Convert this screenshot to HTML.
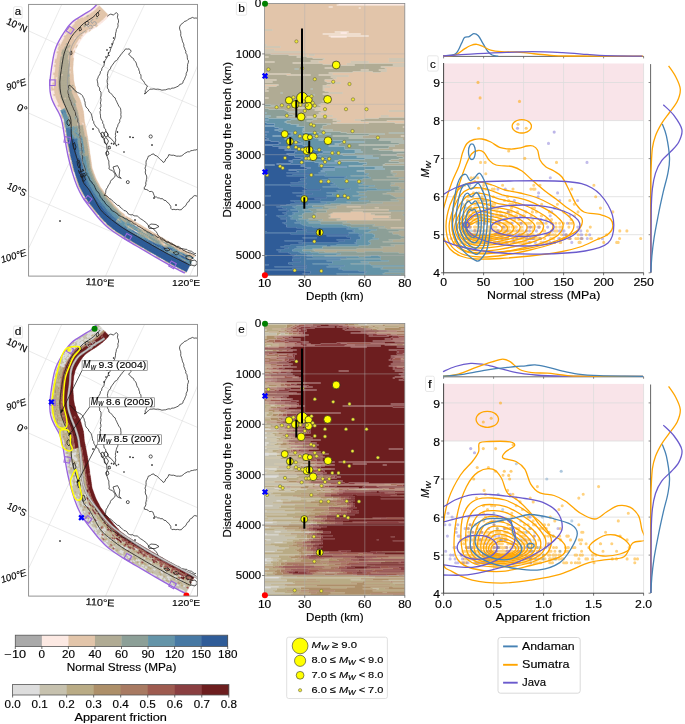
<!DOCTYPE html><html><head><meta charset="utf-8"><style>html,body{margin:0;padding:0;background:#fff;overflow:hidden;width:685px;height:724px;}svg{display:block;will-change:transform;}text{font-family:"Liberation Sans", sans-serif;stroke:#000;stroke-width:0.15px;paint-order:stroke;}</style></head><body>
<svg width="685" height="724" viewBox="0 0 685 724">
<rect width="685" height="724" fill="#fff"/>
<g transform="translate(264.6,3.5) scale(2.00286,0.99926)">
<path fill="#fce9e3" d="M37 0h33v1.1h-33zM36 1h34v1.1h-34zM32 3h2v1.1h-2zM47 4h1v1.1h-1zM35 28h7v1.1h-7zM38 29h3v1.1h-3zM29 30h19v1.1h-19zM32 32h20v1.1h-20zM33 33h8v1.1h-8z"/>
<path fill="#e2c5aa" d="M0 0h37v1.1h-37zM0 1h36v1.1h-36zM0 2h70v1.1h-70zM0 3h32v1.1h-32zM34 3h36v1.1h-36zM0 4h47v1.1h-47zM48 4h22v1.1h-22zM0 5h70v1.1h-70zM0 6h70v1.1h-70zM0 7h70v1.1h-70zM0 8h70v1.1h-70zM0 9h70v1.1h-70zM0 10h70v1.1h-70zM0 11h70v1.1h-70zM0 12h70v1.1h-70zM0 13h70v1.1h-70zM0 14h70v1.1h-70zM0 15h70v1.1h-70zM0 16h70v1.1h-70zM0 17h70v1.1h-70zM0 18h70v1.1h-70zM0 19h70v1.1h-70zM0 20h70v1.1h-70zM0 21h70v1.1h-70zM0 22h70v1.1h-70zM0 23h70v1.1h-70zM0 24h70v1.1h-70zM0 25h70v1.1h-70zM4 26h66v1.1h-66zM0 27h70v1.1h-70zM0 28h35v1.1h-35zM42 28h28v1.1h-28zM0 29h38v1.1h-38zM41 29h29v1.1h-29zM0 30h29v1.1h-29zM48 30h22v1.1h-22zM0 31h70v1.1h-70zM0 32h32v1.1h-32zM52 32h18v1.1h-18zM0 33h33v1.1h-33zM41 33h29v1.1h-29zM0 34h70v1.1h-70zM0 35h70v1.1h-70zM0 36h70v1.1h-70zM0 37h70v1.1h-70zM0 38h70v1.1h-70zM0 39h70v1.1h-70zM0 40h70v1.1h-70zM1 41h69v1.1h-69zM0 42h70v1.1h-70zM8 43h62v1.1h-62zM0 44h70v1.1h-70zM0 45h70v1.1h-70zM5 46h65v1.1h-65zM0 47h70v1.1h-70zM20 48h50v1.1h-50zM0 49h70v1.1h-70zM3 50h67v1.1h-67zM12 51h8v1.1h-8zM21 51h1v1.1h-1zM25 51h45v1.1h-45zM19 52h51v1.1h-51zM0 53h2v1.1h-2zM16 53h2v1.1h-2zM21 53h49v1.1h-49zM24 54h46v1.1h-46zM30 55h32v1.1h-32zM29 56h41v1.1h-41zM23 57h39v1.1h-39zM0 58h5v1.1h-5zM27 58h16v1.1h-16zM52 58h18v1.1h-18zM14 59h56v1.1h-56zM29 60h12v1.1h-12zM36 61h9v1.1h-9zM64 61h6v1.1h-6zM58 63h12v1.1h-12zM30 64h5v1.1h-5zM60 64h10v1.1h-10zM61 65h9v1.1h-9zM48 66h4v1.1h-4zM57 66h13v1.1h-13zM61 67h9v1.1h-9zM44 68h10v1.1h-10zM58 68h12v1.1h-12zM0 69h2v1.1h-2zM32 69h38v1.1h-38zM0 70h13v1.1h-13zM34 70h36v1.1h-36zM11 71h12v1.1h-12zM27 71h43v1.1h-43zM42 72h28v1.1h-28zM33 73h37v1.1h-37zM36 74h34v1.1h-34zM34 75h36v1.1h-36zM0 76h6v1.1h-6zM30 76h40v1.1h-40zM30 77h40v1.1h-40zM0 78h4v1.1h-4zM31 78h39v1.1h-39zM38 79h32v1.1h-32zM33 80h37v1.1h-37zM0 81h7v1.1h-7zM31 81h39v1.1h-39zM0 82h6v1.1h-6zM29 82h41v1.1h-41zM33 83h37v1.1h-37zM0 84h2v1.1h-2zM29 84h41v1.1h-41zM0 85h1v1.1h-1zM30 85h40v1.1h-40zM29 86h41v1.1h-41zM0 87h2v1.1h-2zM30 87h40v1.1h-40zM32 88h38v1.1h-38zM39 89h31v1.1h-31zM29 90h41v1.1h-41zM32 91h38v1.1h-38zM32 92h38v1.1h-38zM31 93h39v1.1h-39zM0 94h2v1.1h-2zM31 94h39v1.1h-39zM32 95h38v1.1h-38zM30 96h40v1.1h-40zM29 97h41v1.1h-41zM31 98h39v1.1h-39zM32 99h38v1.1h-38zM28 100h42v1.1h-42zM27 101h43v1.1h-43zM28 102h42v1.1h-42zM28 103h42v1.1h-42zM14 104h56v1.1h-56zM27 105h43v1.1h-43zM25 106h45v1.1h-45zM28 107h34v1.1h-34zM31 108h39v1.1h-39zM27 109h43v1.1h-43zM28 110h42v1.1h-42zM25 111h45v1.1h-45zM34 112h24v1.1h-24zM62 112h8v1.1h-8zM21 113h49v1.1h-49zM31 114h26v1.1h-26zM36 115h14v1.1h-14zM34 116h11v1.1h-11zM38 117h10v1.1h-10zM61 117h9v1.1h-9zM36 118h34v1.1h-34zM34 119h18v1.1h-18zM65 119h5v1.1h-5zM69 123h1v1.1h-1zM68 132h2v1.1h-2zM64 146h6v1.1h-6zM41 203h7v1.1h-7zM55 204h2v1.1h-2zM44 206h18v1.1h-18zM43 208h6v1.1h-6zM34 209h29v1.1h-29zM33 210h20v1.1h-20zM32 211h23v1.1h-23zM33 212h30v1.1h-30zM33 213h29v1.1h-29zM32 214h31v1.1h-31zM38 215h16v1.1h-16zM36 216h32v1.1h-32zM63 224h7v1.1h-7z"/>
<path fill="#b0ab94" d="M0 26h4v1.1h-4zM0 41h1v1.1h-1zM0 43h8v1.1h-8zM0 46h5v1.1h-5zM0 48h20v1.1h-20zM0 50h3v1.1h-3zM0 51h12v1.1h-12zM20 51h1v1.1h-1zM22 51h3v1.1h-3zM0 52h19v1.1h-19zM2 53h14v1.1h-14zM18 53h3v1.1h-3zM0 54h24v1.1h-24zM0 55h30v1.1h-30zM62 55h8v1.1h-8zM0 56h29v1.1h-29zM0 57h23v1.1h-23zM62 57h8v1.1h-8zM5 58h22v1.1h-22zM43 58h9v1.1h-9zM0 59h14v1.1h-14zM0 60h29v1.1h-29zM41 60h29v1.1h-29zM0 61h36v1.1h-36zM45 61h19v1.1h-19zM0 62h70v1.1h-70zM0 63h58v1.1h-58zM0 64h30v1.1h-30zM35 64h25v1.1h-25zM0 65h15v1.1h-15zM17 65h44v1.1h-44zM0 66h48v1.1h-48zM52 66h5v1.1h-5zM0 67h61v1.1h-61zM0 68h44v1.1h-44zM54 68h4v1.1h-4zM2 69h30v1.1h-30zM13 70h21v1.1h-21zM0 71h11v1.1h-11zM23 71h4v1.1h-4zM0 72h42v1.1h-42zM0 73h33v1.1h-33zM0 74h36v1.1h-36zM0 75h34v1.1h-34zM6 76h24v1.1h-24zM0 77h30v1.1h-30zM4 78h27v1.1h-27zM0 79h38v1.1h-38zM0 80h33v1.1h-33zM7 81h24v1.1h-24zM6 82h23v1.1h-23zM0 83h33v1.1h-33zM2 84h27v1.1h-27zM1 85h22v1.1h-22zM24 85h6v1.1h-6zM0 86h29v1.1h-29zM2 87h28v1.1h-28zM0 88h32v1.1h-32zM0 89h8v1.1h-8zM9 89h30v1.1h-30zM0 90h29v1.1h-29zM0 91h19v1.1h-19zM25 91h7v1.1h-7zM0 92h32v1.1h-32zM0 93h31v1.1h-31zM2 94h29v1.1h-29zM0 95h32v1.1h-32zM0 96h30v1.1h-30zM0 97h29v1.1h-29zM0 98h31v1.1h-31zM0 99h32v1.1h-32zM0 100h28v1.1h-28zM3 101h24v1.1h-24zM7 102h21v1.1h-21zM0 103h28v1.1h-28zM0 104h14v1.1h-14zM2 105h25v1.1h-25zM10 106h15v1.1h-15zM11 107h17v1.1h-17zM62 107h8v1.1h-8zM17 108h14v1.1h-14zM12 109h15v1.1h-15zM12 110h16v1.1h-16zM14 111h11v1.1h-11zM19 112h15v1.1h-15zM58 112h4v1.1h-4zM6 113h15v1.1h-15zM11 114h20v1.1h-20zM57 114h13v1.1h-13zM26 115h10v1.1h-10zM50 115h20v1.1h-20zM24 116h10v1.1h-10zM45 116h25v1.1h-25zM21 117h17v1.1h-17zM48 117h13v1.1h-13zM23 118h13v1.1h-13zM23 119h11v1.1h-11zM52 119h13v1.1h-13zM33 120h37v1.1h-37zM31 121h39v1.1h-39zM29 122h41v1.1h-41zM29 123h40v1.1h-40zM29 124h41v1.1h-41zM28 125h42v1.1h-42zM34 126h36v1.1h-36zM30 127h40v1.1h-40zM38 128h32v1.1h-32zM41 129h21v1.1h-21zM60 130h10v1.1h-10zM52 131h18v1.1h-18zM34 132h34v1.1h-34zM49 133h21v1.1h-21zM42 134h28v1.1h-28zM69 135h1v1.1h-1zM57 136h13v1.1h-13zM63 138h7v1.1h-7zM67 140h3v1.1h-3zM47 141h23v1.1h-23zM65 142h5v1.1h-5zM62 143h8v1.1h-8zM62 144h8v1.1h-8zM54 145h16v1.1h-16zM57 146h7v1.1h-7zM64 147h6v1.1h-6zM66 150h4v1.1h-4zM58 151h12v1.1h-12zM66 152h4v1.1h-4zM69 153h1v1.1h-1zM67 155h3v1.1h-3zM63 156h7v1.1h-7zM62 157h8v1.1h-8zM67 158h3v1.1h-3zM60 160h10v1.1h-10zM59 161h11v1.1h-11zM63 167h7v1.1h-7zM64 168h6v1.1h-6zM63 169h7v1.1h-7zM66 170h4v1.1h-4zM64 171h6v1.1h-6zM65 172h5v1.1h-5zM61 173h9v1.1h-9zM67 175h3v1.1h-3zM54 176h16v1.1h-16zM63 179h7v1.1h-7zM65 180h5v1.1h-5zM63 181h7v1.1h-7zM63 182h7v1.1h-7zM67 183h3v1.1h-3zM68 184h2v1.1h-2zM67 185h3v1.1h-3zM65 187h5v1.1h-5zM69 188h1v1.1h-1zM61 189h9v1.1h-9zM59 190h11v1.1h-11zM63 191h7v1.1h-7zM64 192h6v1.1h-6zM65 193h5v1.1h-5zM66 195h4v1.1h-4zM63 196h7v1.1h-7zM67 197h3v1.1h-3zM53 198h17v1.1h-17zM59 199h11v1.1h-11zM51 200h19v1.1h-19zM38 201h32v1.1h-32zM36 202h34v1.1h-34zM30 203h11v1.1h-11zM48 203h22v1.1h-22zM36 204h19v1.1h-19zM57 204h13v1.1h-13zM32 205h38v1.1h-38zM26 206h18v1.1h-18zM62 206h8v1.1h-8zM31 207h31v1.1h-31zM31 208h12v1.1h-12zM49 208h21v1.1h-21zM26 209h8v1.1h-8zM63 209h7v1.1h-7zM25 210h8v1.1h-8zM53 210h17v1.1h-17zM26 211h6v1.1h-6zM55 211h14v1.1h-14zM24 212h9v1.1h-9zM63 212h7v1.1h-7zM26 213h7v1.1h-7zM62 213h8v1.1h-8zM24 214h8v1.1h-8zM63 214h7v1.1h-7zM22 215h16v1.1h-16zM54 215h16v1.1h-16zM29 216h7v1.1h-7zM68 216h2v1.1h-2zM27 217h43v1.1h-43zM41 218h29v1.1h-29zM39 219h31v1.1h-31zM43 220h27v1.1h-27zM55 221h15v1.1h-15zM54 222h16v1.1h-16zM60 223h10v1.1h-10zM57 224h6v1.1h-6zM61 225h9v1.1h-9zM67 227h3v1.1h-3zM62 228h8v1.1h-8zM64 229h6v1.1h-6zM64 230h6v1.1h-6zM67 231h3v1.1h-3zM68 232h2v1.1h-2zM68 235h2v1.1h-2zM62 236h8v1.1h-8zM64 237h6v1.1h-6zM59 238h11v1.1h-11zM63 241h7v1.1h-7zM65 242h5v1.1h-5zM58 243h12v1.1h-12zM59 244h11v1.1h-11zM46 245h24v1.1h-24zM24 246h46v1.1h-46zM25 247h45v1.1h-45zM30 248h6v1.1h-6zM46 248h4v1.1h-4zM59 248h11v1.1h-11zM67 249h3v1.1h-3z"/>
<path fill="#8c9f97" d="M15 65h2v1.1h-2zM23 85h1v1.1h-1zM8 89h1v1.1h-1zM19 91h6v1.1h-6zM0 101h3v1.1h-3zM0 102h7v1.1h-7zM0 105h2v1.1h-2zM0 106h10v1.1h-10zM0 107h11v1.1h-11zM0 108h17v1.1h-17zM1 109h11v1.1h-11zM0 110h12v1.1h-12zM0 111h14v1.1h-14zM3 112h16v1.1h-16zM0 113h6v1.1h-6zM2 114h9v1.1h-9zM17 115h9v1.1h-9zM13 116h11v1.1h-11zM11 117h10v1.1h-10zM10 118h13v1.1h-13zM11 119h12v1.1h-12zM13 120h20v1.1h-20zM17 121h14v1.1h-14zM16 122h13v1.1h-13zM20 123h9v1.1h-9zM20 124h9v1.1h-9zM19 125h9v1.1h-9zM20 126h14v1.1h-14zM19 127h11v1.1h-11zM19 128h19v1.1h-19zM27 129h14v1.1h-14zM62 129h8v1.1h-8zM33 130h27v1.1h-27zM27 131h25v1.1h-25zM18 132h16v1.1h-16zM24 133h25v1.1h-25zM25 134h17v1.1h-17zM32 135h37v1.1h-37zM27 136h30v1.1h-30zM40 137h30v1.1h-30zM50 138h13v1.1h-13zM38 139h32v1.1h-32zM35 140h32v1.1h-32zM37 141h10v1.1h-10zM32 142h33v1.1h-33zM40 143h22v1.1h-22zM40 144h22v1.1h-22zM40 145h14v1.1h-14zM48 146h9v1.1h-9zM45 147h19v1.1h-19zM49 148h21v1.1h-21zM45 149h25v1.1h-25zM37 150h29v1.1h-29zM39 151h19v1.1h-19zM54 152h12v1.1h-12zM46 153h23v1.1h-23zM57 154h13v1.1h-13zM50 155h17v1.1h-17zM37 156h26v1.1h-26zM35 157h27v1.1h-27zM47 158h20v1.1h-20zM51 159h19v1.1h-19zM51 160h9v1.1h-9zM49 161h10v1.1h-10zM42 162h28v1.1h-28zM59 163h11v1.1h-11zM55 164h15v1.1h-15zM60 165h10v1.1h-10zM50 166h20v1.1h-20zM46 167h17v1.1h-17zM50 168h14v1.1h-14zM50 169h13v1.1h-13zM52 170h14v1.1h-14zM51 171h13v1.1h-13zM43 172h22v1.1h-22zM52 173h9v1.1h-9zM53 174h17v1.1h-17zM49 175h18v1.1h-18zM40 176h14v1.1h-14zM47 177h23v1.1h-23zM46 178h24v1.1h-24zM50 179h13v1.1h-13zM49 180h16v1.1h-16zM47 181h16v1.1h-16zM55 182h8v1.1h-8zM52 183h15v1.1h-15zM47 184h21v1.1h-21zM56 185h11v1.1h-11zM63 186h7v1.1h-7zM51 187h14v1.1h-14zM46 188h23v1.1h-23zM47 189h14v1.1h-14zM50 190h9v1.1h-9zM47 191h16v1.1h-16zM44 192h20v1.1h-20zM51 193h14v1.1h-14zM48 194h22v1.1h-22zM47 195h19v1.1h-19zM47 196h16v1.1h-16zM52 197h15v1.1h-15zM41 198h12v1.1h-12zM43 199h16v1.1h-16zM33 200h18v1.1h-18zM30 201h8v1.1h-8zM24 202h12v1.1h-12zM24 203h6v1.1h-6zM29 204h7v1.1h-7zM22 205h10v1.1h-10zM19 206h7v1.1h-7zM23 207h8v1.1h-8zM62 207h8v1.1h-8zM24 208h7v1.1h-7zM20 209h6v1.1h-6zM19 210h6v1.1h-6zM19 211h7v1.1h-7zM69 211h1v1.1h-1zM17 212h7v1.1h-7zM19 213h7v1.1h-7zM19 214h5v1.1h-5zM17 215h5v1.1h-5zM22 216h7v1.1h-7zM21 217h6v1.1h-6zM28 218h13v1.1h-13zM22 219h17v1.1h-17zM28 220h15v1.1h-15zM39 221h16v1.1h-16zM41 222h13v1.1h-13zM43 223h17v1.1h-17zM52 224h5v1.1h-5zM47 225h14v1.1h-14zM56 226h14v1.1h-14zM53 227h14v1.1h-14zM52 228h10v1.1h-10zM50 229h14v1.1h-14zM54 230h10v1.1h-10zM55 231h12v1.1h-12zM55 232h13v1.1h-13zM55 233h15v1.1h-15zM54 234h16v1.1h-16zM57 235h11v1.1h-11zM53 236h9v1.1h-9zM52 237h12v1.1h-12zM52 238h7v1.1h-7zM53 239h17v1.1h-17zM53 240h17v1.1h-17zM52 241h11v1.1h-11zM47 242h18v1.1h-18zM29 243h29v1.1h-29zM29 244h30v1.1h-30zM24 245h22v1.1h-22zM19 246h5v1.1h-5zM19 247h6v1.1h-6zM23 248h7v1.1h-7zM36 248h10v1.1h-10zM50 248h9v1.1h-9zM27 249h40v1.1h-40zM38 250h32v1.1h-32zM36 251h34v1.1h-34zM30 252h23v1.1h-23zM57 252h13v1.1h-13zM47 253h3v1.1h-3zM58 253h12v1.1h-12zM58 254h12v1.1h-12zM38 255h32v1.1h-32zM58 256h12v1.1h-12zM62 257h8v1.1h-8zM48 258h22v1.1h-22zM52 259h18v1.1h-18zM43 260h27v1.1h-27zM53 261h17v1.1h-17zM54 263h16v1.1h-16zM59 264h11v1.1h-11zM58 265h12v1.1h-12zM62 267h8v1.1h-8zM60 269h10v1.1h-10zM59 270h11v1.1h-11zM68 271h2v1.1h-2z"/>
<path fill="#6494a8" d="M0 109h1v1.1h-1zM0 112h3v1.1h-3zM0 114h2v1.1h-2zM0 115h17v1.1h-17zM2 116h11v1.1h-11zM0 117h11v1.1h-11zM0 118h10v1.1h-10zM1 119h10v1.1h-10zM5 120h8v1.1h-8zM5 121h12v1.1h-12zM0 122h16v1.1h-16zM5 123h15v1.1h-15zM7 124h13v1.1h-13zM9 125h10v1.1h-10zM5 126h15v1.1h-15zM7 127h12v1.1h-12zM9 128h10v1.1h-10zM14 129h13v1.1h-13zM13 130h20v1.1h-20zM14 131h13v1.1h-13zM4 132h14v1.1h-14zM10 133h14v1.1h-14zM12 134h13v1.1h-13zM10 135h22v1.1h-22zM13 136h14v1.1h-14zM17 137h23v1.1h-23zM18 138h32v1.1h-32zM19 139h19v1.1h-19zM15 140h20v1.1h-20zM19 141h18v1.1h-18zM21 142h11v1.1h-11zM21 143h19v1.1h-19zM21 144h19v1.1h-19zM22 145h18v1.1h-18zM25 146h23v1.1h-23zM29 147h16v1.1h-16zM35 148h14v1.1h-14zM29 149h16v1.1h-16zM27 150h10v1.1h-10zM25 151h14v1.1h-14zM25 152h29v1.1h-29zM28 153h18v1.1h-18zM31 154h26v1.1h-26zM31 155h19v1.1h-19zM22 156h15v1.1h-15zM20 157h15v1.1h-15zM25 158h22v1.1h-22zM37 159h14v1.1h-14zM27 160h24v1.1h-24zM28 161h21v1.1h-21zM27 162h15v1.1h-15zM41 163h18v1.1h-18zM35 164h20v1.1h-20zM29 165h31v1.1h-31zM35 166h15v1.1h-15zM28 167h18v1.1h-18zM30 168h20v1.1h-20zM27 169h23v1.1h-23zM31 170h21v1.1h-21zM25 171h26v1.1h-26zM30 172h13v1.1h-13zM41 173h11v1.1h-11zM40 174h13v1.1h-13zM32 175h17v1.1h-17zM28 176h12v1.1h-12zM33 177h14v1.1h-14zM28 178h18v1.1h-18zM34 179h16v1.1h-16zM35 180h14v1.1h-14zM33 181h14v1.1h-14zM36 182h19v1.1h-19zM29 183h23v1.1h-23zM37 184h10v1.1h-10zM43 185h13v1.1h-13zM40 186h23v1.1h-23zM36 187h15v1.1h-15zM37 188h9v1.1h-9zM31 189h16v1.1h-16zM34 190h16v1.1h-16zM34 191h13v1.1h-13zM31 192h13v1.1h-13zM41 193h10v1.1h-10zM41 194h7v1.1h-7zM36 195h11v1.1h-11zM36 196h11v1.1h-11zM35 197h17v1.1h-17zM28 198h13v1.1h-13zM31 199h12v1.1h-12zM22 200h11v1.1h-11zM22 201h8v1.1h-8zM16 202h8v1.1h-8zM14 203h10v1.1h-10zM15 204h14v1.1h-14zM16 205h6v1.1h-6zM13 206h6v1.1h-6zM17 207h6v1.1h-6zM17 208h7v1.1h-7zM14 209h6v1.1h-6zM15 210h4v1.1h-4zM14 211h5v1.1h-5zM12 212h5v1.1h-5zM13 213h6v1.1h-6zM14 214h5v1.1h-5zM13 215h4v1.1h-4zM16 216h6v1.1h-6zM16 217h5v1.1h-5zM18 218h10v1.1h-10zM15 219h7v1.1h-7zM18 220h10v1.1h-10zM19 221h20v1.1h-20zM21 222h20v1.1h-20zM24 223h19v1.1h-19zM42 224h10v1.1h-10zM41 225h6v1.1h-6zM45 226h11v1.1h-11zM44 227h9v1.1h-9zM45 228h7v1.1h-7zM42 229h8v1.1h-8zM47 230h7v1.1h-7zM49 231h6v1.1h-6zM47 232h8v1.1h-8zM48 233h7v1.1h-7zM48 234h6v1.1h-6zM48 235h9v1.1h-9zM46 236h7v1.1h-7zM46 237h6v1.1h-6zM46 238h6v1.1h-6zM45 239h8v1.1h-8zM46 240h7v1.1h-7zM36 241h16v1.1h-16zM21 242h10v1.1h-10zM33 242h14v1.1h-14zM16 243h13v1.1h-13zM19 244h10v1.1h-10zM15 245h9v1.1h-9zM14 246h5v1.1h-5zM14 247h5v1.1h-5zM17 248h6v1.1h-6zM18 249h9v1.1h-9zM21 250h17v1.1h-17zM24 251h12v1.1h-12zM21 252h9v1.1h-9zM53 252h4v1.1h-4zM24 253h23v1.1h-23zM50 253h8v1.1h-8zM41 254h17v1.1h-17zM21 255h17v1.1h-17zM38 256h20v1.1h-20zM31 257h31v1.1h-31zM34 258h14v1.1h-14zM34 259h18v1.1h-18zM24 260h19v1.1h-19zM32 261h21v1.1h-21zM40 262h30v1.1h-30zM31 263h23v1.1h-23zM38 264h21v1.1h-21zM37 265h21v1.1h-21zM39 266h31v1.1h-31zM47 267h15v1.1h-15zM51 268h19v1.1h-19zM50 269h10v1.1h-10zM36 270h23v1.1h-23zM42 271h26v1.1h-26z"/>
<path fill="#4779a4" d="M0 116h2v1.1h-2zM0 119h1v1.1h-1zM0 120h5v1.1h-5zM0 121h5v1.1h-5zM0 123h5v1.1h-5zM0 124h7v1.1h-7zM0 125h9v1.1h-9zM0 126h5v1.1h-5zM0 127h7v1.1h-7zM2 128h7v1.1h-7zM0 129h14v1.1h-14zM0 130h13v1.1h-13zM1 131h13v1.1h-13zM0 132h4v1.1h-4zM0 133h10v1.1h-10zM1 134h11v1.1h-11zM2 135h8v1.1h-8zM0 136h13v1.1h-13zM3 137h14v1.1h-14zM7 138h11v1.1h-11zM8 139h11v1.1h-11zM7 140h8v1.1h-8zM0 141h19v1.1h-19zM4 142h17v1.1h-17zM12 143h9v1.1h-9zM7 144h14v1.1h-14zM13 145h9v1.1h-9zM10 146h15v1.1h-15zM16 147h13v1.1h-13zM15 148h20v1.1h-20zM15 149h14v1.1h-14zM11 150h16v1.1h-16zM12 151h13v1.1h-13zM15 152h10v1.1h-10zM15 153h13v1.1h-13zM19 154h12v1.1h-12zM18 155h13v1.1h-13zM14 156h8v1.1h-8zM12 157h8v1.1h-8zM14 158h11v1.1h-11zM13 159h24v1.1h-24zM6 160h21v1.1h-21zM0 161h5v1.1h-5zM20 161h8v1.1h-8zM18 162h9v1.1h-9zM20 163h21v1.1h-21zM23 164h12v1.1h-12zM21 165h8v1.1h-8zM12 166h23v1.1h-23zM16 167h12v1.1h-12zM17 168h13v1.1h-13zM11 169h16v1.1h-16zM24 170h7v1.1h-7zM14 171h11v1.1h-11zM11 172h19v1.1h-19zM20 173h21v1.1h-21zM21 174h19v1.1h-19zM18 175h14v1.1h-14zM18 176h10v1.1h-10zM20 177h13v1.1h-13zM17 178h11v1.1h-11zM13 179h21v1.1h-21zM21 180h14v1.1h-14zM0 181h33v1.1h-33zM13 182h23v1.1h-23zM19 183h10v1.1h-10zM20 184h17v1.1h-17zM21 185h22v1.1h-22zM28 186h12v1.1h-12zM19 187h17v1.1h-17zM20 188h17v1.1h-17zM14 189h17v1.1h-17zM24 190h10v1.1h-10zM19 191h15v1.1h-15zM0 192h3v1.1h-3zM16 192h15v1.1h-15zM18 193h23v1.1h-23zM31 194h10v1.1h-10zM25 195h11v1.1h-11zM28 196h8v1.1h-8zM13 197h22v1.1h-22zM15 198h13v1.1h-13zM18 199h13v1.1h-13zM13 200h9v1.1h-9zM11 201h11v1.1h-11zM8 202h8v1.1h-8zM6 203h8v1.1h-8zM9 204h6v1.1h-6zM11 205h5v1.1h-5zM7 206h6v1.1h-6zM12 207h5v1.1h-5zM11 208h6v1.1h-6zM9 209h5v1.1h-5zM11 210h4v1.1h-4zM0 211h1v1.1h-1zM10 211h4v1.1h-4zM6 212h6v1.1h-6zM7 213h6v1.1h-6zM11 214h3v1.1h-3zM8 215h5v1.1h-5zM11 216h5v1.1h-5zM11 217h5v1.1h-5zM11 218h7v1.1h-7zM9 219h6v1.1h-6zM10 220h8v1.1h-8zM11 221h8v1.1h-8zM11 222h10v1.1h-10zM11 223h13v1.1h-13zM16 224h26v1.1h-26zM19 225h22v1.1h-22zM21 226h24v1.1h-24zM16 227h28v1.1h-28zM0 228h1v1.1h-1zM16 228h5v1.1h-5zM28 228h17v1.1h-17zM0 229h42v1.1h-42zM13 230h34v1.1h-34zM42 231h7v1.1h-7zM31 232h16v1.1h-16zM41 233h7v1.1h-7zM19 234h7v1.1h-7zM43 234h5v1.1h-5zM43 235h5v1.1h-5zM36 236h10v1.1h-10zM10 237h9v1.1h-9zM40 237h6v1.1h-6zM37 238h9v1.1h-9zM17 239h28v1.1h-28zM19 240h27v1.1h-27zM13 241h23v1.1h-23zM10 242h11v1.1h-11zM31 242h2v1.1h-2zM8 243h8v1.1h-8zM12 244h7v1.1h-7zM10 245h5v1.1h-5zM6 246h8v1.1h-8zM8 247h6v1.1h-6zM7 248h10v1.1h-10zM12 249h6v1.1h-6zM13 250h8v1.1h-8zM16 251h8v1.1h-8zM0 252h1v1.1h-1zM15 252h6v1.1h-6zM14 253h10v1.1h-10zM18 254h23v1.1h-23zM14 255h7v1.1h-7zM14 256h24v1.1h-24zM14 257h17v1.1h-17zM18 258h16v1.1h-16zM12 259h22v1.1h-22zM12 260h12v1.1h-12zM0 261h2v1.1h-2zM14 261h18v1.1h-18zM21 262h19v1.1h-19zM5 263h26v1.1h-26zM21 264h17v1.1h-17zM14 265h23v1.1h-23zM0 266h39v1.1h-39zM20 267h27v1.1h-27zM23 268h28v1.1h-28zM23 269h27v1.1h-27zM19 270h17v1.1h-17zM22 271h20v1.1h-20z"/>
<path fill="#2f5c98" d="M0 128h2v1.1h-2zM0 131h1v1.1h-1zM0 134h1v1.1h-1zM0 135h2v1.1h-2zM0 137h3v1.1h-3zM0 138h7v1.1h-7zM0 139h8v1.1h-8zM0 140h7v1.1h-7zM0 142h4v1.1h-4zM0 143h12v1.1h-12zM0 144h7v1.1h-7zM0 145h13v1.1h-13zM0 146h10v1.1h-10zM0 147h16v1.1h-16zM0 148h15v1.1h-15zM0 149h15v1.1h-15zM0 150h11v1.1h-11zM0 151h12v1.1h-12zM0 152h15v1.1h-15zM0 153h15v1.1h-15zM0 154h19v1.1h-19zM0 155h18v1.1h-18zM0 156h14v1.1h-14zM0 157h12v1.1h-12zM0 158h14v1.1h-14zM0 159h13v1.1h-13zM0 160h6v1.1h-6zM5 161h15v1.1h-15zM0 162h18v1.1h-18zM0 163h20v1.1h-20zM0 164h23v1.1h-23zM0 165h21v1.1h-21zM0 166h12v1.1h-12zM0 167h16v1.1h-16zM0 168h17v1.1h-17zM0 169h11v1.1h-11zM0 170h24v1.1h-24zM0 171h14v1.1h-14zM0 172h11v1.1h-11zM0 173h20v1.1h-20zM0 174h21v1.1h-21zM0 175h18v1.1h-18zM0 176h18v1.1h-18zM0 177h20v1.1h-20zM0 178h17v1.1h-17zM0 179h13v1.1h-13zM0 180h21v1.1h-21zM0 182h13v1.1h-13zM0 183h19v1.1h-19zM0 184h20v1.1h-20zM0 185h21v1.1h-21zM0 186h28v1.1h-28zM0 187h19v1.1h-19zM0 188h20v1.1h-20zM0 189h14v1.1h-14zM0 190h24v1.1h-24zM0 191h19v1.1h-19zM3 192h13v1.1h-13zM0 193h18v1.1h-18zM0 194h31v1.1h-31zM0 195h25v1.1h-25zM0 196h28v1.1h-28zM0 197h13v1.1h-13zM0 198h15v1.1h-15zM0 199h18v1.1h-18zM0 200h13v1.1h-13zM0 201h11v1.1h-11zM0 202h8v1.1h-8zM0 203h6v1.1h-6zM0 204h9v1.1h-9zM0 205h11v1.1h-11zM0 206h7v1.1h-7zM0 207h12v1.1h-12zM0 208h11v1.1h-11zM0 209h9v1.1h-9zM0 210h11v1.1h-11zM1 211h9v1.1h-9zM0 212h6v1.1h-6zM0 213h7v1.1h-7zM0 214h11v1.1h-11zM0 215h8v1.1h-8zM0 216h11v1.1h-11zM0 217h11v1.1h-11zM0 218h11v1.1h-11zM0 219h9v1.1h-9zM0 220h10v1.1h-10zM0 221h11v1.1h-11zM0 222h11v1.1h-11zM0 223h11v1.1h-11zM0 224h16v1.1h-16zM0 225h19v1.1h-19zM0 226h21v1.1h-21zM0 227h16v1.1h-16zM1 228h15v1.1h-15zM21 228h7v1.1h-7zM0 230h13v1.1h-13zM0 231h42v1.1h-42zM0 232h31v1.1h-31zM0 233h41v1.1h-41zM0 234h19v1.1h-19zM26 234h17v1.1h-17zM0 235h43v1.1h-43zM0 236h36v1.1h-36zM0 237h10v1.1h-10zM19 237h21v1.1h-21zM0 238h37v1.1h-37zM0 239h17v1.1h-17zM0 240h19v1.1h-19zM0 241h13v1.1h-13zM0 242h10v1.1h-10zM0 243h8v1.1h-8zM0 244h12v1.1h-12zM0 245h10v1.1h-10zM0 246h6v1.1h-6zM0 247h8v1.1h-8zM0 248h7v1.1h-7zM0 249h12v1.1h-12zM0 250h13v1.1h-13zM0 251h16v1.1h-16zM1 252h14v1.1h-14zM0 253h14v1.1h-14zM0 254h18v1.1h-18zM0 255h14v1.1h-14zM0 256h14v1.1h-14zM0 257h14v1.1h-14zM0 258h18v1.1h-18zM0 259h12v1.1h-12zM0 260h12v1.1h-12zM2 261h12v1.1h-12zM0 262h21v1.1h-21zM0 263h5v1.1h-5zM0 264h21v1.1h-21zM0 265h14v1.1h-14zM0 267h20v1.1h-20zM0 268h23v1.1h-23zM0 269h23v1.1h-23zM0 270h19v1.1h-19zM0 271h22v1.1h-22z"/>
</g>
<line x1="304.7" y1="3.5" x2="304.7" y2="275.3" stroke="#b0b0b0" stroke-opacity="0.55" stroke-width="0.8"/>
<line x1="364.8" y1="3.5" x2="364.8" y2="275.3" stroke="#b0b0b0" stroke-opacity="0.55" stroke-width="0.8"/>
<line x1="264.6" y1="53.9" x2="404.8" y2="53.9" stroke="#b0b0b0" stroke-opacity="0.55" stroke-width="0.8"/>
<line x1="264.6" y1="104.3" x2="404.8" y2="104.3" stroke="#b0b0b0" stroke-opacity="0.55" stroke-width="0.8"/>
<line x1="264.6" y1="154.7" x2="404.8" y2="154.7" stroke="#b0b0b0" stroke-opacity="0.55" stroke-width="0.8"/>
<line x1="264.6" y1="205.1" x2="404.8" y2="205.1" stroke="#b0b0b0" stroke-opacity="0.55" stroke-width="0.8"/>
<line x1="264.6" y1="255.5" x2="404.8" y2="255.5" stroke="#b0b0b0" stroke-opacity="0.55" stroke-width="0.8"/>
<circle cx="302.2" cy="97.9" r="5.6" fill="#ffff00" stroke="#222" stroke-width="0.7"/>
<circle cx="336.2" cy="65.0" r="3.9" fill="#ffff00" stroke="#222" stroke-width="0.7"/>
<circle cx="327.6" cy="99.4" r="3.9" fill="#ffff00" stroke="#222" stroke-width="0.7"/>
<circle cx="301.1" cy="116.9" r="3.9" fill="#ffff00" stroke="#222" stroke-width="0.7"/>
<circle cx="328" cy="140.7" r="3.9" fill="#ffff00" stroke="#222" stroke-width="0.7"/>
<circle cx="306.9" cy="150.7" r="3.9" fill="#ffff00" stroke="#222" stroke-width="0.7"/>
<circle cx="313.1" cy="156.8" r="3.9" fill="#ffff00" stroke="#222" stroke-width="0.7"/>
<circle cx="295.2" cy="104.4" r="3.8" fill="#ffff00" stroke="#222" stroke-width="0.7"/>
<circle cx="289" cy="100.3" r="3.6" fill="#ffff00" stroke="#222" stroke-width="0.7"/>
<circle cx="308.6" cy="99.7" r="3.6" fill="#ffff00" stroke="#222" stroke-width="0.7"/>
<circle cx="308.6" cy="106.1" r="3.6" fill="#ffff00" stroke="#222" stroke-width="0.7"/>
<circle cx="284.7" cy="134.1" r="3.5" fill="#ffff00" stroke="#222" stroke-width="0.7"/>
<circle cx="306" cy="137.2" r="3.5" fill="#ffff00" stroke="#222" stroke-width="0.7"/>
<circle cx="289.9" cy="141.4" r="3.5" fill="#ffff00" stroke="#222" stroke-width="0.7"/>
<circle cx="309.5" cy="149.8" r="3.5" fill="#ffff00" stroke="#222" stroke-width="0.7"/>
<circle cx="304.3" cy="199.1" r="3.5" fill="#ffff00" stroke="#222" stroke-width="0.7"/>
<circle cx="319.7" cy="232.4" r="3.5" fill="#ffff00" stroke="#222" stroke-width="0.7"/>
<circle cx="309.9" cy="137.2" r="2.5" fill="#ffff00" stroke="#222" stroke-width="0.7"/>
<circle cx="296.4" cy="41.4" r="1.65" fill="#eee63c" stroke="#4a4a30" stroke-opacity="0.75" stroke-width="0.6"/>
<circle cx="268.4" cy="69.4" r="1.65" fill="#eee63c" stroke="#4a4a30" stroke-opacity="0.75" stroke-width="0.6"/>
<circle cx="302.2" cy="68.2" r="1.65" fill="#eee63c" stroke="#4a4a30" stroke-opacity="0.75" stroke-width="0.6"/>
<circle cx="314.8" cy="79.2" r="1.65" fill="#eee63c" stroke="#4a4a30" stroke-opacity="0.75" stroke-width="0.6"/>
<circle cx="333.2" cy="81.8" r="1.65" fill="#eee63c" stroke="#4a4a30" stroke-opacity="0.75" stroke-width="0.6"/>
<circle cx="349.5" cy="84.0" r="1.65" fill="#eee63c" stroke="#4a4a30" stroke-opacity="0.75" stroke-width="0.6"/>
<circle cx="353" cy="99.4" r="1.65" fill="#eee63c" stroke="#4a4a30" stroke-opacity="0.75" stroke-width="0.6"/>
<circle cx="276.6" cy="107.2" r="1.65" fill="#eee63c" stroke="#4a4a30" stroke-opacity="0.75" stroke-width="0.6"/>
<circle cx="281.9" cy="105.3" r="1.65" fill="#eee63c" stroke="#4a4a30" stroke-opacity="0.75" stroke-width="0.6"/>
<circle cx="288.5" cy="106.9" r="1.65" fill="#eee63c" stroke="#4a4a30" stroke-opacity="0.75" stroke-width="0.6"/>
<circle cx="314.8" cy="105.7" r="1.65" fill="#eee63c" stroke="#4a4a30" stroke-opacity="0.75" stroke-width="0.6"/>
<circle cx="325" cy="109.2" r="1.65" fill="#eee63c" stroke="#4a4a30" stroke-opacity="0.75" stroke-width="0.6"/>
<circle cx="346" cy="109.2" r="1.65" fill="#eee63c" stroke="#4a4a30" stroke-opacity="0.75" stroke-width="0.6"/>
<circle cx="366.5" cy="109.2" r="1.65" fill="#eee63c" stroke="#4a4a30" stroke-opacity="0.75" stroke-width="0.6"/>
<circle cx="304.8" cy="110.9" r="1.65" fill="#eee63c" stroke="#4a4a30" stroke-opacity="0.75" stroke-width="0.6"/>
<circle cx="286.8" cy="115.7" r="1.65" fill="#eee63c" stroke="#4a4a30" stroke-opacity="0.75" stroke-width="0.6"/>
<circle cx="314.8" cy="116.0" r="1.65" fill="#eee63c" stroke="#4a4a30" stroke-opacity="0.75" stroke-width="0.6"/>
<circle cx="325" cy="116.5" r="1.65" fill="#eee63c" stroke="#4a4a30" stroke-opacity="0.75" stroke-width="0.6"/>
<circle cx="311" cy="124.4" r="1.65" fill="#eee63c" stroke="#4a4a30" stroke-opacity="0.75" stroke-width="0.6"/>
<circle cx="313.9" cy="125.6" r="1.65" fill="#eee63c" stroke="#4a4a30" stroke-opacity="0.75" stroke-width="0.6"/>
<circle cx="352.5" cy="131.1" r="1.65" fill="#eee63c" stroke="#4a4a30" stroke-opacity="0.75" stroke-width="0.6"/>
<circle cx="295.2" cy="132.7" r="1.65" fill="#eee63c" stroke="#4a4a30" stroke-opacity="0.75" stroke-width="0.6"/>
<circle cx="299.9" cy="136.2" r="1.65" fill="#eee63c" stroke="#4a4a30" stroke-opacity="0.75" stroke-width="0.6"/>
<circle cx="314.8" cy="132.8" r="1.65" fill="#eee63c" stroke="#4a4a30" stroke-opacity="0.75" stroke-width="0.6"/>
<circle cx="323.6" cy="132.7" r="1.65" fill="#eee63c" stroke="#4a4a30" stroke-opacity="0.75" stroke-width="0.6"/>
<circle cx="316.6" cy="136.2" r="1.65" fill="#eee63c" stroke="#4a4a30" stroke-opacity="0.75" stroke-width="0.6"/>
<circle cx="377.9" cy="137.6" r="1.65" fill="#eee63c" stroke="#4a4a30" stroke-opacity="0.75" stroke-width="0.6"/>
<circle cx="344.2" cy="141.9" r="1.65" fill="#eee63c" stroke="#4a4a30" stroke-opacity="0.75" stroke-width="0.6"/>
<circle cx="349.3" cy="146.0" r="1.65" fill="#eee63c" stroke="#4a4a30" stroke-opacity="0.75" stroke-width="0.6"/>
<circle cx="295.9" cy="142.3" r="1.65" fill="#eee63c" stroke="#4a4a30" stroke-opacity="0.75" stroke-width="0.6"/>
<circle cx="288.5" cy="147.2" r="1.65" fill="#eee63c" stroke="#4a4a30" stroke-opacity="0.75" stroke-width="0.6"/>
<circle cx="295.9" cy="147.2" r="1.65" fill="#eee63c" stroke="#4a4a30" stroke-opacity="0.75" stroke-width="0.6"/>
<circle cx="299" cy="149.0" r="1.65" fill="#eee63c" stroke="#4a4a30" stroke-opacity="0.75" stroke-width="0.6"/>
<circle cx="302.5" cy="149.5" r="1.65" fill="#eee63c" stroke="#4a4a30" stroke-opacity="0.75" stroke-width="0.6"/>
<circle cx="319.2" cy="149.8" r="1.65" fill="#eee63c" stroke="#4a4a30" stroke-opacity="0.75" stroke-width="0.6"/>
<circle cx="332.3" cy="153.0" r="1.65" fill="#eee63c" stroke="#4a4a30" stroke-opacity="0.75" stroke-width="0.6"/>
<circle cx="338.5" cy="153.0" r="1.65" fill="#eee63c" stroke="#4a4a30" stroke-opacity="0.75" stroke-width="0.6"/>
<circle cx="285" cy="157.9" r="1.65" fill="#eee63c" stroke="#4a4a30" stroke-opacity="0.75" stroke-width="0.6"/>
<circle cx="301.7" cy="162.3" r="1.65" fill="#eee63c" stroke="#4a4a30" stroke-opacity="0.75" stroke-width="0.6"/>
<circle cx="306" cy="158.4" r="1.65" fill="#eee63c" stroke="#4a4a30" stroke-opacity="0.75" stroke-width="0.6"/>
<circle cx="308.7" cy="158.4" r="1.65" fill="#eee63c" stroke="#4a4a30" stroke-opacity="0.75" stroke-width="0.6"/>
<circle cx="322.7" cy="158.8" r="1.65" fill="#eee63c" stroke="#4a4a30" stroke-opacity="0.75" stroke-width="0.6"/>
<circle cx="329.2" cy="158.8" r="1.65" fill="#eee63c" stroke="#4a4a30" stroke-opacity="0.75" stroke-width="0.6"/>
<circle cx="325" cy="161.9" r="1.65" fill="#eee63c" stroke="#4a4a30" stroke-opacity="0.75" stroke-width="0.6"/>
<circle cx="339.3" cy="162.8" r="1.65" fill="#eee63c" stroke="#4a4a30" stroke-opacity="0.75" stroke-width="0.6"/>
<circle cx="321.5" cy="165.8" r="1.65" fill="#eee63c" stroke="#4a4a30" stroke-opacity="0.75" stroke-width="0.6"/>
<circle cx="280.1" cy="166.3" r="1.65" fill="#eee63c" stroke="#4a4a30" stroke-opacity="0.75" stroke-width="0.6"/>
<circle cx="282.7" cy="168.0" r="1.65" fill="#eee63c" stroke="#4a4a30" stroke-opacity="0.75" stroke-width="0.6"/>
<circle cx="267.2" cy="175.0" r="1.65" fill="#eee63c" stroke="#4a4a30" stroke-opacity="0.75" stroke-width="0.6"/>
<circle cx="311.3" cy="175.0" r="1.65" fill="#eee63c" stroke="#4a4a30" stroke-opacity="0.75" stroke-width="0.6"/>
<circle cx="321" cy="181.5" r="1.65" fill="#eee63c" stroke="#4a4a30" stroke-opacity="0.75" stroke-width="0.6"/>
<circle cx="328.5" cy="181.5" r="1.65" fill="#eee63c" stroke="#4a4a30" stroke-opacity="0.75" stroke-width="0.6"/>
<circle cx="346.7" cy="181.2" r="1.65" fill="#eee63c" stroke="#4a4a30" stroke-opacity="0.75" stroke-width="0.6"/>
<circle cx="359" cy="181.5" r="1.65" fill="#eee63c" stroke="#4a4a30" stroke-opacity="0.75" stroke-width="0.6"/>
<circle cx="337.9" cy="195.9" r="1.65" fill="#eee63c" stroke="#4a4a30" stroke-opacity="0.75" stroke-width="0.6"/>
<circle cx="344.6" cy="195.9" r="1.65" fill="#eee63c" stroke="#4a4a30" stroke-opacity="0.75" stroke-width="0.6"/>
<circle cx="348.1" cy="197.7" r="1.65" fill="#eee63c" stroke="#4a4a30" stroke-opacity="0.75" stroke-width="0.6"/>
<circle cx="313.9" cy="216.6" r="1.65" fill="#eee63c" stroke="#4a4a30" stroke-opacity="0.75" stroke-width="0.6"/>
<circle cx="314.3" cy="241.5" r="1.65" fill="#eee63c" stroke="#4a4a30" stroke-opacity="0.75" stroke-width="0.6"/>
<circle cx="294.7" cy="270.4" r="1.65" fill="#eee63c" stroke="#4a4a30" stroke-opacity="0.75" stroke-width="0.6"/>
<circle cx="321.3" cy="271.0" r="1.65" fill="#eee63c" stroke="#4a4a30" stroke-opacity="0.75" stroke-width="0.6"/>
<circle cx="293.4" cy="97.3" r="1.65" fill="#eee63c" stroke="#4a4a30" stroke-opacity="0.75" stroke-width="0.6"/>
<circle cx="311.5" cy="96.2" r="1.65" fill="#eee63c" stroke="#4a4a30" stroke-opacity="0.75" stroke-width="0.6"/>
<circle cx="312.7" cy="102.9" r="1.65" fill="#eee63c" stroke="#4a4a30" stroke-opacity="0.75" stroke-width="0.6"/>
<circle cx="306.9" cy="104.9" r="1.65" fill="#eee63c" stroke="#4a4a30" stroke-opacity="0.75" stroke-width="0.6"/>
<circle cx="300.4" cy="104.9" r="1.65" fill="#eee63c" stroke="#4a4a30" stroke-opacity="0.75" stroke-width="0.6"/>
<circle cx="303.5" cy="101.5" r="1.65" fill="#eee63c" stroke="#4a4a30" stroke-opacity="0.75" stroke-width="0.6"/>
<line x1="302" y1="28.4" x2="302" y2="103" stroke="#000" stroke-width="2"/>
<line x1="296.3" y1="100" x2="296.3" y2="117.5" stroke="#000" stroke-width="2"/>
<line x1="290.3" y1="137.2" x2="290.3" y2="145.4" stroke="#000" stroke-width="2"/>
<line x1="309.2" y1="140.7" x2="309.2" y2="153.3" stroke="#000" stroke-width="2"/>
<line x1="304.3" y1="197.3" x2="304.3" y2="208.7" stroke="#000" stroke-width="2"/>
<line x1="319.7" y1="229.5" x2="319.7" y2="235" stroke="#000" stroke-width="2"/>
<rect x="264.6" y="3.5" width="140.2" height="271.8" fill="none" stroke="#888" stroke-width="0.8"/>
<line x1="264.6" y1="275.3" x2="264.6" y2="277.8" stroke="#555" stroke-width="0.7"/>
<text transform="translate(264.60,286.80)" x="-6.68" y="0" font-size="10.5" textLength="13.36" lengthAdjust="spacingAndGlyphs" fill="#000" >10</text>
<line x1="304.7" y1="275.3" x2="304.7" y2="277.8" stroke="#555" stroke-width="0.7"/>
<text transform="translate(304.66,286.80)" x="-6.68" y="0" font-size="10.5" textLength="13.36" lengthAdjust="spacingAndGlyphs" fill="#000" >30</text>
<line x1="364.7" y1="275.3" x2="364.7" y2="277.8" stroke="#555" stroke-width="0.7"/>
<text transform="translate(364.74,286.80)" x="-6.68" y="0" font-size="10.5" textLength="13.36" lengthAdjust="spacingAndGlyphs" fill="#000" >60</text>
<line x1="404.8" y1="275.3" x2="404.8" y2="277.8" stroke="#555" stroke-width="0.7"/>
<text transform="translate(404.80,286.80)" x="-6.68" y="0" font-size="10.5" textLength="13.36" lengthAdjust="spacingAndGlyphs" fill="#000" >80</text>
<line x1="262.1" y1="3.5" x2="264.6" y2="3.5" stroke="#555" stroke-width="0.7"/>
<text transform="translate(261.20,7.30)" x="-6.50" y="0" font-size="10.5" textLength="6.50" lengthAdjust="spacingAndGlyphs" fill="#000" >0</text>
<line x1="262.1" y1="53.9" x2="264.6" y2="53.9" stroke="#555" stroke-width="0.7"/>
<text transform="translate(261.20,57.70)" x="-25.40" y="0" font-size="10.5" textLength="25.40" lengthAdjust="spacingAndGlyphs" fill="#000" >1000</text>
<line x1="262.1" y1="104.3" x2="264.6" y2="104.3" stroke="#555" stroke-width="0.7"/>
<text transform="translate(261.20,108.10)" x="-25.40" y="0" font-size="10.5" textLength="25.40" lengthAdjust="spacingAndGlyphs" fill="#000" >2000</text>
<line x1="262.1" y1="154.7" x2="264.6" y2="154.7" stroke="#555" stroke-width="0.7"/>
<text transform="translate(261.20,158.50)" x="-25.40" y="0" font-size="10.5" textLength="25.40" lengthAdjust="spacingAndGlyphs" fill="#000" >3000</text>
<line x1="262.1" y1="205.1" x2="264.6" y2="205.1" stroke="#555" stroke-width="0.7"/>
<text transform="translate(261.20,208.90)" x="-25.40" y="0" font-size="10.5" textLength="25.40" lengthAdjust="spacingAndGlyphs" fill="#000" >4000</text>
<line x1="262.1" y1="255.5" x2="264.6" y2="255.5" stroke="#555" stroke-width="0.7"/>
<text transform="translate(261.20,259.30)" x="-25.40" y="0" font-size="10.5" textLength="25.40" lengthAdjust="spacingAndGlyphs" fill="#000" >5000</text>
<text transform="translate(334.80,300.30)" x="-28.75" y="0" font-size="10.4" textLength="57.50" lengthAdjust="spacingAndGlyphs" fill="#000" >Depth (km)</text>
<text transform="translate(231.00,139.80) rotate(-90)" x="-77.80" y="0" font-size="10.5" textLength="155.60" lengthAdjust="spacingAndGlyphs" fill="#000" >Distance along the trench (km)</text>
<circle cx="265" cy="3.7" r="3" fill="#008000"/>
<circle cx="264.9" cy="275.3" r="3" fill="#ff0000"/>
<path d="M262.7 73.6l4.6 4.6M262.7 78.2l4.6 -4.6" stroke="#0000ff" stroke-width="2.3"/>
<path d="M262.7 169.7l4.6 4.6M262.7 174.3l4.6 -4.6" stroke="#0000ff" stroke-width="2.3"/>
<g transform="translate(264.6,323.5) scale(2.00286,0.99926)">
<path fill="#dddddd" d="M50 0h1v1.1h-1zM7 11h1v1.1h-1zM0 105h3v1.1h-3zM0 109h1v1.1h-1zM0 113h1v1.1h-1zM0 114h1v1.1h-1zM0 119h2v1.1h-2zM0 121h1v1.1h-1zM0 124h1v1.1h-1zM0 129h2v1.1h-2zM0 130h7v1.1h-7zM0 131h2v1.1h-2zM18 141h3v1.1h-3zM0 145h6v1.1h-6zM0 149h1v1.1h-1zM0 152h7v1.1h-7zM0 153h6v1.1h-6zM25 161h2v1.1h-2zM5 164h4v1.1h-4zM0 165h1v1.1h-1zM0 166h1v1.1h-1zM0 171h1v1.1h-1zM0 173h2v1.1h-2zM31 175h2v1.1h-2zM6 177h3v1.1h-3zM0 182h4v1.1h-4zM0 187h1v1.1h-1zM0 198h6v1.1h-6zM0 199h4v1.1h-4zM22 200h2v1.1h-2zM0 204h2v1.1h-2zM5 208h3v1.1h-3zM20 208h3v1.1h-3zM0 210h1v1.1h-1zM0 211h7v1.1h-7zM20 215h2v1.1h-2zM0 216h3v1.1h-3zM5 219h4v1.1h-4zM0 228h5v1.1h-5zM20 231h4v1.1h-4zM0 235h4v1.1h-4zM0 236h1v1.1h-1zM0 237h4v1.1h-4zM0 240h1v1.1h-1zM0 249h1v1.1h-1zM0 253h8v1.1h-8zM0 254h7v1.1h-7zM0 263h7v1.1h-7zM0 264h3v1.1h-3z"/>
<path fill="#c6c1ae" d="M0 0h12v1.1h-12zM16 0h2v1.1h-2zM47 0h3v1.1h-3zM53 0h14v1.1h-14zM47 1h6v1.1h-6zM0 6h1v1.1h-1zM0 9h6v1.1h-6zM8 9h2v1.1h-2zM0 10h6v1.1h-6zM8 10h2v1.1h-2zM0 11h6v1.1h-6zM8 11h4v1.1h-4zM1 22h2v1.1h-2zM0 27h1v1.1h-1zM0 56h4v1.1h-4zM0 63h3v1.1h-3zM6 75h3v1.1h-3zM3 81h2v1.1h-2zM0 89h2v1.1h-2zM5 89h4v1.1h-4zM0 91h1v1.1h-1zM0 93h3v1.1h-3zM0 99h1v1.1h-1zM0 102h3v1.1h-3zM3 105h4v1.1h-4zM0 106h5v1.1h-5zM0 108h7v1.1h-7zM1 109h3v1.1h-3zM0 110h3v1.1h-3zM0 111h5v1.1h-5zM1 113h7v1.1h-7zM1 114h5v1.1h-5zM0 115h1v1.1h-1zM0 116h7v1.1h-7zM0 117h3v1.1h-3zM0 118h9v1.1h-9zM2 119h4v1.1h-4zM0 120h3v1.1h-3zM1 121h4v1.1h-4zM0 122h8v1.1h-8zM13 122h4v1.1h-4zM1 124h7v1.1h-7zM0 125h11v1.1h-11zM14 125h3v1.1h-3zM0 126h2v1.1h-2zM0 127h4v1.1h-4zM2 129h4v1.1h-4zM7 130h5v1.1h-5zM2 131h4v1.1h-4zM0 132h6v1.1h-6zM0 133h9v1.1h-9zM0 135h8v1.1h-8zM0 136h13v1.1h-13zM0 137h11v1.1h-11zM0 138h12v1.1h-12zM0 139h13v1.1h-13zM0 140h5v1.1h-5zM0 141h16v1.1h-16zM21 141h4v1.1h-4zM0 142h14v1.1h-14zM0 144h12v1.1h-12zM6 145h8v1.1h-8zM2 146h4v1.1h-4zM0 147h5v1.1h-5zM0 148h1v1.1h-1zM1 149h17v1.1h-17zM0 151h7v1.1h-7zM7 152h10v1.1h-10zM6 153h10v1.1h-10zM0 154h10v1.1h-10zM0 155h10v1.1h-10zM0 156h11v1.1h-11zM0 157h5v1.1h-5zM0 159h9v1.1h-9zM0 160h19v1.1h-19zM0 161h24v1.1h-24zM27 161h4v1.1h-4zM0 164h5v1.1h-5zM9 164h4v1.1h-4zM1 165h20v1.1h-20zM27 165h1v1.1h-1zM48 165h3v1.1h-3zM1 166h6v1.1h-6zM15 166h1v1.1h-1zM10 167h3v1.1h-3zM0 168h15v1.1h-15zM29 168h4v1.1h-4zM0 169h4v1.1h-4zM0 170h3v1.1h-3zM1 171h7v1.1h-7zM0 172h5v1.1h-5zM2 173h14v1.1h-14zM0 174h18v1.1h-18zM0 175h29v1.1h-29zM33 175h3v1.1h-3zM0 176h8v1.1h-8zM12 176h6v1.1h-6zM0 177h6v1.1h-6zM9 177h4v1.1h-4zM21 177h4v1.1h-4zM0 178h9v1.1h-9zM0 179h4v1.1h-4zM0 180h20v1.1h-20zM0 181h15v1.1h-15zM4 182h4v1.1h-4zM0 183h8v1.1h-8zM32 183h1v1.1h-1zM0 184h7v1.1h-7zM0 185h15v1.1h-15zM1 187h9v1.1h-9zM0 188h21v1.1h-21zM0 189h15v1.1h-15zM0 191h11v1.1h-11zM0 193h1v1.1h-1zM0 194h14v1.1h-14zM2 195h20v1.1h-20zM25 195h1v1.1h-1zM0 196h4v1.1h-4zM6 198h15v1.1h-15zM23 198h1v1.1h-1zM4 199h9v1.1h-9zM0 200h22v1.1h-22zM24 200h2v1.1h-2zM0 201h6v1.1h-6zM0 203h3v1.1h-3zM2 204h9v1.1h-9zM5 206h10v1.1h-10zM0 207h11v1.1h-11zM0 208h5v1.1h-5zM8 208h12v1.1h-12zM23 208h2v1.1h-2zM0 209h19v1.1h-19zM20 209h3v1.1h-3zM1 210h6v1.1h-6zM7 211h9v1.1h-9zM0 212h10v1.1h-10zM0 213h16v1.1h-16zM0 214h15v1.1h-15zM0 215h20v1.1h-20zM22 215h3v1.1h-3zM3 216h8v1.1h-8zM1 217h13v1.1h-13zM19 217h1v1.1h-1zM0 218h9v1.1h-9zM0 219h5v1.1h-5zM9 219h2v1.1h-2zM0 220h3v1.1h-3zM0 222h5v1.1h-5zM0 223h7v1.1h-7zM0 224h12v1.1h-12zM0 225h10v1.1h-10zM0 226h6v1.1h-6zM0 227h6v1.1h-6zM5 228h4v1.1h-4zM0 231h18v1.1h-18zM24 231h4v1.1h-4zM0 232h7v1.1h-7zM0 233h7v1.1h-7zM0 234h3v1.1h-3zM4 235h4v1.1h-4zM14 235h2v1.1h-2zM1 236h5v1.1h-5zM4 237h3v1.1h-3zM9 237h2v1.1h-2zM0 238h3v1.1h-3zM0 239h3v1.1h-3zM1 240h3v1.1h-3zM0 242h4v1.1h-4zM0 245h2v1.1h-2zM0 246h2v1.1h-2zM1 249h3v1.1h-3zM29 249h1v1.1h-1zM31 249h4v1.1h-4zM0 251h1v1.1h-1zM8 253h8v1.1h-8zM7 254h63v1.1h-63zM0 255h8v1.1h-8zM0 256h11v1.1h-11zM43 256h7v1.1h-7zM0 257h11v1.1h-11zM59 257h11v1.1h-11zM0 259h14v1.1h-14zM64 259h6v1.1h-6zM0 260h15v1.1h-15zM0 261h3v1.1h-3zM0 262h11v1.1h-11zM7 263h13v1.1h-13zM3 264h7v1.1h-7zM0 265h6v1.1h-6zM54 265h3v1.1h-3zM0 266h6v1.1h-6zM0 267h4v1.1h-4zM0 268h5v1.1h-5zM0 269h10v1.1h-10zM0 270h14v1.1h-14z"/>
<path fill="#b9ab85" d="M12 0h4v1.1h-4zM18 0h6v1.1h-6zM45 0h2v1.1h-2zM51 0h2v1.1h-2zM67 0h3v1.1h-3zM0 1h11v1.1h-11zM45 1h2v1.1h-2zM53 1h6v1.1h-6zM0 2h11v1.1h-11zM60 2h10v1.1h-10zM0 3h11v1.1h-11zM52 3h2v1.1h-2zM55 3h12v1.1h-12zM0 4h10v1.1h-10zM52 4h5v1.1h-5zM0 5h4v1.1h-4zM56 5h4v1.1h-4zM1 6h9v1.1h-9zM0 7h7v1.1h-7zM0 8h2v1.1h-2zM6 9h2v1.1h-2zM10 9h2v1.1h-2zM6 10h2v1.1h-2zM10 10h2v1.1h-2zM6 11h1v1.1h-1zM12 11h2v1.1h-2zM0 12h1v1.1h-1zM0 14h1v1.1h-1zM0 20h7v1.1h-7zM0 21h4v1.1h-4zM0 22h1v1.1h-1zM3 22h4v1.1h-4zM0 26h2v1.1h-2zM1 27h3v1.1h-3zM0 43h3v1.1h-3zM0 47h8v1.1h-8zM0 53h3v1.1h-3zM4 56h4v1.1h-4zM0 61h2v1.1h-2zM3 63h5v1.1h-5zM0 66h1v1.1h-1zM4 75h2v1.1h-2zM9 75h1v1.1h-1zM0 78h5v1.1h-5zM0 81h3v1.1h-3zM5 81h3v1.1h-3zM0 82h8v1.1h-8zM0 83h1v1.1h-1zM0 84h3v1.1h-3zM0 86h2v1.1h-2zM0 88h4v1.1h-4zM2 89h3v1.1h-3zM9 89h5v1.1h-5zM0 90h4v1.1h-4zM1 91h3v1.1h-3zM0 92h3v1.1h-3zM3 93h6v1.1h-6zM0 95h3v1.1h-3zM0 96h3v1.1h-3zM0 97h6v1.1h-6zM1 99h2v1.1h-2zM0 100h7v1.1h-7zM9 100h2v1.1h-2zM0 101h4v1.1h-4zM3 102h6v1.1h-6zM0 103h6v1.1h-6zM0 104h2v1.1h-2zM7 105h5v1.1h-5zM5 106h4v1.1h-4zM7 108h8v1.1h-8zM4 109h3v1.1h-3zM13 109h4v1.1h-4zM3 110h3v1.1h-3zM5 111h4v1.1h-4zM0 112h6v1.1h-6zM8 113h5v1.1h-5zM6 114h4v1.1h-4zM1 115h7v1.1h-7zM7 116h9v1.1h-9zM3 117h3v1.1h-3zM9 118h4v1.1h-4zM6 119h3v1.1h-3zM3 120h4v1.1h-4zM5 121h3v1.1h-3zM8 122h5v1.1h-5zM17 122h2v1.1h-2zM0 123h7v1.1h-7zM8 124h5v1.1h-5zM14 124h1v1.1h-1zM11 125h3v1.1h-3zM17 125h3v1.1h-3zM2 126h5v1.1h-5zM4 127h5v1.1h-5zM0 128h6v1.1h-6zM6 129h4v1.1h-4zM12 130h8v1.1h-8zM6 131h6v1.1h-6zM6 132h6v1.1h-6zM9 133h10v1.1h-10zM0 134h12v1.1h-12zM8 135h8v1.1h-8zM13 136h6v1.1h-6zM11 137h5v1.1h-5zM12 138h10v1.1h-10zM13 139h6v1.1h-6zM5 140h11v1.1h-11zM16 141h2v1.1h-2zM25 141h3v1.1h-3zM14 142h4v1.1h-4zM0 143h7v1.1h-7zM12 144h6v1.1h-6zM14 145h11v1.1h-11zM0 146h2v1.1h-2zM6 146h12v1.1h-12zM5 147h10v1.1h-10zM1 148h10v1.1h-10zM18 149h4v1.1h-4zM0 150h7v1.1h-7zM7 151h9v1.1h-9zM17 152h9v1.1h-9zM16 153h8v1.1h-8zM10 154h11v1.1h-11zM22 154h1v1.1h-1zM10 155h7v1.1h-7zM11 156h9v1.1h-9zM5 157h7v1.1h-7zM0 158h5v1.1h-5zM9 159h8v1.1h-8zM19 160h8v1.1h-8zM24 161h1v1.1h-1zM31 161h3v1.1h-3zM0 162h20v1.1h-20zM0 163h5v1.1h-5zM22 163h2v1.1h-2zM13 164h5v1.1h-5zM21 165h6v1.1h-6zM28 165h5v1.1h-5zM45 165h3v1.1h-3zM51 165h6v1.1h-6zM7 166h8v1.1h-8zM16 166h9v1.1h-9zM28 166h1v1.1h-1zM0 167h10v1.1h-10zM13 167h13v1.1h-13zM15 168h14v1.1h-14zM33 168h2v1.1h-2zM4 169h23v1.1h-23zM3 170h15v1.1h-15zM8 171h18v1.1h-18zM5 172h9v1.1h-9zM16 173h11v1.1h-11zM18 174h10v1.1h-10zM29 175h2v1.1h-2zM36 175h2v1.1h-2zM8 176h4v1.1h-4zM18 176h16v1.1h-16zM13 177h8v1.1h-8zM25 177h3v1.1h-3zM9 178h14v1.1h-14zM4 179h5v1.1h-5zM20 180h7v1.1h-7zM15 181h11v1.1h-11zM8 182h19v1.1h-19zM37 182h4v1.1h-4zM8 183h24v1.1h-24zM33 183h4v1.1h-4zM7 184h8v1.1h-8zM15 185h10v1.1h-10zM0 186h24v1.1h-24zM10 187h8v1.1h-8zM21 188h14v1.1h-14zM15 189h8v1.1h-8zM0 190h25v1.1h-25zM11 191h11v1.1h-11zM0 192h19v1.1h-19zM1 193h14v1.1h-14zM14 194h9v1.1h-9zM0 195h2v1.1h-2zM22 195h3v1.1h-3zM26 195h2v1.1h-2zM4 196h16v1.1h-16zM0 197h17v1.1h-17zM21 198h2v1.1h-2zM24 198h2v1.1h-2zM13 199h13v1.1h-13zM26 200h2v1.1h-2zM6 201h6v1.1h-6zM3 203h6v1.1h-6zM11 204h6v1.1h-6zM0 205h10v1.1h-10zM0 206h5v1.1h-5zM15 206h4v1.1h-4zM11 207h7v1.1h-7zM25 208h2v1.1h-2zM19 209h1v1.1h-1zM23 209h2v1.1h-2zM7 210h6v1.1h-6zM16 211h5v1.1h-5zM10 212h8v1.1h-8zM20 212h1v1.1h-1zM16 213h5v1.1h-5zM15 214h6v1.1h-6zM25 215h2v1.1h-2zM11 216h6v1.1h-6zM0 217h1v1.1h-1zM14 217h5v1.1h-5zM20 217h3v1.1h-3zM9 218h6v1.1h-6zM11 219h3v1.1h-3zM3 220h13v1.1h-13zM0 221h14v1.1h-14zM5 222h7v1.1h-7zM7 223h9v1.1h-9zM12 224h6v1.1h-6zM10 225h7v1.1h-7zM6 226h9v1.1h-9zM6 227h10v1.1h-10zM9 228h8v1.1h-8zM19 228h5v1.1h-5zM0 229h18v1.1h-18zM0 230h17v1.1h-17zM18 231h2v1.1h-2zM28 231h6v1.1h-6zM7 232h8v1.1h-8zM7 233h5v1.1h-5zM3 234h10v1.1h-10zM8 235h6v1.1h-6zM16 235h3v1.1h-3zM6 236h9v1.1h-9zM28 236h4v1.1h-4zM7 237h2v1.1h-2zM11 237h7v1.1h-7zM3 238h12v1.1h-12zM3 239h3v1.1h-3zM7 239h1v1.1h-1zM4 240h4v1.1h-4zM0 241h6v1.1h-6zM7 241h1v1.1h-1zM23 241h9v1.1h-9zM4 242h6v1.1h-6zM0 244h4v1.1h-4zM2 245h8v1.1h-8zM2 246h4v1.1h-4zM0 248h5v1.1h-5zM4 249h2v1.1h-2zM27 249h2v1.1h-2zM30 249h1v1.1h-1zM35 249h2v1.1h-2zM0 250h4v1.1h-4zM1 251h4v1.1h-4zM0 252h9v1.1h-9zM16 253h39v1.1h-39zM8 255h40v1.1h-40zM11 256h10v1.1h-10zM26 256h17v1.1h-17zM50 256h4v1.1h-4zM62 256h8v1.1h-8zM11 257h48v1.1h-48zM0 258h15v1.1h-15zM28 258h21v1.1h-21zM14 259h29v1.1h-29zM50 259h14v1.1h-14zM15 260h31v1.1h-31zM50 260h20v1.1h-20zM3 261h7v1.1h-7zM63 261h2v1.1h-2zM11 262h15v1.1h-15zM49 262h21v1.1h-21zM20 263h25v1.1h-25zM64 263h6v1.1h-6zM10 264h8v1.1h-8zM33 264h8v1.1h-8zM53 264h9v1.1h-9zM6 265h12v1.1h-12zM49 265h5v1.1h-5zM57 265h3v1.1h-3zM6 266h16v1.1h-16zM56 266h14v1.1h-14zM4 267h7v1.1h-7zM54 267h16v1.1h-16zM5 268h17v1.1h-17zM10 269h7v1.1h-7zM33 269h7v1.1h-7zM59 269h2v1.1h-2zM14 270h9v1.1h-9zM0 271h13v1.1h-13zM32 271h32v1.1h-32z"/>
<path fill="#ad8f69" d="M24 0h6v1.1h-6zM42 0h3v1.1h-3zM11 1h4v1.1h-4zM42 1h3v1.1h-3zM59 1h11v1.1h-11zM11 2h3v1.1h-3zM45 2h15v1.1h-15zM11 3h2v1.1h-2zM48 3h4v1.1h-4zM54 3h1v1.1h-1zM67 3h3v1.1h-3zM10 4h2v1.1h-2zM49 4h3v1.1h-3zM57 4h13v1.1h-13zM4 5h4v1.1h-4zM54 5h2v1.1h-2zM60 5h8v1.1h-8zM10 6h3v1.1h-3zM54 6h16v1.1h-16zM7 7h4v1.1h-4zM2 8h6v1.1h-6zM12 9h2v1.1h-2zM56 9h14v1.1h-14zM12 10h2v1.1h-2zM14 11h3v1.1h-3zM1 12h6v1.1h-6zM0 13h5v1.1h-5zM1 14h5v1.1h-5zM0 15h6v1.1h-6zM0 16h2v1.1h-2zM69 17h1v1.1h-1zM0 18h1v1.1h-1zM0 19h4v1.1h-4zM7 20h4v1.1h-4zM4 21h3v1.1h-3zM69 21h1v1.1h-1zM7 22h4v1.1h-4zM0 23h2v1.1h-2zM2 26h4v1.1h-4zM4 27h3v1.1h-3zM0 31h1v1.1h-1zM69 32h1v1.1h-1zM0 33h6v1.1h-6zM0 41h3v1.1h-3zM3 43h5v1.1h-5zM0 44h1v1.1h-1zM0 46h3v1.1h-3zM8 47h5v1.1h-5zM0 50h2v1.1h-2zM3 53h3v1.1h-3zM0 54h1v1.1h-1zM8 56h3v1.1h-3zM0 58h1v1.1h-1zM0 59h19v1.1h-19zM2 61h6v1.1h-6zM0 62h6v1.1h-6zM8 63h5v1.1h-5zM1 66h2v1.1h-2zM0 74h1v1.1h-1zM1 75h3v1.1h-3zM10 75h1v1.1h-1zM5 78h2v1.1h-2zM0 80h2v1.1h-2zM8 81h2v1.1h-2zM8 82h5v1.1h-5zM1 83h5v1.1h-5zM3 84h3v1.1h-3zM0 85h2v1.1h-2zM2 86h5v1.1h-5zM0 87h5v1.1h-5zM4 88h4v1.1h-4zM14 89h4v1.1h-4zM4 90h3v1.1h-3zM4 91h3v1.1h-3zM3 92h3v1.1h-3zM9 93h3v1.1h-3zM0 94h7v1.1h-7zM3 95h4v1.1h-4zM3 96h5v1.1h-5zM6 97h4v1.1h-4zM0 98h1v1.1h-1zM3 99h3v1.1h-3zM7 100h2v1.1h-2zM11 100h3v1.1h-3zM4 101h5v1.1h-5zM9 102h3v1.1h-3zM6 103h4v1.1h-4zM2 104h4v1.1h-4zM12 105h3v1.1h-3zM9 106h3v1.1h-3zM0 107h6v1.1h-6zM15 108h2v1.1h-2zM7 109h6v1.1h-6zM17 109h2v1.1h-2zM6 110h3v1.1h-3zM9 111h3v1.1h-3zM6 112h4v1.1h-4zM13 113h2v1.1h-2zM10 114h3v1.1h-3zM8 115h4v1.1h-4zM16 116h4v1.1h-4zM6 117h3v1.1h-3zM13 118h2v1.1h-2zM9 119h3v1.1h-3zM7 120h4v1.1h-4zM8 121h14v1.1h-14zM19 122h2v1.1h-2zM7 123h5v1.1h-5zM13 124h1v1.1h-1zM15 124h3v1.1h-3zM20 125h2v1.1h-2zM7 126h6v1.1h-6zM9 127h4v1.1h-4zM6 128h7v1.1h-7zM10 129h5v1.1h-5zM20 130h4v1.1h-4zM12 131h4v1.1h-4zM12 132h9v1.1h-9zM19 133h4v1.1h-4zM12 134h4v1.1h-4zM16 135h4v1.1h-4zM19 136h2v1.1h-2zM16 137h5v1.1h-5zM22 138h4v1.1h-4zM19 139h3v1.1h-3zM16 140h6v1.1h-6zM28 141h2v1.1h-2zM18 142h4v1.1h-4zM7 143h12v1.1h-12zM18 144h4v1.1h-4zM25 145h4v1.1h-4zM18 146h4v1.1h-4zM15 147h5v1.1h-5zM11 148h8v1.1h-8zM22 149h2v1.1h-2zM7 150h13v1.1h-13zM16 151h5v1.1h-5zM26 152h3v1.1h-3zM24 153h5v1.1h-5zM21 154h1v1.1h-1zM23 154h5v1.1h-5zM17 155h5v1.1h-5zM20 156h3v1.1h-3zM12 157h18v1.1h-18zM5 158h11v1.1h-11zM17 159h5v1.1h-5zM27 160h3v1.1h-3zM34 161h3v1.1h-3zM52 161h11v1.1h-11zM20 162h5v1.1h-5zM5 163h6v1.1h-6zM13 163h9v1.1h-9zM24 163h4v1.1h-4zM18 164h4v1.1h-4zM68 164h2v1.1h-2zM33 165h4v1.1h-4zM42 165h3v1.1h-3zM57 165h3v1.1h-3zM25 166h3v1.1h-3zM29 166h6v1.1h-6zM46 166h6v1.1h-6zM59 166h11v1.1h-11zM26 167h4v1.1h-4zM35 168h2v1.1h-2zM27 169h6v1.1h-6zM18 170h10v1.1h-10zM26 171h4v1.1h-4zM14 172h8v1.1h-8zM27 173h7v1.1h-7zM28 174h6v1.1h-6zM38 175h2v1.1h-2zM34 176h2v1.1h-2zM28 177h3v1.1h-3zM39 177h1v1.1h-1zM23 178h9v1.1h-9zM9 179h29v1.1h-29zM27 180h8v1.1h-8zM26 181h10v1.1h-10zM27 182h5v1.1h-5zM34 182h3v1.1h-3zM41 182h1v1.1h-1zM37 183h2v1.1h-2zM15 184h5v1.1h-5zM25 185h7v1.1h-7zM24 186h8v1.1h-8zM18 187h12v1.1h-12zM35 188h3v1.1h-3zM23 189h5v1.1h-5zM25 190h8v1.1h-8zM22 191h9v1.1h-9zM19 192h7v1.1h-7zM15 193h6v1.1h-6zM23 194h5v1.1h-5zM28 195h1v1.1h-1zM20 196h4v1.1h-4zM17 197h6v1.1h-6zM26 198h3v1.1h-3zM26 199h5v1.1h-5zM28 200h2v1.1h-2zM12 201h8v1.1h-8zM0 202h20v1.1h-20zM9 203h16v1.1h-16zM17 204h4v1.1h-4zM10 205h8v1.1h-8zM19 206h2v1.1h-2zM18 207h4v1.1h-4zM27 208h2v1.1h-2zM25 209h2v1.1h-2zM13 210h7v1.1h-7zM21 211h2v1.1h-2zM18 212h2v1.1h-2zM21 212h4v1.1h-4zM21 213h2v1.1h-2zM21 214h2v1.1h-2zM27 215h1v1.1h-1zM17 216h4v1.1h-4zM23 217h2v1.1h-2zM15 218h4v1.1h-4zM14 219h2v1.1h-2zM16 220h7v1.1h-7zM14 221h5v1.1h-5zM12 222h5v1.1h-5zM16 223h5v1.1h-5zM18 224h3v1.1h-3zM17 225h4v1.1h-4zM15 226h4v1.1h-4zM16 227h5v1.1h-5zM17 228h2v1.1h-2zM24 228h4v1.1h-4zM66 228h4v1.1h-4zM18 229h6v1.1h-6zM17 230h4v1.1h-4zM34 231h7v1.1h-7zM15 232h3v1.1h-3zM12 233h6v1.1h-6zM13 234h4v1.1h-4zM33 234h6v1.1h-6zM59 234h11v1.1h-11zM19 235h3v1.1h-3zM30 235h4v1.1h-4zM53 235h5v1.1h-5zM15 236h13v1.1h-13zM32 236h4v1.1h-4zM18 237h19v1.1h-19zM15 238h13v1.1h-13zM46 238h14v1.1h-14zM6 239h1v1.1h-1zM8 239h2v1.1h-2zM26 239h12v1.1h-12zM8 240h3v1.1h-3zM29 240h2v1.1h-2zM6 241h1v1.1h-1zM8 241h2v1.1h-2zM20 241h3v1.1h-3zM32 241h3v1.1h-3zM10 242h5v1.1h-5zM25 242h16v1.1h-16zM0 243h5v1.1h-5zM4 244h4v1.1h-4zM29 244h4v1.1h-4zM10 245h6v1.1h-6zM6 246h2v1.1h-2zM46 246h4v1.1h-4zM0 247h8v1.1h-8zM5 248h3v1.1h-3zM31 248h1v1.1h-1zM6 249h3v1.1h-3zM25 249h2v1.1h-2zM37 249h2v1.1h-2zM56 249h1v1.1h-1zM68 249h2v1.1h-2zM4 250h5v1.1h-5zM5 251h25v1.1h-25zM35 251h9v1.1h-9zM69 251h1v1.1h-1zM9 252h43v1.1h-43zM62 252h5v1.1h-5zM55 253h15v1.1h-15zM48 255h22v1.1h-22zM21 256h5v1.1h-5zM54 256h8v1.1h-8zM15 258h13v1.1h-13zM49 258h14v1.1h-14zM64 258h6v1.1h-6zM43 259h7v1.1h-7zM46 260h4v1.1h-4zM10 261h53v1.1h-53zM65 261h5v1.1h-5zM26 262h23v1.1h-23zM45 263h19v1.1h-19zM18 264h15v1.1h-15zM41 264h12v1.1h-12zM62 264h8v1.1h-8zM18 265h31v1.1h-31zM60 265h10v1.1h-10zM22 266h34v1.1h-34zM11 267h7v1.1h-7zM35 267h19v1.1h-19zM22 268h48v1.1h-48zM17 269h6v1.1h-6zM26 269h7v1.1h-7zM40 269h19v1.1h-19zM61 269h9v1.1h-9zM23 270h30v1.1h-30zM13 271h19v1.1h-19zM64 271h6v1.1h-6z"/>
<path fill="#a87a62" d="M30 0h9v1.1h-9zM40 0h2v1.1h-2zM15 1h2v1.1h-2zM39 1h3v1.1h-3zM14 2h2v1.1h-2zM22 2h2v1.1h-2zM42 2h3v1.1h-3zM13 3h2v1.1h-2zM45 3h3v1.1h-3zM12 4h2v1.1h-2zM46 4h3v1.1h-3zM8 5h3v1.1h-3zM53 5h1v1.1h-1zM68 5h2v1.1h-2zM13 6h3v1.1h-3zM47 6h7v1.1h-7zM11 7h3v1.1h-3zM66 7h4v1.1h-4zM8 8h4v1.1h-4zM55 8h15v1.1h-15zM14 9h3v1.1h-3zM51 9h5v1.1h-5zM14 10h2v1.1h-2zM63 10h7v1.1h-7zM17 11h2v1.1h-2zM66 11h4v1.1h-4zM7 12h6v1.1h-6zM5 13h1v1.1h-1zM6 14h3v1.1h-3zM6 15h4v1.1h-4zM2 16h3v1.1h-3zM0 17h5v1.1h-5zM64 17h5v1.1h-5zM1 18h4v1.1h-4zM4 19h6v1.1h-6zM11 20h4v1.1h-4zM62 20h8v1.1h-8zM7 21h3v1.1h-3zM66 21h3v1.1h-3zM11 22h4v1.1h-4zM2 23h5v1.1h-5zM6 26h5v1.1h-5zM7 27h2v1.1h-2zM0 29h2v1.1h-2zM5 30h6v1.1h-6zM1 31h6v1.1h-6zM0 32h7v1.1h-7zM66 32h3v1.1h-3zM6 33h5v1.1h-5zM0 34h3v1.1h-3zM69 34h1v1.1h-1zM0 35h6v1.1h-6zM68 35h2v1.1h-2zM2 36h8v1.1h-8zM0 37h9v1.1h-9zM0 38h3v1.1h-3zM0 40h10v1.1h-10zM68 40h2v1.1h-2zM3 41h3v1.1h-3zM0 42h3v1.1h-3zM66 42h4v1.1h-4zM8 43h4v1.1h-4zM1 44h3v1.1h-3zM0 45h2v1.1h-2zM3 46h4v1.1h-4zM13 47h1v1.1h-1zM0 48h3v1.1h-3zM0 49h4v1.1h-4zM2 50h4v1.1h-4zM0 52h3v1.1h-3zM6 53h4v1.1h-4zM69 53h1v1.1h-1zM1 54h3v1.1h-3zM14 54h3v1.1h-3zM11 56h3v1.1h-3zM1 58h4v1.1h-4zM19 59h2v1.1h-2zM0 60h10v1.1h-10zM8 61h2v1.1h-2zM6 62h5v1.1h-5zM13 63h5v1.1h-5zM0 64h2v1.1h-2zM0 65h7v1.1h-7zM3 66h2v1.1h-2zM0 70h14v1.1h-14zM0 72h9v1.1h-9zM1 74h3v1.1h-3zM0 75h1v1.1h-1zM11 75h1v1.1h-1zM0 76h3v1.1h-3zM0 77h1v1.1h-1zM7 78h3v1.1h-3zM0 79h2v1.1h-2zM2 80h4v1.1h-4zM10 81h3v1.1h-3zM13 82h4v1.1h-4zM6 83h4v1.1h-4zM6 84h2v1.1h-2zM2 85h2v1.1h-2zM7 86h4v1.1h-4zM5 87h11v1.1h-11zM8 88h2v1.1h-2zM18 89h1v1.1h-1zM7 90h2v1.1h-2zM7 91h2v1.1h-2zM6 92h2v1.1h-2zM12 93h2v1.1h-2zM7 94h6v1.1h-6zM7 95h2v1.1h-2zM8 96h4v1.1h-4zM10 97h2v1.1h-2zM1 98h7v1.1h-7zM6 99h3v1.1h-3zM14 100h3v1.1h-3zM9 101h1v1.1h-1zM12 102h2v1.1h-2zM10 103h4v1.1h-4zM6 104h4v1.1h-4zM15 105h3v1.1h-3zM12 106h2v1.1h-2zM6 107h5v1.1h-5zM17 108h3v1.1h-3zM19 109h2v1.1h-2zM9 110h2v1.1h-2zM12 111h2v1.1h-2zM10 112h1v1.1h-1zM15 113h2v1.1h-2zM13 114h3v1.1h-3zM12 115h2v1.1h-2zM20 116h4v1.1h-4zM9 117h2v1.1h-2zM15 118h2v1.1h-2zM12 119h8v1.1h-8zM11 120h2v1.1h-2zM22 121h3v1.1h-3zM21 122h1v1.1h-1zM12 123h1v1.1h-1zM18 124h3v1.1h-3zM22 125h2v1.1h-2zM13 126h1v1.1h-1zM13 127h1v1.1h-1zM13 128h8v1.1h-8zM15 129h1v1.1h-1zM24 130h4v1.1h-4zM16 131h3v1.1h-3zM21 132h4v1.1h-4zM23 133h4v1.1h-4zM16 134h2v1.1h-2zM20 135h2v1.1h-2zM21 136h2v1.1h-2zM21 137h2v1.1h-2zM26 138h4v1.1h-4zM22 139h3v1.1h-3zM22 140h4v1.1h-4zM30 141h2v1.1h-2zM22 142h3v1.1h-3zM19 143h2v1.1h-2zM22 144h2v1.1h-2zM29 145h4v1.1h-4zM22 146h2v1.1h-2zM20 147h3v1.1h-3zM19 148h2v1.1h-2zM24 149h2v1.1h-2zM20 150h2v1.1h-2zM21 151h2v1.1h-2zM29 152h3v1.1h-3zM29 153h4v1.1h-4zM28 154h3v1.1h-3zM22 155h3v1.1h-3zM23 156h3v1.1h-3zM30 157h7v1.1h-7zM16 158h6v1.1h-6zM22 159h2v1.1h-2zM30 160h3v1.1h-3zM60 160h10v1.1h-10zM37 161h15v1.1h-15zM63 161h3v1.1h-3zM25 162h3v1.1h-3zM11 163h2v1.1h-2zM28 163h2v1.1h-2zM22 164h15v1.1h-15zM65 164h3v1.1h-3zM37 165h5v1.1h-5zM60 165h2v1.1h-2zM35 166h4v1.1h-4zM41 166h5v1.1h-5zM52 166h7v1.1h-7zM30 167h4v1.1h-4zM37 168h2v1.1h-2zM46 168h4v1.1h-4zM33 169h3v1.1h-3zM62 169h4v1.1h-4zM28 170h2v1.1h-2zM30 171h3v1.1h-3zM22 172h8v1.1h-8zM68 172h2v1.1h-2zM34 173h4v1.1h-4zM34 174h3v1.1h-3zM40 175h2v1.1h-2zM36 176h2v1.1h-2zM31 177h1v1.1h-1zM33 177h6v1.1h-6zM40 177h2v1.1h-2zM32 178h4v1.1h-4zM38 179h2v1.1h-2zM35 180h6v1.1h-6zM36 181h5v1.1h-5zM32 182h2v1.1h-2zM42 182h1v1.1h-1zM39 183h3v1.1h-3zM20 184h12v1.1h-12zM32 185h3v1.1h-3zM32 186h6v1.1h-6zM30 187h8v1.1h-8zM38 188h3v1.1h-3zM28 189h4v1.1h-4zM33 190h3v1.1h-3zM31 191h7v1.1h-7zM26 192h1v1.1h-1zM21 193h4v1.1h-4zM28 194h3v1.1h-3zM29 195h2v1.1h-2zM45 195h13v1.1h-13zM24 196h6v1.1h-6zM23 197h2v1.1h-2zM29 198h3v1.1h-3zM31 199h5v1.1h-5zM30 200h3v1.1h-3zM20 201h2v1.1h-2zM20 202h1v1.1h-1zM25 203h2v1.1h-2zM21 204h1v1.1h-1zM18 205h3v1.1h-3zM21 206h2v1.1h-2zM22 207h3v1.1h-3zM27 209h2v1.1h-2zM20 210h2v1.1h-2zM23 211h2v1.1h-2zM25 212h4v1.1h-4zM23 213h2v1.1h-2zM23 214h2v1.1h-2zM21 216h1v1.1h-1zM25 217h2v1.1h-2zM19 218h1v1.1h-1zM16 219h3v1.1h-3zM23 220h2v1.1h-2zM19 221h5v1.1h-5zM17 222h2v1.1h-2zM21 223h3v1.1h-3zM21 224h2v1.1h-2zM21 225h2v1.1h-2zM19 226h2v1.1h-2zM21 227h3v1.1h-3zM28 228h4v1.1h-4zM59 228h7v1.1h-7zM24 229h6v1.1h-6zM21 230h3v1.1h-3zM47 230h2v1.1h-2zM41 231h29v1.1h-29zM18 232h3v1.1h-3zM47 232h1v1.1h-1zM18 233h4v1.1h-4zM62 233h8v1.1h-8zM17 234h2v1.1h-2zM29 234h4v1.1h-4zM39 234h4v1.1h-4zM54 234h5v1.1h-5zM22 235h8v1.1h-8zM34 235h19v1.1h-19zM58 235h12v1.1h-12zM36 236h4v1.1h-4zM37 237h7v1.1h-7zM52 237h18v1.1h-18zM28 238h4v1.1h-4zM41 238h5v1.1h-5zM60 238h4v1.1h-4zM10 239h16v1.1h-16zM38 239h4v1.1h-4zM11 240h18v1.1h-18zM31 240h10v1.1h-10zM10 241h4v1.1h-4zM17 241h3v1.1h-3zM35 241h3v1.1h-3zM15 242h10v1.1h-10zM41 242h14v1.1h-14zM5 243h2v1.1h-2zM30 243h7v1.1h-7zM8 244h2v1.1h-2zM23 244h6v1.1h-6zM33 244h4v1.1h-4zM16 245h19v1.1h-19zM53 245h11v1.1h-11zM8 246h2v1.1h-2zM27 246h19v1.1h-19zM50 246h5v1.1h-5zM8 247h6v1.1h-6zM8 248h2v1.1h-2zM26 248h5v1.1h-5zM32 248h8v1.1h-8zM9 249h3v1.1h-3zM23 249h2v1.1h-2zM39 249h2v1.1h-2zM53 249h3v1.1h-3zM57 249h11v1.1h-11zM9 250h5v1.1h-5zM24 250h12v1.1h-12zM30 251h5v1.1h-5zM44 251h2v1.1h-2zM66 251h3v1.1h-3zM52 252h10v1.1h-10zM67 252h3v1.1h-3zM63 258h1v1.1h-1zM18 267h17v1.1h-17zM23 269h3v1.1h-3zM53 270h17v1.1h-17z"/>
<path fill="#9e5b50" d="M39 0h1v1.1h-1zM17 1h3v1.1h-3zM37 1h2v1.1h-2zM16 2h6v1.1h-6zM24 2h2v1.1h-2zM39 2h3v1.1h-3zM15 3h3v1.1h-3zM41 3h4v1.1h-4zM14 4h2v1.1h-2zM44 4h2v1.1h-2zM11 5h6v1.1h-6zM51 5h2v1.1h-2zM16 6h2v1.1h-2zM43 6h4v1.1h-4zM14 7h3v1.1h-3zM61 7h5v1.1h-5zM12 8h5v1.1h-5zM52 8h3v1.1h-3zM17 9h2v1.1h-2zM48 9h3v1.1h-3zM16 10h2v1.1h-2zM56 10h7v1.1h-7zM19 11h1v1.1h-1zM61 11h5v1.1h-5zM13 12h5v1.1h-5zM67 12h3v1.1h-3zM6 13h4v1.1h-4zM67 13h3v1.1h-3zM9 14h3v1.1h-3zM10 15h4v1.1h-4zM64 15h6v1.1h-6zM5 16h3v1.1h-3zM5 17h5v1.1h-5zM59 17h5v1.1h-5zM5 18h7v1.1h-7zM68 18h2v1.1h-2zM10 19h6v1.1h-6zM38 19h15v1.1h-15zM15 20h3v1.1h-3zM41 20h21v1.1h-21zM10 21h5v1.1h-5zM21 21h4v1.1h-4zM63 21h3v1.1h-3zM15 22h4v1.1h-4zM40 22h11v1.1h-11zM7 23h4v1.1h-4zM2 24h8v1.1h-8zM11 26h3v1.1h-3zM9 27h3v1.1h-3zM2 29h2v1.1h-2zM2 30h3v1.1h-3zM11 30h3v1.1h-3zM69 30h1v1.1h-1zM7 31h5v1.1h-5zM7 32h7v1.1h-7zM64 32h2v1.1h-2zM11 33h3v1.1h-3zM3 34h4v1.1h-4zM65 34h4v1.1h-4zM6 35h6v1.1h-6zM64 35h4v1.1h-4zM0 36h2v1.1h-2zM10 36h2v1.1h-2zM64 36h6v1.1h-6zM9 37h2v1.1h-2zM3 38h4v1.1h-4zM68 38h2v1.1h-2zM0 39h2v1.1h-2zM10 40h3v1.1h-3zM64 40h4v1.1h-4zM6 41h3v1.1h-3zM3 42h6v1.1h-6zM64 42h2v1.1h-2zM12 43h2v1.1h-2zM66 43h4v1.1h-4zM4 44h3v1.1h-3zM69 44h1v1.1h-1zM2 45h4v1.1h-4zM7 46h5v1.1h-5zM68 47h2v1.1h-2zM3 48h5v1.1h-5zM4 49h3v1.1h-3zM6 50h5v1.1h-5zM3 52h8v1.1h-8zM10 53h6v1.1h-6zM68 53h1v1.1h-1zM4 54h10v1.1h-10zM14 56h4v1.1h-4zM0 57h3v1.1h-3zM5 58h3v1.1h-3zM10 60h3v1.1h-3zM10 61h3v1.1h-3zM11 62h6v1.1h-6zM18 63h3v1.1h-3zM2 64h4v1.1h-4zM7 65h3v1.1h-3zM5 66h2v1.1h-2zM13 66h6v1.1h-6zM0 67h6v1.1h-6zM0 69h6v1.1h-6zM14 70h3v1.1h-3zM9 72h1v1.1h-1zM0 73h5v1.1h-5zM4 74h4v1.1h-4zM12 75h1v1.1h-1zM3 76h5v1.1h-5zM1 77h7v1.1h-7zM10 78h3v1.1h-3zM2 79h3v1.1h-3zM6 80h6v1.1h-6zM13 81h3v1.1h-3zM10 83h3v1.1h-3zM8 84h2v1.1h-2zM4 85h3v1.1h-3zM11 86h4v1.1h-4zM16 87h2v1.1h-2zM10 88h1v1.1h-1zM9 90h2v1.1h-2zM9 91h2v1.1h-2zM8 92h3v1.1h-3zM14 93h2v1.1h-2zM13 94h3v1.1h-3zM9 95h4v1.1h-4zM12 96h3v1.1h-3zM12 97h1v1.1h-1zM17 100h2v1.1h-2zM10 101h7v1.1h-7zM14 102h8v1.1h-8zM14 103h3v1.1h-3zM18 105h2v1.1h-2zM14 106h3v1.1h-3zM20 108h2v1.1h-2zM21 109h1v1.1h-1zM14 111h3v1.1h-3zM11 112h3v1.1h-3zM17 113h3v1.1h-3zM16 114h4v1.1h-4zM14 115h3v1.1h-3zM11 117h1v1.1h-1zM17 118h3v1.1h-3zM20 119h5v1.1h-5zM13 120h2v1.1h-2zM22 122h3v1.1h-3zM13 123h3v1.1h-3zM21 124h3v1.1h-3zM24 125h2v1.1h-2zM14 126h3v1.1h-3zM14 127h2v1.1h-2zM21 128h5v1.1h-5zM16 129h5v1.1h-5zM19 131h2v1.1h-2zM25 132h3v1.1h-3zM27 133h2v1.1h-2zM18 134h2v1.1h-2zM22 135h3v1.1h-3zM23 136h3v1.1h-3zM23 137h3v1.1h-3zM25 139h4v1.1h-4zM26 140h5v1.1h-5zM25 142h3v1.1h-3zM21 143h3v1.1h-3zM24 144h2v1.1h-2zM24 146h3v1.1h-3zM23 147h4v1.1h-4zM21 148h5v1.1h-5zM26 149h3v1.1h-3zM22 150h4v1.1h-4zM23 151h3v1.1h-3zM32 152h3v1.1h-3zM33 153h2v1.1h-2zM31 154h3v1.1h-3zM25 155h2v1.1h-2zM26 156h3v1.1h-3zM37 157h1v1.1h-1zM22 158h1v1.1h-1zM24 159h14v1.1h-14zM33 160h3v1.1h-3zM45 160h15v1.1h-15zM66 161h3v1.1h-3zM28 162h4v1.1h-4zM56 162h13v1.1h-13zM30 163h2v1.1h-2zM37 164h5v1.1h-5zM59 164h6v1.1h-6zM62 165h8v1.1h-8zM39 166h2v1.1h-2zM34 167h3v1.1h-3zM39 168h7v1.1h-7zM50 168h3v1.1h-3zM36 169h3v1.1h-3zM60 169h2v1.1h-2zM66 169h4v1.1h-4zM30 170h6v1.1h-6zM33 171h4v1.1h-4zM63 172h5v1.1h-5zM38 173h4v1.1h-4zM37 174h3v1.1h-3zM42 175h1v1.1h-1zM38 176h1v1.1h-1zM32 177h1v1.1h-1zM42 177h2v1.1h-2zM36 178h5v1.1h-5zM40 179h2v1.1h-2zM41 180h3v1.1h-3zM41 181h2v1.1h-2zM43 182h1v1.1h-1zM42 183h1v1.1h-1zM38 184h3v1.1h-3zM35 185h4v1.1h-4zM38 186h4v1.1h-4zM38 187h5v1.1h-5zM41 188h2v1.1h-2zM32 189h9v1.1h-9zM36 190h3v1.1h-3zM38 191h3v1.1h-3zM27 192h4v1.1h-4zM31 194h4v1.1h-4zM61 194h8v1.1h-8zM31 195h2v1.1h-2zM42 195h3v1.1h-3zM58 195h12v1.1h-12zM30 196h5v1.1h-5zM25 197h3v1.1h-3zM32 198h3v1.1h-3zM67 198h3v1.1h-3zM36 199h15v1.1h-15zM33 200h2v1.1h-2zM22 201h1v1.1h-1zM21 202h3v1.1h-3zM27 203h2v1.1h-2zM22 204h2v1.1h-2zM21 205h1v1.1h-1zM23 206h1v1.1h-1zM25 207h2v1.1h-2zM22 210h2v1.1h-2zM25 211h1v1.1h-1zM25 213h3v1.1h-3zM25 214h3v1.1h-3zM22 216h2v1.1h-2zM27 217h1v1.1h-1zM20 218h1v1.1h-1zM19 219h4v1.1h-4zM25 220h3v1.1h-3zM24 221h1v1.1h-1zM19 222h2v1.1h-2zM24 223h2v1.1h-2zM23 224h2v1.1h-2zM23 225h3v1.1h-3zM21 226h2v1.1h-2zM24 227h2v1.1h-2zM32 228h6v1.1h-6zM56 228h3v1.1h-3zM30 229h21v1.1h-21zM24 230h4v1.1h-4zM39 230h8v1.1h-8zM49 230h5v1.1h-5zM34 232h13v1.1h-13zM48 232h22v1.1h-22zM22 233h5v1.1h-5zM56 233h6v1.1h-6zM19 234h3v1.1h-3zM26 234h3v1.1h-3zM43 234h3v1.1h-3zM50 234h4v1.1h-4zM40 236h3v1.1h-3zM44 237h8v1.1h-8zM32 238h9v1.1h-9zM64 238h4v1.1h-4zM42 239h5v1.1h-5zM41 240h29v1.1h-29zM14 241h3v1.1h-3zM38 241h5v1.1h-5zM55 242h15v1.1h-15zM7 243h2v1.1h-2zM25 243h5v1.1h-5zM37 243h3v1.1h-3zM58 243h4v1.1h-4zM10 244h13v1.1h-13zM37 244h4v1.1h-4zM58 244h9v1.1h-9zM35 245h3v1.1h-3zM50 245h3v1.1h-3zM64 245h4v1.1h-4zM10 246h3v1.1h-3zM22 246h5v1.1h-5zM55 246h4v1.1h-4zM14 247h24v1.1h-24zM54 247h16v1.1h-16zM10 248h1v1.1h-1zM22 248h4v1.1h-4zM40 248h16v1.1h-16zM21 249h2v1.1h-2zM41 249h3v1.1h-3zM51 249h2v1.1h-2zM36 250h34v1.1h-34zM46 251h6v1.1h-6zM61 251h5v1.1h-5z"/>
<path fill="#8a3f41" d="M20 1h4v1.1h-4zM32 1h5v1.1h-5zM26 2h2v1.1h-2zM37 2h2v1.1h-2zM18 3h5v1.1h-5zM25 3h10v1.1h-10zM36 3h5v1.1h-5zM16 4h9v1.1h-9zM42 4h2v1.1h-2zM17 5h2v1.1h-2zM39 5h2v1.1h-2zM50 5h1v1.1h-1zM18 6h3v1.1h-3zM40 6h3v1.1h-3zM17 7h4v1.1h-4zM57 7h4v1.1h-4zM17 8h3v1.1h-3zM48 8h4v1.1h-4zM19 9h1v1.1h-1zM43 9h5v1.1h-5zM18 10h2v1.1h-2zM51 10h5v1.1h-5zM20 11h2v1.1h-2zM54 11h7v1.1h-7zM18 12h2v1.1h-2zM52 12h10v1.1h-10zM64 12h3v1.1h-3zM10 13h3v1.1h-3zM64 13h3v1.1h-3zM12 14h2v1.1h-2zM63 14h7v1.1h-7zM14 15h4v1.1h-4zM60 15h4v1.1h-4zM8 16h3v1.1h-3zM63 16h7v1.1h-7zM10 17h8v1.1h-8zM54 17h5v1.1h-5zM12 18h10v1.1h-10zM65 18h3v1.1h-3zM16 19h3v1.1h-3zM36 19h2v1.1h-2zM53 19h7v1.1h-7zM18 20h5v1.1h-5zM28 20h13v1.1h-13zM15 21h6v1.1h-6zM25 21h20v1.1h-20zM60 21h3v1.1h-3zM19 22h21v1.1h-21zM51 22h7v1.1h-7zM11 23h3v1.1h-3zM43 23h8v1.1h-8zM66 23h4v1.1h-4zM0 24h2v1.1h-2zM10 24h3v1.1h-3zM14 26h2v1.1h-2zM62 26h8v1.1h-8zM12 27h2v1.1h-2zM66 27h4v1.1h-4zM67 28h3v1.1h-3zM4 29h2v1.1h-2zM66 29h4v1.1h-4zM0 30h2v1.1h-2zM14 30h2v1.1h-2zM66 30h3v1.1h-3zM12 31h3v1.1h-3zM14 32h1v1.1h-1zM63 32h1v1.1h-1zM14 33h1v1.1h-1zM65 33h5v1.1h-5zM7 34h3v1.1h-3zM63 34h2v1.1h-2zM12 35h3v1.1h-3zM63 35h1v1.1h-1zM12 36h3v1.1h-3zM62 36h2v1.1h-2zM11 37h2v1.1h-2zM68 37h2v1.1h-2zM7 38h5v1.1h-5zM64 38h4v1.1h-4zM2 39h4v1.1h-4zM13 40h1v1.1h-1zM63 40h1v1.1h-1zM9 41h3v1.1h-3zM9 42h4v1.1h-4zM62 42h2v1.1h-2zM14 43h2v1.1h-2zM64 43h2v1.1h-2zM7 44h3v1.1h-3zM65 44h4v1.1h-4zM6 45h3v1.1h-3zM64 45h6v1.1h-6zM12 46h2v1.1h-2zM14 47h5v1.1h-5zM37 47h5v1.1h-5zM65 47h3v1.1h-3zM8 48h5v1.1h-5zM69 48h1v1.1h-1zM7 49h4v1.1h-4zM11 50h3v1.1h-3zM67 50h3v1.1h-3zM0 51h3v1.1h-3zM11 52h4v1.1h-4zM68 52h2v1.1h-2zM16 53h1v1.1h-1zM65 53h3v1.1h-3zM17 54h2v1.1h-2zM64 54h1v1.1h-1zM0 55h6v1.1h-6zM69 55h1v1.1h-1zM18 56h1v1.1h-1zM67 56h3v1.1h-3zM3 57h3v1.1h-3zM8 58h3v1.1h-3zM21 59h7v1.1h-7zM13 60h3v1.1h-3zM13 61h2v1.1h-2zM17 62h5v1.1h-5zM21 63h3v1.1h-3zM6 64h5v1.1h-5zM10 65h3v1.1h-3zM7 66h6v1.1h-6zM19 66h7v1.1h-7zM6 67h6v1.1h-6zM6 69h10v1.1h-10zM17 70h1v1.1h-1zM10 72h2v1.1h-2zM5 73h4v1.1h-4zM8 74h3v1.1h-3zM13 75h1v1.1h-1zM8 76h5v1.1h-5zM8 77h9v1.1h-9zM13 78h3v1.1h-3zM5 79h5v1.1h-5zM12 80h5v1.1h-5zM63 80h7v1.1h-7zM16 81h1v1.1h-1zM17 82h3v1.1h-3zM39 82h31v1.1h-31zM13 83h3v1.1h-3zM64 83h6v1.1h-6zM10 84h2v1.1h-2zM7 85h4v1.1h-4zM15 86h3v1.1h-3zM18 87h1v1.1h-1zM11 88h2v1.1h-2zM19 89h19v1.1h-19zM11 90h5v1.1h-5zM11 91h5v1.1h-5zM11 92h3v1.1h-3zM16 93h3v1.1h-3zM16 94h2v1.1h-2zM13 95h5v1.1h-5zM15 96h3v1.1h-3zM13 97h2v1.1h-2zM8 98h1v1.1h-1zM9 99h7v1.1h-7zM19 100h2v1.1h-2zM17 101h5v1.1h-5zM22 102h3v1.1h-3zM17 103h2v1.1h-2zM10 104h6v1.1h-6zM20 105h3v1.1h-3zM17 106h6v1.1h-6zM11 107h3v1.1h-3zM22 108h1v1.1h-1zM22 109h1v1.1h-1zM11 110h9v1.1h-9zM17 111h2v1.1h-2zM14 112h3v1.1h-3zM20 113h3v1.1h-3zM20 114h4v1.1h-4zM17 115h2v1.1h-2zM24 116h4v1.1h-4zM20 118h3v1.1h-3zM25 119h1v1.1h-1zM15 120h4v1.1h-4zM25 121h2v1.1h-2zM25 122h1v1.1h-1zM16 123h3v1.1h-3zM24 124h2v1.1h-2zM26 125h1v1.1h-1zM62 125h7v1.1h-7zM17 126h5v1.1h-5zM16 127h2v1.1h-2zM26 128h2v1.1h-2zM21 129h4v1.1h-4zM28 130h4v1.1h-4zM21 131h2v1.1h-2zM28 132h1v1.1h-1zM29 133h1v1.1h-1zM20 134h1v1.1h-1zM25 135h4v1.1h-4zM26 136h2v1.1h-2zM26 137h3v1.1h-3zM30 138h5v1.1h-5zM37 138h33v1.1h-33zM29 139h2v1.1h-2zM31 140h1v1.1h-1zM44 140h7v1.1h-7zM32 141h3v1.1h-3zM59 141h2v1.1h-2zM28 142h2v1.1h-2zM24 143h4v1.1h-4zM26 144h2v1.1h-2zM33 145h2v1.1h-2zM27 146h2v1.1h-2zM27 147h3v1.1h-3zM26 148h4v1.1h-4zM29 149h2v1.1h-2zM26 150h2v1.1h-2zM26 151h3v1.1h-3zM35 152h1v1.1h-1zM35 153h3v1.1h-3zM34 154h2v1.1h-2zM27 155h3v1.1h-3zM29 156h3v1.1h-3zM38 157h1v1.1h-1zM38 159h2v1.1h-2zM42 159h10v1.1h-10zM36 160h9v1.1h-9zM69 161h1v1.1h-1zM32 162h4v1.1h-4zM50 162h6v1.1h-6zM69 162h1v1.1h-1zM32 163h3v1.1h-3zM49 163h8v1.1h-8zM42 164h5v1.1h-5zM49 164h10v1.1h-10zM37 167h3v1.1h-3zM65 167h5v1.1h-5zM53 168h3v1.1h-3zM57 168h13v1.1h-13zM39 169h11v1.1h-11zM58 169h2v1.1h-2zM36 170h29v1.1h-29zM37 171h7v1.1h-7zM46 171h20v1.1h-20zM30 172h3v1.1h-3zM58 172h5v1.1h-5zM42 173h3v1.1h-3zM40 174h3v1.1h-3zM43 175h2v1.1h-2zM58 175h12v1.1h-12zM39 176h2v1.1h-2zM44 177h1v1.1h-1zM41 178h2v1.1h-2zM42 179h2v1.1h-2zM44 180h1v1.1h-1zM43 181h1v1.1h-1zM44 182h1v1.1h-1zM43 183h2v1.1h-2zM32 184h6v1.1h-6zM41 184h5v1.1h-5zM39 185h3v1.1h-3zM42 186h2v1.1h-2zM43 187h4v1.1h-4zM43 188h3v1.1h-3zM41 189h6v1.1h-6zM39 190h2v1.1h-2zM41 191h4v1.1h-4zM31 192h5v1.1h-5zM25 193h6v1.1h-6zM35 194h6v1.1h-6zM54 194h7v1.1h-7zM69 194h1v1.1h-1zM33 195h2v1.1h-2zM38 195h4v1.1h-4zM35 196h7v1.1h-7zM28 197h2v1.1h-2zM35 198h4v1.1h-4zM44 198h23v1.1h-23zM51 199h19v1.1h-19zM35 200h4v1.1h-4zM23 201h3v1.1h-3zM24 202h3v1.1h-3zM29 203h2v1.1h-2zM24 204h4v1.1h-4zM22 205h2v1.1h-2zM24 206h2v1.1h-2zM27 207h2v1.1h-2zM29 208h4v1.1h-4zM29 209h4v1.1h-4zM24 210h2v1.1h-2zM26 211h2v1.1h-2zM29 212h5v1.1h-5zM28 213h1v1.1h-1zM63 213h2v1.1h-2zM28 214h1v1.1h-1zM28 215h7v1.1h-7zM24 216h4v1.1h-4zM56 216h1v1.1h-1zM28 217h1v1.1h-1zM64 217h6v1.1h-6zM21 218h2v1.1h-2zM23 219h6v1.1h-6zM28 220h1v1.1h-1zM25 221h2v1.1h-2zM21 222h3v1.1h-3zM26 223h3v1.1h-3zM25 224h3v1.1h-3zM26 225h2v1.1h-2zM23 226h3v1.1h-3zM26 227h3v1.1h-3zM37 227h6v1.1h-6zM38 228h3v1.1h-3zM53 228h3v1.1h-3zM51 229h5v1.1h-5zM28 230h11v1.1h-11zM54 230h6v1.1h-6zM21 232h2v1.1h-2zM28 232h6v1.1h-6zM27 233h18v1.1h-18zM49 233h7v1.1h-7zM22 234h4v1.1h-4zM46 234h4v1.1h-4zM43 236h4v1.1h-4zM50 236h20v1.1h-20zM68 238h2v1.1h-2zM47 239h11v1.1h-11zM67 239h3v1.1h-3zM43 241h8v1.1h-8zM9 243h16v1.1h-16zM40 243h3v1.1h-3zM53 243h5v1.1h-5zM62 243h8v1.1h-8zM41 244h4v1.1h-4zM51 244h7v1.1h-7zM67 244h3v1.1h-3zM38 245h12v1.1h-12zM68 245h2v1.1h-2zM13 246h9v1.1h-9zM59 246h11v1.1h-11zM38 247h9v1.1h-9zM48 247h6v1.1h-6zM11 248h4v1.1h-4zM17 248h5v1.1h-5zM56 248h14v1.1h-14zM12 249h2v1.1h-2zM17 249h4v1.1h-4zM44 249h2v1.1h-2zM49 249h2v1.1h-2zM14 250h10v1.1h-10zM52 251h9v1.1h-9z"/>
<path fill="#6d1e1f" d="M24 1h8v1.1h-8zM28 2h9v1.1h-9zM23 3h2v1.1h-2zM35 3h1v1.1h-1zM25 4h17v1.1h-17zM19 5h20v1.1h-20zM41 5h9v1.1h-9zM21 6h19v1.1h-19zM21 7h36v1.1h-36zM20 8h28v1.1h-28zM20 9h23v1.1h-23zM20 10h31v1.1h-31zM22 11h32v1.1h-32zM20 12h32v1.1h-32zM62 12h2v1.1h-2zM13 13h51v1.1h-51zM14 14h49v1.1h-49zM18 15h42v1.1h-42zM11 16h52v1.1h-52zM18 17h36v1.1h-36zM22 18h43v1.1h-43zM19 19h17v1.1h-17zM60 19h10v1.1h-10zM23 20h5v1.1h-5zM45 21h15v1.1h-15zM58 22h12v1.1h-12zM14 23h29v1.1h-29zM51 23h15v1.1h-15zM13 24h57v1.1h-57zM0 25h70v1.1h-70zM16 26h46v1.1h-46zM14 27h52v1.1h-52zM0 28h67v1.1h-67zM6 29h60v1.1h-60zM16 30h50v1.1h-50zM15 31h55v1.1h-55zM15 32h48v1.1h-48zM15 33h50v1.1h-50zM10 34h53v1.1h-53zM15 35h48v1.1h-48zM15 36h47v1.1h-47zM13 37h55v1.1h-55zM12 38h52v1.1h-52zM6 39h64v1.1h-64zM14 40h49v1.1h-49zM12 41h58v1.1h-58zM13 42h49v1.1h-49zM16 43h48v1.1h-48zM10 44h55v1.1h-55zM9 45h55v1.1h-55zM14 46h56v1.1h-56zM19 47h18v1.1h-18zM42 47h23v1.1h-23zM13 48h56v1.1h-56zM11 49h59v1.1h-59zM14 50h53v1.1h-53zM3 51h67v1.1h-67zM15 52h53v1.1h-53zM17 53h48v1.1h-48zM19 54h45v1.1h-45zM65 54h5v1.1h-5zM6 55h63v1.1h-63zM19 56h48v1.1h-48zM6 57h64v1.1h-64zM11 58h59v1.1h-59zM28 59h42v1.1h-42zM16 60h54v1.1h-54zM15 61h55v1.1h-55zM22 62h48v1.1h-48zM24 63h46v1.1h-46zM11 64h59v1.1h-59zM13 65h57v1.1h-57zM26 66h44v1.1h-44zM12 67h58v1.1h-58zM0 68h70v1.1h-70zM16 69h54v1.1h-54zM18 70h52v1.1h-52zM0 71h70v1.1h-70zM12 72h58v1.1h-58zM9 73h61v1.1h-61zM11 74h59v1.1h-59zM14 75h56v1.1h-56zM13 76h57v1.1h-57zM17 77h53v1.1h-53zM16 78h54v1.1h-54zM10 79h60v1.1h-60zM17 80h46v1.1h-46zM17 81h53v1.1h-53zM20 82h19v1.1h-19zM16 83h48v1.1h-48zM12 84h58v1.1h-58zM11 85h59v1.1h-59zM18 86h52v1.1h-52zM19 87h51v1.1h-51zM13 88h57v1.1h-57zM38 89h32v1.1h-32zM16 90h54v1.1h-54zM16 91h54v1.1h-54zM14 92h56v1.1h-56zM19 93h51v1.1h-51zM18 94h52v1.1h-52zM18 95h52v1.1h-52zM18 96h52v1.1h-52zM15 97h55v1.1h-55zM9 98h61v1.1h-61zM16 99h54v1.1h-54zM21 100h49v1.1h-49zM22 101h48v1.1h-48zM25 102h45v1.1h-45zM19 103h51v1.1h-51zM16 104h54v1.1h-54zM23 105h47v1.1h-47zM23 106h47v1.1h-47zM14 107h56v1.1h-56zM23 108h47v1.1h-47zM23 109h47v1.1h-47zM20 110h50v1.1h-50zM19 111h51v1.1h-51zM17 112h53v1.1h-53zM23 113h47v1.1h-47zM24 114h46v1.1h-46zM19 115h51v1.1h-51zM28 116h42v1.1h-42zM12 117h58v1.1h-58zM23 118h47v1.1h-47zM26 119h44v1.1h-44zM19 120h51v1.1h-51zM27 121h43v1.1h-43zM26 122h44v1.1h-44zM19 123h51v1.1h-51zM26 124h44v1.1h-44zM27 125h35v1.1h-35zM69 125h1v1.1h-1zM22 126h48v1.1h-48zM18 127h52v1.1h-52zM28 128h42v1.1h-42zM25 129h45v1.1h-45zM32 130h38v1.1h-38zM23 131h47v1.1h-47zM29 132h41v1.1h-41zM30 133h40v1.1h-40zM21 134h49v1.1h-49zM29 135h41v1.1h-41zM28 136h42v1.1h-42zM29 137h41v1.1h-41zM35 138h2v1.1h-2zM31 139h39v1.1h-39zM32 140h12v1.1h-12zM51 140h19v1.1h-19zM35 141h24v1.1h-24zM61 141h9v1.1h-9zM30 142h40v1.1h-40zM28 143h42v1.1h-42zM28 144h42v1.1h-42zM35 145h35v1.1h-35zM29 146h41v1.1h-41zM30 147h40v1.1h-40zM30 148h40v1.1h-40zM31 149h39v1.1h-39zM28 150h42v1.1h-42zM29 151h41v1.1h-41zM36 152h34v1.1h-34zM38 153h32v1.1h-32zM36 154h34v1.1h-34zM30 155h40v1.1h-40zM32 156h38v1.1h-38zM39 157h31v1.1h-31zM23 158h47v1.1h-47zM40 159h2v1.1h-2zM52 159h18v1.1h-18zM36 162h14v1.1h-14zM35 163h14v1.1h-14zM57 163h13v1.1h-13zM47 164h2v1.1h-2zM40 167h25v1.1h-25zM56 168h1v1.1h-1zM50 169h8v1.1h-8zM65 170h5v1.1h-5zM44 171h2v1.1h-2zM66 171h4v1.1h-4zM33 172h25v1.1h-25zM45 173h25v1.1h-25zM43 174h27v1.1h-27zM45 175h13v1.1h-13zM41 176h29v1.1h-29zM45 177h25v1.1h-25zM43 178h27v1.1h-27zM44 179h26v1.1h-26zM45 180h25v1.1h-25zM44 181h26v1.1h-26zM45 182h25v1.1h-25zM45 183h25v1.1h-25zM46 184h24v1.1h-24zM42 185h28v1.1h-28zM44 186h26v1.1h-26zM47 187h23v1.1h-23zM46 188h24v1.1h-24zM47 189h23v1.1h-23zM41 190h29v1.1h-29zM45 191h25v1.1h-25zM36 192h34v1.1h-34zM31 193h39v1.1h-39zM41 194h13v1.1h-13zM35 195h3v1.1h-3zM42 196h28v1.1h-28zM30 197h40v1.1h-40zM39 198h5v1.1h-5zM39 200h31v1.1h-31zM26 201h44v1.1h-44zM27 202h43v1.1h-43zM31 203h39v1.1h-39zM28 204h42v1.1h-42zM24 205h46v1.1h-46zM26 206h44v1.1h-44zM29 207h41v1.1h-41zM33 208h37v1.1h-37zM33 209h37v1.1h-37zM26 210h44v1.1h-44zM28 211h42v1.1h-42zM34 212h36v1.1h-36zM29 213h34v1.1h-34zM65 213h5v1.1h-5zM29 214h41v1.1h-41zM35 215h35v1.1h-35zM28 216h28v1.1h-28zM57 216h13v1.1h-13zM29 217h35v1.1h-35zM23 218h47v1.1h-47zM29 219h41v1.1h-41zM29 220h41v1.1h-41zM27 221h43v1.1h-43zM24 222h46v1.1h-46zM29 223h41v1.1h-41zM28 224h42v1.1h-42zM28 225h42v1.1h-42zM26 226h44v1.1h-44zM29 227h8v1.1h-8zM43 227h27v1.1h-27zM41 228h12v1.1h-12zM56 229h14v1.1h-14zM60 230h10v1.1h-10zM23 232h5v1.1h-5zM45 233h4v1.1h-4zM47 236h3v1.1h-3zM58 239h9v1.1h-9zM51 241h19v1.1h-19zM43 243h10v1.1h-10zM45 244h6v1.1h-6zM47 247h1v1.1h-1zM15 248h2v1.1h-2zM14 249h3v1.1h-3zM46 249h3v1.1h-3z"/>
</g>
<line x1="304.7" y1="323.5" x2="304.7" y2="595.3" stroke="#b0b0b0" stroke-opacity="0.55" stroke-width="0.8"/>
<line x1="364.8" y1="323.5" x2="364.8" y2="595.3" stroke="#b0b0b0" stroke-opacity="0.55" stroke-width="0.8"/>
<line x1="264.6" y1="373.9" x2="404.8" y2="373.9" stroke="#b0b0b0" stroke-opacity="0.55" stroke-width="0.8"/>
<line x1="264.6" y1="424.3" x2="404.8" y2="424.3" stroke="#b0b0b0" stroke-opacity="0.55" stroke-width="0.8"/>
<line x1="264.6" y1="474.7" x2="404.8" y2="474.7" stroke="#b0b0b0" stroke-opacity="0.55" stroke-width="0.8"/>
<line x1="264.6" y1="525.1" x2="404.8" y2="525.1" stroke="#b0b0b0" stroke-opacity="0.55" stroke-width="0.8"/>
<line x1="264.6" y1="575.5" x2="404.8" y2="575.5" stroke="#b0b0b0" stroke-opacity="0.55" stroke-width="0.8"/>
<circle cx="302.2" cy="417.9" r="5.6" fill="#ffff00" stroke="#222" stroke-width="0.7"/>
<circle cx="336.2" cy="385.0" r="3.9" fill="#ffff00" stroke="#222" stroke-width="0.7"/>
<circle cx="327.6" cy="419.4" r="3.9" fill="#ffff00" stroke="#222" stroke-width="0.7"/>
<circle cx="301.1" cy="436.9" r="3.9" fill="#ffff00" stroke="#222" stroke-width="0.7"/>
<circle cx="328" cy="460.7" r="3.9" fill="#ffff00" stroke="#222" stroke-width="0.7"/>
<circle cx="306.9" cy="470.7" r="3.9" fill="#ffff00" stroke="#222" stroke-width="0.7"/>
<circle cx="313.1" cy="476.8" r="3.9" fill="#ffff00" stroke="#222" stroke-width="0.7"/>
<circle cx="295.2" cy="424.4" r="3.8" fill="#ffff00" stroke="#222" stroke-width="0.7"/>
<circle cx="289" cy="420.3" r="3.6" fill="#ffff00" stroke="#222" stroke-width="0.7"/>
<circle cx="308.6" cy="419.7" r="3.6" fill="#ffff00" stroke="#222" stroke-width="0.7"/>
<circle cx="308.6" cy="426.1" r="3.6" fill="#ffff00" stroke="#222" stroke-width="0.7"/>
<circle cx="284.7" cy="454.1" r="3.5" fill="#ffff00" stroke="#222" stroke-width="0.7"/>
<circle cx="306" cy="457.2" r="3.5" fill="#ffff00" stroke="#222" stroke-width="0.7"/>
<circle cx="289.9" cy="461.4" r="3.5" fill="#ffff00" stroke="#222" stroke-width="0.7"/>
<circle cx="309.5" cy="469.8" r="3.5" fill="#ffff00" stroke="#222" stroke-width="0.7"/>
<circle cx="304.3" cy="519.1" r="3.5" fill="#ffff00" stroke="#222" stroke-width="0.7"/>
<circle cx="319.7" cy="552.4" r="3.5" fill="#ffff00" stroke="#222" stroke-width="0.7"/>
<circle cx="309.9" cy="457.2" r="2.5" fill="#ffff00" stroke="#222" stroke-width="0.7"/>
<circle cx="296.4" cy="361.4" r="1.65" fill="#eee63c" stroke="#4a4a30" stroke-opacity="0.75" stroke-width="0.6"/>
<circle cx="268.4" cy="389.4" r="1.65" fill="#eee63c" stroke="#4a4a30" stroke-opacity="0.75" stroke-width="0.6"/>
<circle cx="302.2" cy="388.2" r="1.65" fill="#eee63c" stroke="#4a4a30" stroke-opacity="0.75" stroke-width="0.6"/>
<circle cx="314.8" cy="399.2" r="1.65" fill="#eee63c" stroke="#4a4a30" stroke-opacity="0.75" stroke-width="0.6"/>
<circle cx="333.2" cy="401.8" r="1.65" fill="#eee63c" stroke="#4a4a30" stroke-opacity="0.75" stroke-width="0.6"/>
<circle cx="349.5" cy="404.0" r="1.65" fill="#eee63c" stroke="#4a4a30" stroke-opacity="0.75" stroke-width="0.6"/>
<circle cx="353" cy="419.4" r="1.65" fill="#eee63c" stroke="#4a4a30" stroke-opacity="0.75" stroke-width="0.6"/>
<circle cx="276.6" cy="427.2" r="1.65" fill="#eee63c" stroke="#4a4a30" stroke-opacity="0.75" stroke-width="0.6"/>
<circle cx="281.9" cy="425.3" r="1.65" fill="#eee63c" stroke="#4a4a30" stroke-opacity="0.75" stroke-width="0.6"/>
<circle cx="288.5" cy="426.9" r="1.65" fill="#eee63c" stroke="#4a4a30" stroke-opacity="0.75" stroke-width="0.6"/>
<circle cx="314.8" cy="425.7" r="1.65" fill="#eee63c" stroke="#4a4a30" stroke-opacity="0.75" stroke-width="0.6"/>
<circle cx="325" cy="429.2" r="1.65" fill="#eee63c" stroke="#4a4a30" stroke-opacity="0.75" stroke-width="0.6"/>
<circle cx="346" cy="429.2" r="1.65" fill="#eee63c" stroke="#4a4a30" stroke-opacity="0.75" stroke-width="0.6"/>
<circle cx="366.5" cy="429.2" r="1.65" fill="#eee63c" stroke="#4a4a30" stroke-opacity="0.75" stroke-width="0.6"/>
<circle cx="304.8" cy="430.9" r="1.65" fill="#eee63c" stroke="#4a4a30" stroke-opacity="0.75" stroke-width="0.6"/>
<circle cx="286.8" cy="435.7" r="1.65" fill="#eee63c" stroke="#4a4a30" stroke-opacity="0.75" stroke-width="0.6"/>
<circle cx="314.8" cy="436.0" r="1.65" fill="#eee63c" stroke="#4a4a30" stroke-opacity="0.75" stroke-width="0.6"/>
<circle cx="325" cy="436.5" r="1.65" fill="#eee63c" stroke="#4a4a30" stroke-opacity="0.75" stroke-width="0.6"/>
<circle cx="311" cy="444.4" r="1.65" fill="#eee63c" stroke="#4a4a30" stroke-opacity="0.75" stroke-width="0.6"/>
<circle cx="313.9" cy="445.6" r="1.65" fill="#eee63c" stroke="#4a4a30" stroke-opacity="0.75" stroke-width="0.6"/>
<circle cx="352.5" cy="451.1" r="1.65" fill="#eee63c" stroke="#4a4a30" stroke-opacity="0.75" stroke-width="0.6"/>
<circle cx="295.2" cy="452.7" r="1.65" fill="#eee63c" stroke="#4a4a30" stroke-opacity="0.75" stroke-width="0.6"/>
<circle cx="299.9" cy="456.2" r="1.65" fill="#eee63c" stroke="#4a4a30" stroke-opacity="0.75" stroke-width="0.6"/>
<circle cx="314.8" cy="452.8" r="1.65" fill="#eee63c" stroke="#4a4a30" stroke-opacity="0.75" stroke-width="0.6"/>
<circle cx="323.6" cy="452.7" r="1.65" fill="#eee63c" stroke="#4a4a30" stroke-opacity="0.75" stroke-width="0.6"/>
<circle cx="316.6" cy="456.2" r="1.65" fill="#eee63c" stroke="#4a4a30" stroke-opacity="0.75" stroke-width="0.6"/>
<circle cx="377.9" cy="457.6" r="1.65" fill="#eee63c" stroke="#4a4a30" stroke-opacity="0.75" stroke-width="0.6"/>
<circle cx="344.2" cy="461.9" r="1.65" fill="#eee63c" stroke="#4a4a30" stroke-opacity="0.75" stroke-width="0.6"/>
<circle cx="349.3" cy="466.0" r="1.65" fill="#eee63c" stroke="#4a4a30" stroke-opacity="0.75" stroke-width="0.6"/>
<circle cx="295.9" cy="462.3" r="1.65" fill="#eee63c" stroke="#4a4a30" stroke-opacity="0.75" stroke-width="0.6"/>
<circle cx="288.5" cy="467.2" r="1.65" fill="#eee63c" stroke="#4a4a30" stroke-opacity="0.75" stroke-width="0.6"/>
<circle cx="295.9" cy="467.2" r="1.65" fill="#eee63c" stroke="#4a4a30" stroke-opacity="0.75" stroke-width="0.6"/>
<circle cx="299" cy="469.0" r="1.65" fill="#eee63c" stroke="#4a4a30" stroke-opacity="0.75" stroke-width="0.6"/>
<circle cx="302.5" cy="469.5" r="1.65" fill="#eee63c" stroke="#4a4a30" stroke-opacity="0.75" stroke-width="0.6"/>
<circle cx="319.2" cy="469.8" r="1.65" fill="#eee63c" stroke="#4a4a30" stroke-opacity="0.75" stroke-width="0.6"/>
<circle cx="332.3" cy="473.0" r="1.65" fill="#eee63c" stroke="#4a4a30" stroke-opacity="0.75" stroke-width="0.6"/>
<circle cx="338.5" cy="473.0" r="1.65" fill="#eee63c" stroke="#4a4a30" stroke-opacity="0.75" stroke-width="0.6"/>
<circle cx="285" cy="477.9" r="1.65" fill="#eee63c" stroke="#4a4a30" stroke-opacity="0.75" stroke-width="0.6"/>
<circle cx="301.7" cy="482.3" r="1.65" fill="#eee63c" stroke="#4a4a30" stroke-opacity="0.75" stroke-width="0.6"/>
<circle cx="306" cy="478.4" r="1.65" fill="#eee63c" stroke="#4a4a30" stroke-opacity="0.75" stroke-width="0.6"/>
<circle cx="308.7" cy="478.4" r="1.65" fill="#eee63c" stroke="#4a4a30" stroke-opacity="0.75" stroke-width="0.6"/>
<circle cx="322.7" cy="478.8" r="1.65" fill="#eee63c" stroke="#4a4a30" stroke-opacity="0.75" stroke-width="0.6"/>
<circle cx="329.2" cy="478.8" r="1.65" fill="#eee63c" stroke="#4a4a30" stroke-opacity="0.75" stroke-width="0.6"/>
<circle cx="325" cy="481.9" r="1.65" fill="#eee63c" stroke="#4a4a30" stroke-opacity="0.75" stroke-width="0.6"/>
<circle cx="339.3" cy="482.8" r="1.65" fill="#eee63c" stroke="#4a4a30" stroke-opacity="0.75" stroke-width="0.6"/>
<circle cx="321.5" cy="485.8" r="1.65" fill="#eee63c" stroke="#4a4a30" stroke-opacity="0.75" stroke-width="0.6"/>
<circle cx="280.1" cy="486.3" r="1.65" fill="#eee63c" stroke="#4a4a30" stroke-opacity="0.75" stroke-width="0.6"/>
<circle cx="282.7" cy="488.0" r="1.65" fill="#eee63c" stroke="#4a4a30" stroke-opacity="0.75" stroke-width="0.6"/>
<circle cx="267.2" cy="495.0" r="1.65" fill="#eee63c" stroke="#4a4a30" stroke-opacity="0.75" stroke-width="0.6"/>
<circle cx="311.3" cy="495.0" r="1.65" fill="#eee63c" stroke="#4a4a30" stroke-opacity="0.75" stroke-width="0.6"/>
<circle cx="321" cy="501.5" r="1.65" fill="#eee63c" stroke="#4a4a30" stroke-opacity="0.75" stroke-width="0.6"/>
<circle cx="328.5" cy="501.5" r="1.65" fill="#eee63c" stroke="#4a4a30" stroke-opacity="0.75" stroke-width="0.6"/>
<circle cx="346.7" cy="501.2" r="1.65" fill="#eee63c" stroke="#4a4a30" stroke-opacity="0.75" stroke-width="0.6"/>
<circle cx="359" cy="501.5" r="1.65" fill="#eee63c" stroke="#4a4a30" stroke-opacity="0.75" stroke-width="0.6"/>
<circle cx="337.9" cy="515.9" r="1.65" fill="#eee63c" stroke="#4a4a30" stroke-opacity="0.75" stroke-width="0.6"/>
<circle cx="344.6" cy="515.9" r="1.65" fill="#eee63c" stroke="#4a4a30" stroke-opacity="0.75" stroke-width="0.6"/>
<circle cx="348.1" cy="517.7" r="1.65" fill="#eee63c" stroke="#4a4a30" stroke-opacity="0.75" stroke-width="0.6"/>
<circle cx="313.9" cy="536.6" r="1.65" fill="#eee63c" stroke="#4a4a30" stroke-opacity="0.75" stroke-width="0.6"/>
<circle cx="314.3" cy="561.5" r="1.65" fill="#eee63c" stroke="#4a4a30" stroke-opacity="0.75" stroke-width="0.6"/>
<circle cx="294.7" cy="590.4" r="1.65" fill="#eee63c" stroke="#4a4a30" stroke-opacity="0.75" stroke-width="0.6"/>
<circle cx="321.3" cy="591.0" r="1.65" fill="#eee63c" stroke="#4a4a30" stroke-opacity="0.75" stroke-width="0.6"/>
<circle cx="293.4" cy="417.3" r="1.65" fill="#eee63c" stroke="#4a4a30" stroke-opacity="0.75" stroke-width="0.6"/>
<circle cx="311.5" cy="416.2" r="1.65" fill="#eee63c" stroke="#4a4a30" stroke-opacity="0.75" stroke-width="0.6"/>
<circle cx="312.7" cy="422.9" r="1.65" fill="#eee63c" stroke="#4a4a30" stroke-opacity="0.75" stroke-width="0.6"/>
<circle cx="306.9" cy="424.9" r="1.65" fill="#eee63c" stroke="#4a4a30" stroke-opacity="0.75" stroke-width="0.6"/>
<circle cx="300.4" cy="424.9" r="1.65" fill="#eee63c" stroke="#4a4a30" stroke-opacity="0.75" stroke-width="0.6"/>
<circle cx="303.5" cy="421.5" r="1.65" fill="#eee63c" stroke="#4a4a30" stroke-opacity="0.75" stroke-width="0.6"/>
<line x1="302" y1="348.4" x2="302" y2="423" stroke="#000" stroke-width="2"/>
<line x1="296.3" y1="420" x2="296.3" y2="437.5" stroke="#000" stroke-width="2"/>
<line x1="290.3" y1="457.2" x2="290.3" y2="465.4" stroke="#000" stroke-width="2"/>
<line x1="309.2" y1="460.7" x2="309.2" y2="473.3" stroke="#000" stroke-width="2"/>
<line x1="304.3" y1="517.3" x2="304.3" y2="528.7" stroke="#000" stroke-width="2"/>
<line x1="319.7" y1="549.5" x2="319.7" y2="555" stroke="#000" stroke-width="2"/>
<rect x="264.6" y="323.5" width="140.2" height="271.8" fill="none" stroke="#888" stroke-width="0.8"/>
<line x1="264.6" y1="595.3" x2="264.6" y2="597.8" stroke="#555" stroke-width="0.7"/>
<text transform="translate(264.60,607.50)" x="-6.68" y="0" font-size="10.5" textLength="13.36" lengthAdjust="spacingAndGlyphs" fill="#000" >10</text>
<line x1="304.7" y1="595.3" x2="304.7" y2="597.8" stroke="#555" stroke-width="0.7"/>
<text transform="translate(304.66,607.50)" x="-6.68" y="0" font-size="10.5" textLength="13.36" lengthAdjust="spacingAndGlyphs" fill="#000" >30</text>
<line x1="364.7" y1="595.3" x2="364.7" y2="597.8" stroke="#555" stroke-width="0.7"/>
<text transform="translate(364.74,607.50)" x="-6.68" y="0" font-size="10.5" textLength="13.36" lengthAdjust="spacingAndGlyphs" fill="#000" >60</text>
<line x1="404.8" y1="595.3" x2="404.8" y2="597.8" stroke="#555" stroke-width="0.7"/>
<text transform="translate(404.80,607.50)" x="-6.68" y="0" font-size="10.5" textLength="13.36" lengthAdjust="spacingAndGlyphs" fill="#000" >80</text>
<line x1="262.1" y1="323.5" x2="264.6" y2="323.5" stroke="#555" stroke-width="0.7"/>
<text transform="translate(261.20,327.30)" x="-6.50" y="0" font-size="10.5" textLength="6.50" lengthAdjust="spacingAndGlyphs" fill="#000" >0</text>
<line x1="262.1" y1="373.9" x2="264.6" y2="373.9" stroke="#555" stroke-width="0.7"/>
<text transform="translate(261.20,377.70)" x="-25.40" y="0" font-size="10.5" textLength="25.40" lengthAdjust="spacingAndGlyphs" fill="#000" >1000</text>
<line x1="262.1" y1="424.3" x2="264.6" y2="424.3" stroke="#555" stroke-width="0.7"/>
<text transform="translate(261.20,428.10)" x="-25.40" y="0" font-size="10.5" textLength="25.40" lengthAdjust="spacingAndGlyphs" fill="#000" >2000</text>
<line x1="262.1" y1="474.7" x2="264.6" y2="474.7" stroke="#555" stroke-width="0.7"/>
<text transform="translate(261.20,478.50)" x="-25.40" y="0" font-size="10.5" textLength="25.40" lengthAdjust="spacingAndGlyphs" fill="#000" >3000</text>
<line x1="262.1" y1="525.1" x2="264.6" y2="525.1" stroke="#555" stroke-width="0.7"/>
<text transform="translate(261.20,528.90)" x="-25.40" y="0" font-size="10.5" textLength="25.40" lengthAdjust="spacingAndGlyphs" fill="#000" >4000</text>
<line x1="262.1" y1="575.5" x2="264.6" y2="575.5" stroke="#555" stroke-width="0.7"/>
<text transform="translate(261.20,579.30)" x="-25.40" y="0" font-size="10.5" textLength="25.40" lengthAdjust="spacingAndGlyphs" fill="#000" >5000</text>
<text transform="translate(334.80,620.80)" x="-28.75" y="0" font-size="10.4" textLength="57.50" lengthAdjust="spacingAndGlyphs" fill="#000" >Depth (km)</text>
<text transform="translate(231.00,459.80) rotate(-90)" x="-77.80" y="0" font-size="10.5" textLength="155.60" lengthAdjust="spacingAndGlyphs" fill="#000" >Distance along the trench (km)</text>
<circle cx="265" cy="323.7" r="3" fill="#008000"/>
<circle cx="264.9" cy="595.3" r="3" fill="#ff0000"/>
<path d="M262.7 393.6l4.6 4.6M262.7 398.2l4.6 -4.6" stroke="#0000ff" stroke-width="2.3"/>
<path d="M262.7 489.7l4.6 4.6M262.7 494.3l4.6 -4.6" stroke="#0000ff" stroke-width="2.3"/>
<clipPath id="clipA"><rect x="28.6" y="4.4" width="168.9" height="271.70000000000005"/></clipPath>
<clipPath id="clipD"><rect x="28.6" y="324.4" width="168.9" height="271.70000000000005"/></clipPath>
<g clip-path="url(#clipA)">
<g stroke="#dcdcdc" stroke-width="0.6" fill="none">
<path d="M28.6 30.8 L90.0 59.2 L110.0 69.7 L197.5 107.4"/>
<path d="M28.6 113.0 L110.0 150.0 L197.5 187.7"/>
<path d="M28.6 195.8 L105.0 229.0 L197.5 266.0"/>
<path d="M28.6 77.0 L61.8 4.4"/>
<path d="M28.6 248.4 L144.6 4.4"/>
<path d="M105.5 276.1 L139.0 200.0 L197.5 66.0"/>
<path d="M189.7 276.1 L197.5 259.0"/>
</g>
<path fill="#fce9e3" stroke="#fce9e3" stroke-width="0.35" d="M98.0 4.4 96.6 5.9 98.0 7.3 99.4 5.8zM107.7 14.3 106.2 16.0 107.6 17.5 109.1 15.7zM96.6 5.9 95.2 7.3 96.6 8.8 98.0 7.3zM106.2 16.0 104.5 17.8 105.9 19.3 107.6 17.5zM95.2 7.3 93.7 8.6 95.0 10.2 96.6 8.8zM104.5 17.8 102.8 19.4 104.1 20.9 105.9 19.3zM93.7 8.6 92.2 9.9 93.4 11.5 95.0 10.2zM102.8 19.4 100.9 21.1 102.1 22.7 104.1 20.9zM92.2 9.9 90.5 11.0 91.7 12.7 93.4 11.5zM100.9 21.1 98.8 22.7 100.0 24.3 102.1 22.7zM90.5 11.0 88.8 12.2 90.0 13.9 91.7 12.7zM98.8 22.7 96.8 24.1 98.0 25.8 100.0 24.3zM88.8 12.2 87.1 13.2 88.2 15.0 90.0 13.9zM87.1 13.2 85.4 14.3 86.5 16.0 88.2 15.0zM94.9 25.4 93.0 26.6 94.1 28.4 96.0 27.2zM85.4 14.3 83.7 15.3 84.8 17.1 86.5 16.0zM93.6 27.5 91.8 28.7 92.3 29.5 94.1 28.4zM83.7 15.3 82.0 16.3 83.1 18.1 84.8 17.1zM89.1 24.2 87.4 25.3 87.9 26.2 89.6 25.1zM91.2 27.8 89.6 28.8 90.7 30.6 92.3 29.5zM82.0 16.3 80.2 17.4 80.8 18.3 82.5 17.2zM87.4 25.3 85.9 26.2 86.4 27.1 87.9 26.2zM89.6 28.8 88.1 29.8 88.7 30.7 90.1 29.7zM80.2 17.4 78.5 18.4 79.1 19.3 80.8 18.3zM88.1 29.8 86.7 30.7 87.8 32.5 89.2 31.6zM87.3 31.6 86.1 32.4 86.7 33.3 87.8 32.5zM76.8 19.5 75.2 20.7 75.9 21.6 77.5 20.4zM86.1 32.4 85.2 33.2 85.8 34.1 86.7 33.3zM75.2 20.7 73.6 21.9 74.4 22.8 75.9 21.6zM84.5 32.4 83.5 33.2 84.9 34.8 85.8 34.1zM73.6 21.9 72.2 23.3 73.7 24.8 75.1 23.6zM83.5 33.2 82.7 34.0 84.2 35.5 84.9 34.8zM72.2 23.3 70.8 24.8 72.4 26.3 73.7 24.8zM82.7 34.0 81.9 34.9 83.5 36.4 84.2 35.5zM70.8 24.8 69.5 26.3 71.2 27.7 72.4 26.3zM82.7 35.6 81.9 36.5 82.7 37.2 83.5 36.4zM70.3 27.0 69.2 28.6 70.0 29.2 71.2 27.7zM81.1 35.8 80.3 37.0 82.1 38.3 82.7 37.2zM69.2 28.6 68.1 30.2 68.9 30.8 70.0 29.2zM81.2 37.7 80.4 38.9 81.2 39.6 82.1 38.3zM67.2 29.6 66.0 31.2 67.8 32.4 68.9 30.8zM79.5 38.3 78.6 39.6 80.4 40.8 81.2 39.6zM66.9 31.8 65.9 33.5 66.8 34.1 67.8 32.4zM75.0 37.2 74.1 38.8 75.0 39.4 75.9 37.8zM78.6 39.6 77.7 41.1 79.5 42.3 80.4 40.8zM65.0 32.9 63.9 34.6 65.7 35.8 66.8 34.1zM77.7 41.1 76.8 42.6 78.7 43.7 79.5 42.3zM63.9 34.6 62.8 36.3 63.8 36.9 64.8 35.2zM76.8 42.6 76.0 44.1 77.8 45.2 78.7 43.7zM62.8 36.3 61.8 38.1 63.7 39.2 64.7 37.4zM76.0 44.1 75.1 45.7 76.0 46.2 76.9 44.6zM61.8 38.1 60.9 39.8 62.8 40.9 63.7 39.2zM75.1 45.7 74.4 47.1 75.3 47.6 76.0 46.2zM60.9 39.8 59.9 41.6 61.9 42.6 62.8 40.9zM74.4 47.1 73.7 48.5 75.7 49.5 76.3 48.1zM59.9 41.6 59.0 43.4 61.0 44.3 61.9 42.6zM73.7 48.5 73.1 50.0 75.1 50.9 75.7 49.5zM60.0 43.9 59.2 45.7 60.3 46.1 61.0 44.3zM73.1 50.0 72.6 51.6 73.7 52.0 74.1 50.5zM58.2 45.2 57.5 47.1 58.5 47.5 59.2 45.7zM73.7 52.0 73.4 53.3 74.5 53.7 74.7 52.5zM57.5 47.1 56.7 49.0 57.8 49.4 58.5 47.5zM73.4 53.3 73.1 54.5 74.2 54.8 74.5 53.7zM56.7 49.0 56.0 50.9 58.3 51.6 58.9 49.7zM73.1 54.5 72.7 56.0 73.8 56.3 74.2 54.8zM56.0 50.9 55.6 52.8 56.7 53.1 57.2 51.2zM72.7 56.0 72.6 57.6 73.7 57.9 73.8 56.3zM55.6 52.8 55.1 54.8 57.4 55.3 57.8 53.5zM55.1 54.8 54.7 56.7 57.0 57.2 57.4 55.3zM54.7 56.7 54.2 58.7 56.6 59.2 57.0 57.2zM54.2 58.7 53.9 60.7 55.1 60.9 55.4 58.9zM53.9 60.7 53.6 62.7 54.8 62.9 55.1 60.9zM53.6 62.7 53.3 64.7 55.8 65.0 56.0 63.1zM53.3 64.7 53.0 66.6 54.2 66.8 54.5 64.8zM69.3 67.1 69.3 69.1 70.5 69.2 70.6 67.3zM53.0 66.6 52.7 68.6 55.3 69.0 55.5 67.0zM52.7 68.6 52.4 70.6 55.0 71.0 55.3 69.0zM69.3 71.0 69.3 72.9 70.6 73.1 70.6 71.2zM52.4 70.6 52.2 72.6 54.8 72.9 55.0 71.0zM52.2 72.6 51.9 74.6 53.2 74.8 53.5 72.8zM51.9 74.6 51.7 76.6 54.4 76.9 54.6 74.9zM51.7 76.6 51.5 78.6 54.3 78.9 54.4 76.9zM55.8 77.1 55.7 79.0 57.1 79.1 57.2 77.2zM51.5 78.6 51.3 80.6 54.2 80.8 54.3 78.9zM51.3 80.6 51.1 82.6 54.0 82.7 54.2 80.8zM51.1 82.6 51.1 84.6 52.5 84.6 52.6 82.7zM51.1 84.6 51.1 86.6 54.1 86.6 54.0 84.7zM52.6 86.6 52.7 88.5 54.2 88.4 54.1 86.6zM51.3 90.6 51.5 92.6 54.6 92.2 54.3 90.3zM71.0 88.4 71.2 89.7 72.7 89.5 72.5 88.2zM51.5 92.6 52.0 94.6 55.0 94.0 54.6 92.2zM52.0 94.6 52.4 96.5 53.9 96.1 53.5 94.3zM52.4 96.5 52.9 98.5 55.8 97.6 55.4 95.7zM52.9 98.5 53.6 100.4 56.5 99.3 55.8 97.6zM53.6 100.4 54.4 102.2 57.2 101.0 56.5 99.3zM54.4 102.2 55.3 104.0 58.0 102.7 57.2 101.0zM55.3 104.0 56.1 105.9 58.8 104.5 58.0 102.7zM56.1 105.9 57.1 107.6 58.4 106.9 57.5 105.2zM57.1 107.6 58.1 109.4 60.7 108.0 59.8 106.2zM58.1 109.4 59.1 111.1 61.7 109.8 60.7 108.0zM59.1 111.1 60.0 112.9 61.3 112.3 60.4 110.5zM60.0 112.9 60.7 114.8 62.1 114.2 61.3 112.3zM62.3 118.5 62.8 120.4 64.1 120.0 63.6 118.0zM62.8 120.4 63.2 122.4 64.5 122.0 64.1 120.0zM82.1 122.8 82.6 125.0 83.9 124.7 83.4 122.6zM64.5 128.3 64.8 130.3 66.1 130.0 65.8 128.0zM65.1 132.2 65.4 134.2 66.7 134.0 66.4 132.0zM68.5 152.0 68.9 154.0 70.2 153.7 69.8 151.8zM70.3 159.9 70.8 161.8 72.0 161.5 71.5 159.6zM73.2 171.6 73.9 173.5 75.0 173.1 74.4 171.2zM73.9 173.5 74.5 175.4 75.6 175.0 75.0 173.1zM74.5 175.4 75.2 177.3 76.3 176.9 75.6 175.0zM83.1 195.7 84.0 197.5 85.1 196.9 84.1 195.1zM97.4 215.1 98.7 216.6 99.6 215.8 98.3 214.3zM104.1 222.6 105.5 224.0 106.3 223.1 105.0 221.7zM113.1 230.5 114.7 231.7 115.4 230.8 113.9 229.5zM124.1 215.9 125.4 216.9 126.1 215.9 124.9 214.9zM134.8 225.8 136.5 226.8 137.1 225.8 135.5 224.8zM134.0 231.0 135.6 232.0 136.3 230.9 134.6 229.9zM136.5 226.8 138.1 227.8 138.8 226.7 137.1 225.8zM135.6 232.0 137.3 233.0 138.0 231.9 136.3 230.9zM138.1 227.8 139.8 228.8 140.5 227.7 138.8 226.7zM139.8 228.8 141.6 229.8 142.2 228.8 140.5 227.7zM142.1 248.6 143.8 249.6 144.5 248.5 142.7 247.5zM152.5 234.9 154.2 235.9 154.9 234.8 153.1 233.8zM150.8 253.7 152.5 254.7 153.1 253.6 151.4 252.6zM152.5 254.7 154.2 255.7 154.9 254.6 153.1 253.6zM154.2 255.7 156.0 256.7 156.6 255.6 154.9 254.6zM163.3 244.0 165.0 245.0 165.6 243.9 163.9 242.9zM159.5 258.7 161.2 259.7 161.8 258.6 160.1 257.6zM161.2 259.7 163.0 260.7 163.6 259.6 161.8 258.6zM163.0 260.7 164.7 261.7 165.3 260.6 163.6 259.6zM168.2 263.6 170.0 264.6 170.6 263.5 168.8 262.5zM180.5 249.4 182.2 250.4 182.8 249.3 181.0 248.4zM173.5 266.5 175.3 267.4 175.9 266.4 174.1 265.4zM175.3 267.4 177.1 268.4 177.6 267.3 175.9 266.4zM178.9 269.3 180.6 270.2 181.2 269.2 179.4 268.2zM186.8 254.2 188.5 255.1 189.1 254.0 187.3 253.1zM182.4 271.2 184.2 272.1 184.8 271.0 183.0 270.1zM190.3 260.2 192.1 261.1 193.3 258.9 191.5 258.0z"/>
<path fill="#e2c5aa" stroke="#e2c5aa" stroke-width="0.35" d="M99.4 5.8 98.0 7.3 106.2 16.0 107.7 14.3zM98.0 7.3 96.6 8.8 104.5 17.8 106.2 16.0zM96.6 8.8 95.0 10.2 102.8 19.4 104.5 17.8zM95.0 10.2 93.4 11.5 100.9 21.1 102.8 19.4zM93.4 11.5 91.7 12.7 95.8 18.5 97.8 17.1zM98.4 17.9 96.4 19.3 98.8 22.7 100.9 21.1zM91.7 12.7 90.0 13.9 96.8 24.1 98.8 22.7zM90.0 13.9 88.2 15.0 96.0 27.2 98.0 25.8zM88.8 15.9 87.1 16.9 93.0 26.6 94.9 25.4zM86.5 16.0 84.8 17.1 91.8 28.7 93.6 27.5zM84.8 17.1 83.1 18.1 87.4 25.3 89.1 24.2zM89.6 25.1 87.9 26.2 89.6 28.8 91.2 27.8zM82.5 17.2 80.8 18.3 85.9 26.2 87.4 25.3zM87.9 26.2 86.4 27.1 88.1 29.8 89.6 28.8zM90.1 29.7 88.7 30.7 89.2 31.6 90.7 30.6zM80.8 18.3 79.1 19.3 83.2 25.5 84.7 24.5zM85.9 26.2 84.3 27.2 86.7 30.7 88.1 29.8zM78.5 18.4 76.8 19.5 86.1 32.4 87.3 31.6zM77.5 20.4 75.9 21.6 85.2 33.2 86.1 32.4zM75.9 21.6 74.4 22.8 83.5 33.2 84.5 32.4zM75.1 23.6 73.7 24.8 82.7 34.0 83.5 33.2zM73.7 24.8 72.4 26.3 81.9 34.9 82.7 34.0zM72.4 26.3 71.2 27.7 81.9 36.5 82.7 35.6zM69.5 26.3 68.3 27.9 69.2 28.6 70.3 27.0zM71.2 27.7 70.0 29.2 80.3 37.0 81.1 35.8zM68.3 27.9 67.2 29.6 68.1 30.2 69.2 28.6zM70.0 29.2 68.9 30.8 80.4 38.9 81.2 37.7zM68.9 30.8 67.8 32.4 78.6 39.6 79.5 38.3zM66.0 31.2 65.0 32.9 65.9 33.5 66.9 31.8zM67.8 32.4 66.8 34.1 74.1 38.8 75.0 37.2zM75.9 37.8 75.0 39.4 77.7 41.1 78.6 39.6zM66.8 34.1 65.7 35.8 76.8 42.6 77.7 41.1zM64.8 35.2 63.8 36.9 76.0 44.1 76.8 42.6zM64.7 37.4 63.7 39.2 75.1 45.7 76.0 44.1zM76.9 44.6 76.0 46.2 77.0 46.8 77.8 45.2zM63.7 39.2 62.8 40.9 74.4 47.1 75.1 45.7zM76.0 46.2 75.3 47.6 76.3 48.1 77.0 46.8zM62.8 40.9 61.9 42.6 65.8 44.6 66.6 43.0zM67.6 43.5 66.8 45.1 68.8 46.0 69.5 44.5zM70.5 45.0 69.8 46.5 73.7 48.5 74.4 47.1zM61.9 42.6 61.0 44.3 67.0 47.2 67.8 45.5zM69.8 46.5 69.1 48.1 73.1 50.0 73.7 48.5zM59.0 43.4 58.2 45.2 59.2 45.7 60.0 43.9zM61.0 44.3 60.3 46.1 64.4 48.0 65.0 46.2zM68.1 47.6 67.5 49.3 72.6 51.6 73.1 50.0zM74.1 50.5 73.7 52.0 74.7 52.5 75.1 50.9zM59.2 45.7 58.5 47.5 63.8 49.6 64.4 48.0zM66.5 48.9 66.0 50.4 67.0 50.8 67.5 49.3zM68.5 49.8 68.1 51.2 73.4 53.3 73.7 52.0zM58.5 47.5 57.8 49.4 62.2 50.8 62.8 49.2zM69.1 51.6 68.7 53.0 73.1 54.5 73.4 53.3zM58.9 49.7 58.3 51.6 61.6 52.6 62.2 50.8zM67.6 52.7 67.2 54.3 68.3 54.6 68.7 53.0zM69.8 53.4 69.4 55.0 72.7 56.0 73.1 54.5zM57.2 51.2 56.7 53.1 61.2 54.4 61.6 52.6zM68.3 54.6 68.0 56.3 72.6 57.6 72.7 56.0zM57.8 53.5 57.4 55.3 62.0 56.5 62.4 54.7zM68.0 56.3 67.8 57.8 73.6 59.2 73.7 57.9zM57.4 55.3 57.0 57.2 60.5 58.0 60.9 56.2zM67.8 57.8 67.6 59.4 73.4 60.6 73.6 59.2zM57.0 57.2 56.6 59.2 60.2 59.9 60.5 58.0zM68.7 59.7 68.5 61.5 73.2 62.4 73.4 60.6zM55.4 58.9 55.1 60.9 59.9 61.8 60.2 59.9zM61.4 60.1 61.1 62.0 62.3 62.2 62.6 60.3zM68.5 61.5 68.4 63.3 73.2 64.2 73.2 62.4zM55.1 60.9 54.8 62.9 59.7 63.7 59.9 61.8zM69.6 63.5 69.4 65.3 73.1 65.9 73.2 64.2zM56.0 63.1 55.8 65.0 59.5 65.6 59.7 63.7zM69.4 65.3 69.3 67.1 73.0 67.7 73.1 65.9zM54.5 64.8 54.2 66.8 59.2 67.6 59.5 65.6zM70.6 67.3 70.5 69.2 73.0 69.6 73.0 67.7zM55.5 67.0 55.3 69.0 59.1 69.6 59.2 67.6zM69.3 69.1 69.3 71.0 73.1 71.6 73.0 69.6zM55.3 69.0 55.0 71.0 58.9 71.5 59.1 69.6zM60.4 69.7 60.2 71.7 61.5 71.9 61.6 69.9zM70.6 71.2 70.6 73.1 73.2 73.5 73.1 71.6zM55.0 71.0 54.8 72.9 58.8 73.4 58.9 71.5zM69.3 72.9 69.4 74.8 73.4 75.3 73.2 73.5zM53.5 72.8 53.2 74.8 58.6 75.4 58.8 73.4zM61.4 73.8 61.3 75.7 62.7 75.9 62.8 73.9zM69.4 74.8 69.4 76.6 73.5 77.1 73.4 75.3zM54.6 74.9 54.4 76.9 58.5 77.4 58.6 75.4zM69.4 76.6 69.5 78.5 73.6 79.0 73.5 77.1zM54.4 76.9 54.3 78.9 55.7 79.0 55.8 77.1zM57.2 77.2 57.1 79.1 58.5 79.2 58.5 77.4zM69.5 78.5 69.7 80.2 73.8 80.6 73.6 79.0zM54.3 78.9 54.2 80.8 58.4 81.1 58.5 79.2zM69.7 80.2 69.8 81.8 74.1 82.0 73.8 80.6zM54.2 80.8 54.0 82.7 58.4 82.9 58.4 81.1zM69.8 81.8 69.9 83.3 74.3 83.5 74.1 82.0zM52.6 82.7 52.5 84.6 58.4 84.8 58.4 82.9zM69.9 83.3 70.2 85.0 74.6 85.1 74.3 83.5zM54.0 84.7 54.1 86.6 58.6 86.5 58.4 84.8zM70.2 85.0 70.6 86.2 72.0 86.2 71.7 85.0zM73.1 85.0 73.5 86.2 75.0 86.2 74.6 85.1zM51.1 86.6 51.2 88.6 52.7 88.5 52.6 86.6zM54.1 86.6 54.2 88.4 58.8 88.1 58.6 86.5zM70.6 86.2 70.9 87.2 75.4 86.9 75.0 86.2zM51.2 88.6 51.3 90.6 58.9 89.8 58.8 88.1zM70.9 87.2 71.0 88.4 75.6 87.9 75.4 86.9zM54.3 90.3 54.6 92.2 59.1 91.5 58.9 89.8zM74.1 88.0 74.2 89.3 75.7 89.1 75.6 87.9zM54.6 92.2 55.0 94.0 59.5 93.1 59.1 91.5zM71.2 89.7 71.4 90.6 75.9 89.7 75.7 89.1zM53.5 94.3 53.9 96.1 59.8 94.5 59.5 93.1zM71.4 90.6 71.5 91.3 75.9 90.1 75.9 89.7zM55.4 95.7 55.8 97.6 61.6 95.7 61.2 94.1zM71.5 91.3 71.7 92.4 76.0 90.9 75.9 90.1zM55.8 97.6 56.5 99.3 60.7 97.8 60.1 96.1zM71.7 92.4 72.1 93.6 75.0 92.6 74.5 91.4zM56.5 99.3 57.2 101.0 61.4 99.3 60.7 97.8zM72.1 93.6 72.6 94.6 76.8 92.8 76.4 92.1zM57.2 101.0 58.0 102.7 62.1 100.8 61.4 99.3zM64.2 98.1 64.8 99.5 66.2 98.8 65.6 97.5zM72.6 94.6 73.0 95.6 77.1 93.6 76.8 92.8zM58.0 102.7 58.8 104.5 62.8 102.5 62.1 100.8zM73.0 95.6 73.6 97.0 77.6 95.0 77.1 93.6zM57.5 105.2 58.4 106.9 63.8 104.2 62.8 102.5zM73.6 97.0 74.5 98.7 78.5 96.6 77.6 95.0zM59.8 106.2 60.7 108.0 64.8 106.0 63.8 104.2zM74.5 98.7 75.5 100.5 79.5 98.5 78.5 96.6zM60.7 108.0 61.7 109.8 65.7 107.8 64.8 106.0zM75.5 100.5 76.3 102.4 80.3 100.4 79.5 98.5zM75.0 103.1 75.8 105.3 81.1 102.8 80.3 100.4zM75.8 105.3 76.6 108.0 81.9 105.7 81.1 102.8zM60.7 114.8 61.5 116.6 62.8 116.1 62.1 114.2zM76.6 108.0 77.5 110.7 82.8 108.8 81.9 105.7zM61.5 116.6 62.3 118.5 63.6 118.0 62.8 116.1zM77.5 110.7 78.2 113.4 83.5 111.6 82.8 108.8zM78.2 113.4 78.6 115.9 83.9 114.4 83.5 111.6zM78.6 115.9 78.9 118.4 84.1 117.1 83.9 114.4zM63.2 122.4 63.6 124.3 64.9 124.1 64.5 122.0zM78.9 118.4 79.2 121.1 84.3 120.0 84.1 117.1zM63.6 124.3 64.1 126.3 65.3 126.1 64.9 124.1zM79.2 121.1 79.6 123.3 84.7 122.3 84.3 120.0zM64.1 126.3 64.5 128.3 65.8 128.0 65.3 126.1zM77.0 123.8 77.4 125.9 82.6 125.0 82.1 122.8zM83.4 122.6 83.9 124.7 85.2 124.5 84.7 122.3zM82.6 125.0 83.0 127.1 85.6 126.7 85.2 124.5zM64.8 130.3 65.1 132.2 66.4 132.0 66.1 130.0zM83.0 127.1 83.4 129.3 86.0 128.8 85.6 126.7zM83.4 129.3 83.8 131.4 86.4 131.0 86.0 128.8zM65.4 134.2 65.7 136.2 67.0 136.0 66.7 134.0zM83.8 131.4 84.2 133.3 86.8 132.9 86.4 131.0zM65.7 136.2 66.0 138.2 67.3 138.0 67.0 136.0zM84.2 133.3 84.5 135.2 87.1 134.7 86.8 132.9zM66.0 138.2 66.3 140.2 67.6 140.0 67.3 138.0zM84.5 135.2 84.8 137.0 87.5 136.6 87.1 134.7zM66.3 140.2 66.7 142.2 68.0 141.9 67.6 140.0zM86.2 136.8 86.4 138.7 87.8 138.4 87.5 136.6zM66.7 142.2 67.0 144.1 68.3 143.9 68.0 141.9zM86.4 138.7 86.7 140.5 88.0 140.3 87.8 138.4zM67.0 144.1 67.4 146.1 68.7 145.9 68.3 143.9zM86.7 140.5 87.0 142.4 88.3 142.2 88.0 140.3zM67.4 146.1 67.8 148.1 69.1 147.8 68.7 145.9zM87.0 142.4 87.3 144.4 88.6 144.1 88.3 142.2zM67.8 148.1 68.2 150.1 69.5 149.8 69.1 147.8zM87.3 144.4 87.7 146.4 89.0 146.1 88.6 144.1zM68.2 150.1 68.5 152.0 69.8 151.8 69.5 149.8zM87.7 146.4 87.9 148.2 89.2 147.9 89.0 146.1zM87.9 148.2 88.2 149.9 89.5 149.7 89.2 147.9zM68.9 154.0 69.3 156.0 70.6 155.7 70.2 153.7zM88.2 149.9 88.4 151.8 89.7 151.5 89.5 149.7zM69.3 156.0 69.8 157.9 71.0 157.6 70.6 155.7zM88.4 151.8 88.7 153.5 89.9 153.3 89.7 151.5zM69.8 157.9 70.3 159.9 71.5 159.6 71.0 157.6zM88.7 153.5 89.0 155.3 90.2 155.0 89.9 153.3zM89.0 155.3 89.2 157.2 90.5 156.8 90.2 155.0zM70.8 161.8 71.3 163.8 72.5 163.5 72.0 161.5zM89.2 157.2 89.5 159.1 90.8 158.8 90.5 156.8zM71.3 163.8 71.8 165.7 73.0 165.4 72.5 163.5zM89.5 159.1 89.9 161.1 91.1 160.8 90.8 158.8zM71.8 165.7 72.2 167.7 73.4 167.4 73.0 165.4zM89.9 161.1 90.1 162.9 91.3 162.6 91.1 160.8zM72.2 167.7 72.7 169.6 73.9 169.3 73.4 167.4zM90.1 162.9 90.4 164.7 91.6 164.3 91.3 162.6zM72.7 169.6 73.2 171.6 74.4 171.2 73.9 169.3zM90.4 164.7 90.6 166.4 91.8 166.1 91.6 164.3zM90.6 166.4 91.0 168.1 92.1 167.8 91.8 166.1zM91.0 168.1 91.5 169.8 92.6 169.5 92.1 167.8zM91.5 169.8 92.1 171.5 93.2 171.1 92.6 169.5zM75.2 177.3 75.8 179.2 77.0 178.8 76.3 176.9zM92.1 171.5 92.7 173.3 93.9 172.9 93.2 171.1zM75.8 179.2 76.5 181.1 77.6 180.7 77.0 178.8zM92.7 173.3 93.4 175.1 94.5 174.7 93.9 172.9zM76.5 181.1 77.2 183.0 78.3 182.6 77.6 180.7zM93.4 175.1 94.0 176.6 95.1 176.2 94.5 174.7zM77.2 183.0 77.8 184.9 78.9 184.4 78.3 182.6zM94.0 176.6 94.5 178.1 95.6 177.7 95.1 176.2zM77.8 184.9 78.5 186.7 79.6 186.3 78.9 184.4zM94.5 178.1 95.1 179.6 96.2 179.1 95.6 177.7zM78.5 186.7 79.4 188.5 80.5 188.0 79.6 186.3zM95.1 179.6 95.9 181.0 97.0 180.5 96.2 179.1zM79.4 188.5 80.4 190.3 81.4 189.8 80.5 188.0zM95.9 181.0 96.6 182.5 97.7 181.9 97.0 180.5zM80.4 190.3 81.3 192.1 82.3 191.6 81.4 189.8zM96.6 182.5 97.4 183.9 98.5 183.3 97.7 181.9zM81.3 192.1 82.2 193.9 83.2 193.3 82.3 191.6zM97.4 183.9 98.2 185.3 99.2 184.7 98.5 183.3zM82.2 193.9 83.1 195.7 84.1 195.1 83.2 193.3zM98.2 185.3 98.9 186.7 99.9 186.1 99.2 184.7zM98.9 186.7 99.6 188.1 100.7 187.5 99.9 186.1zM84.0 197.5 85.2 199.1 86.2 198.5 85.1 196.9zM99.6 188.1 100.6 189.3 101.6 188.7 100.7 187.5zM85.2 199.1 86.3 200.8 87.3 200.1 86.2 198.5zM100.6 189.3 101.5 190.6 102.5 189.9 101.6 188.7zM86.3 200.8 87.5 202.4 88.5 201.7 87.3 200.1zM101.5 190.6 102.3 191.8 103.3 191.1 102.5 189.9zM87.5 202.4 88.6 204.1 89.6 203.4 88.5 201.7zM102.3 191.8 103.3 193.2 104.3 192.5 103.3 191.1zM88.6 204.1 89.8 205.7 90.8 205.0 89.6 203.4zM103.3 193.2 104.4 194.7 105.4 194.0 104.3 192.5zM89.8 205.7 91.0 207.3 92.0 206.5 90.8 205.0zM104.4 194.7 105.5 196.1 106.5 195.4 105.4 194.0zM91.0 207.3 92.3 208.8 93.3 208.1 92.0 206.5zM105.5 196.1 106.6 197.5 107.6 196.7 106.5 195.4zM92.3 208.8 93.6 210.4 94.5 209.6 93.3 208.1zM106.6 197.5 107.8 198.9 108.7 198.1 107.6 196.7zM93.6 210.4 94.8 212.0 95.8 211.2 94.5 209.6zM107.8 198.9 109.0 200.4 109.9 199.6 108.7 198.1zM94.8 212.0 96.1 213.5 97.0 212.8 95.8 211.2zM109.0 200.4 110.2 201.9 111.2 201.1 109.9 199.6zM96.1 213.5 97.4 215.1 98.3 214.3 97.0 212.8zM110.2 201.9 111.4 203.3 112.3 202.5 111.2 201.1zM111.4 203.3 112.5 204.7 113.4 203.9 112.3 202.5zM98.7 216.6 100.0 218.2 100.9 217.4 99.6 215.8zM112.5 204.7 113.6 206.0 114.6 205.2 113.4 203.9zM100.0 218.2 101.3 219.6 102.2 218.8 100.9 217.4zM113.6 206.0 114.9 207.4 115.8 206.6 114.6 205.2zM101.3 219.6 102.7 221.1 103.6 220.3 102.2 218.8zM114.9 207.4 116.1 208.7 117.0 207.8 115.8 206.6zM102.7 221.1 104.1 222.6 105.0 221.7 103.6 220.3zM116.1 208.7 117.1 209.7 117.9 208.8 117.0 207.8zM117.1 209.7 118.1 210.8 119.0 209.9 117.9 208.8zM105.5 224.0 106.9 225.4 107.7 224.6 106.3 223.1zM118.1 210.8 119.2 212.0 120.0 211.1 119.0 209.9zM106.9 225.4 108.4 226.7 109.2 225.8 107.7 224.6zM119.2 212.0 120.5 213.0 121.3 212.0 120.0 211.1zM108.4 226.7 110.0 228.0 110.8 227.0 109.2 225.8zM120.5 213.0 121.7 213.9 122.5 213.0 121.3 212.0zM110.0 228.0 111.6 229.2 112.3 228.3 110.8 227.0zM117.1 219.6 118.3 220.6 119.1 219.6 117.8 218.6zM119.4 216.8 120.6 217.7 121.3 216.7 120.2 215.8zM121.0 214.9 122.1 215.8 123.6 213.8 122.5 213.0zM111.6 229.2 113.1 230.5 113.9 229.5 112.3 228.3zM120.6 217.7 121.9 218.8 122.7 217.8 121.3 216.7zM122.1 215.8 123.4 216.8 124.9 214.9 123.6 213.8zM123.4 216.8 124.7 217.9 125.4 216.9 124.1 215.9zM114.7 231.7 116.4 232.9 117.1 231.9 115.4 230.8zM124.7 217.9 126.1 218.9 127.5 216.9 126.1 215.9zM116.4 232.9 118.1 233.9 118.8 232.9 117.1 231.9zM126.1 218.9 127.6 219.8 128.9 217.7 127.5 216.9zM118.1 233.9 119.8 235.0 120.4 234.0 118.8 232.9zM127.6 219.8 129.0 220.7 130.3 218.6 128.9 217.7zM119.8 235.0 121.5 236.1 122.1 235.1 120.4 234.0zM129.0 220.7 130.6 221.7 131.9 219.6 130.3 218.6zM121.5 236.1 123.2 237.2 123.8 236.2 122.1 235.1zM127.3 226.8 129.0 227.9 129.6 226.9 128.0 225.8zM130.6 221.7 132.2 222.7 133.5 220.7 131.9 219.6zM123.2 237.2 124.8 238.3 125.5 237.2 123.8 236.2zM129.0 227.9 130.6 228.9 131.3 227.9 129.6 226.9zM132.2 222.7 133.8 223.8 135.1 221.7 133.5 220.7zM124.8 238.3 126.6 239.3 127.2 238.3 125.5 237.2zM130.6 228.9 132.3 230.0 132.9 228.9 131.3 227.9zM133.2 224.8 134.8 225.8 136.7 222.7 135.1 221.7zM126.6 239.3 128.3 240.3 128.9 239.3 127.2 238.3zM132.3 230.0 134.0 231.0 134.6 229.9 132.9 228.9zM135.5 224.8 137.1 225.8 138.4 223.7 136.7 222.7zM128.3 240.3 130.0 241.4 130.6 240.3 128.9 239.3zM137.1 225.8 138.8 226.7 140.0 224.6 138.4 223.7zM130.0 241.4 131.7 242.4 132.4 241.4 130.6 240.3zM138.8 226.7 140.5 227.7 141.7 225.6 140.0 224.6zM131.7 242.4 133.5 243.4 134.1 242.4 132.4 241.4zM140.5 227.7 142.2 228.8 143.4 226.7 141.7 225.6zM133.5 243.4 135.2 244.5 135.8 243.4 134.1 242.4zM141.6 229.8 143.3 230.8 145.1 227.7 143.4 226.7zM135.2 244.5 136.9 245.5 137.5 244.4 135.8 243.4zM142.7 231.9 144.4 232.9 145.0 231.9 143.3 230.8zM143.9 229.8 145.6 230.8 146.9 228.7 145.1 227.7zM136.9 245.5 138.7 246.5 139.3 245.5 137.5 244.4zM144.4 232.9 146.1 233.9 146.7 232.9 145.0 231.9zM145.6 230.8 147.3 231.8 148.6 229.7 146.9 228.7zM138.7 246.5 140.4 247.5 141.0 246.5 139.3 245.5zM147.3 231.8 149.1 232.8 150.3 230.7 148.6 229.7zM140.4 247.5 142.1 248.6 142.7 247.5 141.0 246.5zM149.1 232.8 150.8 233.9 152.0 231.8 150.3 230.7zM147.7 239.1 149.4 240.1 150.0 239.1 148.3 238.1zM150.8 233.9 152.5 234.9 153.8 232.8 152.0 231.8zM143.8 249.6 145.6 250.6 146.2 249.5 144.5 248.5zM149.4 240.1 151.2 241.1 151.8 240.1 150.0 239.1zM153.1 233.8 154.9 234.8 155.5 233.8 153.8 232.8zM145.6 250.6 147.3 251.6 147.9 250.6 146.2 249.5zM154.2 235.9 156.0 236.9 157.2 234.8 155.5 233.8zM147.3 251.6 149.0 252.6 149.7 251.6 147.9 250.6zM156.0 236.9 157.7 237.9 158.9 235.8 157.2 234.8zM149.0 252.6 150.8 253.7 151.4 252.6 149.7 251.6zM157.1 239.0 158.8 240.0 160.6 236.8 158.9 235.8zM158.8 240.0 160.5 241.0 162.3 237.8 160.6 236.8zM159.9 242.0 161.6 243.0 162.2 242.0 160.5 241.0zM161.1 239.9 162.8 240.9 164.0 238.8 162.3 237.8zM161.0 244.1 162.7 245.1 163.9 242.9 162.2 242.0zM162.8 240.9 164.5 241.9 165.7 239.8 164.0 238.8zM156.0 256.7 157.7 257.7 158.3 256.6 156.6 255.6zM162.7 245.1 164.4 246.0 165.0 245.0 163.3 244.0zM164.5 241.9 166.2 242.9 167.4 240.7 165.7 239.8zM157.7 257.7 159.5 258.7 160.1 257.6 158.3 256.6zM165.0 245.0 166.7 246.0 167.3 244.9 165.6 243.9zM166.2 242.9 167.9 243.8 169.1 241.7 167.4 240.7zM167.9 243.8 169.7 244.8 170.9 242.7 169.1 241.7zM169.7 244.8 171.4 245.8 172.6 243.7 170.9 242.7zM171.4 245.8 173.1 246.8 174.3 244.6 172.6 243.7zM164.7 261.7 166.5 262.7 167.1 261.6 165.3 260.6zM173.1 246.8 174.8 247.7 175.9 245.6 174.3 244.6zM166.5 262.7 168.2 263.6 168.8 262.5 167.1 261.6zM174.8 247.7 176.5 248.7 177.6 246.5 175.9 245.6zM176.5 248.7 178.2 249.6 179.3 247.5 177.6 246.5zM170.0 264.6 171.8 265.5 172.3 264.5 170.6 263.5zM177.6 250.7 179.3 251.6 181.0 248.4 179.3 247.5zM171.8 265.5 173.5 266.5 174.1 265.4 172.3 264.5zM179.3 251.6 181.0 252.5 182.2 250.4 180.5 249.4zM181.6 251.4 183.3 252.4 184.5 250.2 182.8 249.3zM183.3 252.4 185.0 253.3 186.2 251.1 184.5 250.2zM177.1 268.4 178.9 269.3 179.4 268.2 177.6 267.3zM185.0 253.3 186.8 254.2 187.9 252.1 186.2 251.1zM187.3 253.1 189.1 254.0 189.6 252.9 187.9 252.1zM180.6 270.2 182.4 271.2 183.0 270.1 181.2 269.2zM186.8 258.3 188.6 259.3 189.1 258.2 187.4 257.3zM188.5 255.1 190.3 256.0 191.4 253.8 189.6 252.9zM188.6 259.3 190.3 260.2 191.5 258.0 189.7 257.1zM190.3 256.0 192.0 256.9 193.1 254.7 191.4 253.8zM184.2 272.1 186.0 273.0 186.6 271.9 184.8 271.0zM192.0 256.9 193.8 257.8 194.9 255.7 193.1 254.7z"/>
<path fill="#b0ab94" stroke="#b0ab94" stroke-width="0.35" d="M97.8 17.1 95.8 18.5 96.4 19.3 98.4 17.9zM88.2 15.0 86.5 16.0 87.1 16.9 88.8 15.9zM84.7 24.5 83.2 25.5 84.3 27.2 85.9 26.2zM66.6 43.0 65.8 44.6 66.8 45.1 67.6 43.5zM69.5 44.5 68.8 46.0 69.8 46.5 70.5 45.0zM67.8 45.5 67.0 47.2 69.1 48.1 69.8 46.5zM65.0 46.2 64.4 48.0 67.5 49.3 68.1 47.6zM64.4 48.0 63.8 49.6 66.0 50.4 66.5 48.9zM67.5 49.3 67.0 50.8 68.1 51.2 68.5 49.8zM62.8 49.2 62.2 50.8 68.7 53.0 69.1 51.6zM62.2 50.8 61.6 52.6 67.2 54.3 67.6 52.7zM68.7 53.0 68.3 54.6 69.4 55.0 69.8 53.4zM61.6 52.6 61.2 54.4 68.0 56.3 68.3 54.6zM62.4 54.7 62.0 56.5 67.8 57.8 68.0 56.3zM60.9 56.2 60.5 58.0 67.6 59.4 67.8 57.8zM60.5 58.0 60.2 59.9 68.5 61.5 68.7 59.7zM60.2 59.9 59.9 61.8 61.1 62.0 61.4 60.1zM62.6 60.3 62.3 62.2 68.4 63.3 68.5 61.5zM59.9 61.8 59.7 63.7 69.4 65.3 69.6 63.5zM59.7 63.7 59.5 65.6 69.3 67.1 69.4 65.3zM59.5 65.6 59.2 67.6 69.3 69.1 69.3 67.1zM59.2 67.6 59.1 69.6 69.3 71.0 69.3 69.1zM59.1 69.6 58.9 71.5 60.2 71.7 60.4 69.7zM61.6 69.9 61.5 71.9 69.3 72.9 69.3 71.0zM58.9 71.5 58.8 73.4 69.4 74.8 69.3 72.9zM58.8 73.4 58.6 75.4 61.3 75.7 61.4 73.8zM62.8 73.9 62.7 75.9 68.1 76.5 68.1 74.6zM58.6 75.4 58.5 77.4 69.5 78.5 69.4 76.6zM58.5 77.4 58.5 79.2 69.7 80.2 69.5 78.5zM58.5 79.2 58.4 81.1 69.8 81.8 69.7 80.2zM58.4 81.1 58.4 82.9 69.9 83.3 69.8 81.8zM58.4 82.9 58.4 84.8 70.2 85.0 69.9 83.3zM58.4 84.8 58.6 86.5 70.6 86.2 70.2 85.0zM71.7 85.0 72.0 86.2 73.5 86.2 73.1 85.0zM58.6 86.5 58.8 88.1 70.9 87.2 70.6 86.2zM58.8 88.1 58.9 89.8 71.0 88.4 70.9 87.2zM58.9 89.8 59.1 91.5 71.2 89.7 71.0 88.4zM72.5 88.2 72.7 89.5 74.2 89.3 74.1 88.0zM59.1 91.5 59.5 93.1 69.9 90.9 69.7 89.9zM59.5 93.1 59.8 94.5 71.5 91.3 71.4 90.6zM61.2 94.1 61.6 95.7 71.7 92.4 71.5 91.3zM60.1 96.1 60.7 97.8 72.1 93.6 71.7 92.4zM74.5 91.4 75.0 92.6 76.4 92.1 76.0 90.9zM60.7 97.8 61.4 99.3 72.6 94.6 72.1 93.6zM61.4 99.3 62.1 100.8 64.8 99.5 64.2 98.1zM65.6 97.5 66.2 98.8 73.0 95.6 72.6 94.6zM62.1 100.8 62.8 102.5 73.6 97.0 73.0 95.6zM62.8 102.5 63.8 104.2 74.5 98.7 73.6 97.0zM63.8 104.2 64.8 106.0 75.5 100.5 74.5 98.7zM64.8 106.0 65.7 107.8 76.3 102.4 75.5 100.5zM64.4 108.4 65.2 110.4 74.5 105.9 73.7 103.8zM65.2 110.4 66.0 112.5 76.6 108.0 75.8 105.3zM66.0 112.5 66.8 114.6 77.5 110.7 76.6 108.0zM66.8 114.6 67.6 116.8 78.2 113.4 77.5 110.7zM68.9 116.3 69.4 118.5 78.6 115.9 78.2 113.4zM68.1 118.9 68.4 121.1 75.0 119.4 74.7 117.0zM76.0 116.6 76.3 119.1 78.9 118.4 78.6 115.9zM68.4 121.1 68.8 123.3 79.2 121.1 78.9 118.4zM68.8 123.3 69.2 125.3 79.6 123.3 79.2 121.1zM69.2 125.3 69.6 127.3 77.4 125.9 77.0 123.8zM77.4 125.9 77.8 128.0 83.0 127.1 82.6 125.0zM77.8 128.0 78.2 130.1 83.4 129.3 83.0 127.1zM78.2 130.1 78.5 132.2 83.8 131.4 83.4 129.3zM78.5 132.2 78.9 134.1 84.2 133.3 83.8 131.4zM78.9 134.1 79.2 136.0 84.5 135.2 84.2 133.3zM79.2 136.0 79.5 137.9 80.9 137.7 80.5 135.8zM81.9 135.6 82.2 137.5 84.8 137.0 84.5 135.2zM82.2 137.5 82.5 139.4 86.4 138.7 86.2 136.8zM82.5 139.4 82.8 141.3 86.7 140.5 86.4 138.7zM82.8 141.3 83.1 143.2 87.0 142.4 86.7 140.5zM83.1 143.2 83.4 145.1 87.3 144.4 87.0 142.4zM83.4 145.1 83.8 147.1 87.7 146.4 87.3 144.4zM83.8 147.1 84.0 148.9 87.9 148.2 87.7 146.4zM84.0 148.9 84.3 150.8 88.2 149.9 87.9 148.2zM84.3 150.8 84.6 152.6 88.4 151.8 88.2 149.9zM84.6 152.6 84.9 154.4 88.7 153.5 88.4 151.8zM84.9 154.4 85.2 156.3 89.0 155.3 88.7 153.5zM87.7 155.6 88.0 157.5 89.2 157.2 89.0 155.3zM88.0 157.5 88.3 159.4 89.5 159.1 89.2 157.2zM88.3 159.4 88.7 161.4 89.9 161.1 89.5 159.1zM88.7 161.4 88.9 163.2 90.1 162.9 89.9 161.1zM88.9 163.2 89.2 165.0 90.4 164.7 90.1 162.9zM89.2 165.0 89.5 166.8 90.6 166.4 90.4 164.7zM89.5 166.8 89.9 168.5 91.0 168.1 90.6 166.4zM89.9 168.5 90.3 170.2 91.5 169.8 91.0 168.1zM90.3 170.2 90.9 171.9 92.1 171.5 91.5 169.8zM90.9 171.9 91.6 173.7 92.7 173.3 92.1 171.5zM91.6 173.7 92.3 175.5 93.4 175.1 92.7 173.3zM92.3 175.5 92.8 177.0 94.0 176.6 93.4 175.1zM92.8 177.0 93.4 178.6 94.5 178.1 94.0 176.6zM93.4 178.6 94.0 180.1 95.1 179.6 94.5 178.1zM94.0 180.1 94.8 181.5 95.9 181.0 95.1 179.6zM94.8 181.5 95.6 183.0 96.6 182.5 95.9 181.0zM95.6 183.0 96.3 184.4 97.4 183.9 96.6 182.5zM96.3 184.4 97.1 185.9 98.2 185.3 97.4 183.9zM97.1 185.9 97.8 187.3 98.9 186.7 98.2 185.3zM97.8 187.3 98.6 188.7 99.6 188.1 98.9 186.7zM98.6 188.7 99.6 190.0 100.6 189.3 99.6 188.1zM99.6 190.0 100.5 191.3 101.5 190.6 100.6 189.3zM100.5 191.3 101.3 192.5 102.3 191.8 101.5 190.6zM101.3 192.5 102.4 194.0 103.3 193.2 102.3 191.8zM102.4 194.0 103.4 195.4 104.4 194.7 103.3 193.2zM103.4 195.4 104.6 196.9 105.5 196.1 104.4 194.7zM104.6 196.9 105.7 198.2 106.6 197.5 105.5 196.1zM105.7 198.2 106.8 199.7 107.8 198.9 106.6 197.5zM106.8 199.7 108.0 201.2 109.0 200.4 107.8 198.9zM108.0 201.2 109.3 202.7 110.2 201.9 109.0 200.4zM109.3 202.7 110.5 204.1 111.4 203.3 110.2 201.9zM110.5 204.1 111.6 205.5 112.5 204.7 111.4 203.3zM111.6 205.5 112.7 206.9 113.6 206.0 112.5 204.7zM112.7 206.9 114.0 208.2 114.9 207.4 113.6 206.0zM114.0 208.2 115.2 209.5 116.1 208.7 114.9 207.4zM115.2 209.5 116.2 210.5 117.1 209.7 116.1 208.7zM116.2 210.5 117.3 211.7 118.1 210.8 117.1 209.7zM117.3 211.7 118.4 212.9 119.2 212.0 118.1 210.8zM118.4 212.9 119.7 213.9 120.5 213.0 119.2 212.0zM119.7 213.9 121.0 214.9 121.7 213.9 120.5 213.0zM120.2 215.8 121.3 216.7 122.1 215.8 121.0 214.9zM118.3 220.6 119.7 221.7 120.5 220.7 119.1 219.6zM121.3 216.7 122.7 217.8 123.4 216.8 122.1 215.8zM121.2 219.8 122.6 220.9 124.0 218.9 122.7 217.8zM122.6 220.9 124.0 221.9 125.4 219.9 124.0 218.9zM124.0 221.9 125.5 222.8 126.9 220.8 125.4 219.9zM125.7 225.8 127.3 226.8 128.0 225.8 126.4 224.8zM130.0 222.7 131.6 223.8 132.2 222.7 130.6 221.7zM131.6 223.8 133.2 224.8 133.8 223.8 132.2 222.7zM136.9 229.9 138.6 230.9 139.2 229.8 137.5 228.8zM137.3 233.0 139.1 234.0 139.7 233.0 138.0 231.9zM139.1 234.0 140.8 235.0 142.0 232.9 140.3 231.9zM140.9 230.9 142.7 231.9 143.3 230.8 141.6 229.8zM141.4 234.0 143.1 235.0 143.8 233.9 142.0 232.9zM143.3 230.8 145.0 231.9 145.6 230.8 143.9 229.8zM143.1 235.0 144.9 236.0 145.5 235.0 143.8 233.9zM145.0 231.9 146.7 232.9 147.3 231.8 145.6 230.8zM144.2 237.1 146.0 238.1 147.2 236.0 145.5 235.0zM146.1 233.9 147.8 234.9 148.4 233.9 146.7 232.9zM146.0 238.1 147.7 239.1 148.9 237.0 147.2 236.0zM147.8 234.9 149.6 236.0 150.2 234.9 148.4 233.9zM149.6 236.0 151.3 237.0 151.9 235.9 150.2 234.9zM151.3 237.0 153.0 238.0 153.6 236.9 151.9 235.9zM151.2 241.1 152.9 242.2 153.5 241.1 151.8 240.1zM153.0 238.0 154.7 239.0 156.0 236.9 154.2 235.9zM152.9 242.2 154.6 243.2 155.2 242.1 153.5 241.1zM154.7 239.0 156.4 240.0 157.7 237.9 156.0 236.9zM156.4 240.0 158.2 241.0 158.8 240.0 157.1 239.0zM158.2 241.0 159.9 242.0 160.5 241.0 158.8 240.0zM159.2 243.1 161.0 244.1 161.6 243.0 159.9 242.0zM160.5 241.0 162.2 242.0 162.8 240.9 161.1 239.9zM162.2 242.0 163.9 242.9 164.5 241.9 162.8 240.9zM162.1 246.1 163.8 247.1 164.4 246.0 162.7 245.1zM163.8 247.1 165.5 248.1 166.7 246.0 165.0 245.0zM165.5 248.1 167.3 249.1 167.9 248.0 166.1 247.0zM166.7 246.0 168.5 247.0 169.1 245.9 167.3 244.9zM167.3 249.1 169.0 250.1 169.6 249.0 167.9 248.0zM169.0 250.1 170.7 251.0 171.3 250.0 169.6 249.0zM174.2 248.8 175.9 249.7 176.5 248.7 174.8 247.7zM175.9 249.7 177.6 250.7 178.2 249.6 176.5 248.7zM178.1 253.7 179.9 254.7 180.5 253.6 178.7 252.7zM179.9 254.7 181.6 255.6 182.2 254.5 180.5 253.6zM181.0 252.5 182.8 253.5 183.3 252.4 181.6 251.4zM181.6 255.6 183.3 256.5 183.9 255.5 182.2 254.5zM182.8 253.5 184.5 254.4 185.0 253.3 183.3 252.4zM181.6 259.8 183.4 260.7 183.9 259.6 182.2 258.7zM183.3 256.5 185.1 257.4 185.6 256.4 183.9 255.5zM184.5 254.4 186.2 255.3 186.8 254.2 185.0 253.3zM183.4 260.7 185.1 261.6 185.7 260.5 183.9 259.6zM185.1 257.4 186.8 258.3 187.4 257.3 185.6 256.4zM187.4 257.3 189.1 258.2 189.7 257.1 188.0 256.2z"/>
<path fill="#8c9f97" stroke="#8c9f97" stroke-width="0.35" d="M68.1 74.6 68.1 76.5 69.4 76.6 69.4 74.8zM69.7 89.9 69.9 90.9 71.4 90.6 71.2 89.7zM73.7 103.8 74.5 105.9 75.8 105.3 75.0 103.1zM67.6 116.8 68.1 118.9 69.4 118.5 68.9 116.3zM74.7 117.0 75.0 119.4 76.3 119.1 76.0 116.6zM70.9 127.1 71.3 129.1 72.6 128.9 72.2 126.9zM73.5 126.6 73.9 128.7 77.8 128.0 77.4 125.9zM72.6 128.9 72.9 131.0 75.6 130.5 75.2 128.5zM76.5 128.2 76.9 130.3 78.2 130.1 77.8 128.0zM71.6 131.2 72.0 133.2 74.6 132.8 74.2 130.8zM75.6 130.5 75.9 132.6 78.5 132.2 78.2 130.1zM72.0 133.2 72.3 135.2 76.2 134.5 75.9 132.6zM77.2 132.4 77.6 134.3 78.9 134.1 78.5 132.2zM73.6 135.0 73.9 136.9 77.9 136.2 77.6 134.3zM73.9 136.9 74.2 138.8 75.6 138.6 75.2 136.7zM76.6 136.5 76.9 138.4 79.5 137.9 79.2 136.0zM80.5 135.8 80.9 137.7 82.2 137.5 81.9 135.6zM78.2 138.2 78.5 140.1 79.8 139.8 79.5 137.9zM77.2 140.3 77.5 142.2 81.5 141.5 81.2 139.6zM77.5 142.2 77.9 144.1 81.8 143.4 81.5 141.5zM77.9 144.1 78.2 146.1 82.1 145.4 81.8 143.4zM78.2 146.1 78.6 148.1 82.5 147.3 82.1 145.4zM78.6 148.1 78.9 150.0 80.2 149.7 79.9 147.8zM81.2 147.6 81.5 149.5 82.8 149.2 82.5 147.3zM79.2 151.8 79.5 153.7 83.3 152.9 83.1 151.0zM79.5 153.7 79.9 155.6 81.1 155.3 80.8 153.4zM82.0 153.2 82.4 155.0 84.9 154.4 84.6 152.6zM82.4 155.0 82.7 156.9 85.2 156.3 84.9 154.4zM85.2 156.3 85.5 158.1 88.0 157.5 87.7 155.6zM85.5 158.1 85.9 160.1 88.3 159.4 88.0 157.5zM85.9 160.1 86.2 162.1 88.7 161.4 88.3 159.4zM86.2 162.1 86.6 163.9 88.9 163.2 88.7 161.4zM86.6 163.9 86.9 165.7 89.2 165.0 88.9 163.2zM86.9 165.7 87.1 167.5 89.5 166.8 89.2 165.0zM87.1 167.5 87.6 169.2 89.9 168.5 89.5 166.8zM87.6 169.2 88.1 170.9 90.3 170.2 89.9 168.5zM88.1 170.9 88.7 172.6 90.9 171.9 90.3 170.2zM88.7 172.6 89.4 174.5 91.6 173.7 90.9 171.9zM89.4 174.5 90.0 176.3 92.3 175.5 91.6 173.7zM90.0 176.3 90.6 177.9 92.8 177.0 92.3 175.5zM90.6 177.9 91.2 179.5 93.4 178.6 92.8 177.0zM91.2 179.5 91.8 181.0 94.0 180.1 93.4 178.6zM91.8 181.0 92.6 182.5 94.8 181.5 94.0 180.1zM92.6 182.5 93.4 184.0 95.6 183.0 94.8 181.5zM93.4 184.0 94.2 185.5 96.3 184.4 95.6 183.0zM94.2 185.5 95.0 187.0 97.1 185.9 96.3 184.4zM95.0 187.0 95.7 188.5 97.8 187.3 97.1 185.9zM95.7 188.5 96.5 190.0 98.6 188.7 97.8 187.3zM96.5 190.0 97.5 191.3 99.6 190.0 98.6 188.7zM97.5 191.3 98.4 192.6 100.5 191.3 99.6 190.0zM98.4 192.6 99.3 193.9 101.3 192.5 100.5 191.3zM99.3 193.9 100.4 195.4 102.4 194.0 101.3 192.5zM100.4 195.4 101.5 196.9 103.4 195.4 102.4 194.0zM101.5 196.9 102.6 198.4 104.6 196.9 103.4 195.4zM102.6 198.4 103.8 199.8 105.7 198.2 104.6 196.9zM103.8 199.8 104.9 201.2 106.8 199.7 105.7 198.2zM104.9 201.2 106.1 202.7 108.0 201.2 106.8 199.7zM106.1 202.7 107.4 204.2 109.3 202.7 108.0 201.2zM107.4 204.2 108.6 205.7 110.5 204.1 109.3 202.7zM108.6 205.7 109.7 207.0 111.6 205.5 110.5 204.1zM109.7 207.0 110.9 208.5 112.7 206.9 111.6 205.5zM110.9 208.5 112.2 209.8 114.0 208.2 112.7 206.9zM112.2 209.8 113.4 211.1 115.2 209.5 114.0 208.2zM113.4 211.1 114.5 212.2 116.2 210.5 115.2 209.5zM114.5 212.2 115.6 213.4 117.3 211.7 116.2 210.5zM115.6 213.4 116.8 214.7 118.4 212.9 117.3 211.7zM116.8 214.7 118.1 215.7 119.7 213.9 118.4 212.9zM118.1 215.7 119.4 216.8 121.0 214.9 119.7 213.9zM115.5 221.4 116.8 222.5 118.3 220.6 117.1 219.6zM117.8 218.6 119.1 219.6 120.6 217.7 119.4 216.8zM116.8 222.5 118.3 223.7 119.0 222.7 117.6 221.5zM119.1 219.6 120.5 220.7 121.9 218.8 120.6 217.7zM119.7 221.7 121.1 222.9 121.9 221.9 120.5 220.7zM122.7 217.8 124.0 218.9 124.7 217.9 123.4 216.8zM124.0 218.9 125.4 219.9 126.1 218.9 124.7 217.9zM125.4 219.9 126.9 220.8 127.6 219.8 126.1 218.9zM124.2 224.8 125.7 225.8 129.0 220.7 127.6 219.8zM127.7 222.7 129.3 223.8 130.6 221.7 129.0 220.7zM126.7 227.9 128.3 228.9 129.0 227.9 127.3 226.8zM128.0 225.8 129.6 226.9 130.3 225.8 128.6 224.8zM129.3 223.8 130.9 224.8 131.6 223.8 130.0 222.7zM129.6 226.9 131.3 227.9 131.9 226.9 130.3 225.8zM130.9 224.8 132.6 225.8 133.2 224.8 131.6 223.8zM131.3 227.9 132.9 228.9 134.2 226.9 132.6 225.8zM133.6 227.9 135.2 228.9 135.9 227.8 134.2 226.9zM132.7 233.1 134.4 234.1 135.0 233.0 133.3 232.0zM135.2 228.9 136.9 229.9 137.5 228.8 135.9 227.8zM134.4 234.1 136.1 235.1 136.7 234.0 135.0 233.0zM137.5 228.8 139.2 229.8 139.8 228.8 138.1 227.8zM136.1 235.1 137.8 236.1 138.5 235.0 136.7 234.0zM138.0 231.9 139.7 233.0 141.6 229.8 139.8 228.8zM137.8 236.1 139.6 237.1 140.2 236.1 138.5 235.0zM140.3 231.9 142.0 232.9 142.7 231.9 140.9 230.9zM140.2 236.1 141.9 237.1 143.1 235.0 141.4 234.0zM142.0 232.9 143.8 233.9 144.4 232.9 142.7 231.9zM141.9 237.1 143.6 238.1 144.9 236.0 143.1 235.0zM143.8 233.9 145.5 235.0 146.1 233.9 144.4 232.9zM145.5 235.0 147.2 236.0 147.8 234.9 146.1 233.9zM146.7 232.9 148.4 233.9 149.1 232.8 147.3 231.8zM147.2 236.0 148.9 237.0 149.6 236.0 147.8 234.9zM148.4 233.9 150.2 234.9 150.8 233.9 149.1 232.8zM148.3 238.1 150.0 239.1 151.3 237.0 149.6 236.0zM150.0 239.1 151.8 240.1 153.0 238.0 151.3 237.0zM151.9 235.9 153.6 236.9 154.2 235.9 152.5 234.9zM151.8 240.1 153.5 241.1 154.7 239.0 153.0 238.0zM153.5 241.1 155.2 242.1 156.4 240.0 154.7 239.0zM154.6 243.2 156.3 244.2 158.2 241.0 156.4 240.0zM156.9 243.1 158.6 244.1 159.9 242.0 158.2 241.0zM158.6 244.1 160.3 245.1 161.0 244.1 159.2 243.1zM160.3 245.1 162.1 246.1 162.7 245.1 161.0 244.1zM163.9 242.9 165.6 243.9 166.2 242.9 164.5 241.9zM165.6 243.9 167.3 244.9 167.9 243.8 166.2 242.9zM166.1 247.0 167.9 248.0 168.5 247.0 166.7 246.0zM167.3 244.9 169.1 245.9 169.7 244.8 167.9 243.8zM168.5 247.0 170.2 247.9 171.4 245.8 169.7 244.8zM167.2 253.2 168.9 254.2 169.5 253.2 167.8 252.2zM168.4 251.1 170.1 252.1 170.7 251.0 169.0 250.1zM170.8 246.9 172.5 247.8 173.1 246.8 171.4 245.8zM170.1 252.1 171.8 253.1 173.0 250.9 171.3 250.0zM172.5 247.8 174.2 248.8 174.8 247.7 173.1 246.8zM171.8 253.1 173.5 254.0 174.7 251.9 173.0 250.9zM174.1 252.9 175.8 253.9 177.0 251.7 175.3 250.8zM176.4 252.8 178.1 253.7 178.7 252.7 177.0 251.7zM179.9 258.8 181.6 259.8 182.2 258.7 180.5 257.8zM186.2 255.3 188.0 256.2 188.5 255.1 186.8 254.2zM185.1 261.6 186.9 262.5 187.5 261.4 185.7 260.5zM188.0 256.2 189.7 257.1 190.3 256.0 188.5 255.1zM189.8 261.2 191.6 262.2 192.1 261.1 190.3 260.2z"/>
<path fill="#6494a8" stroke="#6494a8" stroke-width="0.35" d="M60.4 110.5 61.3 112.3 65.2 110.4 64.4 108.4zM62.6 111.6 63.4 113.6 64.7 113.1 63.9 111.0zM62.1 114.2 62.8 116.1 66.8 114.6 66.0 112.5zM62.8 116.1 63.6 118.0 67.6 116.8 66.8 114.6zM63.6 118.0 64.1 120.0 68.1 118.9 67.6 116.8zM64.1 120.0 64.5 122.0 68.4 121.1 68.1 118.9zM64.5 122.0 64.9 124.1 68.8 123.3 68.4 121.1zM64.9 124.1 65.3 126.1 69.2 125.3 68.8 123.3zM65.3 126.1 65.8 128.0 69.6 127.3 69.2 125.3zM69.6 127.3 70.0 129.4 71.3 129.1 70.9 127.1zM72.2 126.9 72.6 128.9 73.9 128.7 73.5 126.6zM71.3 129.1 71.6 131.2 72.9 131.0 72.6 128.9zM75.2 128.5 75.6 130.5 76.9 130.3 76.5 128.2zM74.2 130.8 74.6 132.8 75.9 132.6 75.6 130.5zM75.9 132.6 76.2 134.5 77.6 134.3 77.2 132.4zM72.3 135.2 72.6 137.1 73.9 136.9 73.6 135.0zM77.6 134.3 77.9 136.2 79.2 136.0 78.9 134.1zM72.6 137.1 72.9 139.1 74.2 138.8 73.9 136.9zM75.2 136.7 75.6 138.6 76.9 138.4 76.6 136.5zM76.9 138.4 77.2 140.3 78.5 140.1 78.2 138.2zM79.5 137.9 79.8 139.8 82.5 139.4 82.2 137.5zM81.2 139.6 81.5 141.5 82.8 141.3 82.5 139.4zM81.5 141.5 81.8 143.4 83.1 143.2 82.8 141.3zM81.8 143.4 82.1 145.4 83.4 145.1 83.1 143.2zM82.1 145.4 82.5 147.3 83.8 147.1 83.4 145.1zM79.9 147.8 80.2 149.7 81.5 149.5 81.2 147.6zM82.5 147.3 82.8 149.2 84.0 148.9 83.8 147.1zM78.9 150.0 79.2 151.8 84.3 150.8 84.0 148.9zM83.1 151.0 83.3 152.9 84.6 152.6 84.3 150.8zM80.8 153.4 81.1 155.3 82.4 155.0 82.0 153.2zM79.9 155.6 80.2 157.5 82.7 156.9 82.4 155.0zM81.5 157.2 81.8 159.0 85.5 158.1 85.2 156.3zM81.8 159.0 82.2 161.0 85.9 160.1 85.5 158.1zM82.2 161.0 82.6 163.0 86.2 162.1 85.9 160.1zM82.6 163.0 83.0 164.8 86.6 163.9 86.2 162.1zM83.0 164.8 83.3 166.7 86.9 165.7 86.6 163.9zM83.3 166.7 83.7 168.5 87.1 167.5 86.9 165.7zM83.7 168.5 84.1 170.3 87.6 169.2 87.1 167.5zM84.1 170.3 84.7 172.1 88.1 170.9 87.6 169.2zM84.7 172.1 85.3 173.8 88.7 172.6 88.1 170.9zM85.3 173.8 86.0 175.7 89.4 174.5 88.7 172.6zM86.0 175.7 86.6 177.5 90.0 176.3 89.4 174.5zM86.6 177.5 87.2 179.2 90.6 177.9 90.0 176.3zM87.2 179.2 87.8 180.8 91.2 179.5 90.6 177.9zM87.8 180.8 88.5 182.5 91.8 181.0 91.2 179.5zM88.5 182.5 89.3 184.0 92.6 182.5 91.8 181.0zM89.3 184.0 90.1 185.6 93.4 184.0 92.6 182.5zM90.1 185.6 91.0 187.2 94.2 185.5 93.4 184.0zM91.0 187.2 91.8 188.7 95.0 187.0 94.2 185.5zM91.8 188.7 92.6 190.3 95.7 188.5 95.0 187.0zM92.6 190.3 93.4 191.8 96.5 190.0 95.7 188.5zM93.4 191.8 94.4 193.3 97.5 191.3 96.5 190.0zM94.4 193.3 95.4 194.7 98.4 192.6 97.5 191.3zM95.4 194.7 96.4 196.0 99.3 193.9 98.4 192.6zM96.4 196.0 97.4 197.6 100.4 195.4 99.3 193.9zM97.4 197.6 98.6 199.1 101.5 196.9 100.4 195.4zM98.6 199.1 99.7 200.6 102.6 198.4 101.5 196.9zM99.7 200.6 100.9 202.0 103.8 199.8 102.6 198.4zM100.9 202.0 102.1 203.5 104.9 201.2 103.8 199.8zM102.1 203.5 103.3 205.0 106.1 202.7 104.9 201.2zM103.3 205.0 104.6 206.6 107.4 204.2 106.1 202.7zM104.6 206.6 105.8 208.0 108.6 205.7 107.4 204.2zM105.8 208.0 107.0 209.4 109.7 207.0 108.6 205.7zM107.0 209.4 108.2 210.9 110.9 208.5 109.7 207.0zM108.2 210.9 109.4 212.3 112.2 209.8 110.9 208.5zM109.4 212.3 110.7 213.6 113.4 211.1 112.2 209.8zM110.7 213.6 111.9 214.8 114.5 212.2 113.4 211.1zM111.9 214.8 113.1 216.1 115.6 213.4 114.5 212.2zM113.1 216.1 114.3 217.4 116.8 214.7 115.6 213.4zM114.3 217.4 115.7 218.5 118.1 215.7 116.8 214.7zM115.7 218.5 117.1 219.6 119.4 216.8 118.1 215.7zM117.6 221.5 119.0 222.7 119.7 221.7 118.3 220.6zM118.3 223.7 119.7 224.8 121.1 222.9 119.7 221.7zM120.5 220.7 121.9 221.9 122.6 220.9 121.2 219.8zM119.7 224.8 121.3 225.9 124.0 221.9 122.6 220.9zM121.3 225.9 122.8 226.9 125.5 222.8 124.0 221.9zM122.8 226.9 124.4 227.9 125.7 225.8 124.2 224.8zM125.0 226.8 126.7 227.9 127.3 226.8 125.7 225.8zM126.4 224.8 128.0 225.8 129.3 223.8 127.7 222.7zM126.0 228.9 127.7 230.0 128.3 228.9 126.7 227.9zM128.6 224.8 130.3 225.8 130.9 224.8 129.3 223.8zM127.7 230.0 129.3 231.0 130.6 228.9 129.0 227.9zM130.3 225.8 131.9 226.9 132.6 225.8 130.9 224.8zM129.3 231.0 131.0 232.0 132.3 230.0 130.6 228.9zM132.6 225.8 134.2 226.9 134.8 225.8 133.2 224.8zM131.0 232.0 132.7 233.1 133.3 232.0 131.7 231.0zM132.9 228.9 134.6 229.9 135.2 228.9 133.6 227.9zM134.2 226.9 135.9 227.8 136.5 226.8 134.8 225.8zM134.6 229.9 136.3 230.9 136.9 229.9 135.2 228.9zM135.9 227.8 137.5 228.8 138.1 227.8 136.5 226.8zM136.3 230.9 138.0 231.9 138.6 230.9 136.9 229.9zM136.7 234.0 138.5 235.0 139.1 234.0 137.3 233.0zM138.5 235.0 140.2 236.1 140.8 235.0 139.1 234.0zM139.6 237.1 141.3 238.1 141.9 237.1 140.2 236.1zM141.3 238.1 143.0 239.2 143.6 238.1 141.9 237.1zM143.0 239.2 144.7 240.2 146.0 238.1 144.2 237.1zM145.3 239.1 147.1 240.2 147.7 239.1 146.0 238.1zM147.1 240.2 148.8 241.2 149.4 240.1 147.7 239.1zM150.2 234.9 151.9 235.9 152.5 234.9 150.8 233.9zM151.6 244.3 153.4 245.3 154.0 244.2 152.3 243.2zM153.4 245.3 155.1 246.3 155.7 245.2 154.0 244.2zM155.1 246.3 156.8 247.3 157.4 246.2 155.7 245.2zM156.3 244.2 158.0 245.2 158.6 244.1 156.9 243.1zM156.8 247.3 158.5 248.3 159.1 247.2 157.4 246.2zM158.5 248.3 160.2 249.3 160.8 248.2 159.1 247.2zM163.7 251.3 165.5 252.3 166.7 250.1 164.9 249.1zM165.5 252.3 167.2 253.2 167.8 252.2 166.1 251.2zM166.7 250.1 168.4 251.1 169.0 250.1 167.3 249.1zM167.8 252.2 169.5 253.2 170.1 252.1 168.4 251.1zM170.2 247.9 171.9 248.9 172.5 247.8 170.8 246.9zM168.9 254.2 170.6 255.2 171.8 253.1 170.1 252.1zM171.9 248.9 173.6 249.9 174.2 248.8 172.5 247.8zM173.0 250.9 174.7 251.9 175.9 249.7 174.2 248.8zM173.5 254.0 175.3 254.9 175.8 253.9 174.1 252.9zM175.3 250.8 177.0 251.7 177.6 250.7 175.9 249.7zM175.3 254.9 177.0 255.9 178.1 253.7 176.4 252.8zM177.0 251.7 178.7 252.7 179.3 251.6 177.6 250.7zM177.0 255.9 178.7 256.8 179.3 255.7 177.6 254.8zM178.7 252.7 180.5 253.6 181.0 252.5 179.3 251.6zM178.2 257.9 179.9 258.8 181.0 256.7 179.3 255.7zM180.5 253.6 182.2 254.5 182.8 253.5 181.0 252.5zM180.5 257.8 182.2 258.7 182.8 257.6 181.0 256.7zM182.2 258.7 183.9 259.6 184.5 258.5 182.8 257.6zM183.9 259.6 185.7 260.5 186.3 259.4 184.5 258.5zM185.6 256.4 187.4 257.3 188.0 256.2 186.2 255.3zM185.7 260.5 187.5 261.4 188.0 260.3 186.3 259.4zM186.9 262.5 188.7 263.4 190.3 260.2 188.6 259.3zM189.7 257.1 191.5 258.0 192.0 256.9 190.3 256.0zM188.1 264.5 189.9 265.4 191.6 262.2 189.8 261.2zM191.5 258.0 193.3 258.9 193.8 257.8 192.0 256.9z"/>
<path fill="#4779a4" stroke="#4779a4" stroke-width="0.35" d="M61.3 112.3 62.1 114.2 63.4 113.6 62.6 111.6zM63.9 111.0 64.7 113.1 66.0 112.5 65.2 110.4zM65.8 128.0 66.1 130.0 70.0 129.4 69.6 127.3zM66.1 130.0 66.4 132.0 71.6 131.2 71.3 129.1zM66.4 132.0 66.7 134.0 72.0 133.2 71.6 131.2zM66.7 134.0 67.0 136.0 72.3 135.2 72.0 133.2zM67.0 136.0 67.3 138.0 72.6 137.1 72.3 135.2zM67.3 138.0 67.6 140.0 70.3 139.5 70.0 137.6zM71.3 137.3 71.6 139.3 72.9 139.1 72.6 137.1zM74.2 138.8 74.6 140.8 77.2 140.3 76.9 138.4zM74.6 140.8 74.9 142.7 77.5 142.2 77.2 140.3zM74.9 142.7 75.3 144.6 77.9 144.1 77.5 142.2zM75.3 144.6 75.6 146.6 78.2 146.1 77.9 144.1zM75.6 146.6 76.0 148.6 78.6 148.1 78.2 146.1zM76.0 148.6 76.3 150.5 78.9 150.0 78.6 148.1zM76.3 150.5 76.6 152.4 79.2 151.8 78.9 150.0zM76.6 152.4 76.9 154.3 79.5 153.7 79.2 151.8zM76.9 154.3 77.3 156.2 79.9 155.6 79.5 153.7zM77.3 156.2 77.7 158.1 80.2 157.5 79.9 155.6zM79.0 157.8 79.4 159.6 81.8 159.0 81.5 157.2zM76.9 160.3 77.4 162.2 78.6 161.9 78.1 160.0zM79.4 159.6 79.8 161.6 82.2 161.0 81.8 159.0zM79.8 161.6 80.2 163.6 82.6 163.0 82.2 161.0zM80.2 163.6 80.6 165.5 83.0 164.8 82.6 163.0zM80.6 165.5 81.0 167.3 83.3 166.7 83.0 164.8zM81.0 167.3 81.4 169.2 83.7 168.5 83.3 166.7zM81.4 169.2 81.9 171.0 84.1 170.3 83.7 168.5zM81.9 171.0 82.4 172.8 84.7 172.1 84.1 170.3zM82.4 172.8 83.1 174.6 85.3 173.8 84.7 172.1zM83.1 174.6 83.7 176.4 86.0 175.7 85.3 173.8zM83.7 176.4 84.4 178.3 86.6 177.5 86.0 175.7zM84.4 178.3 85.0 180.0 87.2 179.2 86.6 177.5zM85.0 180.0 85.6 181.7 87.8 180.8 87.2 179.2zM85.6 181.7 86.3 183.4 88.5 182.5 87.8 180.8zM86.3 183.4 87.1 185.0 89.3 184.0 88.5 182.5zM87.1 185.0 88.0 186.7 90.1 185.6 89.3 184.0zM88.0 186.7 88.8 188.3 91.0 187.2 90.1 185.6zM88.8 188.3 89.6 189.9 91.8 188.7 91.0 187.2zM89.6 189.9 90.4 191.5 92.6 190.3 91.8 188.7zM90.4 191.5 91.3 193.1 93.4 191.8 92.6 190.3zM91.3 193.1 92.4 194.6 94.4 193.3 93.4 191.8zM92.4 194.6 93.4 196.0 95.4 194.7 94.4 193.3zM93.4 196.0 94.4 197.5 96.4 196.0 95.4 194.7zM94.4 197.5 95.5 199.0 97.4 197.6 96.4 196.0zM95.5 199.0 96.6 200.6 98.6 199.1 97.4 197.6zM96.6 200.6 97.8 202.1 99.7 200.6 98.6 199.1zM97.8 202.1 99.0 203.5 100.9 202.0 99.7 200.6zM99.0 203.5 100.2 205.0 102.1 203.5 100.9 202.0zM100.2 205.0 101.4 206.6 103.3 205.0 102.1 203.5zM101.4 206.6 102.7 208.1 104.6 206.6 103.3 205.0zM102.7 208.1 103.9 209.6 105.8 208.0 104.6 206.6zM103.9 209.6 105.1 211.0 107.0 209.4 105.8 208.0zM105.1 211.0 106.3 212.5 108.2 210.9 107.0 209.4zM106.3 212.5 107.6 213.9 109.4 212.3 108.2 210.9zM107.6 213.9 109.0 215.3 110.7 213.6 109.4 212.3zM109.0 215.3 110.1 216.5 111.9 214.8 110.7 213.6zM110.1 216.5 111.4 217.8 113.1 216.1 111.9 214.8zM111.4 217.8 112.6 219.2 114.3 217.4 113.1 216.1zM112.6 219.2 114.1 220.3 115.7 218.5 114.3 217.4zM114.1 220.3 115.5 221.4 117.1 219.6 115.7 218.5zM124.4 227.9 126.0 228.9 126.7 227.9 125.0 226.8zM131.7 231.0 133.3 232.0 134.0 231.0 132.3 230.0zM133.3 232.0 135.0 233.0 135.6 232.0 134.0 231.0zM135.0 233.0 136.7 234.0 137.3 233.0 135.6 232.0zM144.7 240.2 146.5 241.2 147.1 240.2 145.3 239.1zM146.5 241.2 148.2 242.2 148.8 241.2 147.1 240.2zM148.2 242.2 149.9 243.2 151.2 241.1 149.4 240.1zM149.9 243.2 151.6 244.3 152.9 242.2 151.2 241.1zM158.0 245.2 159.7 246.2 160.3 245.1 158.6 244.1zM159.1 247.2 160.8 248.2 162.1 246.1 160.3 245.1zM160.2 249.3 162.0 250.3 163.2 248.1 161.5 247.2zM162.0 250.3 163.7 251.3 164.9 249.1 163.2 248.1zM164.9 249.1 166.7 250.1 167.3 249.1 165.5 248.1zM166.1 251.2 167.8 252.2 168.4 251.1 166.7 250.1zM167.9 248.0 169.6 249.0 170.2 247.9 168.5 247.0zM171.3 250.0 173.0 250.9 173.6 249.9 171.9 248.9zM170.6 255.2 172.3 256.1 173.5 254.0 171.8 253.1zM172.3 256.1 174.1 257.1 175.3 254.9 173.5 254.0zM174.1 257.1 175.8 258.0 177.0 255.9 175.3 254.9zM175.8 258.0 177.6 259.0 178.7 256.8 177.0 255.9zM177.6 254.8 179.3 255.7 179.9 254.7 178.1 253.7zM179.3 255.7 181.0 256.7 181.6 255.6 179.9 254.7zM182.2 254.5 183.9 255.5 184.5 254.4 182.8 253.5zM183.9 255.5 185.6 256.4 186.2 255.3 184.5 254.4zM184.5 258.5 186.3 259.4 186.8 258.3 185.1 257.4zM186.3 259.4 188.0 260.3 188.6 259.3 186.8 258.3zM186.3 263.6 188.1 264.5 188.7 263.4 186.9 262.5z"/>
<path fill="#2f5c98" stroke="#2f5c98" stroke-width="0.35" d="M70.0 137.6 70.3 139.5 71.6 139.3 71.3 137.3zM67.6 140.0 68.0 141.9 74.6 140.8 74.2 138.8zM68.0 141.9 68.3 143.9 74.9 142.7 74.6 140.8zM68.3 143.9 68.7 145.9 75.3 144.6 74.9 142.7zM68.7 145.9 69.1 147.8 75.6 146.6 75.3 144.6zM69.1 147.8 69.5 149.8 76.0 148.6 75.6 146.6zM69.5 149.8 69.8 151.8 76.3 150.5 76.0 148.6zM69.8 151.8 70.2 153.7 76.6 152.4 76.3 150.5zM70.2 153.7 70.6 155.7 76.9 154.3 76.6 152.4zM70.6 155.7 71.0 157.6 77.3 156.2 76.9 154.3zM71.0 157.6 71.5 159.6 77.7 158.1 77.3 156.2zM71.5 159.6 72.0 161.5 79.4 159.6 79.0 157.8zM72.0 161.5 72.5 163.5 77.4 162.2 76.9 160.3zM78.1 160.0 78.6 161.9 79.8 161.6 79.4 159.6zM72.5 163.5 73.0 165.4 80.2 163.6 79.8 161.6zM73.0 165.4 73.4 167.4 80.6 165.5 80.2 163.6zM73.4 167.4 73.9 169.3 81.0 167.3 80.6 165.5zM73.9 169.3 74.4 171.2 81.4 169.2 81.0 167.3zM74.4 171.2 75.0 173.1 81.9 171.0 81.4 169.2zM75.0 173.1 75.6 175.0 82.4 172.8 81.9 171.0zM75.6 175.0 76.3 176.9 83.1 174.6 82.4 172.8zM76.3 176.9 77.0 178.8 83.7 176.4 83.1 174.6zM77.0 178.8 77.6 180.7 84.4 178.3 83.7 176.4zM77.6 180.7 78.3 182.6 85.0 180.0 84.4 178.3zM78.3 182.6 78.9 184.4 85.6 181.7 85.0 180.0zM78.9 184.4 79.6 186.3 86.3 183.4 85.6 181.7zM79.6 186.3 80.5 188.0 87.1 185.0 86.3 183.4zM80.5 188.0 81.4 189.8 88.0 186.7 87.1 185.0zM81.4 189.8 82.3 191.6 88.8 188.3 88.0 186.7zM82.3 191.6 83.2 193.3 89.6 189.9 88.8 188.3zM83.2 193.3 84.1 195.1 90.4 191.5 89.6 189.9zM84.1 195.1 85.1 196.9 91.3 193.1 90.4 191.5zM85.1 196.9 86.2 198.5 92.4 194.6 91.3 193.1zM86.2 198.5 87.3 200.1 93.4 196.0 92.4 194.6zM87.3 200.1 88.5 201.7 94.4 197.5 93.4 196.0zM88.5 201.7 89.6 203.4 95.5 199.0 94.4 197.5zM89.6 203.4 90.8 205.0 96.6 200.6 95.5 199.0zM90.8 205.0 92.0 206.5 97.8 202.1 96.6 200.6zM92.0 206.5 93.3 208.1 99.0 203.5 97.8 202.1zM93.3 208.1 94.5 209.6 100.2 205.0 99.0 203.5zM94.5 209.6 95.8 211.2 101.4 206.6 100.2 205.0zM95.8 211.2 97.0 212.8 102.7 208.1 101.4 206.6zM97.0 212.8 98.3 214.3 103.9 209.6 102.7 208.1zM98.3 214.3 99.6 215.8 105.1 211.0 103.9 209.6zM99.6 215.8 100.9 217.4 106.3 212.5 105.1 211.0zM100.9 217.4 102.2 218.8 107.6 213.9 106.3 212.5zM102.2 218.8 103.6 220.3 109.0 215.3 107.6 213.9zM103.6 220.3 105.0 221.7 110.1 216.5 109.0 215.3zM105.0 221.7 106.3 223.1 111.4 217.8 110.1 216.5zM106.3 223.1 107.7 224.6 112.6 219.2 111.4 217.8zM107.7 224.6 109.2 225.8 114.1 220.3 112.6 219.2zM109.2 225.8 110.8 227.0 115.5 221.4 114.1 220.3zM110.8 227.0 112.3 228.3 116.8 222.5 115.5 221.4zM112.3 228.3 113.9 229.5 118.3 223.7 116.8 222.5zM113.9 229.5 115.4 230.8 119.7 224.8 118.3 223.7zM115.4 230.8 117.1 231.9 121.3 225.9 119.7 224.8zM117.1 231.9 118.8 232.9 122.8 226.9 121.3 225.9zM118.8 232.9 120.4 234.0 124.4 227.9 122.8 226.9zM120.4 234.0 122.1 235.1 126.0 228.9 124.4 227.9zM122.1 235.1 123.8 236.2 127.7 230.0 126.0 228.9zM123.8 236.2 125.5 237.2 129.3 231.0 127.7 230.0zM125.5 237.2 127.2 238.3 131.0 232.0 129.3 231.0zM127.2 238.3 128.9 239.3 132.7 233.1 131.0 232.0zM128.9 239.3 130.6 240.3 134.4 234.1 132.7 233.1zM130.6 240.3 132.4 241.4 136.1 235.1 134.4 234.1zM132.4 241.4 134.1 242.4 137.8 236.1 136.1 235.1zM134.1 242.4 135.8 243.4 139.6 237.1 137.8 236.1zM135.8 243.4 137.5 244.4 141.3 238.1 139.6 237.1zM137.5 244.4 139.3 245.5 143.0 239.2 141.3 238.1zM139.3 245.5 141.0 246.5 144.7 240.2 143.0 239.2zM141.0 246.5 142.7 247.5 146.5 241.2 144.7 240.2zM142.7 247.5 144.5 248.5 148.2 242.2 146.5 241.2zM144.5 248.5 146.2 249.5 149.9 243.2 148.2 242.2zM146.2 249.5 147.9 250.6 151.6 244.3 149.9 243.2zM147.9 250.6 149.7 251.6 153.4 245.3 151.6 244.3zM152.3 243.2 154.0 244.2 154.6 243.2 152.9 242.2zM149.7 251.6 151.4 252.6 155.1 246.3 153.4 245.3zM154.0 244.2 155.7 245.2 156.3 244.2 154.6 243.2zM151.4 252.6 153.1 253.6 156.8 247.3 155.1 246.3zM155.7 245.2 157.4 246.2 158.0 245.2 156.3 244.2zM153.1 253.6 154.9 254.6 158.5 248.3 156.8 247.3zM157.4 246.2 159.1 247.2 159.7 246.2 158.0 245.2zM154.9 254.6 156.6 255.6 160.2 249.3 158.5 248.3zM156.6 255.6 158.3 256.6 162.0 250.3 160.2 249.3zM161.5 247.2 163.2 248.1 163.8 247.1 162.1 246.1zM158.3 256.6 160.1 257.6 163.7 251.3 162.0 250.3zM163.2 248.1 164.9 249.1 165.5 248.1 163.8 247.1zM160.1 257.6 161.8 258.6 165.5 252.3 163.7 251.3zM161.8 258.6 163.6 259.6 167.2 253.2 165.5 252.3zM163.6 259.6 165.3 260.6 168.9 254.2 167.2 253.2zM169.6 249.0 171.3 250.0 171.9 248.9 170.2 247.9zM165.3 260.6 167.1 261.6 170.6 255.2 168.9 254.2zM167.1 261.6 168.8 262.5 172.3 256.1 170.6 255.2zM168.8 262.5 170.6 263.5 174.1 257.1 172.3 256.1zM170.6 263.5 172.3 264.5 175.8 258.0 174.1 257.1zM172.3 264.5 174.1 265.4 177.6 259.0 175.8 258.0zM174.1 265.4 175.9 266.4 179.9 258.8 178.2 257.9zM175.9 266.4 177.6 267.3 181.6 259.8 179.9 258.8zM181.0 256.7 182.8 257.6 183.3 256.5 181.6 255.6zM177.6 267.3 179.4 268.2 183.4 260.7 181.6 259.8zM182.8 257.6 184.5 258.5 185.1 257.4 183.3 256.5zM179.4 268.2 181.2 269.2 185.1 261.6 183.4 260.7zM181.2 269.2 183.0 270.1 186.9 262.5 185.1 261.6zM183.0 270.1 184.8 271.0 188.1 264.5 186.3 263.6zM184.8 271.0 186.6 271.9 189.9 265.4 188.1 264.5z"/>
<g fill="none" stroke="#111" stroke-width="0.7" stroke-linejoin="round" transform="translate(0,0)">
<path d="M107.2 16.3 L108.7 15.2 L110.3 14.2 L112.0 14.4 L113.4 15.2 L114.7 13.7 L116.4 12.7 L118.0 14.2 L117.4 17.3 L118.5 20.3 L118.5 22.2 L117.8 23.9 L118.1 25.8 L117.6 27.6 L116.4 29.5 L116.2 31.4 L115.6 33.3 L115.5 35.2 L115.2 37.1 L114.4 39.8 L113.3 41.3 L113.0 43.2 L112.3 44.9 L111.7 46.6 L110.9 48.3 L110.3 50.0 L109.9 51.8 L108.5 53.2 L108.2 55.1 L107.3 56.9 L106.3 58.6 L105.2 60.2 L104.5 62.0 L104.2 64.0 L103.9 65.7 L102.7 67.1 L101.8 68.5 L101.7 70.3 L100.4 71.6 L100.2 73.4 L99.4 75.0 L98.4 76.4 L97.9 78.1 L97.1 79.7 L97.5 81.8 L97.9 83.9 L97.9 86.0 L99.2 87.3 L99.7 88.9 L99.7 90.7 L101.0 92.0 L101.0 93.9 L101.0 95.8 L100.6 97.6 L101.0 99.5 L100.8 101.3 L100.3 103.0 L100.9 104.8 L100.9 106.6 L100.0 108.3 L100.8 110.1 L100.0 111.8 L100.2 113.6 L100.5 115.2 L100.5 116.9 L100.9 118.5 L101.6 120.0 L102.7 121.4 L102.6 123.1 L103.7 124.5 L103.9 126.2 L104.2 128.0 L105.6 129.2 L105.8 131.0 L106.6 132.5 L107.8 133.9 L108.3 135.6 L108.9 137.3 L110.8 138.3 L112.2 140.0 L113.6 141.5 L114.4 143.1 L115.3 144.6 L115.2 142.3 L115.8 140.0 L115.2 137.3 L115.8 135.8 L115.3 134.1 L115.7 132.5 L116.0 130.9 L116.4 129.4 L116.8 127.8 L117.7 126.3 L118.0 124.6 L118.9 123.2 L119.8 121.7 L119.7 119.8 L120.7 118.4 L121.1 116.5 L120.8 114.6 L121.0 112.7 L120.8 110.8 L120.7 108.9 L119.8 107.4 L118.7 106.0 L118.0 104.4 L117.2 102.8 L116.5 101.2 L115.6 99.6 L115.2 97.9 L113.7 97.0 L112.7 95.5 L111.6 94.1 L110.4 92.9 L108.9 92.0 L108.7 89.9 L107.4 88.1 L107.3 86.0 L107.8 84.2 L107.2 82.4 L107.1 80.6 L107.5 78.9 L107.9 77.1 L107.4 75.3 L107.7 73.6 L108.1 71.8 L109.0 70.2 L110.4 68.8 L110.9 67.0 L112.0 65.5 L113.0 64.1 L114.0 62.8 L114.9 61.3 L116.6 60.5 L117.7 59.2 L118.4 57.6 L119.7 56.5 L120.5 55.0 L121.7 53.8 L122.6 52.4 L123.9 51.3 L125.5 48.9 L127.5 49.1 L129.4 48.9 L131.3 51.3 L129.8 52.7 L128.6 54.4 L130.3 55.6 L131.5 57.4 L133.4 58.4 L134.2 60.4 L135.7 61.9 L136.5 63.9 L136.8 65.6 L137.5 67.1 L138.6 68.5 L138.9 70.2 L139.6 71.7 L139.7 73.5 L140.9 74.8 L141.0 76.5 L141.0 78.3 L142.0 79.7 L143.3 80.8 L144.2 82.2 L145.0 83.8 L146.1 85.0 L147.5 86.0 L146.6 87.5 L146.2 89.2 L145.2 90.6 L145.3 92.5 L144.4 94.0 L146.1 93.1 L147.1 91.5 L148.7 90.5 L150.0 89.1 L151.9 89.2 L153.9 88.9 L155.9 89.3 L157.8 89.1 L159.9 89.5 L161.9 90.2 L164.1 89.9 L165.7 89.8 L167.2 89.2 L168.8 88.8 L170.5 89.0 L171.9 88.1 L173.6 88.1 L175.1 87.6 L176.8 86.8 L178.5 86.1 L179.7 84.4 L181.5 83.9 L183.0 82.8 L183.2 81.1 L184.3 79.7 L184.9 78.1 L185.5 76.6 L186.2 75.1 L186.2 73.3 L187.0 71.8 L187.6 70.0 L187.3 68.1 L187.6 66.3 L187.6 64.4 L188.3 62.6 L188.5 60.8 L187.5 59.4 L187.3 57.7 L187.2 56.0 L186.8 54.4 L185.7 53.0 L185.9 51.2 L185.0 49.7 L184.6 48.1 L183.8 46.6 L183.9 44.9 L183.4 43.3 L182.6 41.8 L182.2 40.2 L181.8 38.6 L181.3 37.0 L180.7 35.5 L180.8 33.6 L180.7 31.7 L179.9 29.9 L179.5 28.0 L179.9 26.1 L180.8 24.6 L182.1 23.6 L183.5 22.6 L184.6 21.3 L186.4 21.0 L187.7 19.7 L189.3 18.8 L190.9 18.2 L192.5 17.4 L194.1 18.2 L195.8 18.0 L197.5 18.2"/>
<path d="M69.0 85.1 L70.6 85.9 L71.9 87.0 L73.1 88.7 L74.8 90.0 L76.0 91.6 L77.7 92.5 L79.5 93.3 L81.2 94.3 L82.5 95.7 L83.2 97.3 L84.1 98.8 L84.4 100.6 L85.1 102.1 L85.1 103.8 L85.4 105.4 L86.0 107.0 L87.1 108.2 L88.4 109.4 L88.8 111.1 L90.2 112.2 L91.1 113.6 L91.6 115.2 L92.1 116.8 L92.4 118.5 L92.6 120.2 L93.7 121.5 L93.8 123.3 L94.7 124.7 L95.7 126.6 L97.4 127.8 L98.7 129.4 L99.1 131.2 L99.9 132.7 L101.1 134.1 L102.1 135.6 L102.6 137.3 L103.8 138.7 L104.5 140.3 L105.0 142.0 L105.8 143.6 L106.7 145.1 L106.7 146.7 L106.9 148.3 L107.3 149.9 L106.7 151.6 L105.8 153.1 L106.2 154.8 L107.0 156.3 L107.6 157.9 L108.1 159.5 L108.9 161.0 L108.8 162.9 L109.0 164.9 L109.3 166.9 L108.9 168.8 L110.4 169.9 L112.3 170.5 L113.6 172.0 L114.9 173.8 L115.2 176.0 L114.2 177.4 L113.1 178.8 L111.5 179.8 L110.5 181.3 L110.1 183.0 L109.0 184.5 L108.0 186.0 L107.4 187.7 L106.3 189.1 L105.8 190.8 L105.7 192.5 L105.1 194.0 L104.2 195.5 L105.8 195.5 L107.3 196.4 L108.5 197.5 L109.7 198.7 L111.2 199.4 L112.3 200.8 L113.6 201.8 L114.8 203.0 L116.1 204.0 L117.3 205.2 L119.2 205.6 L120.1 207.2 L121.5 208.1 L122.7 209.3 L123.9 210.5 L125.7 210.9 L127.1 211.9 L127.9 213.6 L129.4 214.4 L130.9 214.9 L132.6 214.7 L134.1 215.8 L135.7 215.9 L137.3 216.0 L138.8 217.3 L140.3 218.6 L142.0 219.6 L143.6 220.7 L145.0 221.8 L146.5 222.9 L147.5 224.4 L148.5 225.8 L149.9 227.0 L151.7 227.9 L153.3 229.1 L154.9 230.3 L156.2 231.8 L157.3 233.4 L157.9 235.2 L159.4 236.5 L160.8 237.9 L162.9 238.4 L164.2 239.9 L165.7 241.2 L167.2 242.2 L169.1 242.4 L170.3 243.9 L172.0 244.4 L173.7 244.9 L175.2 245.9 L176.6 247.0 L178.3 247.5 L179.7 248.7 L181.7 248.7 L182.9 250.2 L184.6 250.7 L186.0 251.7 L187.6 252.3 L189.2 252.8 L191.0 253.1 L192.5 253.8 L194.4 254.7 L196.0 256.0"/>
<path d="M197.5 149.1 L196.0 150.0 L194.2 150.0 L192.6 150.5 L190.9 150.7 L189.5 151.8 L187.5 151.8 L186.0 152.7 L184.5 153.5 L183.1 154.8 L181.7 155.8 L179.9 156.2 L178.3 156.1 L176.7 156.2 L175.1 155.7 L173.6 155.2 L171.9 155.3 L170.4 155.0 L168.8 154.6 L168.2 156.3 L167.3 157.8 L165.7 159.1 L165.0 161.3 L163.3 162.5 L162.2 160.9 L160.6 159.7 L159.2 158.3 L157.8 157.0 L156.6 155.8 L154.8 155.4 L153.8 153.9 L151.8 154.3 L150.2 155.6 L148.3 156.2 L147.8 157.8 L147.1 159.3 L146.2 160.8 L146.0 162.5 L146.1 164.4 L145.7 166.3 L145.0 168.2 L145.7 170.1 L145.2 172.0 L145.6 174.0 L146.6 175.9 L146.8 178.0 L146.4 179.6 L146.2 181.2 L145.7 182.8 L145.9 184.5 L145.4 186.1 L144.3 187.5 L144.4 189.2 L146.3 189.5 L148.0 190.2 L149.4 191.6 L151.5 191.4 L153.1 192.3 L153.5 193.9 L154.2 195.5 L154.6 197.1 L156.3 196.9 L157.7 197.9 L159.3 198.0 L160.8 198.8 L162.5 198.6 L163.8 200.2 L165.9 200.6 L167.2 202.3 L168.8 203.4 L169.8 204.9 L170.8 206.4 L170.8 208.3 L172.0 209.7 L173.9 209.3 L175.8 209.7 L177.6 209.4 L179.5 209.8 L181.4 209.7 L182.8 207.9 L184.6 206.5 L186.0 205.4 L186.6 203.8 L187.5 202.3 L189.1 201.4 L189.5 199.7 L190.9 198.6 L192.4 197.8 L193.3 196.3 L194.8 195.5 L197.5 196.3"/>
<path d="M69.0 85.1 L68.4 86.8 L68.8 88.6 L68.1 90.3 L68.0 92.0 L68.2 93.6 L68.8 95.2 L68.8 96.9 L69.6 98.4 L70.0 100.0 L70.9 101.6 L71.3 103.3 L71.8 105.1 L72.7 106.6 L73.3 108.3 L74.0 110.0 L75.1 111.5 L75.5 113.2 L75.6 115.1 L76.7 116.6 L77.5 118.2 L77.8 120.0 L77.7 121.6 L78.7 123.1 L78.9 124.7 L79.1 126.3 L79.2 127.9 L79.6 129.5 L79.5 131.1 L79.8 132.7 L79.3 134.4 L80.2 135.9 L80.1 137.5 L80.6 139.1 L80.6 140.7 L80.5 142.4 L81.4 144.1 L81.3 145.9 L81.7 147.6 L81.6 149.3 L81.9 151.0 L81.8 152.8 L81.4 154.5 L82.6 156.2 L82.6 157.9 L82.3 159.7 L82.6 161.4 L82.7 163.0 L83.7 164.4 L84.1 166.0 L84.7 167.5 L85.1 169.0 L85.4 170.6 L85.6 172.2 L86.8 173.5 L86.8 175.2 L88.0 176.4 L88.9 177.8 L89.4 179.4 L90.2 180.9 L91.8 181.9 L92.3 183.5 L93.7 184.6 L94.5 186.0 L95.1 187.6 L95.8 189.1 L96.4 190.7 L97.8 191.8 L98.8 193.1 L99.6 194.5 L100.0 196.2 L100.9 197.5 L102.0 198.7 L102.8 200.4 L104.4 201.3 L105.1 203.0 L106.1 204.4 L107.5 205.6 L109.1 206.8 L110.5 208.2 L111.3 210.1 L113.0 211.2 L114.6 211.9 L115.9 212.9 L117.4 213.6 L118.3 215.2 L119.8 215.9 L121.3 216.7 L122.9 217.2 L124.2 218.1 L125.7 218.8 L127.3 219.1 L128.4 220.5 L130.0 221.0 L131.7 221.5 L132.9 222.6 L134.2 223.8 L135.8 224.2 L137.0 225.5 L138.3 226.5 L140.0 227.0 L141.3 228.0 L142.9 228.6 L144.0 230.0 L145.8 230.3 L146.9 231.8 L148.5 232.2 L150.0 233.0 L151.4 233.8 L152.7 234.9 L154.5 235.0 L155.8 235.9 L157.0 237.2 L158.8 237.3 L160.0 238.5 L161.5 239.7 L163.4 240.0 L165.0 240.7 L166.4 242.0 L168.5 241.8 L170.0 243.0 L171.9 243.3 L173.3 244.6 L174.9 245.4 L176.5 246.4 L178.5 246.4 L180.0 247.5 L181.5 248.5 L183.3 248.8 L185.0 249.3 L186.8 249.3 L188.2 250.7 L190.0 251.0 L191.6 251.3 L192.9 252.4 L194.3 253.4 L196.0 253.5"/>
<path d="M148.3 226.0 L151.0 224.0 L156.0 224.5 L159.0 226.5 L155.0 228.6 L149.0 228.3 L148.3 226.0"/>
<path d="M186.0 256.0 L190.0 255.5 L193.0 258.0 L190.0 260.0 L186.0 258.5 L186.0 256.0"/>
<path d="M190.0 261.0 L195.0 260.0 L197.5 263.0 L195.0 266.0 L191.0 265.0 L190.0 261.0"/>
<path d="M173.0 252.5 L177.0 251.5 L179.0 253.5 L176.0 255.0 L173.0 252.5"/>
<path d="M164.0 248.5 L168.0 248.0 L170.0 250.0 L166.0 251.0 L164.0 248.5"/>
<path d="M104.0 133.0 L106.0 131.5 L108.0 134.0 L107.0 137.0 L104.5 136.0 L104.0 133.0"/>
<path d="M113.0 167.0 L117.5 165.6 L119.8 170.0 L119.0 176.3 L121.3 178.4 L117.5 177.0 L114.5 171.7 L113.0 167.0"/>
<path d="M101.0 133.0 L103.0 132.0 L104.5 135.0 L103.0 138.0 L101.5 137.0 L101.0 133.0"/>
<path d="M104.0 139.0 L106.0 137.5 L108.5 141.0 L107.0 144.5 L104.5 143.0 L104.0 139.0"/>
<path d="M106.0 152.0 L108.0 151.0 L109.0 154.0 L107.0 155.5 L106.0 152.0"/>
<path d="M108.0 146.5 L110.0 146.0 L110.5 148.5 L108.5 149.0 L108.0 146.5"/>
<path d="M96.0 14.0 L98.0 12.0 L99.0 15.0 L97.0 17.0 L96.0 14.0"/>
<path d="M85.0 23.0 L87.0 21.0 L89.0 22.5 L88.0 25.0 L85.5 25.0 L85.0 23.0"/>
<path d="M79.0 28.0 L80.5 27.0 L81.5 30.0 L79.5 31.0 L79.0 28.0"/>
<path d="M70.0 52.0 L71.5 51.0 L72.0 54.0 L70.5 55.0 L70.0 52.0"/>
<path d="M67.0 121.0 L69.0 119.5 L70.5 123.0 L69.0 126.0 L67.0 124.0 L67.0 121.0"/>
<path d="M73.0 144.0 L74.5 142.5 L76.0 147.0 L75.0 150.0 L73.5 148.0 L73.0 144.0"/>
<path d="M77.0 161.0 L79.0 160.0 L80.5 165.0 L79.0 168.0 L77.5 165.0 L77.0 161.0"/>
<path d="M82.0 176.0 L84.0 175.0 L85.5 180.0 L83.5 181.5 L82.0 176.0"/>
<circle cx="111.5" cy="143.5" r="0.45" fill="#111"/>
<circle cx="113.5" cy="144" r="0.4" fill="#111"/>
<circle cx="116.5" cy="145.5" r="0.45" fill="#111"/>
<circle cx="118.5" cy="144.5" r="0.4" fill="#111"/>
<circle cx="107" cy="50" r="0.45" fill="#111"/>
<circle cx="108.5" cy="53" r="0.45" fill="#111"/>
<circle cx="110" cy="47.5" r="0.4" fill="#111"/>
<circle cx="106" cy="57" r="0.4" fill="#111"/>
<circle cx="112" cy="44" r="0.4" fill="#111"/>
<circle cx="104" cy="62" r="0.45" fill="#111"/>
<circle cx="113.5" cy="38" r="0.4" fill="#111"/>
<circle cx="109" cy="55.5" r="0.35" fill="#111"/>
<circle cx="150.7" cy="136.5" r="1.6"/>
<circle cx="127.8" cy="182.1" r="1.5"/>
<circle cx="130" cy="137" r="0.5" fill="#111"/>
<circle cx="133" cy="137.5" r="0.5" fill="#111"/>
<circle cx="152" cy="145" r="0.5" fill="#111"/>
<circle cx="154" cy="198" r="0.5" fill="#111"/>
<circle cx="176" cy="205" r="0.5" fill="#111"/>
<circle cx="60" cy="221" r="0.5" fill="#111"/>
<circle cx="93" cy="129" r="0.5" fill="#111"/>
<circle cx="117.5" cy="132" r="0.5" fill="#111"/>
<circle cx="124" cy="152" r="0.4" fill="#111"/>
<circle cx="135" cy="220" r="0.5" fill="#111"/>
</g>
<path d="M85.8 30.6C84.6 31.5 80.6 33.7 78.6 35.7C76.5 37.7 74.9 40.2 73.5 42.8C72.1 45.3 71.1 47.5 70.4 51.0C69.7 54.5 69.9 59.3 69.4 64.0C68.9 68.7 67.7 75.1 67.5 79.3C67.3 83.5 67.4 85.8 68.0 89.0C68.6 92.2 69.8 95.4 70.9 98.6C72.0 101.8 73.7 105.1 74.8 108.3C75.9 111.5 77.0 114.8 77.7 118.0C78.4 121.2 78.6 123.9 79.1 127.6C79.6 131.3 80.0 134.6 80.5 140.0C81.0 145.4 81.2 154.7 82.0 160.0C82.8 165.3 84.9 170.0 85.5 172.0" fill="none" stroke="#9a9a9a" stroke-width="0.8"/>
<path d="M100.1 10.1C98.9 11.3 95.6 15.1 92.9 17.3C90.2 19.5 86.4 21.2 83.7 23.4C81.0 25.6 78.6 28.4 76.6 30.6C74.6 32.8 73.0 34.3 71.5 36.7C70.0 39.1 68.6 42.2 67.4 44.9C66.2 47.6 65.1 50.5 64.3 53.0C63.5 55.5 63.3 57.2 62.8 60.0C62.3 62.8 61.8 66.0 61.3 69.7C60.8 73.4 59.9 78.2 59.8 82.2C59.7 86.2 60.1 90.2 60.8 93.8C61.5 97.3 63.0 100.4 64.2 103.5C65.4 106.6 66.9 109.5 68.0 112.2C69.1 114.9 70.3 115.6 70.9 119.9C71.5 124.2 70.8 132.2 71.6 138.0C72.4 143.8 74.3 149.7 75.7 154.5C77.1 159.3 78.9 163.1 79.9 167.0C80.9 170.9 81.2 175.2 81.9 178.0C82.6 180.8 82.7 181.4 84.0 183.5C85.3 185.6 87.7 187.6 89.5 190.4C91.3 193.2 93.2 196.9 95.0 200.1C96.8 203.3 98.3 206.9 100.6 209.8C102.9 212.7 105.4 214.7 108.9 217.6C112.4 220.5 116.8 223.8 121.5 227.0C126.2 230.2 131.5 233.1 137.3 236.5C143.1 239.9 150.1 244.1 156.2 247.5C162.2 250.9 167.8 254.0 173.6 257.0C179.4 260.0 188.0 264.2 190.9 265.6" fill="none" stroke="#222" stroke-width="0.9"/>
<text transform="translate(89.8,30.2) rotate(-40)" font-size="9.5" fill="#a0a0a0" style="stroke:none">55</text>
<text transform="translate(78,170) rotate(70)" font-size="8" fill="#222">15</text>
<path d="M96.8 4.4C96.4 4.8 95.4 6.0 94.5 6.9C93.6 7.8 92.5 8.7 91.3 9.7C90.0 10.7 88.4 11.7 86.8 12.7C85.2 13.8 83.3 14.8 81.5 15.9C79.7 17.0 77.8 18.0 76.2 19.1C74.6 20.2 73.1 21.2 71.8 22.4C70.5 23.7 69.4 24.9 68.2 26.4C67.1 27.8 66.0 29.5 64.8 31.3C63.6 33.1 62.3 35.1 61.1 37.1C59.9 39.2 58.7 41.4 57.6 43.6C56.6 45.8 55.7 48.1 54.9 50.5C54.2 53.0 53.6 55.6 53.1 58.3C52.6 61.0 52.2 64.0 51.7 66.9C51.3 69.7 50.9 72.6 50.6 75.3C50.3 78.1 49.9 80.8 49.8 83.5C49.8 86.2 49.8 88.9 50.1 91.5C50.4 94.1 51.0 96.7 51.8 99.1C52.7 101.5 53.9 103.8 55.0 106.0C56.1 108.1 57.4 110.1 58.5 112.2C59.5 114.4 60.5 116.3 61.3 118.9C62.1 121.5 62.6 124.3 63.2 128.0C63.9 131.6 64.3 135.9 65.2 140.6C66.0 145.3 66.9 150.8 68.1 156.0C69.3 161.3 70.7 167.0 72.2 172.1C73.7 177.1 75.4 182.1 77.1 186.3C78.9 190.5 80.8 194.1 82.6 197.2C84.5 200.4 86.4 202.8 88.2 205.2C90.1 207.7 91.8 209.8 93.7 212.0C95.5 214.3 97.2 216.5 99.2 218.7C101.2 220.9 103.2 223.2 105.6 225.4C108.0 227.6 110.7 229.8 113.9 232.0C117.0 234.2 120.5 236.4 124.5 238.8C128.4 241.2 132.8 243.8 137.4 246.5C141.9 249.2 147.1 252.2 151.8 255.0C156.5 257.7 161.5 260.5 165.6 262.8C169.7 265.1 173.4 267.1 176.6 268.8C179.8 270.5 183.4 272.3 184.8 273.0" fill="none" stroke="#9966dd" stroke-width="1.4"/>
<rect x="-2.8" y="-2.8" width="5.6" height="5.6" transform="translate(70.1,30.1) rotate(35)" fill="none" stroke="#9966dd" stroke-width="1.1"/>
<rect x="-2.8" y="-2.8" width="5.6" height="5.6" transform="translate(52.4,82.7) rotate(0)" fill="none" stroke="#9966dd" stroke-width="1.1"/>
<rect x="-2.8" y="-2.8" width="5.6" height="5.6" transform="translate(67.2,139.8) rotate(10)" fill="none" stroke="#9966dd" stroke-width="1.1"/>
<rect x="-2.8" y="-2.8" width="5.6" height="5.6" transform="translate(88.1,199.4) rotate(40)" fill="none" stroke="#9966dd" stroke-width="1.1"/>
<rect x="-2.8" y="-2.8" width="5.6" height="5.6" transform="translate(127.9,237.3) rotate(30)" fill="none" stroke="#9966dd" stroke-width="1.1"/>
<rect x="-2.8" y="-2.8" width="5.6" height="5.6" transform="translate(172.5,264.9) rotate(28)" fill="none" stroke="#9966dd" stroke-width="1.1"/>
</g>
<rect x="28.6" y="4.4" width="168.9" height="271.7" fill="none" stroke="#888" stroke-width="0.9"/>
<text transform="translate(17,24.9) rotate(24.5)" x="-10.75" y="3.6" font-size="9.9" textLength="21.5" lengthAdjust="spacingAndGlyphs">10°N</text>
<text transform="matrix(0.9588,-0.2840,0.1392,0.9903,16.3,84.2)" x="-10.25" y="3.6" font-size="9.9" textLength="20.5" lengthAdjust="spacingAndGlyphs">90°E</text>
<text transform="translate(22.3,108.4) rotate(24.5)" x="-5.25" y="3.6" font-size="9.9" textLength="10.5" lengthAdjust="spacingAndGlyphs">0°</text>
<text transform="translate(17,189.2) rotate(24.5)" x="-10.00" y="3.6" font-size="9.9" textLength="20" lengthAdjust="spacingAndGlyphs">10°S</text>
<text transform="matrix(0.9563,-0.2924,0.1392,0.9903,13.6,255.8)" x="-13.25" y="3.6" font-size="9.9" textLength="26.5" lengthAdjust="spacingAndGlyphs">100°E</text>
<text transform="translate(100.1,282.2) rotate(3)" x="-14.45" y="3.6" font-size="9.9" textLength="28.9" lengthAdjust="spacingAndGlyphs">110°E</text>
<text transform="translate(186.1,282) rotate(0)" x="-14.15" y="3.6" font-size="9.9" textLength="28.3" lengthAdjust="spacingAndGlyphs">120°E</text>
<g clip-path="url(#clipD)">
<g stroke="#dcdcdc" stroke-width="0.6" fill="none">
<path d="M28.6 350.8 L90.0 379.2 L110.0 389.7 L197.5 427.4"/>
<path d="M28.6 433.0 L110.0 470.0 L197.5 507.7"/>
<path d="M28.6 515.8 L105.0 549.0 L197.5 586.0"/>
<path d="M28.6 397.0 L61.8 324.4"/>
<path d="M28.6 568.4 L144.6 324.4"/>
<path d="M105.5 596.1 L139.0 520.0 L197.5 386.0"/>
<path d="M189.7 596.1 L197.5 579.0"/>
</g>
<path fill="#c6c1ae" stroke="#c6c1ae" stroke-width="0.35" d="M98.0 324.4 96.6 325.9 98.7 328.1 100.1 326.5zM100.8 327.2 99.4 328.8 100.0 329.5 101.5 327.9zM96.6 325.9 95.2 327.3 96.6 328.8 98.0 327.3zM98.7 328.1 97.2 329.6 98.5 331.1 100.0 329.5zM101.4 331.0 99.9 332.6 100.5 333.3 102.1 331.7zM94.4 329.4 92.8 330.7 94.0 332.3 95.7 330.9zM96.3 331.7 94.6 333.1 95.3 333.9 97.0 332.5zM97.6 333.2 95.9 334.7 97.1 336.3 98.9 334.8zM92.2 329.9 90.5 331.0 91.7 332.7 93.4 331.5zM94.6 333.1 92.9 334.4 95.2 337.7 97.1 336.3zM90.5 331.0 88.8 332.2 89.4 333.0 91.1 331.9zM93.5 335.2 91.7 336.4 92.3 337.3 94.0 336.0zM90.0 333.9 88.2 335.0 88.8 335.9 90.5 334.7zM87.1 333.2 85.4 334.3 86.5 336.0 88.2 335.0zM89.4 336.7 87.6 337.8 89.8 341.3 91.6 340.2zM85.4 334.3 83.7 335.3 86.4 339.8 88.1 338.7zM89.2 340.4 87.5 341.5 88.0 342.4 89.8 341.3zM83.7 335.3 82.0 336.3 84.1 339.9 85.8 338.9zM86.4 339.8 84.7 340.8 86.3 343.5 88.0 342.4zM82.0 336.3 80.2 337.4 80.8 338.3 82.5 337.2zM83.6 339.0 81.9 340.0 84.2 343.6 85.8 342.6zM80.2 337.4 78.5 338.4 79.7 340.2 81.4 339.1zM81.9 340.0 80.3 341.1 80.9 341.9 82.5 340.9zM78.5 338.4 76.8 339.5 77.5 340.4 79.1 339.3zM80.3 341.1 78.7 342.1 79.3 343.0 80.9 341.9zM77.5 340.4 75.9 341.6 76.6 342.4 78.1 341.2zM79.9 343.8 78.5 344.9 79.2 345.7 80.5 344.7zM75.9 341.6 74.4 342.8 76.5 345.2 77.9 344.1zM75.1 343.6 73.7 344.8 76.0 347.1 77.2 346.0zM72.2 343.3 70.8 344.8 71.6 345.5 72.9 344.1zM73.7 344.8 72.4 346.3 73.2 347.0 74.5 345.6zM75.2 346.4 74.0 347.7 75.6 349.1 76.7 347.9zM70.8 344.8 69.5 346.3 70.3 347.0 71.6 345.5zM73.2 347.0 72.0 348.3 72.8 349.0 74.0 347.7zM74.8 348.4 73.6 349.7 74.5 350.4 75.6 349.1zM69.5 346.3 68.3 347.9 69.2 348.6 70.3 347.0zM72.0 348.3 70.9 349.9 73.5 351.8 74.5 350.4zM68.3 347.9 67.2 349.6 69.8 351.5 70.9 349.9zM72.6 351.2 71.6 352.7 72.4 353.3 73.5 351.8zM67.2 349.6 66.0 351.2 67.8 352.4 68.9 350.8zM69.8 351.5 68.7 353.0 69.6 353.6 70.7 352.1zM71.6 352.7 70.5 354.2 71.4 354.8 72.4 353.3zM66.9 351.8 65.9 353.5 66.8 354.1 67.8 352.4zM68.7 353.0 67.7 354.7 68.6 355.3 69.6 353.6zM65.0 352.9 63.9 354.6 64.8 355.2 65.9 353.5zM67.7 354.7 66.7 356.3 68.5 357.5 69.5 355.9zM64.8 355.2 63.8 356.9 64.7 357.4 65.7 355.8zM66.7 356.3 65.6 358.0 66.6 358.5 67.6 356.9zM68.5 357.5 67.5 359.1 68.5 359.6 69.4 358.0zM62.8 356.3 61.8 358.1 62.8 358.6 63.8 356.9zM64.7 357.4 63.7 359.2 67.5 361.3 68.5 359.6zM61.8 358.1 60.9 359.8 62.8 360.9 63.7 359.2zM65.6 360.2 64.7 361.9 66.6 363.0 67.5 361.3zM60.9 359.8 59.9 361.6 63.9 363.6 64.7 361.9zM65.7 362.4 64.9 364.1 65.8 364.6 66.6 363.0zM59.9 361.6 59.0 363.4 62.0 364.8 62.9 363.1zM63.9 363.6 63.0 365.3 65.0 366.2 65.8 364.6zM59.0 363.4 58.2 365.2 59.2 365.7 60.0 363.9zM61.3 366.6 60.6 368.3 61.7 368.8 62.3 367.0zM57.5 367.1 56.7 369.0 57.8 369.4 58.5 367.5zM59.6 367.9 58.9 369.7 60.0 370.1 60.6 368.3zM56.7 369.0 56.0 370.9 57.2 371.2 57.8 369.4zM58.9 369.7 58.3 371.6 59.4 371.9 60.0 370.1zM57.2 371.2 56.7 373.1 57.8 373.5 58.3 371.6zM55.6 372.8 55.1 374.8 56.3 375.1 56.7 373.1zM55.1 374.8 54.7 376.7 55.8 377.0 56.3 375.1zM55.8 377.0 55.4 378.9 56.6 379.2 57.0 377.2zM54.2 378.7 53.9 380.7 55.1 380.9 55.4 378.9zM56.6 379.2 56.3 381.1 57.5 381.3 57.8 379.4zM59.0 379.6 58.7 381.6 59.9 381.8 60.2 379.9zM53.6 382.7 53.3 384.7 54.5 384.8 54.8 382.9zM56.0 383.1 55.8 385.0 59.5 385.6 59.7 383.7zM53.3 384.7 53.0 386.6 54.2 386.8 54.5 384.8zM58.2 385.4 58.0 387.4 59.2 387.6 59.5 385.6zM53.0 386.6 52.7 388.6 54.0 388.8 54.2 386.8zM52.7 388.6 52.4 390.6 53.7 390.8 54.0 388.8zM59.1 389.6 58.9 391.5 60.2 391.7 60.4 389.7zM52.2 392.6 51.9 394.6 54.6 394.9 54.8 392.9zM51.9 394.6 51.7 396.6 53.0 396.8 53.2 394.8zM57.3 395.2 57.2 397.2 58.5 397.4 58.6 395.4zM51.7 396.6 51.5 398.6 52.9 398.7 53.0 396.8zM51.5 398.6 51.3 400.6 52.7 400.7 52.9 398.7zM51.3 400.6 51.1 402.6 52.6 402.7 52.7 400.7zM57.0 401.0 56.9 402.8 58.4 402.9 58.4 401.1zM51.1 404.6 51.1 406.6 54.1 406.6 54.0 404.7zM58.4 404.8 58.6 406.5 60.1 406.4 59.9 404.8zM51.1 406.6 51.2 408.6 52.7 408.5 52.6 406.6zM51.2 408.6 51.3 410.6 52.8 410.5 52.7 408.5zM57.3 408.2 57.3 409.9 58.9 409.8 58.8 408.1zM51.3 410.6 51.5 412.6 53.1 412.4 52.8 410.5zM51.5 412.6 52.0 414.6 53.5 414.3 53.1 412.4zM52.4 416.5 52.9 418.5 54.3 418.0 53.9 416.1zM55.4 415.7 55.8 417.6 57.2 417.1 56.8 415.3zM58.3 414.9 58.7 416.6 60.1 416.1 59.8 414.5zM53.6 420.4 54.4 422.2 55.8 421.6 55.0 419.9zM57.2 421.0 58.0 422.7 59.4 422.1 58.6 420.4zM59.4 422.1 60.1 423.8 62.8 422.5 62.1 420.8zM57.5 425.2 58.4 426.9 61.1 425.5 60.1 423.8zM61.5 423.1 62.4 424.9 63.8 424.2 62.8 422.5zM57.1 427.6 58.1 429.4 59.4 428.7 58.4 426.9zM62.4 424.9 63.4 426.6 64.8 426.0 63.8 424.2zM58.1 429.4 59.1 431.1 60.4 430.5 59.4 428.7zM63.4 426.6 64.4 428.4 65.7 427.8 64.8 426.0zM59.1 431.1 60.0 432.9 62.6 431.6 61.7 429.8zM65.7 427.8 66.6 429.7 67.9 429.1 67.0 427.1zM60.0 432.9 60.7 434.8 63.4 433.6 62.6 431.6zM63.9 431.0 64.7 433.1 67.4 431.9 66.6 429.7zM60.7 434.8 61.5 436.6 62.8 436.1 62.1 434.2zM61.5 436.6 62.3 438.5 63.6 438.0 62.8 436.1zM64.2 435.6 65.0 437.6 66.3 437.2 65.5 435.1zM66.8 434.6 67.6 436.8 68.9 436.3 68.2 434.2zM62.3 438.5 62.8 440.4 64.1 440.0 63.6 438.0zM67.6 436.8 68.1 438.9 69.4 438.5 68.9 436.3zM63.6 444.3 64.1 446.3 65.3 446.1 64.9 444.1zM67.5 443.5 67.9 445.6 69.2 445.3 68.8 443.3zM64.1 446.3 64.5 448.3 65.8 448.0 65.3 446.1zM66.6 445.8 67.1 447.8 68.3 447.6 67.9 445.6zM64.5 448.3 64.8 450.3 66.1 450.0 65.8 448.0zM68.3 447.6 68.7 449.6 70.0 449.4 69.6 447.3zM66.1 450.0 66.4 452.0 75.6 450.5 75.2 448.5zM65.1 452.2 65.4 454.2 66.7 454.0 66.4 452.0zM67.7 451.8 68.0 453.8 70.6 453.4 70.3 451.4zM71.6 451.2 72.0 453.2 77.2 452.4 76.9 450.3zM68.0 453.8 68.3 455.8 69.6 455.6 69.3 453.6zM70.6 453.4 71.0 455.4 72.3 455.2 72.0 453.2zM75.9 452.6 76.2 454.5 78.9 454.1 78.5 452.2zM68.3 455.8 68.6 457.8 72.6 457.1 72.3 455.2zM73.6 455.0 73.9 456.9 76.6 456.5 76.2 454.5zM78.9 454.1 79.2 456.0 80.5 455.8 80.2 453.9zM67.3 458.0 67.6 460.0 70.3 459.5 70.0 457.6zM71.3 457.3 71.6 459.3 72.9 459.1 72.6 457.1zM75.2 456.7 75.6 458.6 78.2 458.2 77.9 456.2zM66.3 460.2 66.7 462.2 69.3 461.7 68.9 459.7zM70.3 459.5 70.6 461.5 71.9 461.2 71.6 459.3zM72.9 459.1 73.3 461.0 74.6 460.8 74.2 458.8zM76.9 458.4 77.2 460.3 78.5 460.1 78.2 458.2zM68.0 461.9 68.3 463.9 69.7 463.7 69.3 461.7zM70.6 461.5 71.0 463.4 73.6 462.9 73.3 461.0zM74.6 460.8 74.9 462.7 78.9 462.0 78.5 460.1zM68.3 463.9 68.7 465.9 71.3 465.4 71.0 463.4zM74.9 462.7 75.3 464.6 77.9 464.1 77.5 462.2zM67.4 466.1 67.8 468.1 70.4 467.6 70.0 465.6zM71.3 465.4 71.7 467.3 73.0 467.1 72.6 465.1zM73.9 464.9 74.3 466.9 76.9 466.4 76.6 464.4zM77.9 464.1 78.2 466.1 79.5 465.9 79.2 463.9zM81.8 463.4 82.1 465.4 83.4 465.1 83.1 463.2zM69.1 467.8 69.5 469.8 70.8 469.6 70.4 467.6zM71.7 467.3 72.1 469.3 73.4 469.1 73.0 467.1zM74.3 466.9 74.7 468.8 79.9 467.8 79.5 465.9zM68.2 470.1 68.5 472.0 78.9 470.0 78.6 468.1zM68.5 472.0 68.9 474.0 80.5 471.6 80.2 469.7zM70.2 473.7 70.6 475.7 73.1 475.1 72.8 473.2zM74.1 472.9 74.4 474.9 75.7 474.6 75.3 472.7zM76.6 472.4 76.9 474.3 79.5 473.7 79.2 471.8zM70.6 475.7 71.0 477.6 73.6 477.1 73.1 475.1zM74.4 474.9 74.8 476.8 77.3 476.2 76.9 474.3zM78.2 474.0 78.6 475.9 81.1 475.3 80.8 473.4zM72.3 477.4 72.8 479.3 75.3 478.7 74.8 476.8zM76.1 476.5 76.5 478.4 81.5 477.2 81.1 475.3zM82.4 475.0 82.7 476.9 85.2 476.3 84.9 474.4zM71.5 479.6 72.0 481.5 75.7 480.6 75.3 478.7zM76.5 478.4 76.9 480.3 80.6 479.3 80.2 477.5zM72.0 481.5 72.5 483.5 73.7 483.2 73.2 481.2zM74.5 480.9 74.9 482.9 81.0 481.3 80.6 479.3zM83.1 478.7 83.4 480.7 84.7 480.4 84.3 478.4zM72.5 483.5 73.0 485.4 75.4 484.8 74.9 482.9zM76.1 482.5 76.6 484.5 79.0 483.9 78.6 481.9zM79.8 481.6 80.2 483.6 81.4 483.3 81.0 481.3zM82.2 481.0 82.6 483.0 83.8 482.7 83.4 480.7zM71.8 485.7 72.2 487.7 75.8 486.7 75.4 484.8zM76.6 484.5 77.0 486.4 78.2 486.1 77.8 484.2zM80.2 483.6 80.6 485.5 81.8 485.1 81.4 483.3zM72.2 487.7 72.7 489.6 77.4 488.3 77.0 486.4zM79.4 485.8 79.8 487.6 83.3 486.7 83.0 484.8zM72.7 489.6 73.2 491.6 80.2 489.5 79.8 487.6zM81.0 487.3 81.4 489.2 83.7 488.5 83.3 486.7zM73.2 491.6 73.9 493.5 75.0 493.1 74.4 491.2zM75.6 490.9 76.1 492.8 80.7 491.3 80.2 489.5zM81.4 489.2 81.9 491.0 84.1 490.3 83.7 488.5zM73.9 493.5 74.5 495.4 84.7 492.1 84.1 490.3zM75.6 495.0 76.3 496.9 78.6 496.1 77.9 494.3zM80.2 493.5 80.8 495.3 85.3 493.8 84.7 492.1zM75.2 497.3 75.8 499.2 81.5 497.2 80.8 495.3zM83.1 494.6 83.7 496.4 84.9 496.0 84.2 494.2zM85.3 493.8 86.0 495.7 87.1 495.3 86.4 493.4zM78.1 498.4 78.8 500.3 79.9 499.9 79.2 498.0zM80.3 497.6 81.0 499.5 87.8 497.1 87.1 495.3zM77.6 500.7 78.3 502.6 79.4 502.1 78.8 500.3zM79.9 499.9 80.5 501.7 87.2 499.2 86.6 497.5zM78.3 502.6 78.9 504.4 82.3 503.1 81.6 501.3zM82.8 500.9 83.4 502.6 84.5 502.2 83.9 500.4zM85.0 500.0 85.6 501.7 86.7 501.3 86.1 499.6zM78.9 504.4 79.6 506.3 80.7 505.8 80.0 504.0zM82.3 503.1 83.0 504.8 85.2 503.9 84.5 502.2zM85.6 501.7 86.3 503.4 88.5 502.5 87.8 500.8zM79.6 506.3 80.5 508.0 84.9 506.0 84.1 504.4zM86.3 503.4 87.1 505.0 89.3 504.0 88.5 502.5zM81.6 507.5 82.5 509.3 84.7 508.2 83.8 506.5zM84.9 506.0 85.8 507.7 86.9 507.2 86.0 505.5zM87.1 505.0 88.0 506.7 90.1 505.6 89.3 504.0zM81.4 509.8 82.3 511.6 83.4 511.0 82.5 509.3zM83.6 508.8 84.5 510.5 87.7 508.8 86.9 507.2zM89.0 506.1 89.9 507.7 91.0 507.2 90.1 505.6zM82.3 511.6 83.2 513.3 84.3 512.8 83.4 511.0zM84.5 510.5 85.4 512.2 88.6 510.5 87.7 508.8zM83.2 513.3 84.1 515.1 89.4 512.1 88.6 510.5zM90.7 509.3 91.5 510.9 92.6 510.3 91.8 508.7zM83.1 515.7 84.0 517.5 89.2 514.4 88.3 512.7zM90.4 511.5 91.3 513.1 93.4 511.8 92.6 510.3zM84.0 517.5 85.2 519.1 86.2 518.5 85.1 516.9zM86.1 516.2 87.2 517.8 91.3 515.2 90.3 513.7zM92.3 512.5 93.4 513.9 94.4 513.3 93.4 511.8zM94.4 511.2 95.4 512.6 96.5 512.0 95.5 510.6zM88.2 517.2 89.3 518.7 90.4 518.1 89.3 516.5zM90.3 515.9 91.4 517.4 92.4 516.7 91.3 515.2zM92.4 514.6 93.4 516.0 95.4 514.7 94.4 513.3zM95.4 512.6 96.4 514.0 97.4 513.3 96.5 512.0zM86.3 520.8 87.5 522.4 89.4 521.0 88.3 519.4zM91.4 517.4 92.4 518.9 96.4 516.0 95.4 514.7zM96.4 514.0 97.4 515.3 98.3 514.6 97.4 513.3zM89.4 521.0 90.6 522.6 92.5 521.2 91.4 519.6zM92.4 518.9 93.5 520.5 97.4 517.6 96.4 516.0zM97.4 515.3 98.4 516.9 99.4 516.1 98.3 514.6zM89.6 523.4 90.8 525.0 91.7 524.2 90.6 522.6zM91.6 521.9 92.7 523.5 93.7 522.8 92.5 521.2zM93.5 520.5 94.7 522.0 95.6 521.3 94.5 519.7zM90.8 525.0 92.0 526.5 96.8 522.8 95.6 521.3zM96.6 520.6 97.8 522.1 99.7 520.6 98.6 519.1zM92.0 526.5 93.3 528.1 95.2 526.6 93.9 525.0zM94.9 524.3 96.1 525.8 100.9 522.0 99.7 520.6zM94.2 527.3 95.5 528.9 96.4 528.1 95.2 526.6zM98.0 524.3 99.2 525.8 102.1 523.5 100.9 522.0zM101.9 521.3 103.0 522.7 104.0 522.0 102.8 520.5zM93.6 530.4 94.8 532.0 95.8 531.2 94.5 529.6zM95.5 528.9 96.7 530.4 97.7 529.7 96.4 528.1zM99.2 525.8 100.5 527.4 103.3 525.0 102.1 523.5zM95.8 531.2 97.0 532.8 101.8 528.9 100.5 527.4zM102.4 525.8 103.6 527.3 104.6 526.6 103.3 525.0zM96.1 533.5 97.4 535.1 103.0 530.4 101.8 528.9zM102.7 528.1 103.9 529.6 104.9 528.8 103.6 527.3zM98.3 534.3 99.6 535.8 100.5 535.0 99.3 533.5zM103.0 530.4 104.2 531.8 105.1 531.0 103.9 529.6zM104.9 528.8 106.0 530.2 107.0 529.4 105.8 528.0zM100.5 535.0 101.8 536.5 102.7 535.7 101.4 534.2zM102.4 533.4 103.6 534.9 104.5 534.1 103.3 532.6zM104.2 531.8 105.4 533.3 108.2 530.9 107.0 529.4zM100.0 538.2 101.3 539.6 102.2 538.8 100.9 537.4zM102.7 535.7 104.0 537.2 105.8 535.6 104.5 534.1zM105.4 533.3 106.7 534.7 109.4 532.3 108.2 530.9zM101.3 539.6 102.7 541.1 103.6 540.3 102.2 538.8zM103.1 538.0 104.5 539.4 108.1 536.1 106.7 534.7zM107.6 533.9 109.0 535.3 110.7 533.6 109.4 532.3zM102.7 541.1 104.1 542.6 105.8 540.8 104.5 539.4zM106.3 537.8 107.6 539.1 108.4 538.3 107.2 537.0zM108.1 536.1 109.3 537.4 110.1 536.5 109.0 535.3zM109.8 534.5 111.0 535.7 111.9 534.8 110.7 533.6zM111.6 532.8 112.7 534.0 113.6 533.1 112.5 532.0zM105.0 541.7 106.3 543.1 107.2 542.2 105.8 540.8zM106.7 540.0 108.0 541.4 110.5 538.7 109.3 537.4zM110.1 536.5 111.4 537.8 113.1 536.1 111.9 534.8zM106.3 543.1 107.7 544.6 111.0 541.0 109.7 539.6zM110.5 538.7 111.8 540.1 112.6 539.2 111.4 537.8zM112.2 537.0 113.5 538.3 114.3 537.4 113.1 536.1zM113.9 535.2 115.1 536.5 115.9 535.6 114.7 534.3zM107.7 544.6 109.2 545.8 111.7 543.0 110.2 541.9zM111.0 541.0 112.5 542.1 114.9 539.4 113.5 538.3zM115.1 536.5 116.5 537.5 117.3 536.6 115.9 535.6zM110.9 544.0 112.4 545.2 116.3 540.5 114.9 539.4zM116.5 537.5 117.8 538.6 118.6 537.7 117.3 536.6zM110.0 548.0 111.6 549.2 114.6 545.4 113.1 544.2zM113.9 543.3 115.3 544.4 116.1 543.5 114.7 542.4zM116.3 540.5 117.6 541.5 118.3 540.6 117.1 539.6zM117.8 538.6 119.1 539.6 119.8 538.6 118.6 537.7zM111.6 549.2 113.1 550.5 113.9 549.5 112.3 548.3zM113.8 546.3 115.3 547.6 117.5 544.6 116.1 543.5zM119.1 539.6 120.5 540.7 121.2 539.8 119.8 538.6zM113.9 549.5 115.4 550.8 119.0 545.8 117.5 544.6zM118.3 543.7 119.7 544.8 121.1 542.9 119.7 541.7zM120.5 540.7 121.9 541.9 122.6 540.9 121.2 539.8zM116.9 548.8 118.5 549.9 122.0 544.9 120.4 543.8zM121.1 542.9 122.6 543.9 124.0 541.9 122.6 540.9zM116.4 552.9 118.1 553.9 122.8 546.9 121.3 545.9zM123.3 542.9 124.9 543.8 126.2 541.8 124.7 540.9zM118.1 553.9 119.8 555.0 121.1 553.0 119.4 551.9zM120.8 549.9 122.4 550.9 123.1 549.9 121.5 548.9zM122.1 547.9 123.7 548.9 125.0 546.8 123.5 545.8zM119.8 555.0 121.5 556.1 122.8 554.0 121.1 553.0zM122.4 550.9 124.1 552.0 124.7 551.0 123.1 549.9zM123.7 548.9 125.4 549.9 126.0 548.9 124.4 547.9zM125.0 546.8 126.7 547.9 127.3 546.8 125.7 545.8zM122.1 555.1 123.8 556.2 125.1 554.1 123.4 553.0zM124.1 552.0 125.7 553.1 126.4 552.0 124.7 551.0zM125.4 549.9 127.0 551.0 127.7 550.0 126.0 548.9zM126.7 547.9 128.3 548.9 129.0 547.9 127.3 546.8zM128.0 545.8 129.6 546.9 130.3 545.8 128.6 544.8zM123.2 557.2 124.8 558.3 128.7 552.1 127.0 551.0zM127.7 550.0 129.3 551.0 130.6 548.9 129.0 547.9zM125.5 557.2 127.2 558.3 128.5 556.2 126.8 555.2zM127.4 554.1 129.1 555.2 132.3 550.0 130.6 548.9zM126.6 559.3 128.3 560.3 129.5 558.3 127.8 557.2zM129.1 555.2 130.8 556.2 132.7 553.1 131.0 552.0zM131.7 551.0 133.3 552.0 134.0 551.0 132.3 550.0zM128.3 560.3 130.0 561.4 130.6 560.3 128.9 559.3zM129.5 558.3 131.3 559.3 133.1 556.1 131.4 555.1zM132.7 553.1 134.4 554.1 135.0 553.0 133.3 552.0zM134.6 549.9 136.3 550.9 136.9 549.9 135.2 548.9zM130.6 560.3 132.4 561.4 134.2 558.2 132.5 557.2zM133.8 555.1 135.5 556.1 137.3 553.0 135.6 552.0zM136.3 550.9 138.0 551.9 139.2 549.8 137.5 548.8zM133.0 560.3 134.7 561.3 135.3 560.3 133.6 559.3zM134.9 557.2 136.6 558.2 139.1 554.0 137.3 553.0zM133.5 563.4 135.2 564.5 137.1 561.3 135.3 560.3zM136.0 559.2 137.7 560.3 140.8 555.0 139.1 554.0zM135.2 564.5 136.9 565.5 138.2 563.4 136.4 562.4zM137.1 561.3 138.8 562.3 139.4 561.3 137.7 560.3zM138.3 559.2 140.0 560.2 140.7 559.2 138.9 558.2zM139.6 557.1 141.3 558.1 142.5 556.0 140.8 555.0zM136.9 565.5 138.7 566.5 139.9 564.4 138.2 563.4zM138.8 562.3 140.5 563.4 144.2 557.1 142.5 556.0zM138.7 566.5 140.4 567.5 142.2 564.4 140.5 563.4zM141.8 561.3 143.5 562.3 144.1 561.2 142.4 560.2zM143.0 559.2 144.7 560.2 145.3 559.1 143.6 558.1zM145.5 555.0 147.2 556.0 147.8 554.9 146.1 553.9zM141.0 566.5 142.7 567.5 143.4 566.5 141.6 565.4zM142.2 564.4 144.0 565.4 144.6 564.4 142.9 563.3zM143.5 562.3 145.2 563.3 147.1 560.2 145.3 559.1zM146.6 557.0 148.3 558.1 149.6 556.0 147.8 554.9zM142.7 567.5 144.5 568.5 146.3 565.4 144.6 564.4zM145.2 563.3 146.9 564.3 149.4 560.1 147.7 559.1zM148.3 558.1 150.0 559.1 150.7 558.0 148.9 557.0zM144.5 568.5 146.2 569.5 146.8 568.5 145.1 567.5zM145.7 566.4 147.4 567.4 151.2 561.1 149.4 560.1zM150.0 559.1 151.8 560.1 153.0 558.0 151.3 557.0zM145.6 570.6 147.3 571.6 147.9 570.6 146.2 569.5zM146.8 568.5 148.5 569.5 149.2 568.5 147.4 567.4zM148.1 566.4 149.8 567.4 150.4 566.4 148.7 565.3zM150.5 562.2 152.3 563.2 153.5 561.1 151.8 560.1zM152.4 559.0 154.1 560.1 154.7 559.0 153.0 558.0zM147.9 570.6 149.7 571.6 150.9 569.5 149.2 568.5zM149.8 567.4 151.5 568.4 152.7 566.3 151.0 565.3zM152.3 563.2 154.0 564.2 154.6 563.2 152.9 562.2zM149.0 572.6 150.8 573.7 156.3 564.2 154.6 563.2zM155.8 561.1 157.5 562.1 158.2 561.0 156.4 560.0zM152.0 571.5 153.7 572.6 155.0 570.5 153.2 569.4zM153.8 568.4 155.6 569.4 158.0 565.2 156.3 564.2zM156.9 563.1 158.6 564.1 159.2 563.1 157.5 562.1zM153.1 573.6 154.9 574.6 160.3 565.1 158.6 564.1zM154.9 574.6 156.6 575.6 159.6 570.3 157.9 569.3zM158.5 568.3 160.2 569.3 161.5 567.2 159.7 566.2zM156.0 576.7 157.7 577.7 160.2 573.4 158.4 572.4zM159.0 571.4 160.8 572.4 161.4 571.3 159.6 570.3zM161.5 567.2 163.2 568.1 165.0 565.0 163.3 564.0zM157.7 577.7 159.5 578.7 160.1 577.6 158.3 576.6zM158.9 575.6 160.7 576.5 161.3 575.5 159.6 574.5zM160.2 573.4 161.9 574.4 162.5 573.4 160.8 572.4zM161.4 571.3 163.1 572.3 164.9 569.1 163.2 568.1zM161.3 575.5 163.0 576.5 164.9 573.3 163.1 572.3zM164.3 570.2 166.1 571.2 166.7 570.1 164.9 569.1zM165.5 568.1 167.3 569.1 167.9 568.0 166.1 567.0zM161.2 579.7 163.0 580.7 164.8 577.5 163.0 576.5zM163.6 575.4 165.4 576.4 167.8 572.2 166.1 571.2zM167.9 568.0 169.6 569.0 170.2 567.9 168.5 567.0zM163.0 580.7 164.7 581.7 165.3 580.6 163.6 579.6zM164.2 578.5 165.9 579.5 168.3 575.3 166.6 574.3zM167.2 573.2 168.9 574.2 170.1 572.1 168.4 571.1zM169.0 570.1 170.7 571.0 171.3 570.0 169.6 569.0zM165.9 579.5 167.6 580.5 168.8 578.4 167.1 577.4zM167.7 576.3 169.4 577.3 171.8 573.1 170.1 572.1zM167.6 580.5 169.4 581.5 170.0 580.4 168.2 579.5zM168.8 578.4 170.6 579.3 171.2 578.3 169.4 577.3zM170.6 575.2 172.3 576.1 173.5 574.0 171.8 573.1zM173.0 570.9 174.7 571.9 175.3 570.8 173.6 569.9zM168.8 582.5 170.6 583.5 171.8 581.4 170.0 580.4zM170.6 579.3 172.3 580.3 173.5 578.1 171.8 577.2zM172.3 576.1 174.1 577.1 175.3 574.9 173.5 574.0zM174.1 572.9 175.8 573.9 176.4 572.8 174.7 571.9zM170.0 584.6 171.8 585.5 172.3 584.5 170.6 583.5zM171.2 582.4 172.9 583.4 174.7 580.2 172.9 579.2zM173.5 578.1 175.2 579.1 175.8 578.0 174.1 577.1zM176.4 572.8 178.1 573.7 178.7 572.7 177.0 571.7zM172.3 584.5 174.1 585.4 177.0 580.0 175.2 579.1zM176.4 576.9 178.2 577.9 178.7 576.8 177.0 575.9zM177.6 574.8 179.3 575.7 179.9 574.7 178.1 573.7zM174.1 585.4 175.9 586.4 178.7 581.0 177.0 580.0zM177.6 579.0 179.3 579.9 179.9 578.8 178.2 577.9zM178.7 576.8 180.5 577.8 181.0 576.7 179.3 575.7zM175.3 587.4 177.1 588.4 178.2 586.2 176.5 585.3zM177.0 584.2 178.8 585.2 179.4 584.1 177.6 583.1zM178.7 581.0 180.5 581.9 181.1 580.8 179.3 579.9zM179.9 578.8 181.6 579.8 182.2 578.7 180.5 577.8zM181.0 576.7 182.8 577.6 183.3 576.5 181.6 575.6zM177.1 588.4 178.9 589.3 181.7 583.9 179.9 583.0zM180.5 581.9 182.3 582.8 183.9 579.6 182.2 578.7zM183.3 576.5 185.1 577.4 185.6 576.4 183.9 575.5zM179.4 588.2 181.2 589.2 182.3 587.0 180.6 586.1zM181.7 583.9 183.5 584.8 185.7 580.5 183.9 579.6zM181.2 589.2 183.0 590.1 184.7 586.8 182.9 585.9zM183.5 584.8 185.2 585.7 186.3 583.6 184.6 582.7zM185.1 581.6 186.9 582.5 188.0 580.3 186.3 579.4zM183.0 590.1 184.8 591.0 187.6 585.6 185.8 584.7zM186.3 583.6 188.1 584.5 190.3 580.2 188.6 579.3zM184.2 592.1 186.0 593.0 188.2 588.7 186.4 587.7zM187.0 586.7 188.8 587.6 189.3 586.5 187.6 585.6zM188.7 583.4 190.5 584.3 191.0 583.2 189.2 582.3zM189.8 581.2 191.6 582.2 192.1 581.1 190.3 580.2z"/>
<path fill="#dddddd" stroke="#dddddd" stroke-width="0.35" d="M100.1 326.5 98.7 328.1 99.4 328.8 100.8 327.2zM101.5 327.9 100.0 329.5 102.1 331.7 103.5 330.1zM98.0 327.3 96.6 328.8 97.2 329.6 98.7 328.1zM100.0 329.5 98.5 331.1 99.9 332.6 101.4 331.0zM95.2 327.3 93.7 328.6 98.9 334.8 100.5 333.3zM93.7 328.6 92.2 329.9 92.8 330.7 94.4 329.4zM95.7 330.9 94.0 332.3 94.6 333.1 96.3 331.7zM97.0 332.5 95.3 333.9 95.9 334.7 97.6 333.2zM93.4 331.5 91.7 332.7 92.9 334.4 94.6 333.1zM91.1 331.9 89.4 333.0 91.1 335.6 92.9 334.4zM94.0 336.0 92.3 337.3 93.4 339.0 95.2 337.7zM88.8 332.2 87.1 333.2 88.2 335.0 90.0 333.9zM90.5 334.7 88.8 335.9 91.6 340.2 93.4 339.0zM88.2 335.0 86.5 336.0 87.6 337.8 89.4 336.7zM88.1 338.7 86.4 339.8 87.5 341.5 89.2 340.4zM85.8 338.9 84.1 339.9 84.7 340.8 86.4 339.8zM82.5 337.2 80.8 338.3 81.9 340.0 83.6 339.0zM85.8 342.6 84.2 343.6 84.7 344.5 86.3 343.5zM81.4 339.1 79.7 340.2 80.3 341.1 81.9 340.0zM82.5 340.9 80.9 341.9 83.2 345.5 84.7 344.5zM79.1 339.3 77.5 340.4 78.7 342.1 80.3 341.1zM80.9 341.9 79.3 343.0 81.8 346.4 83.2 345.5zM76.8 339.5 75.2 340.7 75.9 341.6 77.5 340.4zM78.1 341.2 76.6 342.4 78.5 344.9 79.9 343.8zM80.5 344.7 79.2 345.7 80.5 347.4 81.8 346.4zM75.2 340.7 73.6 341.9 74.4 342.8 75.9 341.6zM77.9 344.1 76.5 345.2 79.3 348.4 80.5 347.4zM74.4 342.8 72.9 344.1 73.7 344.8 75.1 343.6zM77.2 346.0 76.0 347.1 76.7 347.9 77.9 346.8zM72.9 344.1 71.6 345.5 72.4 346.3 73.7 344.8zM74.5 345.6 73.2 347.0 74.0 347.7 75.2 346.4zM71.6 345.5 70.3 347.0 72.0 348.3 73.2 347.0zM74.0 347.7 72.8 349.0 73.6 349.7 74.8 348.4zM70.3 347.0 69.2 348.6 70.9 349.9 72.0 348.3zM70.9 349.9 69.8 351.5 71.6 352.7 72.6 351.2zM68.9 350.8 67.8 352.4 68.7 353.0 69.8 351.5zM66.0 351.2 65.0 352.9 65.9 353.5 66.9 351.8zM67.8 352.4 66.8 354.1 67.7 354.7 68.7 353.0zM69.6 353.6 68.6 355.3 70.4 356.4 71.4 354.8zM65.9 353.5 64.8 355.2 66.7 356.3 67.7 354.7zM69.5 355.9 68.5 357.5 69.4 358.0 70.4 356.4zM63.9 354.6 62.8 356.3 63.8 356.9 64.8 355.2zM65.7 355.8 64.7 357.4 65.6 358.0 66.7 356.3zM67.6 356.9 66.6 358.5 67.5 359.1 68.5 357.5zM63.8 356.9 62.8 358.6 63.7 359.2 64.7 357.4zM63.7 359.2 62.8 360.9 64.7 361.9 65.6 360.2zM64.7 361.9 63.9 363.6 64.9 364.1 65.7 362.4zM62.9 363.1 62.0 364.8 63.0 365.3 63.9 363.6zM60.0 363.9 59.2 365.7 64.4 368.0 65.0 366.2zM58.2 365.2 57.5 367.1 58.5 367.5 59.2 365.7zM56.0 370.9 55.6 372.8 56.7 373.1 57.2 371.2zM54.7 376.7 54.2 378.7 55.4 378.9 55.8 377.0zM53.9 380.7 53.6 382.7 54.8 382.9 55.1 380.9zM52.4 390.6 52.2 392.6 53.5 392.8 53.7 390.8zM51.1 402.6 51.1 404.6 52.5 404.6 52.6 402.7zM52.0 414.6 52.4 416.5 53.9 416.1 53.5 414.3zM52.9 418.5 53.6 420.4 55.0 419.9 54.3 418.0zM54.4 422.2 55.3 424.0 56.6 423.4 55.8 421.6zM55.3 424.0 56.1 425.9 57.5 425.2 56.6 423.4zM62.8 440.4 63.2 442.4 64.5 442.0 64.1 440.0zM63.2 442.4 63.6 444.3 64.9 444.1 64.5 442.0zM64.8 450.3 65.1 452.2 66.4 452.0 66.1 450.0zM75.2 448.5 75.6 450.5 76.9 450.3 76.5 448.2zM65.4 454.2 65.7 456.2 68.3 455.8 68.0 453.8zM72.0 453.2 72.3 455.2 76.2 454.5 75.9 452.6zM65.7 456.2 66.0 458.2 67.3 458.0 67.0 456.0zM72.3 455.2 72.6 457.1 73.9 456.9 73.6 455.0zM66.0 458.2 66.3 460.2 67.6 460.0 67.3 458.0zM70.0 457.6 70.3 459.5 71.6 459.3 71.3 457.3zM72.6 457.1 72.9 459.1 75.6 458.6 75.2 456.7zM74.2 458.8 74.6 460.8 77.2 460.3 76.9 458.4zM66.7 462.2 67.0 464.1 68.3 463.9 68.0 461.9zM69.3 461.7 69.7 463.7 71.0 463.4 70.6 461.5zM67.0 464.1 67.4 466.1 68.7 465.9 68.3 463.9zM71.0 463.4 71.3 465.4 72.6 465.1 72.3 463.2zM77.5 462.2 77.9 464.1 79.2 463.9 78.9 462.0zM70.0 465.6 70.4 467.6 71.7 467.3 71.3 465.4zM72.6 465.1 73.0 467.1 74.3 466.9 73.9 464.9zM76.6 464.4 76.9 466.4 78.2 466.1 77.9 464.1zM67.8 468.1 68.2 470.1 69.5 469.8 69.1 467.8zM73.0 467.1 73.4 469.1 74.7 468.8 74.3 466.9zM78.6 468.1 78.9 470.0 80.2 469.7 79.9 467.8zM68.9 474.0 69.3 476.0 70.6 475.7 70.2 473.7zM72.8 473.2 73.1 475.1 74.4 474.9 74.1 472.9zM79.2 471.8 79.5 473.7 80.8 473.4 80.5 471.6zM69.3 476.0 69.8 477.9 71.0 477.6 70.6 475.7zM69.8 477.9 70.3 479.9 72.8 479.3 72.3 477.4zM74.8 476.8 75.3 478.7 76.5 478.4 76.1 476.5zM70.3 479.9 70.8 481.8 72.0 481.5 71.5 479.6zM75.3 478.7 75.7 480.6 76.9 480.3 76.5 478.4zM80.2 477.5 80.6 479.3 81.8 479.0 81.5 477.2zM70.8 481.8 71.3 483.8 72.5 483.5 72.0 481.5zM71.3 483.8 71.8 485.7 73.0 485.4 72.5 483.5zM74.9 482.9 75.4 484.8 76.6 484.5 76.1 482.5zM81.0 481.3 81.4 483.3 82.6 483.0 82.2 481.0zM81.4 483.3 81.8 485.1 83.0 484.8 82.6 483.0zM78.2 486.1 78.6 488.0 79.8 487.6 79.4 485.8zM79.8 487.6 80.2 489.5 81.4 489.2 81.0 487.3zM74.5 495.4 75.2 497.3 76.3 496.9 75.6 495.0zM77.9 494.3 78.6 496.1 79.7 495.7 79.0 493.9zM80.8 495.3 81.5 497.2 82.6 496.8 81.9 495.0zM84.2 494.2 84.9 496.0 86.0 495.7 85.3 493.8zM75.8 499.2 76.5 501.1 78.8 500.3 78.1 498.4zM76.5 501.1 77.2 503.0 78.3 502.6 77.6 500.7zM77.2 503.0 77.8 504.9 78.9 504.4 78.3 502.6zM81.6 501.3 82.3 503.1 83.4 502.6 82.8 500.9zM83.9 500.4 84.5 502.2 85.6 501.7 85.0 500.0zM86.1 499.6 86.7 501.3 87.8 500.8 87.2 499.2zM77.8 504.9 78.5 506.7 79.6 506.3 78.9 504.4zM81.2 503.5 81.9 505.3 83.0 504.8 82.3 503.1zM78.5 506.7 79.4 508.5 80.5 508.0 79.6 506.3zM84.1 504.4 84.9 506.0 87.1 505.0 86.3 503.4zM79.4 508.5 80.4 510.3 82.5 509.3 81.6 507.5zM86.0 505.5 86.9 507.2 88.0 506.7 87.1 505.0zM80.4 510.3 81.3 512.1 82.3 511.6 81.4 509.8zM88.0 506.7 88.8 508.3 89.9 507.7 89.0 506.1zM81.3 512.1 82.2 513.9 83.2 513.3 82.3 511.6zM83.4 511.0 84.3 512.8 85.4 512.2 84.5 510.5zM82.2 513.9 83.1 515.7 84.1 515.1 83.2 513.3zM88.6 510.5 89.4 512.1 90.4 511.5 89.6 509.9zM89.4 512.1 90.3 513.7 91.3 513.1 90.4 511.5zM90.3 513.7 91.3 515.2 92.4 514.6 91.3 513.1zM85.2 519.1 86.3 520.8 88.3 519.4 87.2 517.8zM89.3 516.5 90.4 518.1 91.4 517.4 90.3 515.9zM91.3 515.2 92.4 516.7 93.4 516.0 92.4 514.6zM88.3 519.4 89.4 521.0 91.4 519.6 90.4 518.1zM87.5 522.4 88.6 524.1 89.6 523.4 88.5 521.7zM91.4 519.6 92.5 521.2 93.5 520.5 92.4 518.9zM88.6 524.1 89.8 525.7 90.8 525.0 89.6 523.4zM90.6 522.6 91.7 524.2 92.7 523.5 91.6 521.9zM95.5 519.0 96.6 520.6 97.6 519.8 96.5 518.3zM89.8 525.7 91.0 527.3 92.0 526.5 90.8 525.0zM95.6 521.3 96.8 522.8 97.8 522.1 96.6 520.6zM91.0 527.3 92.3 528.8 93.3 528.1 92.0 526.5zM92.3 528.8 93.6 530.4 95.5 528.9 94.2 527.3zM96.1 525.8 97.3 527.3 98.3 526.6 97.1 525.1zM94.5 529.6 95.8 531.2 96.7 530.4 95.5 528.9zM96.4 528.1 97.7 529.7 100.5 527.4 99.2 525.8zM94.8 532.0 96.1 533.5 97.0 532.8 95.8 531.2zM101.8 528.9 103.0 530.4 103.9 529.6 102.7 528.1zM103.6 527.3 104.9 528.8 105.8 528.0 104.6 526.6zM97.4 535.1 98.7 536.6 99.6 535.8 98.3 534.3zM99.3 533.5 100.5 535.0 102.4 533.4 101.1 531.9zM102.1 531.2 103.3 532.6 104.2 531.8 103.0 530.4zM103.9 529.6 105.1 531.0 106.0 530.2 104.9 528.8zM98.7 536.6 100.0 538.2 101.8 536.5 100.5 535.0zM103.3 532.6 104.5 534.1 105.4 533.3 104.2 531.8zM101.8 536.5 103.1 538.0 104.0 537.2 102.7 535.7zM107.2 537.0 108.4 538.3 109.3 537.4 108.1 536.1zM104.1 542.6 105.5 544.0 106.3 543.1 105.0 541.7zM105.8 540.8 107.2 542.2 108.0 541.4 106.7 540.0zM105.5 544.0 106.9 545.4 107.7 544.6 106.3 543.1zM109.7 539.6 111.0 541.0 111.8 540.1 110.5 538.7zM106.9 545.4 108.4 546.7 109.2 545.8 107.7 544.6zM114.9 539.4 116.3 540.5 117.1 539.6 115.7 538.5zM115.5 541.4 116.8 542.5 117.6 541.5 116.3 540.5zM113.1 547.3 114.6 548.5 115.3 547.6 113.8 546.3zM116.1 543.5 117.5 544.6 118.3 543.7 116.8 542.5zM113.1 550.5 114.7 551.7 115.4 550.8 113.9 549.5zM114.7 551.7 116.4 552.9 117.1 551.9 115.4 550.8zM121.3 545.9 122.8 546.9 123.5 545.8 122.0 544.9zM119.4 551.9 121.1 553.0 122.4 550.9 120.8 549.9zM121.1 553.0 122.8 554.0 124.1 552.0 122.4 550.9zM124.4 547.9 126.0 548.9 126.7 547.9 125.0 546.8zM121.5 556.1 123.2 557.2 123.8 556.2 122.1 555.1zM126.0 548.9 127.7 550.0 128.3 548.9 126.7 547.9zM124.8 558.3 126.6 559.3 127.2 558.3 125.5 557.2zM126.8 555.2 128.5 556.2 129.1 555.2 127.4 554.1zM127.8 557.2 129.5 558.3 130.8 556.2 129.1 555.2zM133.6 547.9 135.2 548.9 135.9 547.8 134.2 546.9zM131.4 555.1 133.1 556.1 133.8 555.1 132.1 554.1zM135.2 548.9 136.9 549.9 137.5 548.8 135.9 547.8zM130.0 561.4 131.7 562.4 132.4 561.4 130.6 560.3zM132.4 561.4 134.1 562.4 134.7 561.3 133.0 560.3zM135.3 560.3 137.1 561.3 137.7 560.3 136.0 559.2zM137.7 560.3 139.4 561.3 140.0 560.2 138.3 559.2zM142.0 552.9 143.8 553.9 144.4 552.9 142.7 551.9zM138.2 563.4 139.9 564.4 140.5 563.4 138.8 562.3zM143.6 558.1 145.3 559.1 146.0 558.1 144.2 557.1zM140.4 567.5 142.1 568.6 142.7 567.5 141.0 566.5zM141.6 565.4 143.4 566.5 144.0 565.4 142.2 564.4zM142.1 568.6 143.8 569.6 144.5 568.5 142.7 567.5zM143.8 569.6 145.6 570.6 146.2 569.5 144.5 568.5zM145.1 567.5 146.8 568.5 147.4 567.4 145.7 566.4zM148.7 565.3 150.4 566.4 151.0 565.3 149.3 564.3zM149.9 563.2 151.6 564.3 152.3 563.2 150.5 562.2zM151.0 565.3 152.7 566.3 153.4 565.3 151.6 564.3zM150.8 573.7 152.5 574.7 153.1 573.6 151.4 572.6zM153.2 569.4 155.0 570.5 155.6 569.4 153.8 568.4zM152.5 574.7 154.2 575.7 154.9 574.6 153.1 573.6zM154.2 575.7 156.0 576.7 156.6 575.6 154.9 574.6zM159.6 570.3 161.4 571.3 162.0 570.3 160.2 569.3zM160.8 568.2 162.6 569.2 163.2 568.1 161.5 567.2zM158.3 576.6 160.1 577.6 160.7 576.5 158.9 575.6zM160.8 572.4 162.5 573.4 163.1 572.3 161.4 571.3zM159.5 578.7 161.2 579.7 163.0 576.5 161.3 575.5zM163.7 571.3 165.5 572.3 166.1 571.2 164.3 570.2zM163.6 579.6 165.3 580.6 165.9 579.5 164.2 578.5zM166.6 574.3 168.3 575.3 168.9 574.2 167.2 573.2zM164.7 581.7 166.5 582.7 167.1 581.6 165.3 580.6zM167.1 577.4 168.8 578.4 169.4 577.3 167.7 576.3zM166.5 582.7 168.2 583.6 168.8 582.5 167.1 581.6zM168.2 579.5 170.0 580.4 170.6 579.3 168.8 578.4zM169.4 577.3 171.2 578.3 171.8 577.2 170.0 576.3zM168.2 583.6 170.0 584.6 170.6 583.5 168.8 582.5zM170.6 583.5 172.3 584.5 172.9 583.4 171.2 582.4zM174.1 577.1 175.8 578.0 177.0 575.9 175.3 574.9zM171.8 585.5 173.5 586.5 174.1 585.4 172.3 584.5zM175.2 579.1 177.0 580.0 177.6 579.0 175.8 578.0zM173.5 586.5 175.3 587.4 175.9 586.4 174.1 585.4zM179.3 575.7 181.0 576.7 181.6 575.6 179.9 574.7zM176.5 585.3 178.2 586.2 178.8 585.2 177.0 584.2zM179.3 579.9 181.1 580.8 181.6 579.8 179.9 578.8zM178.9 589.3 180.6 590.2 181.2 589.2 179.4 588.2zM180.6 590.2 182.4 591.2 183.0 590.1 181.2 589.2zM182.9 585.9 184.7 586.8 185.2 585.7 183.5 584.8zM182.4 591.2 184.2 592.1 184.8 591.0 183.0 590.1z"/>
<path fill="#ad8f69" stroke="#ad8f69" stroke-width="0.35" d="M103.5 330.1 102.1 331.7 103.5 333.1 104.9 331.5zM102.1 331.7 100.5 333.3 101.2 334.1 102.8 332.4zM101.2 334.1 99.6 335.5 100.2 336.3 101.9 334.8zM99.6 335.5 97.8 337.1 98.4 337.9 100.2 336.3zM97.1 336.3 95.2 337.7 96.4 339.3 98.4 337.9zM95.8 338.5 94.0 339.8 94.5 340.7 96.4 339.3zM93.4 339.0 91.6 340.2 92.1 341.1 94.0 339.8zM84.7 344.5 83.2 345.5 84.3 347.2 85.9 346.2zM83.8 346.3 82.4 347.3 83.0 348.1 84.3 347.2zM63.4 367.5 62.8 369.2 63.8 369.6 64.4 368.0zM59.0 373.8 58.6 375.6 59.7 375.9 60.1 374.1zM56.3 375.1 55.8 377.0 57.0 377.2 57.4 375.3zM59.7 375.9 59.4 377.7 61.7 378.2 62.0 376.5zM54.8 382.9 54.5 384.8 55.8 385.0 56.0 383.1zM58.0 387.4 57.8 389.4 59.1 389.6 59.2 387.6zM55.3 389.0 55.0 391.0 56.3 391.2 56.5 389.2zM55.0 391.0 54.8 392.9 56.1 393.1 56.3 391.2zM54.6 394.9 54.4 396.9 55.8 397.1 55.9 395.1zM52.6 402.7 52.5 404.6 54.0 404.7 54.0 402.7zM57.0 404.7 57.1 406.5 58.6 406.5 58.4 404.8zM55.7 408.3 55.8 410.1 57.3 409.9 57.3 408.2zM54.3 410.3 54.6 412.2 56.1 412.0 55.8 410.1zM56.8 415.3 57.2 417.1 58.7 416.6 58.3 414.9zM59.8 414.5 60.1 416.1 61.6 415.7 61.2 414.1zM56.5 419.3 57.2 421.0 58.6 420.4 57.9 418.8zM55.8 421.6 56.6 423.4 58.0 422.7 57.2 421.0zM62.8 436.1 63.6 438.0 65.0 437.6 64.2 435.6zM66.3 437.2 66.8 439.3 68.1 438.9 67.6 436.8zM67.1 441.4 67.5 443.5 68.8 443.3 68.4 441.1zM64.9 444.1 65.3 446.1 66.6 445.8 66.2 443.8zM69.2 445.3 69.6 447.3 70.9 447.1 70.5 445.1zM65.8 448.0 66.1 450.0 67.4 449.8 67.1 447.8zM78.5 460.1 78.9 462.0 80.2 461.7 79.8 459.8zM81.2 459.6 81.5 461.5 82.8 461.3 82.5 459.4zM79.9 467.8 80.2 469.7 81.5 469.5 81.2 467.6zM82.8 469.2 83.1 471.0 84.3 470.8 84.0 468.9zM80.8 473.4 81.1 475.3 82.4 475.0 82.0 473.2zM83.0 484.8 83.3 486.7 84.5 486.3 84.2 484.5zM85.4 484.2 85.7 486.0 86.9 485.7 86.6 483.9zM84.1 490.3 84.7 492.1 85.8 491.7 85.3 489.9zM85.8 491.7 86.4 493.4 87.6 493.0 86.9 491.3zM88.9 500.4 89.6 502.0 90.7 501.5 90.1 499.9zM90.7 501.5 91.5 503.0 92.6 502.5 91.8 501.0zM83.8 506.5 84.7 508.2 85.8 507.7 84.9 506.0zM90.1 505.6 91.0 507.2 92.0 506.6 91.2 505.1zM93.1 506.1 93.9 507.6 95.0 507.0 94.2 505.5zM98.3 514.6 99.4 516.1 100.4 515.4 99.3 513.9zM104.0 522.0 105.2 523.5 106.1 522.7 104.9 521.2zM105.5 525.8 106.7 527.2 107.7 526.5 106.5 525.0zM113.6 533.1 114.7 534.3 115.6 533.4 114.5 532.2zM113.1 536.1 114.3 537.4 115.1 536.5 113.9 535.2zM117.3 536.6 118.6 537.7 119.4 536.8 118.1 535.7zM124.9 543.8 126.4 544.8 127.0 543.8 125.5 542.8zM127.0 543.8 128.6 544.8 129.3 543.8 127.7 542.7zM128.6 544.8 130.3 545.8 130.9 544.8 129.3 543.8zM129.6 546.9 131.3 547.9 131.9 546.9 130.3 545.8zM131.9 546.9 133.6 547.9 134.2 546.9 132.6 545.8zM132.3 550.0 134.0 551.0 134.6 549.9 132.9 548.9zM135.6 552.0 137.3 553.0 138.0 551.9 136.3 550.9zM138.0 551.9 139.7 553.0 140.3 551.9 138.6 550.9zM143.8 553.9 145.5 555.0 146.1 553.9 144.4 552.9zM158.6 564.1 160.3 565.1 161.0 564.1 159.2 563.1zM163.2 568.1 164.9 569.1 165.5 568.1 163.8 567.1zM164.9 569.1 166.7 570.1 167.3 569.1 165.5 568.1zM171.8 573.1 173.5 574.0 174.1 572.9 172.4 572.0z"/>
<path fill="#6d1e1f" stroke="#6d1e1f" stroke-width="0.35" d="M104.9 331.5 103.5 333.1 107.6 337.5 109.1 335.7zM103.5 333.1 101.9 334.8 105.9 339.3 107.6 337.5zM101.9 334.8 100.2 336.3 100.9 337.1 102.5 335.6zM103.2 336.3 101.5 337.8 104.1 340.9 105.9 339.3zM100.2 336.3 98.4 337.9 102.1 342.7 104.1 340.9zM98.4 337.9 96.4 339.3 100.0 344.3 102.1 342.7zM96.4 339.3 94.5 340.7 98.0 345.8 100.0 344.3zM94.5 340.7 92.7 342.0 96.0 347.2 98.0 345.8zM92.7 342.0 90.9 343.1 94.1 348.4 96.0 347.2zM90.9 343.1 89.1 344.2 92.3 349.5 94.1 348.4zM89.1 344.2 87.4 345.3 90.7 350.6 92.3 349.5zM87.4 345.3 85.9 346.2 89.2 351.6 90.7 350.6zM85.9 346.2 84.3 347.2 87.8 352.5 89.2 351.6zM84.3 347.2 83.0 348.1 86.7 353.3 87.8 352.5zM83.0 348.1 81.9 349.1 85.8 354.1 86.7 353.3zM81.9 349.1 80.7 350.0 84.9 354.8 85.8 354.1zM79.3 348.4 78.2 349.4 84.2 355.5 84.9 354.8zM78.2 349.4 77.2 350.6 83.5 356.4 84.2 355.5zM77.2 350.6 76.1 351.8 82.7 357.2 83.5 356.4zM76.1 351.8 75.2 353.1 82.1 358.3 82.7 357.2zM75.2 353.1 74.2 354.6 81.2 359.6 82.1 358.3zM74.2 354.6 73.2 356.0 80.4 360.8 81.2 359.6zM73.2 356.0 72.2 357.6 79.5 362.3 80.4 360.8zM72.2 357.6 71.3 359.2 78.7 363.7 79.5 362.3zM71.3 359.2 70.3 360.8 77.8 365.2 78.7 363.7zM70.3 360.8 69.4 362.4 77.0 366.8 77.8 365.2zM69.4 362.4 68.6 364.0 76.3 368.1 77.0 366.8zM68.6 364.0 67.8 365.5 75.7 369.5 76.3 368.1zM67.8 365.5 67.0 367.2 75.1 370.9 75.7 369.5zM67.0 367.2 66.5 368.9 74.7 372.5 75.1 370.9zM66.5 368.9 66.0 370.4 74.5 373.7 74.7 372.5zM66.0 370.4 65.5 371.9 69.8 373.4 70.2 372.0zM71.3 372.4 70.9 373.7 74.2 374.8 74.5 373.7zM65.5 371.9 64.9 373.6 73.8 376.3 74.2 374.8zM64.9 373.6 64.6 375.4 73.7 377.9 73.8 376.3zM64.6 375.4 64.4 377.0 73.6 379.2 73.7 377.9zM64.4 377.0 64.1 378.7 73.4 380.6 73.6 379.2zM64.1 378.7 63.7 380.6 73.2 382.4 73.4 380.6zM63.7 380.6 63.5 382.4 73.2 384.2 73.2 382.4zM63.5 382.4 63.4 384.3 73.1 385.9 73.2 384.2zM63.4 384.3 63.2 386.2 73.0 387.7 73.1 385.9zM63.2 386.2 63.0 388.1 73.0 389.6 73.0 387.7zM63.0 388.1 62.9 390.1 73.1 391.6 73.0 389.6zM62.9 390.1 62.8 392.0 73.2 393.5 73.1 391.6zM62.8 392.0 62.8 393.9 73.4 395.3 73.2 393.5zM62.8 393.9 62.7 395.9 73.5 397.1 73.4 395.3zM62.7 395.9 62.6 397.8 73.6 399.0 73.5 397.1zM62.6 397.8 62.7 399.6 73.8 400.6 73.6 399.0zM62.7 399.6 62.7 401.3 74.1 402.0 73.8 400.6zM62.7 401.3 62.7 403.1 74.3 403.5 74.1 402.0zM62.7 403.1 62.8 404.8 74.6 405.1 74.3 403.5zM62.8 404.8 63.1 406.4 75.0 406.2 74.6 405.1zM63.1 406.4 63.3 407.8 75.4 406.9 75.0 406.2zM63.3 407.8 63.4 409.3 75.6 407.9 75.4 406.9zM63.4 409.3 63.6 410.8 75.7 409.1 75.6 407.9zM63.6 410.8 63.9 412.1 75.9 409.7 75.7 409.1zM63.9 412.1 64.2 413.3 75.9 410.1 75.9 409.7zM64.2 413.3 64.4 414.7 76.0 410.9 75.9 410.1zM64.4 414.7 65.0 416.2 76.4 412.1 76.0 410.9zM65.0 416.2 65.6 417.5 76.8 412.8 76.4 412.1zM65.6 417.5 66.2 418.8 77.1 413.6 76.8 412.8zM66.2 418.8 66.9 420.4 77.6 415.0 77.1 413.6zM66.9 420.4 67.8 422.1 74.5 418.7 73.6 417.0zM74.9 416.3 75.8 418.0 78.5 416.6 77.6 415.0zM67.8 422.1 68.8 423.9 79.5 418.5 78.5 416.6zM68.8 423.9 69.7 425.8 80.3 420.4 79.5 418.5zM69.7 425.8 70.5 427.8 81.1 422.8 80.3 420.4zM70.5 427.8 71.3 430.2 81.9 425.7 81.1 422.8zM71.3 430.2 72.2 432.7 82.8 428.8 81.9 425.7zM72.2 432.7 72.9 435.1 83.5 431.6 82.8 428.8zM72.9 435.1 73.3 437.4 83.9 434.4 83.5 431.6zM73.3 437.4 73.7 439.7 84.1 437.1 83.9 434.4zM73.7 439.7 74.0 442.2 84.3 440.0 84.1 437.1zM74.0 442.2 74.4 444.3 84.7 442.3 84.3 440.0zM74.4 444.3 74.8 446.4 85.2 444.5 84.7 442.3zM74.8 446.4 75.2 448.5 85.6 446.7 85.2 444.5zM81.7 447.3 82.1 449.5 86.0 448.8 85.6 446.7zM82.1 449.5 82.5 451.6 86.4 451.0 86.0 448.8zM82.5 451.6 82.8 453.5 86.8 452.9 86.4 451.0zM82.8 453.5 83.2 455.4 87.1 454.7 86.8 452.9zM83.2 455.4 83.5 457.2 87.5 456.6 87.1 454.7zM83.5 457.2 83.8 459.1 87.8 458.4 87.5 456.6zM83.8 459.1 84.1 461.0 88.0 460.3 87.8 458.4zM84.1 461.0 84.4 462.9 88.3 462.2 88.0 460.3zM84.4 462.9 84.7 464.9 88.6 464.1 88.3 462.2zM84.7 464.9 85.1 466.9 89.0 466.1 88.6 464.1zM85.1 466.9 85.3 468.7 89.2 467.9 89.0 466.1zM85.3 468.7 85.6 470.5 89.5 469.7 89.2 467.9zM85.6 470.5 85.9 472.3 89.7 471.5 89.5 469.7zM85.9 472.3 86.2 474.1 89.9 473.3 89.7 471.5zM86.2 474.1 86.5 476.0 89.0 475.3 88.7 473.5zM86.5 476.0 86.8 477.8 90.5 476.8 90.2 475.0zM86.8 477.8 87.1 479.8 90.8 478.8 90.5 476.8zM87.1 479.8 87.4 481.7 91.1 480.8 90.8 478.8zM87.4 481.7 87.7 483.6 91.3 482.6 91.1 480.8zM87.7 483.6 88.0 485.3 91.6 484.3 91.3 482.6zM89.2 485.0 89.5 486.8 91.8 486.1 91.6 484.3zM84.8 488.1 85.3 489.9 86.4 489.6 86.0 487.8zM88.3 487.1 88.7 488.8 92.1 487.8 91.8 486.1zM86.4 489.6 86.9 491.3 88.1 490.9 87.6 489.2zM88.7 488.8 89.2 490.6 92.6 489.5 92.1 487.8zM86.9 491.3 87.6 493.0 88.7 492.6 88.1 490.9zM89.2 490.6 89.8 492.2 93.2 491.1 92.6 489.5zM89.8 492.2 90.5 494.1 93.9 492.9 93.2 491.1zM87.1 495.3 87.8 497.1 88.9 496.7 88.2 494.9zM90.5 494.1 91.1 495.9 94.5 494.7 93.9 492.9zM86.6 497.5 87.2 499.2 88.4 498.7 87.8 497.1zM91.1 495.9 91.7 497.5 95.1 496.2 94.5 494.7zM91.7 497.5 92.3 499.0 95.6 497.7 95.1 496.2zM92.3 499.0 92.9 500.6 96.2 499.1 95.6 497.7zM92.9 500.6 93.7 502.0 97.0 500.5 96.2 499.1zM89.3 504.0 90.1 505.6 91.2 505.1 90.4 503.5zM93.7 502.0 94.5 503.5 97.7 501.9 97.0 500.5zM94.5 503.5 95.3 505.0 98.5 503.3 97.7 501.9zM92.0 506.6 92.8 508.2 93.9 507.6 93.1 506.1zM95.3 505.0 96.0 506.4 99.2 504.7 98.5 503.3zM96.0 506.4 96.8 507.9 99.9 506.1 99.2 504.7zM92.6 510.3 93.4 511.8 94.4 511.2 93.6 509.7zM94.7 509.1 95.5 510.6 96.5 510.0 95.7 508.5zM96.8 507.9 97.6 509.3 100.7 507.5 99.9 506.1zM97.6 509.3 98.5 510.7 101.6 508.7 100.7 507.5zM98.5 510.7 99.5 511.9 102.5 509.9 101.6 508.7zM97.4 513.3 98.3 514.6 99.3 513.9 98.4 512.6zM99.5 511.9 100.3 513.2 103.3 511.1 102.5 509.9zM100.3 513.2 101.4 514.7 104.3 512.5 103.3 511.1zM101.4 514.7 102.4 516.2 105.4 514.0 104.3 512.5zM100.5 517.6 101.7 519.1 102.6 518.4 101.5 516.9zM102.4 516.2 103.6 517.6 106.5 515.4 105.4 514.0zM103.6 517.6 104.7 519.0 107.6 516.7 106.5 515.4zM104.7 519.0 105.9 520.4 108.7 518.1 107.6 516.7zM105.9 520.4 107.1 522.0 109.9 519.6 108.7 518.1zM107.1 522.0 108.3 523.5 111.2 521.1 109.9 519.6zM108.3 523.5 109.5 524.9 112.3 522.5 111.2 521.1zM106.7 527.2 107.9 528.6 108.8 527.8 107.7 526.5zM109.5 524.9 110.7 526.3 113.4 523.9 112.3 522.5zM107.0 529.4 108.2 530.9 109.1 530.1 107.9 528.6zM110.7 526.3 111.8 527.7 114.6 525.2 113.4 523.9zM109.1 530.1 110.3 531.5 111.3 530.6 110.0 529.3zM111.8 527.7 113.1 529.0 115.8 526.6 114.6 525.2zM113.1 529.0 114.3 530.3 117.0 527.8 115.8 526.6zM114.3 530.3 115.3 531.4 117.9 528.8 117.0 527.8zM115.3 531.4 116.4 532.6 119.0 529.9 117.9 528.8zM116.4 532.6 117.6 533.8 119.2 532.0 118.1 530.8zM115.9 535.6 117.3 536.6 121.3 532.0 120.0 531.1zM115.7 538.5 117.1 539.6 117.8 538.6 116.5 537.5zM118.9 534.8 120.2 535.8 121.0 534.9 119.7 533.9zM120.5 533.0 121.7 533.9 122.5 533.0 121.3 532.0zM117.1 539.6 118.3 540.6 119.1 539.6 117.8 538.6zM118.6 537.7 119.8 538.6 120.6 537.7 119.4 536.8zM120.2 535.8 121.3 536.7 123.6 533.8 122.5 533.0zM118.3 540.6 119.7 541.7 120.5 540.7 119.1 539.6zM121.3 536.7 122.7 537.8 123.4 536.8 122.1 535.8zM122.8 534.8 124.1 535.9 124.9 534.9 123.6 533.8zM119.7 541.7 121.1 542.9 121.9 541.9 120.5 540.7zM122.7 537.8 124.0 538.9 125.4 536.9 124.1 535.9zM126.1 538.9 127.6 539.8 128.9 537.7 127.5 536.9zM124.2 544.8 125.7 545.8 126.4 544.8 124.9 543.8zM126.9 540.8 128.4 541.7 129.0 540.7 127.6 539.8zM128.3 538.8 129.7 539.7 130.3 538.6 128.9 537.7zM127.7 542.7 129.3 543.8 131.9 539.6 130.3 538.6zM130.0 542.7 131.6 543.8 132.2 542.7 130.6 541.7zM131.3 540.7 132.9 541.7 133.5 540.7 131.9 539.6zM129.0 547.9 130.6 548.9 131.3 547.9 129.6 546.9zM131.6 543.8 133.2 544.8 135.1 541.7 133.5 540.7zM132.6 545.8 134.2 546.9 134.8 545.8 133.2 544.8zM134.5 542.7 136.1 543.7 136.7 542.7 135.1 541.7zM134.8 545.8 136.5 546.8 137.1 545.8 135.5 544.8zM136.1 543.7 137.8 544.7 138.4 543.7 136.7 542.7zM137.8 544.7 139.4 545.7 140.0 544.6 138.4 543.7zM138.1 547.8 139.8 548.8 140.5 547.7 138.8 546.7zM139.4 545.7 141.1 546.7 141.7 545.6 140.0 544.6zM141.1 546.7 142.8 547.7 143.4 546.7 141.7 545.6zM139.7 553.0 141.4 554.0 142.0 552.9 140.3 551.9zM141.6 549.8 143.3 550.8 145.1 547.7 143.4 546.7zM143.9 549.8 145.6 550.8 146.9 548.7 145.1 547.7zM143.1 555.0 144.9 556.0 145.5 555.0 143.8 553.9zM145.0 551.9 146.7 552.9 147.3 551.8 145.6 550.8zM146.7 552.9 148.4 553.9 150.3 550.7 148.6 549.7zM148.4 553.9 150.2 554.9 151.4 552.8 149.7 551.8zM151.4 552.8 153.1 553.8 153.8 552.8 152.0 551.8zM151.3 557.0 153.0 558.0 153.6 556.9 151.9 555.9zM152.5 554.9 154.2 555.9 155.5 553.8 153.8 552.8zM151.8 560.1 153.5 561.1 154.1 560.1 152.4 559.0zM153.6 556.9 155.4 558.0 156.0 556.9 154.2 555.9zM152.9 562.2 154.6 563.2 155.2 562.1 153.5 561.1zM155.4 558.0 157.1 559.0 158.3 556.9 156.6 555.9zM155.2 562.1 156.9 563.1 157.5 562.1 155.8 561.1zM158.8 560.0 160.5 561.0 162.3 557.8 160.6 556.8zM160.5 561.0 162.2 562.0 162.8 560.9 161.1 559.9zM161.7 558.9 163.4 559.8 164.0 558.8 162.3 557.8zM162.8 560.9 164.5 561.9 165.1 560.8 163.4 559.8zM163.9 562.9 165.6 563.9 166.2 562.9 164.5 561.9zM166.2 562.9 167.9 563.8 169.1 561.7 167.4 560.7zM167.3 564.9 169.1 565.9 169.7 564.8 167.9 563.8zM168.5 562.8 170.3 563.8 170.9 562.7 169.1 561.7zM166.7 570.1 168.4 571.1 169.0 570.1 167.3 569.1zM169.1 565.9 170.8 566.9 171.4 565.8 169.7 564.8zM170.3 563.8 172.0 564.8 172.6 563.7 170.9 562.7zM170.8 566.9 172.5 567.8 174.3 564.6 172.6 563.7zM172.5 567.8 174.2 568.8 175.9 565.6 174.3 564.6zM174.8 567.7 176.5 568.7 177.6 566.5 175.9 565.6zM175.9 569.7 177.6 570.7 178.2 569.6 176.5 568.7zM177.1 567.6 178.8 568.5 179.3 567.5 177.6 566.5zM178.2 569.6 179.9 570.5 180.5 569.4 178.8 568.5zM179.3 571.6 181.0 572.5 182.2 570.4 180.5 569.4zM181.0 572.5 182.8 573.5 183.9 571.3 182.2 570.4zM180.5 577.8 182.2 578.7 182.8 577.6 181.0 576.7zM182.8 573.5 184.5 574.4 186.2 571.1 184.5 570.2zM182.2 578.7 183.9 579.6 185.1 577.4 183.3 576.5zM185.6 572.2 187.3 573.1 187.9 572.1 186.2 571.1zM186.2 575.3 188.0 576.2 189.6 572.9 187.9 572.1zM188.5 575.1 190.3 576.0 191.4 573.8 189.6 572.9zM189.7 577.1 191.5 578.0 193.1 574.7 191.4 573.8zM191.5 578.0 193.3 578.9 194.4 576.7 192.6 575.8z"/>
<path fill="#a87a62" stroke="#a87a62" stroke-width="0.35" d="M102.8 332.4 101.2 334.1 101.9 334.8 103.5 333.1zM100.5 333.3 98.9 334.8 99.6 335.5 101.2 334.1zM98.9 334.8 97.1 336.3 97.8 337.1 99.6 335.5zM95.2 337.7 93.4 339.0 94.0 339.8 95.8 338.5zM94.0 339.8 92.1 341.1 92.7 342.0 94.5 340.7zM91.6 340.2 89.8 341.3 90.9 343.1 92.7 342.0zM89.8 341.3 88.0 342.4 89.1 344.2 90.9 343.1zM88.0 342.4 86.3 343.5 87.4 345.3 89.1 344.2zM86.3 343.5 84.7 344.5 85.9 346.2 87.4 345.3zM83.2 345.5 81.8 346.4 82.4 347.3 83.8 346.3zM81.8 346.4 80.5 347.4 81.9 349.1 83.0 348.1zM80.5 347.4 79.3 348.4 80.7 350.0 81.9 349.1zM73.5 351.8 72.4 353.3 73.3 353.9 74.3 352.5zM71.4 354.8 70.4 356.4 71.3 357.0 72.3 355.4zM70.4 358.6 69.4 360.2 70.3 360.8 71.3 359.2zM64.4 368.0 63.8 369.6 64.9 370.0 65.4 368.4zM63.8 373.3 63.5 375.0 64.6 375.4 64.9 373.6zM61.3 401.2 61.3 403.0 62.7 403.1 62.7 401.3zM59.9 404.8 60.1 406.4 61.6 406.4 61.4 404.8zM60.6 411.3 61.0 412.8 62.4 412.4 62.1 411.1zM62.4 412.4 62.7 413.7 64.2 413.3 63.9 412.1zM61.6 415.7 62.1 417.3 65.0 416.2 64.4 414.7zM73.1 444.6 73.5 446.6 74.8 446.4 74.4 444.3zM84.0 468.9 84.3 470.8 85.6 470.5 85.3 468.7zM85.1 516.9 86.2 518.5 87.2 517.8 86.1 516.2zM101.4 526.6 102.7 528.1 103.6 527.3 102.4 525.8zM118.1 535.7 119.4 536.8 120.2 535.8 118.9 534.8zM119.4 536.8 120.6 537.7 121.3 536.7 120.2 535.8zM127.0 551.0 128.7 552.1 129.3 551.0 127.7 550.0zM137.5 548.8 139.2 549.8 139.8 548.8 138.1 547.8zM139.2 549.8 140.9 550.9 141.6 549.8 139.8 548.8zM140.9 550.9 142.7 551.9 143.3 550.8 141.6 549.8zM142.7 551.9 144.4 552.9 145.0 551.9 143.3 550.8zM147.8 554.9 149.6 556.0 150.2 554.9 148.4 553.9zM149.6 556.0 151.3 557.0 151.9 555.9 150.2 554.9zM153.0 558.0 154.7 559.0 155.4 558.0 153.6 556.9zM161.6 563.0 163.3 564.0 163.9 562.9 162.2 562.0zM163.3 564.0 165.0 565.0 165.6 563.9 163.9 562.9zM165.0 565.0 166.7 566.0 167.3 564.9 165.6 563.9zM166.7 566.0 168.5 567.0 169.1 565.9 167.3 564.9zM170.2 567.9 171.9 568.9 172.5 567.8 170.8 566.9zM175.3 570.8 177.0 571.7 177.6 570.7 175.9 569.7zM177.0 571.7 178.7 572.7 179.3 571.6 177.6 570.7zM178.7 572.7 180.5 573.6 181.0 572.5 179.3 571.6zM180.5 573.6 182.2 574.5 182.8 573.5 181.0 572.5zM177.6 583.1 179.4 584.1 179.9 583.0 178.2 582.1zM182.2 574.5 183.9 575.5 184.5 574.4 182.8 573.5zM185.1 577.4 186.8 578.3 187.4 577.3 185.6 576.4zM187.4 577.3 189.1 578.2 189.7 577.1 188.0 576.2z"/>
<path fill="#8a3f41" stroke="#8a3f41" stroke-width="0.35" d="M102.5 335.6 100.9 337.1 101.5 337.8 103.2 336.3zM77.5 348.6 76.4 349.9 77.2 350.6 78.2 349.4zM72.4 353.3 71.4 354.8 72.3 355.4 73.3 353.9zM65.8 364.6 65.0 366.2 67.0 367.2 67.8 365.5zM70.2 372.0 69.8 373.4 70.9 373.7 71.3 372.4zM60.4 389.7 60.2 391.7 61.5 391.9 61.6 389.9zM61.4 393.8 61.3 395.7 62.7 395.9 62.8 393.9zM59.9 397.5 59.9 399.4 61.3 399.5 61.3 397.7zM60.3 408.0 60.4 409.6 61.9 409.4 61.8 407.9zM64.2 421.8 65.1 423.5 66.4 422.8 65.5 421.1zM73.6 417.0 74.5 418.7 75.8 418.0 74.9 416.3zM70.8 433.2 71.6 435.5 72.9 435.1 72.2 432.7zM70.7 438.1 71.0 440.4 72.4 440.1 72.0 437.8zM81.2 451.8 81.5 453.7 82.8 453.5 82.5 451.6zM81.5 453.7 81.9 455.6 83.2 455.4 82.8 453.5zM81.9 455.6 82.2 457.5 83.5 457.2 83.2 455.4zM82.5 459.4 82.8 461.3 84.1 461.0 83.8 459.1zM82.8 461.3 83.1 463.2 84.4 462.9 84.1 461.0zM83.4 465.1 83.8 467.1 85.1 466.9 84.7 464.9zM83.8 467.1 84.0 468.9 85.3 468.7 85.1 466.9zM84.3 470.8 84.6 472.6 85.9 472.3 85.6 470.5zM84.6 472.6 84.9 474.4 86.2 474.1 85.9 472.3zM88.7 473.5 89.0 475.3 90.2 475.0 89.9 473.3zM85.2 476.3 85.5 478.1 86.8 477.8 86.5 476.0zM85.9 480.1 86.2 482.1 87.4 481.7 87.1 479.8zM86.6 483.9 86.9 485.7 88.0 485.3 87.7 483.6zM86.9 485.7 87.1 487.5 89.5 486.8 89.2 485.0zM87.1 487.5 87.6 489.2 88.7 488.8 88.3 487.1zM85.3 489.9 85.8 491.7 86.9 491.3 86.4 489.6zM87.6 489.2 88.1 490.9 89.2 490.6 88.7 488.8zM88.2 494.9 88.9 496.7 90.0 496.3 89.4 494.5zM90.0 496.3 90.6 497.9 91.7 497.5 91.1 495.9zM87.2 499.2 87.8 500.8 88.9 500.4 88.4 498.7zM90.1 499.9 90.7 501.5 91.8 501.0 91.2 499.5zM88.5 502.5 89.3 504.0 90.4 503.5 89.6 502.0zM91.2 505.1 92.0 506.6 93.1 506.1 92.3 504.6zM93.4 504.0 94.2 505.5 95.3 505.0 94.5 503.5zM91.8 508.7 92.6 510.3 93.6 509.7 92.8 508.2zM93.4 511.8 94.4 513.3 95.4 512.6 94.4 511.2zM95.5 510.6 96.5 512.0 97.5 511.3 96.5 510.0zM94.4 513.3 95.4 514.7 96.4 514.0 95.4 512.6zM99.3 513.9 100.4 515.4 101.4 514.7 100.3 513.2zM101.7 519.1 102.8 520.5 104.7 519.0 103.6 517.6zM103.0 522.7 104.3 524.3 105.2 523.5 104.0 522.0zM106.1 522.7 107.4 524.2 108.3 523.5 107.1 522.0zM106.5 525.0 107.7 526.5 109.5 524.9 108.3 523.5zM107.9 528.6 109.1 530.1 110.0 529.3 108.8 527.8zM110.9 528.5 112.2 529.8 113.1 529.0 111.8 527.7zM110.3 531.5 111.6 532.8 112.5 532.0 111.3 530.6zM112.2 529.8 113.4 531.1 114.3 530.3 113.1 529.0zM111.9 534.8 113.1 536.1 113.9 535.2 112.7 534.0zM114.5 532.2 115.6 533.4 116.4 532.6 115.3 531.4zM118.1 530.8 119.2 532.0 120.0 531.1 119.0 529.9zM119.7 533.9 121.0 534.9 121.7 533.9 120.5 533.0zM120.6 537.7 121.9 538.8 122.7 537.8 121.3 536.7zM122.1 535.8 123.4 536.8 124.1 535.9 122.8 534.8zM121.2 539.8 122.6 540.9 123.3 539.9 121.9 538.8zM124.1 535.9 125.4 536.9 126.1 535.9 124.9 534.9zM123.3 539.9 124.7 540.9 127.5 536.9 126.1 535.9zM124.7 540.9 126.2 541.8 127.6 539.8 126.1 538.9zM125.5 542.8 127.0 543.8 127.7 542.7 126.2 541.8zM127.6 539.8 129.0 540.7 129.7 539.7 128.3 538.8zM126.4 544.8 128.0 545.8 128.6 544.8 127.0 543.8zM127.3 546.8 129.0 547.9 129.6 546.9 128.0 545.8zM130.6 541.7 132.2 542.7 132.9 541.7 131.3 540.7zM133.2 544.8 134.8 545.8 136.1 543.7 134.5 542.7zM132.9 548.9 134.6 549.9 135.2 548.9 133.6 547.9zM135.5 544.8 137.1 545.8 137.8 544.7 136.1 543.7zM136.5 546.8 138.1 547.8 139.4 545.7 137.8 544.7zM138.8 546.7 140.5 547.7 141.1 546.7 139.4 545.7zM137.3 553.0 139.1 554.0 139.7 553.0 138.0 551.9zM138.6 550.9 140.3 551.9 140.9 550.9 139.2 549.8zM139.8 548.8 141.6 549.8 142.8 547.7 141.1 546.7zM140.3 551.9 142.0 552.9 142.7 551.9 140.9 550.9zM143.3 550.8 145.0 551.9 145.6 550.8 143.9 549.8zM142.5 556.0 144.2 557.1 144.9 556.0 143.1 555.0zM145.6 550.8 147.3 551.8 148.6 549.7 146.9 548.7zM146.1 553.9 147.8 554.9 148.4 553.9 146.7 552.9zM149.7 551.8 151.4 552.8 152.0 551.8 150.3 550.7zM150.2 554.9 151.9 555.9 153.1 553.8 151.4 552.8zM151.9 555.9 153.6 556.9 154.2 555.9 152.5 554.9zM154.2 555.9 156.0 556.9 157.2 554.8 155.5 553.8zM153.5 561.1 155.2 562.1 155.8 561.1 154.1 560.1zM156.6 555.9 158.3 556.9 158.9 555.8 157.2 554.8zM156.4 560.0 158.2 561.0 160.6 556.8 158.9 555.8zM158.2 561.0 159.9 562.0 160.5 561.0 158.8 560.0zM161.1 559.9 162.8 560.9 163.4 559.8 161.7 558.9zM159.7 566.2 161.5 567.2 162.1 566.1 160.3 565.1zM162.2 562.0 163.9 562.9 164.5 561.9 162.8 560.9zM163.4 559.8 165.1 560.8 165.7 559.8 164.0 558.8zM164.5 561.9 166.2 562.9 167.4 560.7 165.7 559.8zM165.6 563.9 167.3 564.9 167.9 563.8 166.2 562.9zM166.1 567.0 167.9 568.0 168.5 567.0 166.7 566.0zM167.9 563.8 169.7 564.8 170.3 563.8 168.5 562.8zM169.7 564.8 171.4 565.8 172.0 564.8 170.3 563.8zM170.1 572.1 171.8 573.1 172.4 572.0 170.7 571.0zM174.2 568.8 175.9 569.7 176.5 568.7 174.8 567.7zM173.5 574.0 175.3 574.9 175.8 573.9 174.1 572.9zM176.5 568.7 178.2 569.6 178.8 568.5 177.1 567.6zM175.8 573.9 177.6 574.8 178.1 573.7 176.4 572.8zM177.6 570.7 179.3 571.6 179.9 570.5 178.2 569.6zM178.8 568.5 180.5 569.4 181.0 568.4 179.3 567.5zM178.1 573.7 179.9 574.7 180.5 573.6 178.7 572.7zM180.5 569.4 182.2 570.4 182.8 569.3 181.0 568.4zM179.9 574.7 181.6 575.6 182.2 574.5 180.5 573.6zM182.2 570.4 183.9 571.3 184.5 570.2 182.8 569.3zM181.6 575.6 183.3 576.5 183.9 575.5 182.2 574.5zM184.5 574.4 186.2 575.3 187.3 573.1 185.6 572.2zM186.3 579.4 188.0 580.3 188.6 579.3 186.8 578.3zM188.0 576.2 189.7 577.1 190.3 576.0 188.5 575.1zM189.2 582.3 191.0 583.2 191.6 582.2 189.8 581.2zM192.6 575.8 194.4 576.7 194.9 575.7 193.1 574.7z"/>
<path fill="#b9ab85" stroke="#b9ab85" stroke-width="0.35" d="M92.9 334.4 91.1 335.6 91.7 336.4 93.5 335.2zM73.6 341.9 72.2 343.3 72.9 344.1 74.4 342.8zM70.7 352.1 69.6 353.6 70.5 354.2 71.6 352.7zM59.2 365.7 58.5 367.5 60.6 368.3 61.3 366.6zM62.3 367.0 61.7 368.8 62.8 369.2 63.4 367.5zM58.5 367.5 57.8 369.4 58.9 369.7 59.6 367.9zM60.6 368.3 60.0 370.1 63.3 371.2 63.8 369.6zM57.8 369.4 57.2 371.2 58.3 371.6 58.9 369.7zM60.0 370.1 59.4 371.9 62.7 372.9 63.3 371.2zM58.3 371.6 57.8 373.5 62.4 374.7 62.7 372.9zM56.7 373.1 56.3 375.1 58.6 375.6 59.0 373.8zM60.1 374.1 59.7 375.9 62.0 376.5 62.4 374.7zM57.4 375.3 57.0 377.2 59.4 377.7 59.7 375.9zM57.0 377.2 56.6 379.2 61.4 380.1 61.7 378.2zM55.4 378.9 55.1 380.9 56.3 381.1 56.6 379.2zM57.8 379.4 57.5 381.3 58.7 381.6 59.0 379.6zM60.2 379.9 59.9 381.8 61.1 382.0 61.4 380.1zM55.1 380.9 54.8 382.9 60.9 383.9 61.1 382.0zM59.7 383.7 59.5 385.6 60.7 385.8 60.9 383.9zM54.5 384.8 54.2 386.8 58.0 387.4 58.2 385.4zM59.5 385.6 59.2 387.6 60.5 387.8 60.7 385.8zM54.2 386.8 54.0 388.8 57.8 389.4 58.0 387.4zM59.2 387.6 59.1 389.6 60.4 389.7 60.5 387.8zM54.0 388.8 53.7 390.8 55.0 391.0 55.3 389.0zM56.5 389.2 56.3 391.2 58.9 391.5 59.1 389.6zM53.7 390.8 53.5 392.8 54.8 392.9 55.0 391.0zM56.3 391.2 56.1 393.1 60.1 393.6 60.2 391.7zM54.8 392.9 54.6 394.9 60.0 395.6 60.1 393.6zM53.2 394.8 53.0 396.8 54.4 396.9 54.6 394.9zM55.9 395.1 55.8 397.1 57.2 397.2 57.3 395.2zM58.6 395.4 58.5 397.4 59.9 397.5 60.0 395.6zM53.0 396.8 52.9 398.7 59.9 399.4 59.9 397.5zM52.9 398.7 52.7 400.7 59.8 401.1 59.9 399.4zM52.7 400.7 52.6 402.7 56.9 402.8 57.0 401.0zM58.4 401.1 58.4 402.9 59.8 402.9 59.8 401.1zM54.0 402.7 54.0 404.7 59.9 404.8 59.8 402.9zM54.0 404.7 54.1 406.6 57.1 406.5 57.0 404.7zM52.6 406.6 52.7 408.5 60.3 408.0 60.1 406.4zM52.7 408.5 52.8 410.5 55.8 410.1 55.7 408.3zM58.8 408.1 58.9 409.8 60.4 409.6 60.3 408.0zM52.8 410.5 53.1 412.4 54.6 412.2 54.3 410.3zM55.8 410.1 56.1 412.0 60.6 411.3 60.4 409.6zM53.1 412.4 53.5 414.3 61.0 412.8 60.6 411.3zM53.5 414.3 53.9 416.1 61.2 414.1 61.0 412.8zM53.9 416.1 54.3 418.0 55.8 417.6 55.4 415.7zM54.3 418.0 55.0 419.9 62.1 417.3 61.6 415.7zM55.0 419.9 55.8 421.6 57.2 421.0 56.5 419.3zM57.9 418.8 58.6 420.4 62.8 418.7 62.1 417.3zM58.6 420.4 59.4 422.1 63.5 420.1 62.8 418.7zM56.6 423.4 57.5 425.2 60.1 423.8 59.4 422.1zM62.1 420.8 62.8 422.5 64.2 421.8 63.5 420.1zM56.1 425.9 57.1 427.6 58.4 426.9 57.5 425.2zM60.1 423.8 61.1 425.5 62.4 424.9 61.5 423.1zM62.8 422.5 63.8 424.2 65.1 423.5 64.2 421.8zM58.4 426.9 59.4 428.7 63.4 426.6 62.4 424.9zM63.8 424.2 64.8 426.0 66.1 425.3 65.1 423.5zM59.4 428.7 60.4 430.5 64.4 428.4 63.4 426.6zM64.8 426.0 65.7 427.8 67.0 427.1 66.1 425.3zM61.7 429.8 62.6 431.6 66.6 429.7 65.7 427.8zM62.6 431.6 63.4 433.6 64.7 433.1 63.9 431.0zM66.6 429.7 67.4 431.9 68.7 431.4 67.9 429.1zM62.1 434.2 62.8 436.1 69.5 433.7 68.7 431.4zM65.5 435.1 66.3 437.2 67.6 436.8 66.8 434.6zM68.2 434.2 68.9 436.3 70.3 435.9 69.5 433.7zM63.6 438.0 64.1 440.0 66.8 439.3 66.3 437.2zM68.9 436.3 69.4 438.5 70.7 438.1 70.3 435.9zM64.1 440.0 64.5 442.0 71.0 440.4 70.7 438.1zM64.5 442.0 64.9 444.1 67.5 443.5 67.1 441.4zM68.4 441.1 68.8 443.3 71.4 442.7 71.0 440.4zM66.2 443.8 66.6 445.8 67.9 445.6 67.5 443.5zM68.8 443.3 69.2 445.3 71.8 444.8 71.4 442.7zM65.3 446.1 65.8 448.0 67.1 447.8 66.6 445.8zM67.9 445.6 68.3 447.6 69.6 447.3 69.2 445.3zM70.5 445.1 70.9 447.1 72.2 446.9 71.8 444.8zM67.1 447.8 67.4 449.8 68.7 449.6 68.3 447.6zM69.6 447.3 70.0 449.4 72.6 448.9 72.2 446.9zM76.5 448.2 76.9 450.3 80.8 449.7 80.4 447.6zM66.4 452.0 66.7 454.0 68.0 453.8 67.7 451.8zM70.3 451.4 70.6 453.4 72.0 453.2 71.6 451.2zM76.9 450.3 77.2 452.4 81.2 451.8 80.8 449.7zM69.3 453.6 69.6 455.6 71.0 455.4 70.6 453.4zM78.5 452.2 78.9 454.1 81.5 453.7 81.2 451.8zM67.0 456.0 67.3 458.0 68.6 457.8 68.3 455.8zM76.2 454.5 76.6 456.5 79.2 456.0 78.9 454.1zM80.2 453.9 80.5 455.8 81.9 455.6 81.5 453.7zM77.9 456.2 78.2 458.2 82.2 457.5 81.9 455.6zM68.9 459.7 69.3 461.7 70.6 461.5 70.3 459.5zM71.6 459.3 71.9 461.2 73.3 461.0 72.9 459.1zM78.2 458.2 78.5 460.1 82.5 459.4 82.2 457.5zM73.3 461.0 73.6 462.9 74.9 462.7 74.6 460.8zM79.8 459.8 80.2 461.7 81.5 461.5 81.2 459.6zM72.3 463.2 72.6 465.1 75.3 464.6 74.9 462.7zM78.9 462.0 79.2 463.9 83.1 463.2 82.8 461.3zM79.2 463.9 79.5 465.9 82.1 465.4 81.8 463.4zM70.4 467.6 70.8 469.6 72.1 469.3 71.7 467.3zM79.5 465.9 79.9 467.8 83.8 467.1 83.4 465.1zM81.2 467.6 81.5 469.5 84.0 468.9 83.8 467.1zM80.2 469.7 80.5 471.6 83.1 471.0 82.8 469.2zM75.3 472.7 75.7 474.6 76.9 474.3 76.6 472.4zM80.5 471.6 80.8 473.4 84.6 472.6 84.3 470.8zM73.1 475.1 73.6 477.1 74.8 476.8 74.4 474.9zM76.9 474.3 77.3 476.2 78.6 475.9 78.2 474.0zM82.0 473.2 82.4 475.0 84.9 474.4 84.6 472.6zM81.1 475.3 81.5 477.2 82.7 476.9 82.4 475.0zM81.5 477.2 81.8 479.0 85.5 478.1 85.2 476.3zM73.2 481.2 73.7 483.2 74.9 482.9 74.5 480.9zM80.6 479.3 81.0 481.3 83.4 480.7 83.1 478.7zM84.3 478.4 84.7 480.4 85.9 480.1 85.5 478.1zM78.6 481.9 79.0 483.9 80.2 483.6 79.8 481.6zM83.4 480.7 83.8 482.7 86.2 482.1 85.9 480.1zM75.4 484.8 75.8 486.7 77.0 486.4 76.6 484.5zM77.8 484.2 78.2 486.1 80.6 485.5 80.2 483.6zM82.6 483.0 83.0 484.8 86.6 483.9 86.2 482.1zM77.0 486.4 77.4 488.3 78.6 488.0 78.2 486.1zM84.2 484.5 84.5 486.3 85.7 486.0 85.4 484.2zM83.3 486.7 83.7 488.5 87.1 487.5 86.9 485.7zM74.4 491.2 75.0 493.1 76.1 492.8 75.6 490.9zM80.2 489.5 80.7 491.3 81.9 491.0 81.4 489.2zM83.7 488.5 84.1 490.3 85.3 489.9 84.8 488.1zM86.0 487.8 86.4 489.6 87.6 489.2 87.1 487.5zM79.0 493.9 79.7 495.7 80.8 495.3 80.2 493.5zM84.7 492.1 85.3 493.8 86.4 493.4 85.8 491.7zM81.9 495.0 82.6 496.8 83.7 496.4 83.1 494.6zM86.4 493.4 87.1 495.3 89.4 494.5 88.7 492.6zM79.2 498.0 79.9 499.9 81.0 499.5 80.3 497.6zM78.8 500.3 79.4 502.1 80.5 501.7 79.9 499.9zM87.8 497.1 88.4 498.7 90.6 497.9 90.0 496.3zM88.4 498.7 88.9 500.4 91.2 499.5 90.6 497.9zM80.0 504.0 80.7 505.8 81.9 505.3 81.2 503.5zM84.5 502.2 85.2 503.9 86.3 503.4 85.6 501.7zM87.8 500.8 88.5 502.5 89.6 502.0 88.9 500.4zM89.6 502.0 90.4 503.5 91.5 503.0 90.7 501.5zM90.4 503.5 91.2 505.1 93.4 504.0 92.6 502.5zM82.5 509.3 83.4 511.0 84.5 510.5 83.6 508.8zM92.3 504.6 93.1 506.1 94.2 505.5 93.4 504.0zM87.7 508.8 88.6 510.5 92.8 508.2 92.0 506.6zM89.6 509.9 90.4 511.5 91.5 510.9 90.7 509.3zM92.8 508.2 93.6 509.7 95.7 508.5 95.0 507.0zM93.6 509.7 94.4 511.2 95.5 510.6 94.7 509.1zM91.3 513.1 92.4 514.6 93.4 513.9 92.3 512.5zM87.2 517.8 88.3 519.4 89.3 518.7 88.2 517.2zM96.5 512.0 97.4 513.3 98.4 512.6 97.5 511.3zM90.4 518.1 91.4 519.6 92.4 518.9 91.4 517.4zM95.4 514.7 96.4 516.0 97.4 515.3 96.4 514.0zM88.5 521.7 89.6 523.4 90.6 522.6 89.4 521.0zM96.4 516.0 97.4 517.6 98.4 516.9 97.4 515.3zM92.5 521.2 93.7 522.8 94.7 522.0 93.5 520.5zM96.5 518.3 97.6 519.8 101.5 516.9 100.4 515.4zM98.6 519.1 99.7 520.6 101.7 519.1 100.5 517.6zM93.9 525.0 95.2 526.6 96.1 525.8 94.9 524.3zM99.7 520.6 100.9 522.0 102.8 520.5 101.7 519.1zM95.2 526.6 96.4 528.1 97.3 527.3 96.1 525.8zM97.1 525.1 98.3 526.6 99.2 525.8 98.0 524.3zM100.9 522.0 102.1 523.5 103.0 522.7 101.9 521.3zM102.8 520.5 104.0 522.0 104.9 521.2 103.8 519.8zM102.1 523.5 103.3 525.0 104.3 524.3 103.0 522.7zM103.3 525.0 104.6 526.6 107.4 524.2 106.1 522.7zM104.6 526.6 105.8 528.0 106.7 527.2 105.5 525.8zM101.1 531.9 102.4 533.4 103.3 532.6 102.1 531.2zM105.8 528.0 107.0 529.4 107.9 528.6 106.7 527.2zM107.7 526.5 108.8 527.8 109.7 527.0 108.6 525.7zM108.8 527.8 110.0 529.3 110.9 528.5 109.7 527.0zM100.9 537.4 102.2 538.8 103.1 538.0 101.8 536.5zM104.5 534.1 105.8 535.6 106.7 534.7 105.4 533.3zM108.2 530.9 109.4 532.3 110.3 531.5 109.1 530.1zM110.0 529.3 111.3 530.6 112.2 529.8 110.9 528.5zM106.7 534.7 108.1 536.1 109.0 535.3 107.6 533.9zM109.4 532.3 110.7 533.6 111.6 532.8 110.3 531.5zM111.3 530.6 112.5 532.0 113.4 531.1 112.2 529.8zM104.5 539.4 105.8 540.8 107.6 539.1 106.3 537.8zM109.0 535.3 110.1 536.5 111.0 535.7 109.8 534.5zM110.7 533.6 111.9 534.8 112.7 534.0 111.6 532.8zM112.5 532.0 113.6 533.1 114.5 532.2 113.4 531.1zM109.3 537.4 110.5 538.7 111.4 537.8 110.1 536.5zM112.7 534.0 113.9 535.2 114.7 534.3 113.6 533.1zM110.2 541.9 111.7 543.0 112.5 542.1 111.0 541.0zM114.3 537.4 115.7 538.5 116.5 537.5 115.1 536.5zM108.4 546.7 110.0 548.0 111.6 546.1 110.0 544.9zM113.1 544.2 114.6 545.4 115.3 544.4 113.9 543.3zM114.7 542.4 116.1 543.5 116.8 542.5 115.5 541.4zM116.8 542.5 118.3 543.7 119.7 541.7 118.3 540.6zM119.8 538.6 121.2 539.8 121.9 538.8 120.6 537.7zM117.5 544.6 119.0 545.8 119.7 544.8 118.3 543.7zM115.4 550.8 117.1 551.9 118.5 549.9 116.9 548.8zM120.4 543.8 122.0 544.9 122.6 543.9 121.1 542.9zM122.0 544.9 123.5 545.8 124.9 543.8 123.3 542.9zM121.5 548.9 123.1 549.9 123.7 548.9 122.1 547.9zM123.1 549.9 124.7 551.0 125.4 549.9 123.7 548.9zM125.7 545.8 127.3 546.8 128.0 545.8 126.4 544.8zM123.4 553.0 125.1 554.1 125.7 553.1 124.1 552.0zM124.7 551.0 126.4 552.0 127.0 551.0 125.4 549.9zM130.3 545.8 131.9 546.9 132.6 545.8 130.9 544.8zM130.6 548.9 132.3 550.0 132.9 548.9 131.3 547.9zM131.0 552.0 132.7 553.1 133.3 552.0 131.7 551.0zM128.9 559.3 130.6 560.3 131.3 559.3 129.5 558.3zM132.1 554.1 133.8 555.1 134.4 554.1 132.7 553.1zM133.3 552.0 135.0 553.0 136.3 550.9 134.6 549.9zM132.5 557.2 134.2 558.2 135.5 556.1 133.8 555.1zM131.7 562.4 133.5 563.4 134.1 562.4 132.4 561.4zM133.6 559.3 135.3 560.3 136.6 558.2 134.9 557.2zM139.1 554.0 140.8 555.0 141.4 554.0 139.7 553.0zM136.4 562.4 138.2 563.4 138.8 562.3 137.1 561.3zM138.9 558.2 140.7 559.2 141.3 558.1 139.6 557.1zM140.8 555.0 142.5 556.0 143.1 555.0 141.4 554.0zM140.5 563.4 142.2 564.4 142.9 563.3 141.1 562.3zM142.4 560.2 144.1 561.2 144.7 560.2 143.0 559.2zM144.2 557.1 146.0 558.1 146.6 557.0 144.9 556.0zM142.9 563.3 144.6 564.4 145.2 563.3 143.5 562.3zM145.3 559.1 147.1 560.2 148.3 558.1 146.6 557.0zM144.6 564.4 146.3 565.4 146.9 564.3 145.2 563.3zM147.7 559.1 149.4 560.1 150.0 559.1 148.3 558.1zM149.4 560.1 151.2 561.1 151.8 560.1 150.0 559.1zM146.2 569.5 147.9 570.6 148.5 569.5 146.8 568.5zM147.4 567.4 149.2 568.5 149.8 567.4 148.1 566.4zM149.3 564.3 151.0 565.3 151.6 564.3 149.9 563.2zM147.3 571.6 149.0 572.6 149.7 571.6 147.9 570.6zM149.2 568.5 150.9 569.5 151.5 568.4 149.8 567.4zM151.6 564.3 153.4 565.3 154.0 564.2 152.3 563.2zM154.6 563.2 156.3 564.2 156.9 563.1 155.2 562.1zM151.4 572.6 153.1 573.6 153.7 572.6 152.0 571.5zM156.3 564.2 158.0 565.2 158.6 564.1 156.9 563.1zM157.5 562.1 159.2 563.1 159.9 562.0 158.2 561.0zM157.9 569.3 159.6 570.3 160.2 569.3 158.5 568.3zM158.4 572.4 160.2 573.4 160.8 572.4 159.0 571.4zM160.2 569.3 162.0 570.3 162.6 569.2 160.8 568.2zM159.6 574.5 161.3 575.5 161.9 574.4 160.2 573.4zM163.1 572.3 164.9 573.3 165.5 572.3 163.7 571.3zM163.0 576.5 164.8 577.5 165.4 576.4 163.6 575.4zM166.1 571.2 167.8 572.2 168.4 571.1 166.7 570.1zM168.4 571.1 170.1 572.1 170.7 571.0 169.0 570.1zM169.6 569.0 171.3 570.0 171.9 568.9 170.2 567.9zM165.3 580.6 167.1 581.6 167.6 580.5 165.9 579.5zM167.1 581.6 168.8 582.5 169.4 581.5 167.6 580.5zM170.0 576.3 171.8 577.2 172.3 576.1 170.6 575.2zM172.4 572.0 174.1 572.9 174.7 571.9 173.0 570.9zM170.0 580.4 171.8 581.4 172.3 580.3 170.6 579.3zM171.8 577.2 173.5 578.1 174.1 577.1 172.3 576.1zM172.9 579.2 174.7 580.2 175.2 579.1 173.5 578.1zM175.3 574.9 177.0 575.9 177.6 574.8 175.8 573.9zM175.8 578.0 177.6 579.0 178.2 577.9 176.4 576.9zM177.0 575.9 178.7 576.8 179.3 575.7 177.6 574.8zM177.0 580.0 178.7 581.0 179.3 579.9 177.6 579.0zM178.2 582.1 179.9 583.0 180.5 581.9 178.7 581.0zM179.9 583.0 181.7 583.9 182.3 582.8 180.5 581.9zM180.6 586.1 182.3 587.0 183.5 584.8 181.7 583.9zM183.9 579.6 185.7 580.5 186.8 578.3 185.1 577.4zM184.6 582.7 186.3 583.6 186.9 582.5 185.1 581.6zM185.8 584.7 187.6 585.6 188.1 584.5 186.3 583.6zM188.6 579.3 190.3 580.2 190.9 579.1 189.1 578.2zM187.6 585.6 189.3 586.5 190.5 584.3 188.7 583.4z"/>
<path fill="#9e5b50" stroke="#9e5b50" stroke-width="0.35" d="M77.9 346.8 76.7 347.9 78.2 349.4 79.3 348.4zM76.7 347.9 75.6 349.1 76.4 349.9 77.5 348.6zM75.6 349.1 74.5 350.4 76.1 351.8 77.2 350.6zM74.5 350.4 73.5 351.8 75.2 353.1 76.1 351.8zM74.3 352.5 73.3 353.9 74.2 354.6 75.2 353.1zM73.3 353.9 72.3 355.4 73.2 356.0 74.2 354.6zM72.3 355.4 71.3 357.0 72.2 357.6 73.2 356.0zM70.4 356.4 69.4 358.0 71.3 359.2 72.2 357.6zM69.4 358.0 68.5 359.6 69.4 360.2 70.4 358.6zM68.5 359.6 67.5 361.3 69.4 362.4 70.3 360.8zM67.5 361.3 66.6 363.0 68.6 364.0 69.4 362.4zM66.6 363.0 65.8 364.6 67.8 365.5 68.6 364.0zM65.0 366.2 64.4 368.0 66.5 368.9 67.0 367.2zM65.4 368.4 64.9 370.0 66.0 370.4 66.5 368.9zM63.8 369.6 63.3 371.2 65.5 371.9 66.0 370.4zM63.3 371.2 62.7 372.9 64.9 373.6 65.5 371.9zM62.7 372.9 62.4 374.7 63.5 375.0 63.8 373.3zM62.4 374.7 62.0 376.5 64.4 377.0 64.6 375.4zM62.0 376.5 61.7 378.2 64.1 378.7 64.4 377.0zM61.7 378.2 61.4 380.1 63.7 380.6 64.1 378.7zM61.4 380.1 61.1 382.0 63.5 382.4 63.7 380.6zM61.1 382.0 60.9 383.9 63.4 384.3 63.5 382.4zM60.9 383.9 60.7 385.8 63.2 386.2 63.4 384.3zM60.7 385.8 60.5 387.8 63.0 388.1 63.2 386.2zM60.5 387.8 60.4 389.7 62.9 390.1 63.0 388.1zM61.6 389.9 61.5 391.9 62.8 392.0 62.9 390.1zM60.2 391.7 60.1 393.6 62.8 393.9 62.8 392.0zM60.1 393.6 60.0 395.6 61.3 395.7 61.4 393.8zM60.0 395.6 59.9 397.5 62.6 397.8 62.7 395.9zM61.3 397.7 61.3 399.5 62.7 399.6 62.6 397.8zM59.9 399.4 59.8 401.1 62.7 401.3 62.7 399.6zM59.8 401.1 59.8 402.9 61.3 403.0 61.3 401.2zM59.8 402.9 59.9 404.8 62.8 404.8 62.7 403.1zM61.4 404.8 61.6 406.4 63.1 406.4 62.8 404.8zM60.1 406.4 60.3 408.0 63.3 407.8 63.1 406.4zM61.8 407.9 61.9 409.4 63.4 409.3 63.3 407.8zM60.4 409.6 60.6 411.3 63.6 410.8 63.4 409.3zM62.1 411.1 62.4 412.4 63.9 412.1 63.6 410.8zM61.0 412.8 61.2 414.1 62.7 413.7 62.4 412.4zM61.2 414.1 61.6 415.7 64.4 414.7 64.2 413.3zM62.1 417.3 62.8 418.7 65.6 417.5 65.0 416.2zM62.8 418.7 63.5 420.1 66.2 418.8 65.6 417.5zM63.5 420.1 64.2 421.8 66.9 420.4 66.2 418.8zM65.5 421.1 66.4 422.8 67.8 422.1 66.9 420.4zM65.1 423.5 66.1 425.3 68.8 423.9 67.8 422.1zM66.1 425.3 67.0 427.1 69.7 425.8 68.8 423.9zM67.0 427.1 67.9 429.1 70.5 427.8 69.7 425.8zM67.9 429.1 68.7 431.4 71.3 430.2 70.5 427.8zM68.7 431.4 69.5 433.7 72.2 432.7 71.3 430.2zM69.5 433.7 70.3 435.9 71.6 435.5 70.8 433.2zM70.3 435.9 70.7 438.1 73.3 437.4 72.9 435.1zM72.0 437.8 72.4 440.1 73.7 439.7 73.3 437.4zM71.0 440.4 71.4 442.7 74.0 442.2 73.7 439.7zM71.4 442.7 71.8 444.8 74.4 444.3 74.0 442.2zM71.8 444.8 72.2 446.9 73.5 446.6 73.1 444.6zM72.2 446.9 72.6 448.9 75.2 448.5 74.8 446.4zM80.4 447.6 80.8 449.7 82.1 449.5 81.7 447.3zM80.8 449.7 81.2 451.8 82.5 451.6 82.1 449.5zM82.2 457.5 82.5 459.4 83.8 459.1 83.5 457.2zM83.1 463.2 83.4 465.1 84.7 464.9 84.4 462.9zM84.9 474.4 85.2 476.3 86.5 476.0 86.2 474.1zM85.5 478.1 85.9 480.1 87.1 479.8 86.8 477.8zM86.2 482.1 86.6 483.9 87.7 483.6 87.4 481.7zM88.1 490.9 88.7 492.6 89.8 492.2 89.2 490.6zM88.7 492.6 89.4 494.5 90.5 494.1 89.8 492.2zM89.4 494.5 90.0 496.3 91.1 495.9 90.5 494.1zM90.6 497.9 91.2 499.5 92.3 499.0 91.7 497.5zM91.2 499.5 91.8 501.0 92.9 500.6 92.3 499.0zM91.8 501.0 92.6 502.5 93.7 502.0 92.9 500.6zM92.6 502.5 93.4 504.0 94.5 503.5 93.7 502.0zM86.9 507.2 87.7 508.8 88.8 508.3 88.0 506.7zM94.2 505.5 95.0 507.0 96.0 506.4 95.3 505.0zM95.0 507.0 95.7 508.5 96.8 507.9 96.0 506.4zM88.3 512.7 89.2 514.4 90.3 513.7 89.4 512.1zM95.7 508.5 96.5 510.0 97.6 509.3 96.8 507.9zM96.5 510.0 97.5 511.3 98.5 510.7 97.6 509.3zM97.5 511.3 98.4 512.6 99.5 511.9 98.5 510.7zM98.4 512.6 99.3 513.9 100.3 513.2 99.5 511.9zM94.5 519.7 95.6 521.3 96.6 520.6 95.5 519.0zM100.4 515.4 101.5 516.9 102.4 516.2 101.4 514.7zM101.5 516.9 102.6 518.4 103.6 517.6 102.4 516.2zM103.8 519.8 104.9 521.2 105.9 520.4 104.7 519.0zM104.9 521.2 106.1 522.7 107.1 522.0 105.9 520.4zM100.5 527.4 101.8 528.9 102.7 528.1 101.4 526.6zM108.6 525.7 109.7 527.0 110.7 526.3 109.5 524.9zM101.4 534.2 102.7 535.7 103.6 534.9 102.4 533.4zM109.7 527.0 110.9 528.5 111.8 527.7 110.7 526.3zM102.2 538.8 103.6 540.3 104.5 539.4 103.1 538.0zM113.4 531.1 114.5 532.2 115.3 531.4 114.3 530.3zM111.4 537.8 112.6 539.2 113.5 538.3 112.2 537.0zM114.7 534.3 115.9 535.6 117.6 533.8 116.4 532.6zM113.5 538.3 114.9 539.4 115.7 538.5 114.3 537.4zM110.0 544.9 111.6 546.1 112.4 545.2 110.9 544.0zM112.3 548.3 113.9 549.5 114.6 548.5 113.1 547.3zM121.9 538.8 123.3 539.9 124.0 538.9 122.7 537.8zM122.6 540.9 124.0 541.9 124.7 540.9 123.3 539.9zM123.5 545.8 125.0 546.8 125.7 545.8 124.2 544.8zM126.2 541.8 127.7 542.7 128.4 541.7 126.9 540.8zM129.3 543.8 130.9 544.8 131.6 543.8 130.0 542.7zM130.9 544.8 132.6 545.8 133.2 544.8 131.6 543.8zM131.3 547.9 132.9 548.9 133.6 547.9 131.9 546.9zM134.2 546.9 135.9 547.8 136.5 546.8 134.8 545.8zM135.9 547.8 137.5 548.8 138.1 547.8 136.5 546.8zM141.4 554.0 143.1 555.0 143.8 553.9 142.0 552.9zM144.4 552.9 146.1 553.9 146.7 552.9 145.0 551.9zM141.1 562.3 142.9 563.3 143.5 562.3 141.8 561.3zM144.9 556.0 146.6 557.0 147.2 556.0 145.5 555.0zM148.9 557.0 150.7 558.0 151.3 557.0 149.6 556.0zM154.1 560.1 155.8 561.1 157.1 559.0 155.4 558.0zM159.2 563.1 161.0 564.1 162.2 562.0 160.5 561.0zM160.3 565.1 162.1 566.1 163.3 564.0 161.6 563.0zM163.8 567.1 165.5 568.1 166.7 566.0 165.0 565.0zM167.3 569.1 169.0 570.1 169.6 569.0 167.9 568.0zM168.5 567.0 170.2 567.9 170.8 566.9 169.1 565.9zM170.7 571.0 172.4 572.0 174.2 568.8 172.5 567.8zM173.6 569.9 175.3 570.8 175.9 569.7 174.2 568.8zM174.7 571.9 176.4 572.8 177.0 571.7 175.3 570.8zM178.2 577.9 179.9 578.8 180.5 577.8 178.7 576.8zM183.9 575.5 185.6 576.4 186.2 575.3 184.5 574.4zM185.6 576.4 187.4 577.3 188.0 576.2 186.2 575.3zM186.8 578.3 188.6 579.3 189.1 578.2 187.4 577.3zM189.1 578.2 190.9 579.1 191.5 578.0 189.7 577.1zM186.4 587.7 188.2 588.7 188.8 587.6 187.0 586.7zM190.3 580.2 192.1 581.1 193.3 578.9 191.5 578.0z"/>
<g fill="none" stroke="#111" stroke-width="0.7" stroke-linejoin="round" transform="translate(0,320)">
<path d="M107.2 16.3 L108.7 15.2 L110.3 14.2 L112.0 14.4 L113.4 15.2 L114.7 13.7 L116.4 12.7 L118.0 14.2 L117.4 17.3 L118.5 20.3 L118.5 22.2 L117.8 23.9 L118.1 25.8 L117.6 27.6 L116.4 29.5 L116.2 31.4 L115.6 33.3 L115.5 35.2 L115.2 37.1 L114.4 39.8 L113.3 41.3 L113.0 43.2 L112.3 44.9 L111.7 46.6 L110.9 48.3 L110.3 50.0 L109.9 51.8 L108.5 53.2 L108.2 55.1 L107.3 56.9 L106.3 58.6 L105.2 60.2 L104.5 62.0 L104.2 64.0 L103.9 65.7 L102.7 67.1 L101.8 68.5 L101.7 70.3 L100.4 71.6 L100.2 73.4 L99.4 75.0 L98.4 76.4 L97.9 78.1 L97.1 79.7 L97.5 81.8 L97.9 83.9 L97.9 86.0 L99.2 87.3 L99.7 88.9 L99.7 90.7 L101.0 92.0 L101.0 93.9 L101.0 95.8 L100.6 97.6 L101.0 99.5 L100.8 101.3 L100.3 103.0 L100.9 104.8 L100.9 106.6 L100.0 108.3 L100.8 110.1 L100.0 111.8 L100.2 113.6 L100.5 115.2 L100.5 116.9 L100.9 118.5 L101.6 120.0 L102.7 121.4 L102.6 123.1 L103.7 124.5 L103.9 126.2 L104.2 128.0 L105.6 129.2 L105.8 131.0 L106.6 132.5 L107.8 133.9 L108.3 135.6 L108.9 137.3 L110.8 138.3 L112.2 140.0 L113.6 141.5 L114.4 143.1 L115.3 144.6 L115.2 142.3 L115.8 140.0 L115.2 137.3 L115.8 135.8 L115.3 134.1 L115.7 132.5 L116.0 130.9 L116.4 129.4 L116.8 127.8 L117.7 126.3 L118.0 124.6 L118.9 123.2 L119.8 121.7 L119.7 119.8 L120.7 118.4 L121.1 116.5 L120.8 114.6 L121.0 112.7 L120.8 110.8 L120.7 108.9 L119.8 107.4 L118.7 106.0 L118.0 104.4 L117.2 102.8 L116.5 101.2 L115.6 99.6 L115.2 97.9 L113.7 97.0 L112.7 95.5 L111.6 94.1 L110.4 92.9 L108.9 92.0 L108.7 89.9 L107.4 88.1 L107.3 86.0 L107.8 84.2 L107.2 82.4 L107.1 80.6 L107.5 78.9 L107.9 77.1 L107.4 75.3 L107.7 73.6 L108.1 71.8 L109.0 70.2 L110.4 68.8 L110.9 67.0 L112.0 65.5 L113.0 64.1 L114.0 62.8 L114.9 61.3 L116.6 60.5 L117.7 59.2 L118.4 57.6 L119.7 56.5 L120.5 55.0 L121.7 53.8 L122.6 52.4 L123.9 51.3 L125.5 48.9 L127.5 49.1 L129.4 48.9 L131.3 51.3 L129.8 52.7 L128.6 54.4 L130.3 55.6 L131.5 57.4 L133.4 58.4 L134.2 60.4 L135.7 61.9 L136.5 63.9 L136.8 65.6 L137.5 67.1 L138.6 68.5 L138.9 70.2 L139.6 71.7 L139.7 73.5 L140.9 74.8 L141.0 76.5 L141.0 78.3 L142.0 79.7 L143.3 80.8 L144.2 82.2 L145.0 83.8 L146.1 85.0 L147.5 86.0 L146.6 87.5 L146.2 89.2 L145.2 90.6 L145.3 92.5 L144.4 94.0 L146.1 93.1 L147.1 91.5 L148.7 90.5 L150.0 89.1 L151.9 89.2 L153.9 88.9 L155.9 89.3 L157.8 89.1 L159.9 89.5 L161.9 90.2 L164.1 89.9 L165.7 89.8 L167.2 89.2 L168.8 88.8 L170.5 89.0 L171.9 88.1 L173.6 88.1 L175.1 87.6 L176.8 86.8 L178.5 86.1 L179.7 84.4 L181.5 83.9 L183.0 82.8 L183.2 81.1 L184.3 79.7 L184.9 78.1 L185.5 76.6 L186.2 75.1 L186.2 73.3 L187.0 71.8 L187.6 70.0 L187.3 68.1 L187.6 66.3 L187.6 64.4 L188.3 62.6 L188.5 60.8 L187.5 59.4 L187.3 57.7 L187.2 56.0 L186.8 54.4 L185.7 53.0 L185.9 51.2 L185.0 49.7 L184.6 48.1 L183.8 46.6 L183.9 44.9 L183.4 43.3 L182.6 41.8 L182.2 40.2 L181.8 38.6 L181.3 37.0 L180.7 35.5 L180.8 33.6 L180.7 31.7 L179.9 29.9 L179.5 28.0 L179.9 26.1 L180.8 24.6 L182.1 23.6 L183.5 22.6 L184.6 21.3 L186.4 21.0 L187.7 19.7 L189.3 18.8 L190.9 18.2 L192.5 17.4 L194.1 18.2 L195.8 18.0 L197.5 18.2"/>
<path d="M69.0 85.1 L70.6 85.9 L71.9 87.0 L73.1 88.7 L74.8 90.0 L76.0 91.6 L77.7 92.5 L79.5 93.3 L81.2 94.3 L82.5 95.7 L83.2 97.3 L84.1 98.8 L84.4 100.6 L85.1 102.1 L85.1 103.8 L85.4 105.4 L86.0 107.0 L87.1 108.2 L88.4 109.4 L88.8 111.1 L90.2 112.2 L91.1 113.6 L91.6 115.2 L92.1 116.8 L92.4 118.5 L92.6 120.2 L93.7 121.5 L93.8 123.3 L94.7 124.7 L95.7 126.6 L97.4 127.8 L98.7 129.4 L99.1 131.2 L99.9 132.7 L101.1 134.1 L102.1 135.6 L102.6 137.3 L103.8 138.7 L104.5 140.3 L105.0 142.0 L105.8 143.6 L106.7 145.1 L106.7 146.7 L106.9 148.3 L107.3 149.9 L106.7 151.6 L105.8 153.1 L106.2 154.8 L107.0 156.3 L107.6 157.9 L108.1 159.5 L108.9 161.0 L108.8 162.9 L109.0 164.9 L109.3 166.9 L108.9 168.8 L110.4 169.9 L112.3 170.5 L113.6 172.0 L114.9 173.8 L115.2 176.0 L114.2 177.4 L113.1 178.8 L111.5 179.8 L110.5 181.3 L110.1 183.0 L109.0 184.5 L108.0 186.0 L107.4 187.7 L106.3 189.1 L105.8 190.8 L105.7 192.5 L105.1 194.0 L104.2 195.5 L105.8 195.5 L107.3 196.4 L108.5 197.5 L109.7 198.7 L111.2 199.4 L112.3 200.8 L113.6 201.8 L114.8 203.0 L116.1 204.0 L117.3 205.2 L119.2 205.6 L120.1 207.2 L121.5 208.1 L122.7 209.3 L123.9 210.5 L125.7 210.9 L127.1 211.9 L127.9 213.6 L129.4 214.4 L130.9 214.9 L132.6 214.7 L134.1 215.8 L135.7 215.9 L137.3 216.0 L138.8 217.3 L140.3 218.6 L142.0 219.6 L143.6 220.7 L145.0 221.8 L146.5 222.9 L147.5 224.4 L148.5 225.8 L149.9 227.0 L151.7 227.9 L153.3 229.1 L154.9 230.3 L156.2 231.8 L157.3 233.4 L157.9 235.2 L159.4 236.5 L160.8 237.9 L162.9 238.4 L164.2 239.9 L165.7 241.2 L167.2 242.2 L169.1 242.4 L170.3 243.9 L172.0 244.4 L173.7 244.9 L175.2 245.9 L176.6 247.0 L178.3 247.5 L179.7 248.7 L181.7 248.7 L182.9 250.2 L184.6 250.7 L186.0 251.7 L187.6 252.3 L189.2 252.8 L191.0 253.1 L192.5 253.8 L194.4 254.7 L196.0 256.0"/>
<path d="M197.5 149.1 L196.0 150.0 L194.2 150.0 L192.6 150.5 L190.9 150.7 L189.5 151.8 L187.5 151.8 L186.0 152.7 L184.5 153.5 L183.1 154.8 L181.7 155.8 L179.9 156.2 L178.3 156.1 L176.7 156.2 L175.1 155.7 L173.6 155.2 L171.9 155.3 L170.4 155.0 L168.8 154.6 L168.2 156.3 L167.3 157.8 L165.7 159.1 L165.0 161.3 L163.3 162.5 L162.2 160.9 L160.6 159.7 L159.2 158.3 L157.8 157.0 L156.6 155.8 L154.8 155.4 L153.8 153.9 L151.8 154.3 L150.2 155.6 L148.3 156.2 L147.8 157.8 L147.1 159.3 L146.2 160.8 L146.0 162.5 L146.1 164.4 L145.7 166.3 L145.0 168.2 L145.7 170.1 L145.2 172.0 L145.6 174.0 L146.6 175.9 L146.8 178.0 L146.4 179.6 L146.2 181.2 L145.7 182.8 L145.9 184.5 L145.4 186.1 L144.3 187.5 L144.4 189.2 L146.3 189.5 L148.0 190.2 L149.4 191.6 L151.5 191.4 L153.1 192.3 L153.5 193.9 L154.2 195.5 L154.6 197.1 L156.3 196.9 L157.7 197.9 L159.3 198.0 L160.8 198.8 L162.5 198.6 L163.8 200.2 L165.9 200.6 L167.2 202.3 L168.8 203.4 L169.8 204.9 L170.8 206.4 L170.8 208.3 L172.0 209.7 L173.9 209.3 L175.8 209.7 L177.6 209.4 L179.5 209.8 L181.4 209.7 L182.8 207.9 L184.6 206.5 L186.0 205.4 L186.6 203.8 L187.5 202.3 L189.1 201.4 L189.5 199.7 L190.9 198.6 L192.4 197.8 L193.3 196.3 L194.8 195.5 L197.5 196.3"/>
<path d="M69.0 85.1 L68.4 86.8 L68.8 88.6 L68.1 90.3 L68.0 92.0 L68.2 93.6 L68.8 95.2 L68.8 96.9 L69.6 98.4 L70.0 100.0 L70.9 101.6 L71.3 103.3 L71.8 105.1 L72.7 106.6 L73.3 108.3 L74.0 110.0 L75.1 111.5 L75.5 113.2 L75.6 115.1 L76.7 116.6 L77.5 118.2 L77.8 120.0 L77.7 121.6 L78.7 123.1 L78.9 124.7 L79.1 126.3 L79.2 127.9 L79.6 129.5 L79.5 131.1 L79.8 132.7 L79.3 134.4 L80.2 135.9 L80.1 137.5 L80.6 139.1 L80.6 140.7 L80.5 142.4 L81.4 144.1 L81.3 145.9 L81.7 147.6 L81.6 149.3 L81.9 151.0 L81.8 152.8 L81.4 154.5 L82.6 156.2 L82.6 157.9 L82.3 159.7 L82.6 161.4 L82.7 163.0 L83.7 164.4 L84.1 166.0 L84.7 167.5 L85.1 169.0 L85.4 170.6 L85.6 172.2 L86.8 173.5 L86.8 175.2 L88.0 176.4 L88.9 177.8 L89.4 179.4 L90.2 180.9 L91.8 181.9 L92.3 183.5 L93.7 184.6 L94.5 186.0 L95.1 187.6 L95.8 189.1 L96.4 190.7 L97.8 191.8 L98.8 193.1 L99.6 194.5 L100.0 196.2 L100.9 197.5 L102.0 198.7 L102.8 200.4 L104.4 201.3 L105.1 203.0 L106.1 204.4 L107.5 205.6 L109.1 206.8 L110.5 208.2 L111.3 210.1 L113.0 211.2 L114.6 211.9 L115.9 212.9 L117.4 213.6 L118.3 215.2 L119.8 215.9 L121.3 216.7 L122.9 217.2 L124.2 218.1 L125.7 218.8 L127.3 219.1 L128.4 220.5 L130.0 221.0 L131.7 221.5 L132.9 222.6 L134.2 223.8 L135.8 224.2 L137.0 225.5 L138.3 226.5 L140.0 227.0 L141.3 228.0 L142.9 228.6 L144.0 230.0 L145.8 230.3 L146.9 231.8 L148.5 232.2 L150.0 233.0 L151.4 233.8 L152.7 234.9 L154.5 235.0 L155.8 235.9 L157.0 237.2 L158.8 237.3 L160.0 238.5 L161.5 239.7 L163.4 240.0 L165.0 240.7 L166.4 242.0 L168.5 241.8 L170.0 243.0 L171.9 243.3 L173.3 244.6 L174.9 245.4 L176.5 246.4 L178.5 246.4 L180.0 247.5 L181.5 248.5 L183.3 248.8 L185.0 249.3 L186.8 249.3 L188.2 250.7 L190.0 251.0 L191.6 251.3 L192.9 252.4 L194.3 253.4 L196.0 253.5"/>
<path d="M148.3 226.0 L151.0 224.0 L156.0 224.5 L159.0 226.5 L155.0 228.6 L149.0 228.3 L148.3 226.0"/>
<path d="M186.0 256.0 L190.0 255.5 L193.0 258.0 L190.0 260.0 L186.0 258.5 L186.0 256.0"/>
<path d="M190.0 261.0 L195.0 260.0 L197.5 263.0 L195.0 266.0 L191.0 265.0 L190.0 261.0"/>
<path d="M173.0 252.5 L177.0 251.5 L179.0 253.5 L176.0 255.0 L173.0 252.5"/>
<path d="M164.0 248.5 L168.0 248.0 L170.0 250.0 L166.0 251.0 L164.0 248.5"/>
<path d="M104.0 133.0 L106.0 131.5 L108.0 134.0 L107.0 137.0 L104.5 136.0 L104.0 133.0"/>
<path d="M113.0 167.0 L117.5 165.6 L119.8 170.0 L119.0 176.3 L121.3 178.4 L117.5 177.0 L114.5 171.7 L113.0 167.0"/>
<path d="M101.0 133.0 L103.0 132.0 L104.5 135.0 L103.0 138.0 L101.5 137.0 L101.0 133.0"/>
<path d="M104.0 139.0 L106.0 137.5 L108.5 141.0 L107.0 144.5 L104.5 143.0 L104.0 139.0"/>
<path d="M106.0 152.0 L108.0 151.0 L109.0 154.0 L107.0 155.5 L106.0 152.0"/>
<path d="M108.0 146.5 L110.0 146.0 L110.5 148.5 L108.5 149.0 L108.0 146.5"/>
<path d="M96.0 14.0 L98.0 12.0 L99.0 15.0 L97.0 17.0 L96.0 14.0"/>
<path d="M85.0 23.0 L87.0 21.0 L89.0 22.5 L88.0 25.0 L85.5 25.0 L85.0 23.0"/>
<path d="M79.0 28.0 L80.5 27.0 L81.5 30.0 L79.5 31.0 L79.0 28.0"/>
<path d="M70.0 52.0 L71.5 51.0 L72.0 54.0 L70.5 55.0 L70.0 52.0"/>
<path d="M67.0 121.0 L69.0 119.5 L70.5 123.0 L69.0 126.0 L67.0 124.0 L67.0 121.0"/>
<path d="M73.0 144.0 L74.5 142.5 L76.0 147.0 L75.0 150.0 L73.5 148.0 L73.0 144.0"/>
<path d="M77.0 161.0 L79.0 160.0 L80.5 165.0 L79.0 168.0 L77.5 165.0 L77.0 161.0"/>
<path d="M82.0 176.0 L84.0 175.0 L85.5 180.0 L83.5 181.5 L82.0 176.0"/>
<circle cx="111.5" cy="143.5" r="0.45" fill="#111"/>
<circle cx="113.5" cy="144" r="0.4" fill="#111"/>
<circle cx="116.5" cy="145.5" r="0.45" fill="#111"/>
<circle cx="118.5" cy="144.5" r="0.4" fill="#111"/>
<circle cx="107" cy="50" r="0.45" fill="#111"/>
<circle cx="108.5" cy="53" r="0.45" fill="#111"/>
<circle cx="110" cy="47.5" r="0.4" fill="#111"/>
<circle cx="106" cy="57" r="0.4" fill="#111"/>
<circle cx="112" cy="44" r="0.4" fill="#111"/>
<circle cx="104" cy="62" r="0.45" fill="#111"/>
<circle cx="113.5" cy="38" r="0.4" fill="#111"/>
<circle cx="109" cy="55.5" r="0.35" fill="#111"/>
<circle cx="150.7" cy="136.5" r="1.6"/>
<circle cx="127.8" cy="182.1" r="1.5"/>
<circle cx="130" cy="137" r="0.5" fill="#111"/>
<circle cx="133" cy="137.5" r="0.5" fill="#111"/>
<circle cx="152" cy="145" r="0.5" fill="#111"/>
<circle cx="154" cy="198" r="0.5" fill="#111"/>
<circle cx="176" cy="205" r="0.5" fill="#111"/>
<circle cx="60" cy="221" r="0.5" fill="#111"/>
<circle cx="93" cy="129" r="0.5" fill="#111"/>
<circle cx="117.5" cy="132" r="0.5" fill="#111"/>
<circle cx="124" cy="152" r="0.4" fill="#111"/>
<circle cx="135" cy="220" r="0.5" fill="#111"/>
</g>
<path d="M104.5 338.3C103.8 338.8 101.7 340.3 100.0 341.3C98.3 342.3 96.8 342.9 94.5 344.5C92.2 346.1 88.9 348.7 86.3 350.6C83.7 352.5 81.1 353.7 79.1 355.7C77.0 357.7 75.4 360.2 74.0 362.8C72.6 365.4 71.6 367.5 70.9 371.0C70.2 374.5 70.4 379.3 69.9 384.0C69.4 388.7 68.2 395.1 68.0 399.3C67.8 403.5 67.9 405.8 68.5 409.0C69.1 412.2 70.3 415.4 71.4 418.6C72.5 421.8 74.2 425.1 75.3 428.3C76.4 431.5 77.5 434.8 78.2 438.0C78.9 441.2 79.1 443.9 79.6 447.6C80.1 451.3 80.5 454.6 81.0 460.0C81.5 465.4 81.7 474.7 82.5 480.0C83.3 485.3 84.7 488.7 86.0 492.0C87.3 495.3 88.8 497.3 90.5 500.0C92.2 502.7 94.5 505.3 96.5 508.0C98.5 510.7 100.2 513.2 102.5 516.0C104.8 518.8 107.5 522.2 110.5 525.0C113.5 527.8 116.8 530.3 120.5 533.0C124.2 535.7 128.2 538.2 132.5 541.0C136.8 543.8 141.8 547.2 146.5 550.0C151.2 552.8 155.7 555.3 160.5 558.0C165.3 560.7 170.5 563.3 175.5 566.0C180.5 568.7 186.8 572.0 190.5 574.0C194.2 576.0 196.3 577.3 197.5 578.0" fill="none" stroke="#9a9a9a" stroke-width="2.3"/>
<path d="M104.5 338.3C103.8 338.8 101.7 340.3 100.0 341.3C98.3 342.3 96.8 342.9 94.5 344.5C92.2 346.1 88.9 348.7 86.3 350.6C83.7 352.5 81.1 353.7 79.1 355.7C77.0 357.7 75.4 360.2 74.0 362.8C72.6 365.4 71.6 367.5 70.9 371.0C70.2 374.5 70.4 379.3 69.9 384.0C69.4 388.7 68.2 395.1 68.0 399.3C67.8 403.5 67.9 405.8 68.5 409.0C69.1 412.2 70.3 415.4 71.4 418.6C72.5 421.8 74.2 425.1 75.3 428.3C76.4 431.5 77.5 434.8 78.2 438.0C78.9 441.2 79.1 443.9 79.6 447.6C80.1 451.3 80.5 454.6 81.0 460.0C81.5 465.4 81.7 474.7 82.5 480.0C83.3 485.3 84.7 488.7 86.0 492.0C87.3 495.3 88.8 497.3 90.5 500.0C92.2 502.7 94.5 505.3 96.5 508.0C98.5 510.7 100.2 513.2 102.5 516.0C104.8 518.8 107.5 522.2 110.5 525.0C113.5 527.8 116.8 530.3 120.5 533.0C124.2 535.7 128.2 538.2 132.5 541.0C136.8 543.8 141.8 547.2 146.5 550.0C151.2 552.8 155.7 555.3 160.5 558.0C165.3 560.7 170.5 563.3 175.5 566.0C180.5 568.7 186.8 572.0 190.5 574.0C194.2 576.0 196.3 577.3 197.5 578.0" fill="none" stroke="#ded6d6" stroke-width="0.9"/>
<path d="M100.1 330.1C98.9 331.3 95.6 335.1 92.9 337.3C90.2 339.5 86.4 341.2 83.7 343.4C81.0 345.6 78.6 348.4 76.6 350.6C74.6 352.8 73.0 354.3 71.5 356.7C70.0 359.1 68.6 362.2 67.4 364.9C66.2 367.6 65.1 370.5 64.3 373.0C63.5 375.5 63.3 377.2 62.8 380.0C62.3 382.8 61.8 386.0 61.3 389.7C60.8 393.4 59.9 398.2 59.8 402.2C59.7 406.2 60.1 410.2 60.8 413.8C61.5 417.4 63.0 420.4 64.2 423.5C65.4 426.6 66.9 429.5 68.0 432.2C69.1 434.9 70.3 435.6 70.9 439.9C71.5 444.2 70.8 452.2 71.6 458.0C72.4 463.8 74.3 469.7 75.7 474.5C77.1 479.3 78.9 483.1 79.9 487.0C80.9 490.9 81.2 495.2 81.9 498.0C82.6 500.8 82.7 501.4 84.0 503.5C85.3 505.6 87.7 507.6 89.5 510.4C91.3 513.2 93.2 516.9 95.0 520.1C96.8 523.3 98.3 526.9 100.6 529.8C102.9 532.7 105.4 534.7 108.9 537.6C112.4 540.5 116.8 543.9 121.5 547.0C126.2 550.1 131.5 553.1 137.3 556.5C143.1 559.9 150.1 564.1 156.2 567.5C162.2 570.9 167.8 574.0 173.6 577.0C179.4 580.0 188.0 584.2 190.9 585.6" fill="none" stroke="#222" stroke-width="0.8"/>
<text transform="translate(89.8,350.2) rotate(-40)" font-size="9.5" fill="#b0b0b0" style="stroke:none">55</text>
<path d="M96.8 324.4C96.4 324.8 95.4 326.0 94.5 326.9C93.6 327.8 92.5 328.7 91.3 329.7C90.0 330.7 88.4 331.7 86.8 332.7C85.2 333.8 83.3 334.8 81.5 335.9C79.7 337.0 77.8 338.0 76.2 339.1C74.6 340.2 73.1 341.2 71.8 342.4C70.5 343.7 69.4 344.9 68.2 346.4C67.1 347.8 66.0 349.5 64.8 351.3C63.6 353.1 62.3 355.1 61.1 357.1C59.9 359.2 58.7 361.4 57.6 363.6C56.6 365.8 55.7 368.1 54.9 370.5C54.2 373.0 53.6 375.6 53.1 378.3C52.6 381.0 52.2 384.0 51.7 386.9C51.3 389.7 50.9 392.6 50.6 395.4C50.3 398.1 49.9 400.8 49.8 403.5C49.8 406.2 49.8 408.9 50.1 411.5C50.4 414.1 51.0 416.7 51.8 419.1C52.7 421.5 53.9 423.8 55.0 426.0C56.1 428.1 57.4 430.1 58.5 432.2C59.5 434.4 60.5 436.3 61.3 438.9C62.1 441.5 62.6 444.3 63.2 448.0C63.9 451.6 64.3 455.9 65.2 460.6C66.0 465.3 66.9 470.8 68.1 476.0C69.3 481.3 70.7 487.0 72.2 492.1C73.7 497.1 75.4 502.1 77.1 506.3C78.9 510.5 80.8 514.1 82.6 517.2C84.5 520.4 86.4 522.8 88.2 525.2C90.1 527.7 91.8 529.8 93.7 532.0C95.5 534.3 97.2 536.5 99.2 538.7C101.2 540.9 103.2 543.2 105.6 545.4C108.0 547.6 110.7 549.8 113.9 552.0C117.0 554.2 120.5 556.4 124.5 558.8C128.4 561.2 132.8 563.8 137.4 566.5C141.9 569.2 147.1 572.2 151.8 575.0C156.5 577.7 161.5 580.5 165.6 582.8C169.7 585.1 173.4 587.1 176.6 588.8C179.8 590.5 183.4 592.3 184.8 593.0" fill="none" stroke="#9966dd" stroke-width="1.4"/>
<rect x="-2.8" y="-2.8" width="5.6" height="5.6" transform="translate(70.1,350.1) rotate(35)" fill="none" stroke="#9966dd" stroke-width="1.1"/>
<rect x="-2.8" y="-2.8" width="5.6" height="5.6" transform="translate(52.4,402.7) rotate(0)" fill="none" stroke="#9966dd" stroke-width="1.1"/>
<rect x="-2.8" y="-2.8" width="5.6" height="5.6" transform="translate(67.2,459.8) rotate(10)" fill="none" stroke="#9966dd" stroke-width="1.1"/>
<rect x="-2.8" y="-2.8" width="5.6" height="5.6" transform="translate(88.1,519.4) rotate(40)" fill="none" stroke="#9966dd" stroke-width="1.1"/>
<rect x="-2.8" y="-2.8" width="5.6" height="5.6" transform="translate(127.9,557.3) rotate(30)" fill="none" stroke="#9966dd" stroke-width="1.1"/>
<rect x="-2.8" y="-2.8" width="5.6" height="5.6" transform="translate(172.5,584.9) rotate(28)" fill="none" stroke="#9966dd" stroke-width="1.1"/>
<path d="M68.5 347.5C70.7 346.9 76.1 346.3 78.0 346.6C79.9 346.9 80.4 347.8 79.8 349.4C79.2 351.0 75.8 353.6 74.2 356.0C72.6 358.4 71.8 360.1 70.4 363.6C69.0 367.1 66.7 372.1 65.6 376.9C64.5 381.6 64.0 387.4 63.7 392.1C63.4 396.9 63.2 401.0 63.7 405.4C64.2 409.8 66.1 415.2 66.6 418.7C67.1 422.2 67.4 424.7 66.6 426.3C65.8 427.9 63.4 428.4 61.8 428.2C60.2 428.0 58.5 427.5 57.1 425.3C55.7 423.1 54.1 419.2 53.3 414.9C52.5 410.6 52.0 405.4 52.3 399.7C52.6 394.0 54.1 386.4 55.2 380.7C56.3 375.0 57.9 369.6 59.0 365.5C60.1 361.4 60.8 358.5 61.8 356.0C62.8 353.5 63.6 351.8 64.7 350.4C65.8 349.0 66.3 348.1 68.5 347.5Z" fill="none" stroke="#ffff00" stroke-width="1.5"/>
<path d="M60.9 430.0C62.2 429.4 65.9 429.1 67.5 430.0C69.1 430.9 69.9 433.5 70.4 435.7C70.9 437.9 70.1 441.1 70.4 443.3C70.7 445.5 72.6 447.7 72.3 449.0C72.0 450.3 70.1 451.2 68.5 450.9C66.9 450.6 64.1 449.0 62.8 447.1C61.5 445.2 61.4 441.7 60.9 439.5C60.4 437.3 59.9 435.5 59.9 433.9C59.9 432.3 59.6 430.6 60.9 430.0Z" fill="none" stroke="#ffff00" stroke-width="1.5"/>
<path d="M76.1 469.8C76.7 470.8 77.4 474.5 78.0 477.4C78.6 480.2 79.2 483.7 79.8 486.9C80.4 490.1 81.8 494.2 81.7 496.4C81.6 498.6 80.0 499.9 78.9 500.2C77.8 500.5 76.2 499.9 75.1 498.3C74.0 496.7 73.1 493.6 72.3 490.7C71.5 487.8 70.4 483.7 70.4 481.2C70.4 478.7 71.7 477.1 72.3 475.5C72.9 473.9 73.6 472.6 74.2 471.7C74.8 470.8 75.5 468.9 76.1 469.8Z" fill="none" stroke="#ffff00" stroke-width="1.5"/>
<rect x="67.5" y="348.5" width="3" height="3" fill="#ffff00"/>
<circle cx="94.6" cy="328.8" r="3" fill="#008000"/>
<circle cx="186.4" cy="595.4" r="3" fill="#ff0000"/>
<path d="M49.1 399.7l4.6 4.6M49.1 404.3l4.6 -4.6" stroke="#0000ff" stroke-width="2.3"/>
<path d="M79.1 515.4l4.6 4.6M79.1 520.0l4.6 -4.6" stroke="#0000ff" stroke-width="2.3"/>
</g>
<rect x="28.6" y="324.4" width="168.9" height="271.7" fill="none" stroke="#888" stroke-width="0.9"/>
<text transform="translate(17,344.9) rotate(24.5)" x="-10.75" y="3.6" font-size="9.9" textLength="21.5" lengthAdjust="spacingAndGlyphs">10°N</text>
<text transform="matrix(0.9588,-0.2840,0.1392,0.9903,16.3,404.2)" x="-10.25" y="3.6" font-size="9.9" textLength="20.5" lengthAdjust="spacingAndGlyphs">90°E</text>
<text transform="translate(22.3,428.4) rotate(24.5)" x="-5.25" y="3.6" font-size="9.9" textLength="10.5" lengthAdjust="spacingAndGlyphs">0°</text>
<text transform="translate(17,509.2) rotate(24.5)" x="-10.00" y="3.6" font-size="9.9" textLength="20" lengthAdjust="spacingAndGlyphs">10°S</text>
<text transform="matrix(0.9563,-0.2924,0.1392,0.9903,13.6,575.8)" x="-13.25" y="3.6" font-size="9.9" textLength="26.5" lengthAdjust="spacingAndGlyphs">100°E</text>
<text transform="translate(100.1,602.2) rotate(3)" x="-14.45" y="3.6" font-size="9.9" textLength="28.9" lengthAdjust="spacingAndGlyphs">110°E</text>
<text transform="translate(186.1,602) rotate(0)" x="-14.15" y="3.6" font-size="9.9" textLength="28.3" lengthAdjust="spacingAndGlyphs">120°E</text>
<line x1="82.1" y1="370.3" x2="60.9" y2="413" stroke="#111" stroke-width="0.7"/>
<path d="M60.9 413.0L61.3 409.3L63.6 410.4z" fill="#111"/>
<rect x="82.1" y="360.8" width="65.1" height="9.5" fill="#fff" stroke="#666" stroke-width="0.6"/>
<text x="83.1" y="368.2" font-size="10" font-style="italic" textLength="7.4" lengthAdjust="spacingAndGlyphs">M</text>
<text x="90.7" y="369.8" font-size="6.4" font-style="italic" textLength="5.2" lengthAdjust="spacingAndGlyphs">W</text>
<text x="98.5" y="368.2" font-size="9.8" textLength="47.7" lengthAdjust="spacingAndGlyphs">9.3 (2004)</text>
<line x1="89.7" y1="406.9" x2="68.5" y2="435.7" stroke="#111" stroke-width="0.7"/>
<path d="M68.5 435.7L69.5 432.1L71.6 433.7z" fill="#111"/>
<rect x="89.7" y="397.8" width="64.7" height="9.1" fill="#fff" stroke="#666" stroke-width="0.6"/>
<text x="90.7" y="404.8" font-size="10" font-style="italic" textLength="7.4" lengthAdjust="spacingAndGlyphs">M</text>
<text x="98.3" y="406.4" font-size="6.4" font-style="italic" textLength="5.2" lengthAdjust="spacingAndGlyphs">W</text>
<text x="106.1" y="404.8" font-size="9.8" textLength="47.3" lengthAdjust="spacingAndGlyphs">8.6 (2005)</text>
<line x1="97.3" y1="444.3" x2="77" y2="483.1" stroke="#111" stroke-width="0.7"/>
<path d="M77.0 483.1L77.5 479.4L79.8 480.6z" fill="#111"/>
<rect x="97.3" y="434.8" width="64.1" height="9.5" fill="#fff" stroke="#666" stroke-width="0.6"/>
<text x="98.3" y="442.2" font-size="10" font-style="italic" textLength="7.4" lengthAdjust="spacingAndGlyphs">M</text>
<text x="105.9" y="443.8" font-size="6.4" font-style="italic" textLength="5.2" lengthAdjust="spacingAndGlyphs">W</text>
<text x="113.7" y="442.2" font-size="9.8" textLength="46.7" lengthAdjust="spacingAndGlyphs">8.5 (2007)</text>
<clipPath id="clipC0"><rect x="443.6" y="63.5" width="200.10000000000002" height="209.3"/></clipPath>
<clipPath id="clipC320"><rect x="443.6" y="383.9" width="200.10000000000002" height="209.3"/></clipPath>
<rect x="443.6" y="63.5" width="200.1" height="57.1" fill="#f9e4e9"/>
<g stroke="#dcdcdc" stroke-width="0.8"><line x1="443.6" y1="63.5" x2="443.6" y2="272.8"/><line x1="483.6" y1="63.5" x2="483.6" y2="272.8"/><line x1="523.6" y1="63.5" x2="523.6" y2="272.8"/><line x1="563.6" y1="63.5" x2="563.6" y2="272.8"/><line x1="603.6" y1="63.5" x2="603.6" y2="272.8"/><line x1="643.6" y1="63.5" x2="643.6" y2="272.8"/><line x1="443.6" y1="234.7" x2="643.7" y2="234.7"/><line x1="443.6" y1="196.7" x2="643.7" y2="196.7"/><line x1="443.6" y1="158.6" x2="643.7" y2="158.6"/><line x1="443.6" y1="120.6" x2="643.7" y2="120.6"/><line x1="443.6" y1="82.5" x2="643.7" y2="82.5"/></g>
<path stroke="#ffa500" stroke-opacity="0.5" stroke-width="3.1" stroke-linecap="round" fill="none" d="M476.2 234.7h0M516.4 242.4h0M485.2 162.4h0M490.8 234.7h0M509.0 227.1h0M559.6 223.3h0M510.2 223.3h0M506.9 242.4h0M551.3 223.3h0M551.6 219.5h0M468.5 211.9h0M491.3 238.5h0M500.2 234.7h0M511.5 208.1h0M511.5 215.7h0M513.9 238.5h0M560.2 238.5h0M534.2 238.5h0M467.7 211.9h0M458.3 185.3h0M489.7 230.9h0M488.4 238.5h0M545.8 234.7h0M502.7 230.9h0M508.5 200.5h0M500.3 223.3h0M482.9 189.1h0M502.1 242.4h0M489.9 242.4h0M519.0 242.4h0M513.7 227.1h0M478.4 223.3h0M480.0 230.9h0M486.5 238.5h0M484.9 238.5h0M477.3 242.4h0M515.3 238.5h0M458.3 238.5h0M476.8 223.3h0M475.8 234.7h0M541.7 215.7h0M478.6 227.1h0M552.1 238.5h0M469.8 238.5h0M480.6 219.5h0M555.4 234.7h0M477.8 219.5h0M483.8 234.7h0M492.9 204.3h0M569.8 200.5h0M537.6 223.3h0M587.3 230.9h0M485.0 238.5h0M464.4 238.5h0M580.2 242.4h0M517.7 238.5h0M521.0 234.7h0M606.6 234.7h0M494.3 234.7h0M473.9 219.5h0M579.0 242.4h0M485.3 230.9h0M492.4 219.5h0M499.8 238.5h0M481.2 230.9h0M491.2 234.7h0M468.8 223.3h0M493.1 238.5h0M485.0 219.5h0M475.3 227.1h0M494.1 230.9h0M521.5 223.3h0M496.9 230.9h0M511.9 234.7h0M474.9 204.3h0M461.1 219.5h0M480.4 242.4h0M578.0 211.9h0M572.0 223.3h0M503.5 230.9h0M530.3 242.4h0M524.4 215.7h0M595.7 196.7h0M524.7 242.4h0M537.4 223.3h0M481.9 215.7h0M485.2 238.5h0M530.9 234.7h0M489.1 234.7h0M495.1 230.9h0M563.4 223.3h0M463.5 223.3h0M522.3 230.9h0M570.0 234.7h0M515.8 238.5h0M471.8 238.5h0M468.3 196.7h0M472.7 234.7h0M568.6 238.5h0M497.9 238.5h0M489.7 219.5h0M497.0 234.7h0M505.7 223.3h0M541.7 223.3h0M570.2 238.5h0M466.7 227.1h0M485.1 238.5h0M464.2 215.7h0M536.5 211.9h0M484.9 223.3h0M531.0 234.7h0M514.3 242.4h0M486.1 230.9h0M472.6 196.7h0M488.3 242.4h0M473.3 242.4h0M476.8 223.3h0M474.5 227.1h0M526.6 223.3h0M501.8 230.9h0M477.7 227.1h0M504.1 227.1h0M508.7 211.9h0M509.8 204.3h0M477.4 223.3h0M512.4 227.1h0M496.4 238.5h0M538.3 223.3h0M490.3 234.7h0M499.9 219.5h0M489.2 234.7h0M510.1 234.7h0M524.6 238.5h0M590.6 238.5h0M477.5 223.3h0M626.9 230.9h0M475.8 238.5h0M503.1 238.5h0M462.6 242.4h0M554.9 230.9h0M513.0 189.1h0M515.6 215.7h0M497.5 223.3h0M519.2 230.9h0M497.1 230.9h0M467.0 227.1h0M493.2 196.7h0M560.1 242.4h0M490.7 242.4h0M538.1 238.5h0M619.6 238.5h0M574.3 204.3h0M566.1 234.7h0M546.2 223.3h0M498.7 242.4h0M477.6 238.5h0M499.1 230.9h0M489.0 238.5h0M492.4 234.7h0M521.3 234.7h0M503.6 238.5h0M520.1 234.7h0M482.5 238.5h0M493.8 242.4h0M479.6 230.9h0M495.1 223.3h0M471.1 234.7h0M485.4 234.7h0M467.8 234.7h0M518.9 219.5h0M478.0 238.5h0M484.2 219.5h0M511.0 242.4h0M533.4 189.1h0M493.7 208.1h0M478.6 200.5h0M475.9 215.7h0M474.5 234.7h0M460.8 223.3h0M557.4 204.3h0M488.5 238.5h0M536.6 238.5h0M462.0 227.1h0M521.0 230.9h0M461.7 242.4h0M492.8 227.1h0M477.6 215.7h0M612.8 211.9h0M479.0 223.3h0M487.3 242.4h0M467.2 242.4h0M465.9 230.9h0M505.6 219.5h0M532.8 230.9h0M482.8 242.4h0M522.8 242.4h0M497.3 215.7h0M519.5 223.3h0M539.3 227.1h0M496.5 215.7h0M534.2 238.5h0M503.6 223.3h0M474.0 230.9h0M466.3 223.3h0M489.1 227.1h0M480.6 162.4h0M486.2 242.4h0M484.3 204.3h0M578.2 234.7h0M571.1 219.5h0M541.7 204.3h0M483.9 223.3h0M481.0 227.1h0M482.2 234.7h0M581.6 238.5h0M476.4 234.7h0M571.7 189.1h0M492.1 238.5h0M495.6 230.9h0M466.4 238.5h0M484.8 219.5h0M487.1 219.5h0M503.2 238.5h0M533.8 185.3h0M468.5 234.7h0M465.6 242.4h0M487.8 219.5h0M494.1 242.4h0M490.4 227.1h0M486.1 223.3h0M541.3 215.7h0M503.5 238.5h0M494.7 204.3h0M561.6 234.7h0M500.8 238.5h0M504.0 234.7h0M488.7 234.7h0M482.5 234.7h0M603.7 242.4h0M509.1 230.9h0M471.0 208.1h0M461.7 234.7h0M507.6 196.7h0M509.9 204.3h0M478.0 215.7h0M487.7 200.5h0M547.0 234.7h0M487.8 238.5h0M484.3 242.4h0M505.3 215.7h0M554.0 242.4h0M475.8 230.9h0M478.2 242.4h0M532.9 238.5h0M482.0 215.7h0M586.2 234.7h0M474.1 177.7h0M487.7 238.5h0M476.1 208.1h0M477.8 200.5h0M482.2 200.5h0M497.0 238.5h0M471.7 223.3h0M547.4 234.7h0M503.3 230.9h0M526.6 230.9h0M525.9 238.5h0M563.8 211.9h0M505.6 242.4h0M503.6 238.5h0M508.0 230.9h0M490.6 234.7h0M530.9 189.1h0M487.3 230.9h0M521.7 227.1h0M495.0 230.9h0M502.4 227.1h0M471.2 215.7h0M540.0 185.3h0M491.3 230.9h0M549.4 211.9h0M520.1 238.5h0M500.1 234.7h0M619.8 230.9h0M480.1 234.7h0M507.1 242.4h0M487.8 242.4h0M532.8 230.9h0M556.1 227.1h0M488.6 211.9h0M487.3 215.7h0M505.6 242.4h0M525.8 238.5h0M488.8 234.7h0M523.6 234.7h0M511.8 234.7h0M497.8 208.1h0M532.4 234.7h0M553.6 238.5h0M493.7 227.1h0M502.6 242.4h0M478.4 215.7h0M502.6 185.3h0M521.0 238.5h0M470.3 227.1h0M474.6 208.1h0M494.7 238.5h0M531.2 215.7h0M550.6 238.5h0M499.5 215.7h0M491.7 238.5h0M484.3 223.3h0M490.9 238.5h0M493.0 238.5h0M514.8 227.1h0M507.1 223.3h0M488.7 230.9h0M513.2 242.4h0M498.4 238.5h0M556.5 162.4h0M498.5 223.3h0M475.3 230.9h0M469.2 215.7h0M497.1 211.9h0M494.3 230.9h0M525.8 242.4h0M540.7 238.5h0M640.7 238.5h0M522.4 234.7h0M504.5 223.3h0M505.2 242.4h0M504.0 223.3h0M477.2 238.5h0M489.3 242.4h0M468.5 238.5h0M499.9 242.4h0M532.4 211.9h0M501.0 242.4h0M484.8 200.5h0M497.5 238.5h0M507.9 238.5h0M600.4 208.1h0M519.6 234.7h0M552.5 223.3h0M465.3 238.5h0M500.3 211.9h0M532.8 227.1h0M483.1 238.5h0M505.5 234.7h0M509.8 223.3h0M505.4 215.7h0M522.4 242.4h0M512.7 204.3h0M483.7 185.3h0M530.4 223.3h0M470.7 227.1h0M506.5 238.5h0M598.7 238.5h0M530.7 234.7h0M470.1 242.4h0M471.9 238.5h0M466.0 234.7h0M532.9 219.5h0M491.5 234.7h0M478.4 219.5h0M489.9 234.7h0M475.7 230.9h0M505.9 238.5h0M490.0 230.9h0M465.7 230.9h0M543.5 230.9h0M494.3 242.4h0M541.2 242.4h0M590.3 227.1h0M496.0 227.1h0M499.5 238.5h0M554.6 242.4h0M498.2 223.3h0M483.1 238.5h0M488.9 227.1h0M484.4 223.3h0M507.1 230.9h0M507.6 227.1h0M520.0 242.4h0M555.8 223.3h0M505.1 234.7h0M505.4 238.5h0M519.4 234.7h0M482.8 227.1h0M498.1 234.7h0M476.0 230.9h0M507.9 238.5h0M478.9 230.9h0M505.0 234.7h0M524.9 223.3h0M486.1 238.5h0M470.7 227.1h0M514.8 219.5h0M497.8 230.9h0M495.3 234.7h0M534.5 208.1h0M593.9 185.3h0M495.7 238.5h0M539.6 238.5h0M470.1 238.5h0M485.9 189.1h0M488.3 211.9h0M484.7 200.5h0M488.3 238.5h0M504.9 234.7h0M500.2 215.7h0M485.3 238.5h0M579.1 242.4h0M495.7 208.1h0M484.6 200.5h0M476.5 242.4h0M548.2 234.7h0M523.7 238.5h0M467.9 242.4h0M539.1 238.5h0M490.2 238.5h0M503.6 234.7h0M481.7 219.5h0M487.1 230.9h0M480.0 215.7h0M497.9 230.9h0M538.1 234.7h0M504.3 230.9h0M495.0 223.3h0M487.4 230.9h0M472.0 242.4h0M530.5 223.3h0M530.0 227.1h0M512.8 230.9h0M538.3 223.3h0M546.2 219.5h0M473.5 192.9h0M472.9 238.5h0M544.6 230.9h0M511.0 223.3h0M486.4 238.5h0M553.1 234.7h0M503.3 238.5h0M472.5 219.5h0M489.1 204.3h0M539.1 234.7h0M563.4 238.5h0M474.9 230.9h0M516.3 227.1h0M515.6 230.9h0M502.0 215.7h0M458.0 238.5h0M498.2 223.3h0M481.9 238.5h0M507.8 242.4h0M481.9 196.7h0M494.4 238.5h0M568.9 227.1h0M499.0 219.5h0M487.6 227.1h0M509.2 215.7h0M501.1 242.4h0M504.2 230.9h0M505.5 223.3h0M507.7 223.3h0M478.5 238.5h0M504.8 234.7h0M512.2 204.3h0M535.0 189.1h0M484.4 242.4h0M468.8 223.3h0M618.2 242.4h0M483.0 234.7h0M486.1 223.3h0M533.3 234.7h0M508.0 211.9h0M498.7 230.9h0M473.0 211.9h0M549.3 211.9h0M527.4 238.5h0M510.8 223.3h0M527.4 234.7h0M515.3 230.9h0M490.8 230.9h0M486.8 223.3h0M578.0 238.5h0M530.2 234.7h0M508.8 227.1h0M467.4 200.5h0M523.3 215.7h0M517.7 238.5h0M507.3 230.9h0M540.2 223.3h0M488.2 238.5h0M516.8 215.7h0M498.9 234.7h0M591.6 238.5h0M532.3 208.1h0M494.2 189.1h0M476.2 219.5h0M468.9 215.7h0M507.4 223.3h0M559.8 227.1h0M485.8 173.8h0M482.3 219.5h0M483.5 219.5h0M480.6 215.7h0M459.0 234.7h0M530.3 238.5h0M526.4 234.7h0M474.3 211.9h0M499.6 238.5h0M511.2 211.9h0M550.6 234.7h0M506.9 242.4h0M528.5 223.3h0M505.1 242.4h0M477.0 234.7h0M517.5 211.9h0M544.6 238.5h0M533.7 227.1h0M478.4 234.7h0M515.8 204.3h0M457.8 219.5h0M569.4 223.3h0M460.9 242.4h0M579.7 242.4h0M546.5 242.4h0M471.1 177.7h0M574.5 215.7h0M521.4 238.5h0M471.0 238.5h0M521.7 230.9h0M506.6 238.5h0M470.4 238.5h0M505.5 227.1h0M474.4 230.9h0M494.2 208.1h0M461.6 227.1h0M480.8 230.9h0M490.8 230.9h0M526.6 223.3h0M525.9 211.9h0M508.0 234.7h0M477.7 215.7h0M474.5 230.9h0M518.0 223.3h0M506.2 219.5h0M464.5 238.5h0M468.1 230.9h0M510.0 204.3h0M520.5 242.4h0M560.7 242.4h0M463.9 238.5h0M482.3 234.7h0M561.4 227.1h0M477.6 227.1h0M509.4 223.3h0M464.8 185.3h0M474.8 181.5h0M504.4 227.1h0M493.9 223.3h0M483.0 234.7h0M504.5 200.5h0M485.6 211.9h0M485.4 215.7h0M454.8 215.7h0M490.4 242.4h0M549.0 234.7h0M481.4 211.9h0M469.2 227.1h0M501.8 234.7h0M575.8 238.5h0M534.8 238.5h0M556.9 230.9h0M477.8 177.7h0M616.7 242.4h0M541.0 242.4h0M469.2 208.1h0M488.2 219.5h0M515.0 227.1h0M508.2 230.9h0M488.1 208.1h0M492.3 189.1h0M501.4 234.7h0M477.7 215.7h0M476.1 238.5h0M471.6 234.7h0M502.2 238.5h0M454.3 242.4h0M476.1 230.9h0M468.4 215.7h0M485.6 219.5h0M509.9 230.9h0"/>
<path stroke="#6a5acd" stroke-opacity="0.4" stroke-width="3.1" stroke-linecap="round" fill="none" d="M554.3 208.1h0M561.9 230.9h0M521.1 223.3h0M571.8 242.4h0M529.6 230.9h0M558.7 238.5h0M514.2 200.5h0M507.0 234.7h0M529.9 238.5h0M540.3 238.5h0M552.2 230.9h0M505.3 189.1h0M580.9 238.5h0M516.2 234.7h0M502.9 234.7h0M526.8 238.5h0M530.6 227.1h0M580.8 230.9h0M484.2 223.3h0M535.4 242.4h0M547.3 234.7h0M497.9 189.1h0M528.8 242.4h0M497.9 230.9h0M498.8 242.4h0M539.1 227.1h0M526.0 230.9h0M581.8 234.7h0M543.6 242.4h0M496.6 238.5h0M559.7 200.5h0M538.6 192.9h0M516.9 238.5h0M512.5 238.5h0M495.8 242.4h0M560.3 230.9h0M485.6 211.9h0M548.8 234.7h0M507.2 230.9h0M512.3 223.3h0M564.0 230.9h0M540.0 238.5h0M528.1 234.7h0M587.3 238.5h0M519.2 234.7h0M565.5 234.7h0M517.8 230.9h0M547.7 227.1h0M563.8 234.7h0M550.3 177.7h0M543.3 223.3h0M521.2 234.7h0M577.6 200.5h0M569.6 215.7h0M469.8 227.1h0M460.7 223.3h0M491.2 208.1h0M475.7 234.7h0M538.1 227.1h0M566.4 234.7h0M567.4 223.3h0M479.9 230.9h0M520.5 215.7h0M507.7 238.5h0M564.5 238.5h0M502.0 238.5h0M498.7 223.3h0M506.6 242.4h0M551.6 230.9h0M503.7 219.5h0M500.3 234.7h0M506.1 230.9h0M551.7 211.9h0M532.4 238.5h0M580.9 234.7h0M559.6 230.9h0M484.2 234.7h0M501.0 215.7h0M589.7 234.7h0M527.8 227.1h0M510.0 234.7h0M577.8 227.1h0M501.6 215.7h0M582.2 238.5h0M530.7 238.5h0M451.2 238.5h0M602.2 238.5h0M493.1 215.7h0M550.2 215.7h0M517.0 234.7h0M536.4 230.9h0M490.5 238.5h0M499.0 234.7h0M487.0 242.4h0M548.5 143.4h0M541.0 219.5h0M569.9 238.5h0M495.2 234.7h0M587.0 162.4h0M508.3 211.9h0M514.4 200.5h0M474.9 230.9h0M554.7 242.4h0M533.4 238.5h0M505.9 238.5h0M513.9 242.4h0M503.4 227.1h0M557.6 192.9h0M549.8 242.4h0M538.1 196.7h0"/>
<path stroke="#4682b4" stroke-opacity="0.35" stroke-width="3.1" stroke-linecap="round" fill="none" d="M466.1 208.1h0M465.4 238.5h0M479.9 223.3h0M469.9 230.9h0M473.8 234.7h0M467.2 234.7h0M472.6 234.7h0M465.3 230.9h0M467.0 223.3h0M470.8 208.1h0M464.8 230.9h0M462.9 204.3h0M483.2 238.5h0M470.4 238.5h0M474.7 215.7h0M457.9 227.1h0M470.2 223.3h0M477.0 204.3h0M484.6 219.5h0M470.5 215.7h0M478.8 192.9h0M479.8 215.7h0M468.4 208.1h0M464.5 230.9h0M483.5 234.7h0M486.8 215.7h0M474.0 238.5h0M480.5 234.7h0M476.7 215.7h0M477.9 223.3h0M483.9 230.9h0M479.2 227.1h0M467.2 219.5h0M469.8 185.3h0M476.9 215.7h0M465.0 223.3h0M471.4 230.9h0M483.0 200.5h0M478.4 238.5h0"/>
<circle cx="478" cy="82.4" r="1.55" fill="#ffa500" fill-opacity="0.55"/><circle cx="480.1" cy="97.9" r="1.55" fill="#ffa500" fill-opacity="0.55"/><circle cx="519.5" cy="101.4" r="1.55" fill="#ffa500" fill-opacity="0.55"/><circle cx="478.6" cy="128.3" r="1.55" fill="#ffa500" fill-opacity="0.55"/><circle cx="518" cy="124.2" r="1.55" fill="#ffa500" fill-opacity="0.55"/><circle cx="526.2" cy="128.3" r="1.55" fill="#ffa500" fill-opacity="0.55"/><circle cx="517.5" cy="128.3" r="1.55" fill="#6a5acd" fill-opacity="0.45"/><circle cx="554.2" cy="132.1" r="1.55" fill="#6a5acd" fill-opacity="0.45"/><circle cx="508.7" cy="151" r="1.55" fill="#ffa500" fill-opacity="0.55"/><circle cx="524.8" cy="158.4" r="1.55" fill="#ffa500" fill-opacity="0.55"/>
<g clip-path="url(#clipC0)">
<path d="M441.0 220.0C441.5 214.0 444.2 206.3 446.0 200.0C447.8 193.7 449.8 187.7 452.0 182.0C454.2 176.3 457.2 170.8 459.0 166.0C460.8 161.2 461.2 156.8 462.5 153.0C463.8 149.2 465.1 145.8 467.0 143.5C468.9 141.2 471.5 140.2 474.0 139.5C476.5 138.8 479.2 138.6 482.0 139.0C484.8 139.4 487.9 140.6 490.8 142.0C493.7 143.4 496.4 146.1 499.6 147.3C502.8 148.5 506.8 148.8 510.0 149.0C513.2 149.2 516.0 148.7 518.8 148.2C521.6 147.7 524.6 146.4 527.0 146.0C529.4 145.6 531.2 145.3 533.0 146.0C534.8 146.7 536.3 147.7 537.5 150.0C538.7 152.3 538.6 157.2 540.0 160.0C541.4 162.8 543.7 165.2 546.0 167.0C548.3 168.8 551.3 169.3 554.0 171.0C556.7 172.7 559.5 173.8 562.0 177.0C564.5 180.2 566.7 185.5 569.0 190.0C571.3 194.5 573.5 200.3 576.0 204.0C578.5 207.7 579.9 210.2 584.0 212.0C588.1 213.8 596.3 213.5 600.7 214.7C605.1 215.9 608.5 216.8 610.5 219.0C612.5 221.2 613.1 225.3 612.5 228.0C611.9 230.7 609.8 233.0 607.0 235.0C604.2 237.0 600.5 238.0 596.0 240.0C591.5 242.0 586.0 245.0 580.0 247.0C574.0 249.0 568.3 250.5 560.0 252.0C551.7 253.5 540.0 254.9 530.0 256.0C520.0 257.1 509.0 258.0 500.0 258.5C491.0 259.0 482.6 259.4 476.0 259.0C469.4 258.6 464.8 257.7 460.5 256.0C456.2 254.3 452.9 252.3 450.0 249.0C447.1 245.7 444.5 240.8 443.0 236.0C441.5 231.2 440.5 226.0 441.0 220.0Z" fill="none" stroke="#ffa500" stroke-width="1.3"/>
<path d="M452.0 218.0C452.2 211.7 453.7 206.0 455.0 200.0C456.3 194.0 458.2 187.8 460.0 182.0C461.8 176.2 464.1 169.7 466.0 165.0C467.9 160.3 469.5 156.4 471.5 154.0C473.5 151.6 475.9 150.8 478.0 150.5C480.1 150.2 482.2 150.9 484.0 152.5C485.8 154.1 487.0 157.9 489.0 160.0C491.0 162.1 492.2 163.9 496.0 165.0C499.8 166.1 507.7 165.5 512.0 166.5C516.3 167.5 518.7 168.8 522.0 171.0C525.3 173.2 528.2 176.7 532.0 180.0C535.8 183.3 541.0 187.8 545.0 191.0C549.0 194.2 552.5 196.3 556.0 199.0C559.5 201.7 562.8 204.7 566.0 207.0C569.2 209.3 572.3 211.0 575.0 213.0C577.7 215.0 581.2 216.5 582.0 219.0C582.8 221.5 582.0 225.3 580.0 228.0C578.0 230.7 575.0 232.5 570.0 235.0C565.0 237.5 557.5 240.7 550.0 243.0C542.5 245.3 533.3 247.5 525.0 249.0C516.7 250.5 507.8 251.3 500.0 252.0C492.2 252.7 484.3 253.5 478.0 253.0C471.7 252.5 466.0 251.5 462.0 249.0C458.0 246.5 455.7 243.2 454.0 238.0C452.3 232.8 451.8 224.3 452.0 218.0Z" fill="none" stroke="#ffa500" stroke-width="1.3"/>
<path d="M446.0 226.0C446.0 219.5 448.0 211.0 450.0 205.0C452.0 199.0 455.0 193.7 458.0 190.0C461.0 186.3 464.3 184.3 468.0 183.0C471.7 181.7 476.0 181.7 480.0 182.0C484.0 182.3 487.8 183.7 492.0 185.0C496.2 186.3 500.3 188.7 505.0 190.0C509.7 191.3 515.0 191.8 520.0 193.0C525.0 194.2 529.7 195.0 535.0 197.0C540.3 199.0 546.8 202.2 552.0 205.0C557.2 207.8 562.3 210.8 566.0 214.0C569.7 217.2 573.7 220.3 574.0 224.0C574.3 227.7 571.7 232.7 568.0 236.0C564.3 239.3 558.3 241.7 552.0 244.0C545.7 246.3 537.8 248.2 530.0 250.0C522.2 251.8 513.3 253.8 505.0 255.0C496.7 256.2 487.2 257.2 480.0 257.0C472.8 256.8 467.0 256.2 462.0 254.0C457.0 251.8 452.7 248.7 450.0 244.0C447.3 239.3 446.0 232.5 446.0 226.0Z" fill="none" stroke="#ffa500" stroke-width="1.3"/>
<path d="M449.1 226.3C449.2 220.5 451.7 213.0 453.6 207.7C455.6 202.5 458.3 197.9 460.9 194.8C463.6 191.6 466.5 189.9 469.7 188.7C473.0 187.6 476.7 187.6 480.3 187.9C483.8 188.2 487.1 189.3 490.8 190.5C494.4 191.6 498.1 193.6 502.2 194.8C506.3 195.9 511.0 196.4 515.4 197.4C519.8 198.4 523.9 199.1 528.6 200.9C533.3 202.6 539.0 205.4 543.6 207.9C548.2 210.4 552.8 213.0 556.0 215.8C559.2 218.6 562.7 221.4 563.1 224.6C563.4 227.8 561.1 232.2 557.9 235.2C554.7 238.1 549.4 240.2 543.9 242.3C538.3 244.3 531.4 246.0 524.5 247.6C517.6 249.2 509.8 251.0 502.4 252.0C495.0 253.1 486.6 253.9 480.2 253.8C473.9 253.6 468.8 253.1 464.3 251.2C459.8 249.3 455.8 246.6 453.3 242.5C450.8 238.3 449.1 232.0 449.1 226.3Z" fill="none" stroke="#ffa500" stroke-width="1.3"/>
<path d="M452.0 226.5C452.1 221.4 455.1 214.8 457.0 210.3C459.0 205.7 461.3 201.9 463.7 199.2C466.1 196.5 468.6 195.1 471.4 194.1C474.2 193.1 477.4 193.1 480.5 193.3C483.5 193.6 486.4 194.6 489.6 195.5C492.8 196.5 496.0 198.2 499.6 199.2C503.1 200.2 507.2 200.6 511.1 201.5C514.9 202.3 518.5 203.0 522.6 204.5C526.7 206.0 531.8 208.4 535.8 210.5C539.8 212.7 543.9 215.0 546.7 217.4C549.5 219.9 552.6 222.3 552.9 225.1C553.2 228.0 551.2 231.8 548.5 234.4C545.7 237.0 541.2 238.8 536.3 240.6C531.5 242.5 525.5 243.9 519.4 245.4C513.4 246.8 506.4 248.4 499.9 249.3C493.4 250.2 486.0 250.9 480.4 250.8C474.8 250.7 470.4 250.2 466.4 248.5C462.3 246.9 458.7 244.7 456.3 241.0C454.0 237.3 451.9 231.6 452.0 226.5Z" fill="none" stroke="#ffa500" stroke-width="1.3"/>
<path d="M454.7 226.7C454.9 222.2 458.2 216.5 460.1 212.6C462.0 208.7 464.1 205.6 466.2 203.3C468.3 201.0 470.5 199.8 472.9 199.0C475.3 198.2 478.1 198.2 480.7 198.4C483.3 198.6 485.8 199.4 488.5 200.2C491.3 201.0 494.1 202.5 497.2 203.3C500.2 204.1 503.8 204.5 507.1 205.2C510.4 206.0 513.5 206.5 517.1 207.8C520.7 209.1 525.1 211.1 528.6 213.0C532.1 214.9 535.6 216.9 538.1 219.0C540.6 221.1 543.2 223.2 543.5 225.7C543.8 228.1 542.1 231.5 539.8 233.7C537.4 236.0 533.6 237.6 529.4 239.2C525.2 240.8 520.0 242.1 514.7 243.3C509.4 244.6 503.4 245.9 497.7 246.7C492.0 247.5 485.5 248.1 480.6 248.0C475.7 247.9 471.9 247.5 468.3 246.1C464.7 244.7 461.4 242.9 459.2 239.7C456.9 236.5 454.6 231.2 454.7 226.7Z" fill="none" stroke="#ffa500" stroke-width="1.3"/>
<path d="M457.2 226.9C457.4 223.0 461.1 218.1 463.0 214.7C464.9 211.4 466.6 208.9 468.5 207.1C470.4 205.2 472.2 204.2 474.2 203.5C476.3 202.8 478.7 202.8 480.9 203.0C483.1 203.2 485.2 203.8 487.6 204.5C489.9 205.2 492.3 206.4 494.9 207.1C497.6 207.7 500.6 208.0 503.5 208.7C506.3 209.3 509.0 209.7 512.1 210.8C515.2 211.9 519.0 213.7 522.0 215.3C525.1 216.9 528.1 218.6 530.3 220.4C532.4 222.2 534.7 224.0 534.9 226.1C535.2 228.2 533.8 231.1 531.8 233.1C529.8 235.0 526.6 236.4 523.0 237.8C519.4 239.2 515.0 240.3 510.4 241.4C505.9 242.5 500.5 243.7 495.6 244.4C490.7 245.1 485.1 245.6 480.8 245.5C476.6 245.4 473.3 245.1 470.1 243.9C466.9 242.7 463.9 241.3 461.8 238.5C459.6 235.7 457.0 230.9 457.2 226.9Z" fill="none" stroke="#ffa500" stroke-width="1.3"/>
<path d="M459.4 227.1C459.7 223.7 463.7 219.5 465.6 216.7C467.5 213.9 468.9 212.0 470.6 210.5C472.2 209.0 473.7 208.2 475.5 207.6C477.2 207.1 479.2 207.1 481.1 207.2C482.9 207.3 484.7 207.9 486.7 208.4C488.7 209.0 490.7 209.9 492.9 210.5C495.2 211.0 497.7 211.3 500.2 211.8C502.6 212.3 504.8 212.7 507.5 213.6C510.1 214.5 513.5 216.0 516.1 217.3C518.7 218.7 521.3 220.1 523.1 221.7C525.0 223.2 526.9 224.7 527.1 226.5C527.4 228.4 526.2 230.8 524.6 232.5C522.9 234.1 520.2 235.3 517.2 236.5C514.2 237.8 510.4 238.8 506.5 239.7C502.6 240.7 498.0 241.7 493.7 242.3C489.5 242.8 484.7 243.3 481.0 243.2C477.3 243.1 474.5 242.9 471.7 241.9C468.9 240.9 466.2 239.8 464.1 237.4C462.1 234.9 459.2 230.6 459.4 227.1Z" fill="none" stroke="#ffa500" stroke-width="1.3"/>
<path d="M461.4 227.3C461.7 224.3 466.1 220.7 467.9 218.4C469.8 216.2 471.0 214.7 472.5 213.5C473.9 212.4 475.2 211.7 476.6 211.3C478.1 210.9 479.7 210.9 481.2 211.0C482.8 211.1 484.2 211.5 485.9 211.9C487.5 212.3 489.2 213.1 491.1 213.5C493.0 214.0 495.1 214.2 497.2 214.6C499.2 215.0 501.1 215.4 503.3 216.1C505.6 216.9 508.4 218.1 510.7 219.2C512.9 220.3 515.1 221.5 516.7 222.8C518.2 224.1 519.8 225.4 520.1 226.9C520.3 228.5 519.4 230.5 518.1 231.9C516.7 233.4 514.5 234.4 512.0 235.4C509.5 236.5 506.3 237.4 503.0 238.2C499.7 239.0 495.7 239.9 492.0 240.3C488.4 240.8 484.3 241.2 481.1 241.1C478.0 241.1 475.6 240.9 473.1 240.1C470.7 239.3 468.2 238.5 466.2 236.4C464.3 234.3 461.1 230.3 461.4 227.3Z" fill="none" stroke="#ffa500" stroke-width="1.3"/>
<path d="M463.2 227.4C463.5 224.9 468.2 221.9 470.0 220.0C471.8 218.1 472.9 217.2 474.2 216.3C475.4 215.4 476.4 214.9 477.6 214.6C478.8 214.3 480.1 214.3 481.4 214.3C482.6 214.4 483.8 214.7 485.2 215.0C486.5 215.4 488.0 215.9 489.5 216.3C491.1 216.6 492.8 216.8 494.5 217.1C496.2 217.5 497.8 217.7 499.7 218.3C501.6 218.9 504.0 219.9 505.9 220.8C507.8 221.7 509.6 222.8 511.0 223.8C512.3 224.9 513.6 226.0 513.8 227.3C514.0 228.5 513.4 230.3 512.3 231.5C511.2 232.7 509.4 233.5 507.3 234.4C505.3 235.3 502.7 236.1 499.9 236.8C497.1 237.5 493.6 238.2 490.5 238.7C487.4 239.1 483.9 239.3 481.3 239.3C478.6 239.3 476.6 239.1 474.4 238.5C472.2 237.8 470.0 237.3 468.1 235.5C466.2 233.7 462.9 230.0 463.2 227.4Z" fill="none" stroke="#ffa500" stroke-width="1.3"/>
<path d="M465.0 227.6C465.4 225.4 470.3 223.0 472.1 221.6C473.9 220.1 474.8 219.6 475.8 219.0C476.9 218.4 477.7 218.1 478.6 217.9C479.6 217.7 480.5 217.7 481.5 217.7C482.5 217.7 483.4 217.9 484.5 218.2C485.5 218.4 486.7 218.7 487.9 219.0C489.1 219.2 490.5 219.4 491.9 219.6C493.2 219.9 494.5 220.1 496.0 220.5C497.5 221.0 499.5 221.7 501.1 222.5C502.6 223.2 504.2 224.0 505.2 224.8C506.3 225.7 507.4 226.6 507.6 227.6C507.8 228.6 507.3 230.0 506.5 231.0C505.7 232.0 504.3 232.7 502.7 233.4C501.1 234.2 499.0 234.9 496.7 235.4C494.4 236.0 491.6 236.6 489.0 237.0C486.5 237.3 483.6 237.5 481.4 237.4C479.2 237.4 477.6 237.3 475.7 236.8C473.8 236.4 471.8 236.2 470.0 234.6C468.2 233.1 464.7 229.8 465.0 227.6Z" fill="none" stroke="#ffa500" stroke-width="1.3"/>
<path d="M466.6 227.7C467.0 225.9 472.1 224.0 473.9 222.9C475.7 221.9 476.4 221.8 477.3 221.4C478.2 221.0 478.8 220.9 479.5 220.7C480.2 220.6 480.9 220.6 481.6 220.6C482.4 220.7 483.0 220.8 483.8 220.9C484.7 221.0 485.5 221.2 486.5 221.4C487.5 221.5 488.5 221.6 489.6 221.8C490.6 222.0 491.6 222.1 492.8 222.5C494.0 222.8 495.7 223.4 496.9 223.9C498.1 224.4 499.4 225.1 500.2 225.7C501.1 226.4 501.9 227.1 502.1 227.9C502.3 228.7 502.0 229.8 501.4 230.6C500.9 231.4 499.9 232.0 498.6 232.6C497.4 233.2 495.8 233.8 494.0 234.2C492.2 234.7 489.8 235.2 487.7 235.5C485.6 235.7 483.3 235.8 481.5 235.8C479.7 235.8 478.5 235.8 476.9 235.4C475.2 235.1 473.3 235.1 471.6 233.9C469.9 232.6 466.2 229.5 466.6 227.7Z" fill="none" stroke="#ffa500" stroke-width="1.3"/>
<path d="M531.4 126.3C531.4 126.9 531.3 127.5 531.1 128.0C530.9 128.6 530.5 129.1 530.1 129.7C529.7 130.2 529.2 130.6 528.6 131.0C528.0 131.4 527.3 131.8 526.6 132.1C525.9 132.4 525.1 132.6 524.3 132.8C523.5 132.9 522.6 133.0 521.8 133.0C521.0 133.0 520.1 132.9 519.3 132.8C518.5 132.6 517.7 132.4 517.0 132.1C516.3 131.8 515.6 131.4 515.0 131.0C514.4 130.6 513.9 130.2 513.5 129.7C513.1 129.1 512.7 128.6 512.5 128.0C512.3 127.5 512.2 126.9 512.2 126.3C512.2 125.7 512.3 125.1 512.5 124.6C512.7 124.0 513.1 123.5 513.5 123.0C513.9 122.4 514.4 122.0 515.0 121.6C515.6 121.2 516.3 120.8 517.0 120.5C517.7 120.2 518.5 120.0 519.3 119.8C520.1 119.7 521.0 119.6 521.8 119.6C522.6 119.6 523.5 119.7 524.3 119.8C525.1 120.0 525.9 120.2 526.6 120.5C527.3 120.8 528.0 121.2 528.6 121.6C529.2 122.0 529.7 122.4 530.1 122.9C530.5 123.5 530.9 124.0 531.1 124.6C531.3 125.1 531.4 125.7 531.4 126.3Z" fill="none" stroke="#ffa500" stroke-width="1.3"/>
<path d="M425.0 218.0C426.7 212.8 433.0 204.0 438.0 199.0C443.0 194.0 448.8 190.8 455.0 188.0C461.2 185.2 465.8 183.7 475.0 182.5C484.2 181.3 494.8 181.2 510.0 181.0C525.2 180.8 552.3 180.3 566.0 181.5C579.7 182.7 585.0 184.1 592.0 188.0C599.0 191.9 604.4 198.8 608.0 205.0C611.6 211.2 613.8 218.7 613.8 225.0C613.8 231.3 612.8 238.7 608.0 243.0C603.2 247.3 596.3 249.2 585.0 251.0C573.7 252.8 555.0 253.8 540.0 254.1C525.0 254.3 508.0 253.7 495.0 252.5C482.0 251.3 471.2 249.2 462.0 247.0C452.8 244.8 445.7 241.8 440.0 239.0C434.3 236.2 430.5 233.5 428.0 230.0C425.5 226.5 423.3 223.2 425.0 218.0Z" fill="none" stroke="#6a5acd" stroke-width="1.3"/>
<path d="M580.0 225.5C580.0 227.3 579.3 229.1 578.1 230.8C576.8 232.5 574.8 234.2 572.4 235.8C569.9 237.3 566.8 238.7 563.3 240.0C559.8 241.2 555.8 242.4 551.5 243.3C547.2 244.1 542.5 244.8 537.8 245.3C533.0 245.8 527.9 246.0 523.0 246.0C518.1 246.0 513.0 245.8 508.2 245.3C503.5 244.8 498.8 244.1 494.5 243.3C490.2 242.4 486.2 241.2 482.7 240.0C479.2 238.7 476.1 237.3 473.6 235.8C471.2 234.2 469.2 232.5 467.9 230.8C466.7 229.1 466.0 227.3 466.0 225.5C466.0 223.7 466.7 221.9 467.9 220.2C469.2 218.5 471.2 216.8 473.6 215.2C476.1 213.7 479.2 212.3 482.7 211.0C486.2 209.8 490.2 208.6 494.5 207.7C498.8 206.9 503.5 206.2 508.2 205.7C513.0 205.2 518.1 205.0 523.0 205.0C527.9 205.0 533.0 205.2 537.8 205.7C542.5 206.2 547.2 206.9 551.5 207.7C555.8 208.6 559.8 209.8 563.3 211.0C566.8 212.3 569.9 213.7 572.4 215.2C574.8 216.8 576.8 218.5 578.1 220.2C579.3 221.9 580.0 223.7 580.0 225.5Z" fill="none" stroke="#6a5acd" stroke-width="1.3"/>
<path d="M554.0 227.0C554.0 227.8 553.6 228.7 552.9 229.5C552.2 230.3 551.1 231.0 549.8 231.8C548.4 232.5 546.7 233.1 544.8 233.7C542.9 234.3 540.6 234.8 538.3 235.2C536.0 235.6 533.3 236.0 530.7 236.2C528.1 236.4 525.3 236.5 522.6 236.5C519.9 236.5 517.1 236.4 514.5 236.2C511.9 236.0 509.2 235.6 506.9 235.2C504.6 234.8 502.3 234.3 500.4 233.7C498.5 233.1 496.8 232.5 495.4 231.8C494.1 231.0 493.0 230.3 492.3 229.5C491.6 228.7 491.2 227.8 491.2 227.0C491.2 226.2 491.6 225.3 492.3 224.5C493.0 223.7 494.1 223.0 495.4 222.2C496.8 221.5 498.5 220.9 500.4 220.3C502.3 219.7 504.6 219.2 506.9 218.8C509.2 218.4 511.9 218.0 514.5 217.8C517.1 217.6 519.9 217.5 522.6 217.5C525.3 217.5 528.1 217.6 530.7 217.8C533.3 218.0 536.0 218.4 538.3 218.8C540.6 219.2 542.9 219.7 544.8 220.3C546.7 220.9 548.4 221.5 549.8 222.2C551.1 223.0 552.2 223.7 552.9 224.5C553.6 225.3 554.0 226.2 554.0 227.0Z" fill="none" stroke="#6a5acd" stroke-width="1.3"/>
<path d="M469.2 224.9C469.2 225.4 469.1 225.9 468.8 226.3C468.6 226.7 468.2 227.1 467.8 227.3C467.4 227.6 466.9 227.7 466.4 227.7C465.9 227.7 465.4 227.6 465.0 227.3C464.6 227.1 464.2 226.7 464.0 226.3C463.7 225.9 463.6 225.4 463.6 224.9C463.6 224.4 463.7 223.9 464.0 223.5C464.2 223.1 464.6 222.7 465.0 222.5C465.4 222.2 465.9 222.1 466.4 222.1C466.9 222.1 467.4 222.2 467.8 222.5C468.2 222.7 468.6 223.1 468.8 223.5C469.1 223.9 469.2 224.4 469.2 224.9Z" fill="none" stroke="#6a5acd" stroke-width="1.3"/>
<path d="M461.0 176.6C462.4 175.0 464.5 173.8 466.0 174.5C467.5 175.2 468.7 179.8 470.0 180.5C471.3 181.2 472.4 179.7 474.0 178.5C475.6 177.3 477.7 172.8 479.4 173.1C481.1 173.3 482.3 176.3 484.0 180.0C485.7 183.7 488.3 189.2 489.5 195.0C490.7 200.8 490.9 208.8 491.0 215.0C491.1 221.2 490.5 227.0 490.0 232.0C489.5 237.0 488.7 241.7 488.0 245.0C487.3 248.3 487.2 249.7 486.0 252.0C484.8 254.3 482.5 257.5 481.0 259.0C479.5 260.5 478.8 261.5 476.8 261.0C474.8 260.5 471.8 258.3 469.0 256.0C466.2 253.7 462.6 251.0 460.0 247.0C457.4 243.0 454.8 237.3 453.5 232.0C452.2 226.7 452.3 220.7 452.5 215.0C452.7 209.3 453.7 203.2 454.5 198.0C455.3 192.8 456.4 187.6 457.5 184.0C458.6 180.4 459.6 178.2 461.0 176.6Z" fill="none" stroke="#4682b4" stroke-width="1.3"/>
<path d="M463.1 186.0C464.3 184.8 466.0 183.8 467.2 184.3C468.4 184.8 469.3 188.5 470.4 189.0C471.5 189.5 472.4 188.4 473.6 187.4C474.9 186.5 476.6 183.0 478.0 183.2C479.3 183.5 480.3 185.8 481.7 188.7C483.0 191.7 485.2 196.1 486.2 200.7C487.1 205.4 487.4 211.9 487.5 216.9C487.5 221.9 487.1 226.6 486.7 230.7C486.3 234.8 485.6 238.6 485.0 241.3C484.5 244.0 484.3 245.1 483.4 247.0C482.4 248.9 480.6 251.5 479.3 252.7C478.1 253.9 477.5 254.7 475.9 254.4C474.3 254.0 471.8 252.4 469.5 250.5C467.2 248.6 464.3 246.3 462.2 243.1C460.1 239.8 457.9 235.1 456.9 230.7C455.9 226.3 456.0 221.5 456.2 216.9C456.3 212.3 457.1 207.3 457.8 203.1C458.5 199.0 459.4 194.8 460.3 191.9C461.2 189.1 462.0 187.3 463.1 186.0Z" fill="none" stroke="#4682b4" stroke-width="1.3"/>
<path d="M465.1 194.6C466.0 193.6 467.3 192.9 468.2 193.3C469.2 193.6 469.9 196.3 470.7 196.7C471.6 197.1 472.3 196.2 473.3 195.5C474.3 194.8 475.6 192.3 476.6 192.5C477.7 192.7 478.5 194.4 479.6 196.7C480.6 198.9 482.3 202.3 483.1 206.0C483.9 209.6 484.1 214.6 484.2 218.6C484.3 222.5 484.0 226.3 483.7 229.5C483.4 232.8 482.8 235.8 482.3 237.9C481.9 240.1 481.8 240.9 481.0 242.4C480.3 243.9 478.8 246.0 477.8 246.9C476.8 247.9 476.4 248.6 475.1 248.3C473.8 248.1 471.9 246.9 470.0 245.5C468.2 244.0 465.8 242.1 464.1 239.5C462.4 236.8 460.8 233.0 460.0 229.5C459.3 226.0 459.3 222.2 459.5 218.6C459.6 215.0 460.3 211.0 460.9 207.8C461.4 204.6 462.2 201.4 462.9 199.2C463.6 197.0 464.2 195.6 465.1 194.6Z" fill="none" stroke="#4682b4" stroke-width="1.3"/>
<path d="M466.9 202.4C467.5 201.6 468.5 201.1 469.2 201.3C469.9 201.5 470.4 203.4 471.0 203.6C471.7 203.9 472.2 203.3 473.0 202.8C473.7 202.3 474.7 200.6 475.5 200.8C476.2 200.9 476.8 202.2 477.6 203.8C478.5 205.5 479.8 207.9 480.4 210.7C481.0 213.4 481.2 217.1 481.3 220.1C481.4 223.1 481.2 226.0 481.0 228.5C480.7 231.0 480.3 233.3 479.9 234.9C479.6 236.5 479.5 237.2 478.9 238.3C478.3 239.4 477.2 241.0 476.4 241.8C475.7 242.5 475.4 243.0 474.4 242.9C473.4 242.7 471.9 242.0 470.5 240.9C469.0 239.8 467.1 238.3 465.9 236.2C464.6 234.2 463.4 231.2 462.8 228.5C462.3 225.8 462.3 222.9 462.5 220.1C462.6 217.4 463.1 214.4 463.6 212.0C464.0 209.6 464.6 207.3 465.2 205.7C465.7 204.1 466.2 203.1 466.9 202.4Z" fill="none" stroke="#4682b4" stroke-width="1.3"/>
<path d="M468.6 210.1C469.1 209.6 469.7 209.3 470.1 209.3C470.6 209.4 470.9 210.4 471.4 210.5C471.8 210.7 472.2 210.4 472.6 210.1C473.1 209.9 473.8 208.9 474.3 209.1C474.8 209.2 475.2 209.9 475.7 211.0C476.3 212.0 477.2 213.6 477.6 215.4C478.1 217.1 478.3 219.6 478.4 221.6C478.5 223.6 478.4 225.7 478.3 227.4C478.1 229.1 477.8 230.8 477.5 231.9C477.3 233.0 477.2 233.4 476.8 234.2C476.4 235.0 475.6 236.1 475.1 236.6C474.6 237.2 474.4 237.5 473.7 237.4C473.0 237.4 471.9 237.2 470.9 236.4C469.9 235.7 468.5 234.5 467.6 233.0C466.8 231.5 466.0 229.3 465.6 227.4C465.3 225.5 465.3 223.5 465.4 221.6C465.6 219.8 466.0 217.8 466.3 216.2C466.6 214.6 467.1 213.2 467.5 212.2C467.8 211.1 468.2 210.6 468.6 210.1Z" fill="none" stroke="#4682b4" stroke-width="1.3"/>
<path d="M475.3 151.7C475.3 152.4 475.3 153.1 475.2 153.7C475.1 154.4 475.0 155.0 474.8 155.6C474.7 156.2 474.5 156.7 474.3 157.2C474.1 157.7 473.9 158.1 473.6 158.5C473.3 158.8 473.1 159.1 472.8 159.2C472.5 159.4 472.2 159.5 471.9 159.5C471.6 159.5 471.3 159.4 471.0 159.2C470.7 159.1 470.5 158.8 470.2 158.5C469.9 158.1 469.7 157.7 469.5 157.2C469.3 156.7 469.1 156.2 469.0 155.6C468.8 155.0 468.7 154.4 468.6 153.7C468.5 153.1 468.5 152.4 468.5 151.7C468.5 151.0 468.5 150.3 468.6 149.7C468.7 149.0 468.8 148.4 469.0 147.8C469.1 147.2 469.3 146.7 469.5 146.2C469.7 145.7 469.9 145.3 470.2 144.9C470.5 144.6 470.7 144.3 471.0 144.2C471.3 144.0 471.6 143.9 471.9 143.9C472.2 143.9 472.5 144.0 472.8 144.2C473.1 144.3 473.3 144.6 473.6 144.9C473.9 145.3 474.1 145.7 474.3 146.2C474.5 146.7 474.7 147.2 474.8 147.8C475.0 148.4 475.1 149.0 475.2 149.7C475.3 150.3 475.3 151.0 475.3 151.7Z" fill="none" stroke="#4682b4" stroke-width="1.3"/>
</g>
<line x1="443.6" y1="63.0" x2="443.6" y2="272.8" stroke="#333" stroke-width="0.9"/>
<line x1="443.6" y1="272.8" x2="643.7" y2="272.8" stroke="#333" stroke-width="0.9"/>
<line x1="443.6" y1="272.8" x2="443.6" y2="275.3" stroke="#333" stroke-width="0.7"/>
<text transform="translate(443.60,286.00)" x="-3.40" y="0" font-size="10.7" textLength="6.81" lengthAdjust="spacingAndGlyphs" fill="#000" >0</text>
<line x1="483.6" y1="272.8" x2="483.6" y2="275.3" stroke="#333" stroke-width="0.7"/>
<text transform="translate(483.60,286.00)" x="-6.81" y="0" font-size="10.7" textLength="13.61" lengthAdjust="spacingAndGlyphs" fill="#000" >50</text>
<line x1="523.6" y1="272.8" x2="523.6" y2="275.3" stroke="#333" stroke-width="0.7"/>
<text transform="translate(523.60,286.00)" x="-10.21" y="0" font-size="10.7" textLength="20.42" lengthAdjust="spacingAndGlyphs" fill="#000" >100</text>
<line x1="563.6" y1="272.8" x2="563.6" y2="275.3" stroke="#333" stroke-width="0.7"/>
<text transform="translate(563.60,286.00)" x="-10.21" y="0" font-size="10.7" textLength="20.42" lengthAdjust="spacingAndGlyphs" fill="#000" >150</text>
<line x1="603.6" y1="272.8" x2="603.6" y2="275.3" stroke="#333" stroke-width="0.7"/>
<text transform="translate(603.60,286.00)" x="-10.21" y="0" font-size="10.7" textLength="20.42" lengthAdjust="spacingAndGlyphs" fill="#000" >200</text>
<line x1="643.6" y1="272.8" x2="643.6" y2="275.3" stroke="#333" stroke-width="0.7"/>
<text transform="translate(643.60,286.00)" x="-10.21" y="0" font-size="10.7" textLength="20.42" lengthAdjust="spacingAndGlyphs" fill="#000" >250</text>
<line x1="441.1" y1="272.8" x2="443.6" y2="272.8" stroke="#333" stroke-width="0.7"/>
<text transform="translate(440.00,277.40)" x="-6.81" y="0" font-size="10.7" textLength="6.81" lengthAdjust="spacingAndGlyphs" fill="#000" >4</text>
<line x1="441.1" y1="234.7" x2="443.6" y2="234.7" stroke="#333" stroke-width="0.7"/>
<text transform="translate(440.00,239.34)" x="-6.81" y="0" font-size="10.7" textLength="6.81" lengthAdjust="spacingAndGlyphs" fill="#000" >5</text>
<line x1="441.1" y1="196.7" x2="443.6" y2="196.7" stroke="#333" stroke-width="0.7"/>
<text transform="translate(440.00,201.28)" x="-6.81" y="0" font-size="10.7" textLength="6.81" lengthAdjust="spacingAndGlyphs" fill="#000" >6</text>
<line x1="441.1" y1="158.6" x2="443.6" y2="158.6" stroke="#333" stroke-width="0.7"/>
<text transform="translate(440.00,163.22)" x="-6.81" y="0" font-size="10.7" textLength="6.81" lengthAdjust="spacingAndGlyphs" fill="#000" >7</text>
<line x1="441.1" y1="120.6" x2="443.6" y2="120.6" stroke="#333" stroke-width="0.7"/>
<text transform="translate(440.00,125.16)" x="-6.81" y="0" font-size="10.7" textLength="6.81" lengthAdjust="spacingAndGlyphs" fill="#000" >8</text>
<line x1="441.1" y1="82.5" x2="443.6" y2="82.5" stroke="#333" stroke-width="0.7"/>
<text transform="translate(440.00,87.10)" x="-6.81" y="0" font-size="10.7" textLength="6.81" lengthAdjust="spacingAndGlyphs" fill="#000" >9</text>
<text transform="translate(543.65,298.50)" x="-56.70" y="0" font-size="10.6" textLength="113.40" lengthAdjust="spacingAndGlyphs" fill="#000" >Normal stress (MPa)</text>
<text transform="translate(428.6,177.4) rotate(-90)" font-size="10.8" font-style="italic">M<tspan font-size="7.6" dy="2.2">W</tspan></text>
<line x1="443.6" y1="56.4" x2="643.7" y2="56.4" stroke="#555" stroke-width="0.9"/>
<line x1="443.6" y1="56.4" x2="443.6" y2="58.4" stroke="#555" stroke-width="0.7"/>
<line x1="483.6" y1="56.4" x2="483.6" y2="58.4" stroke="#555" stroke-width="0.7"/>
<line x1="523.6" y1="56.4" x2="523.6" y2="58.4" stroke="#555" stroke-width="0.7"/>
<line x1="563.6" y1="56.4" x2="563.6" y2="58.4" stroke="#555" stroke-width="0.7"/>
<line x1="603.6" y1="56.4" x2="603.6" y2="58.4" stroke="#555" stroke-width="0.7"/>
<line x1="643.6" y1="56.4" x2="643.6" y2="58.4" stroke="#555" stroke-width="0.7"/>
<line x1="650.6" y1="64.1" x2="650.6" y2="272.8" stroke="#555" stroke-width="0.9"/>
<line x1="648.6" y1="272.8" x2="650.6" y2="272.8" stroke="#555" stroke-width="0.7"/>
<line x1="648.6" y1="234.7" x2="650.6" y2="234.7" stroke="#555" stroke-width="0.7"/>
<line x1="648.6" y1="196.7" x2="650.6" y2="196.7" stroke="#555" stroke-width="0.7"/>
<line x1="648.6" y1="158.6" x2="650.6" y2="158.6" stroke="#555" stroke-width="0.7"/>
<line x1="648.6" y1="120.6" x2="650.6" y2="120.6" stroke="#555" stroke-width="0.7"/>
<line x1="648.6" y1="82.5" x2="650.6" y2="82.5" stroke="#555" stroke-width="0.7"/>
<path d="M443.0 55.7C445.1 55.4 452.2 56.2 455.3 54.1C458.4 52.0 460.0 46.2 461.5 43.4C463.0 40.6 463.2 38.6 464.5 37.5C465.8 36.4 467.6 37.2 469.1 36.6C470.6 36.0 472.2 33.8 473.7 33.6C475.2 33.5 476.8 34.1 478.3 35.7C479.8 37.3 481.4 40.9 482.9 43.4C484.4 45.9 486.0 49.1 487.5 51.0C489.0 52.9 490.3 54.1 492.1 55.0C493.9 55.9 497.2 56.0 498.2 56.2" fill="none" stroke="#4682b4" stroke-width="1.3"/>
<path d="M443.0 56.0C445.1 55.8 451.7 56.2 455.3 55.0C458.9 53.8 461.9 50.5 464.5 48.9C467.1 47.3 468.6 46.3 470.7 45.5C472.8 44.7 474.8 44.1 476.8 44.3C478.8 44.5 480.6 45.5 482.9 46.5C485.2 47.5 487.5 49.2 490.6 50.1C493.7 51.0 497.0 51.4 501.3 51.7C505.6 52.0 512.0 51.8 516.6 52.0C521.2 52.2 523.8 52.7 528.9 53.2C534.0 53.7 540.6 54.5 547.3 55.0C553.9 55.5 552.8 55.8 568.8 56.0C584.8 56.2 630.6 56.2 643.0 56.2" fill="none" stroke="#ffa500" stroke-width="1.3"/>
<path d="M443.0 56.0C447.6 55.7 461.0 54.7 470.7 54.1C480.4 53.5 491.1 53.0 501.3 52.6C511.5 52.2 521.8 51.7 532.0 51.7C542.2 51.7 553.4 52.2 562.6 52.6C571.8 53.0 580.0 53.9 587.1 54.4C594.2 54.9 596.3 55.4 605.5 55.7C614.7 56.0 636.2 56.1 642.3 56.2" fill="none" stroke="#6a5acd" stroke-width="1.3"/>
<path d="M668.6 65.9C669.8 67.7 673.8 72.9 675.7 76.8C677.7 80.7 680.0 85.1 680.3 89.2C680.5 93.3 679.0 97.7 677.2 101.6C675.4 105.5 672.1 108.9 669.5 112.5C666.9 116.1 664.0 119.5 661.7 123.4C659.4 127.3 657.0 131.7 655.5 135.8C654.0 139.9 653.1 143.0 652.4 148.2C651.7 153.4 651.5 160.7 651.2 166.9C651.0 173.1 651.0 167.9 650.9 185.5C650.8 203.1 650.9 258.0 650.9 272.5" fill="none" stroke="#ffa500" stroke-width="1.3"/>
<path d="M663.3 104.7C665.1 106.5 671.0 111.4 674.1 115.6C677.2 119.8 681.1 125.2 681.9 129.6C682.7 134.0 680.6 138.4 678.8 142.0C677.0 145.6 673.9 148.2 671.0 151.3C668.1 154.4 664.3 157.1 661.7 160.7C659.1 164.3 657.0 168.4 655.5 173.1C654.0 177.8 653.1 182.4 652.4 188.6C651.7 194.8 651.5 196.4 651.2 210.4C651.0 224.4 651.0 262.1 650.9 272.5" fill="none" stroke="#6a5acd" stroke-width="1.3"/>
<path d="M662.3 124.0C663.0 126.0 665.2 130.2 666.4 135.8C667.6 141.4 669.2 151.3 669.5 157.5C669.8 163.7 668.9 167.4 667.9 173.1C666.9 178.8 664.8 185.0 663.3 191.7C661.8 198.4 660.1 205.7 658.6 213.5C657.1 221.3 655.1 231.1 654.0 238.3C652.9 245.6 652.3 251.3 651.8 257.0C651.3 262.7 651.0 269.9 650.9 272.5" fill="none" stroke="#4682b4" stroke-width="1.3"/>
<rect x="443.6" y="383.9" width="200.1" height="57.1" fill="#f9e4e9"/>
<g stroke="#dcdcdc" stroke-width="0.8"><line x1="443.6" y1="383.9" x2="443.6" y2="593.2"/><line x1="493.6" y1="383.9" x2="493.6" y2="593.2"/><line x1="543.6" y1="383.9" x2="543.6" y2="593.2"/><line x1="593.6" y1="383.9" x2="593.6" y2="593.2"/><line x1="643.6" y1="383.9" x2="643.6" y2="593.2"/><line x1="443.6" y1="555.1" x2="643.7" y2="555.1"/><line x1="443.6" y1="517.1" x2="643.7" y2="517.1"/><line x1="443.6" y1="479.0" x2="643.7" y2="479.0"/><line x1="443.6" y1="441.0" x2="643.7" y2="441.0"/><line x1="443.6" y1="402.9" x2="643.7" y2="402.9"/></g>
<path stroke="#ffa500" stroke-opacity="0.5" stroke-width="3.1" stroke-linecap="round" fill="none" d="M490.2 555.1h0M465.0 539.9h0M524.0 551.3h0M491.2 562.8h0M526.2 558.9h0M533.7 536.1h0M522.7 551.3h0M479.1 562.8h0M507.2 528.5h0M545.3 536.1h0M504.3 551.3h0M499.5 558.9h0M483.6 555.1h0M482.1 558.9h0M513.8 555.1h0M525.6 551.3h0M480.4 539.9h0M511.9 555.1h0M479.6 562.8h0M533.1 520.9h0M549.5 558.9h0M480.9 558.9h0M531.5 558.9h0M498.9 562.8h0M515.3 562.8h0M503.0 475.2h0M473.7 539.9h0M502.1 555.1h0M473.8 558.9h0M503.5 558.9h0M489.0 558.9h0M530.4 562.8h0M583.2 494.2h0M469.5 547.5h0M603.0 551.3h0M482.1 532.3h0M483.5 539.9h0M559.7 551.3h0M535.2 558.9h0M513.5 558.9h0M522.1 543.7h0M539.5 562.8h0M529.4 558.9h0M518.3 532.3h0M537.1 551.3h0M513.9 532.3h0M510.4 555.1h0M540.7 562.8h0M471.1 555.1h0M529.4 558.9h0M486.3 562.8h0M468.7 532.3h0M504.7 536.1h0M521.0 532.3h0M484.9 536.1h0M486.7 558.9h0M532.2 558.9h0M503.2 551.3h0M508.3 543.7h0M502.7 558.9h0M539.0 539.9h0M532.1 558.9h0M560.2 528.5h0M460.6 539.9h0M515.0 558.9h0M530.0 547.5h0M489.9 555.1h0M510.9 555.1h0M516.6 558.9h0M512.8 551.3h0M533.2 543.7h0M552.8 558.9h0M554.9 551.3h0M492.1 555.1h0M549.8 555.1h0M531.4 555.1h0M510.7 547.5h0M511.6 562.8h0M592.5 558.9h0M481.0 558.9h0M523.0 558.9h0M528.1 517.1h0M482.7 558.9h0M493.8 562.8h0M550.3 517.1h0M514.6 543.7h0M509.3 558.9h0M550.0 562.8h0M486.1 547.5h0M538.8 555.1h0M499.7 532.3h0M485.7 536.1h0M529.7 551.3h0M499.5 558.9h0M553.4 536.1h0M563.7 562.8h0M634.8 558.9h0M516.9 528.5h0M514.2 536.1h0M600.6 543.7h0M516.1 498.1h0M495.9 543.7h0M503.4 551.3h0M489.5 562.8h0M516.2 505.7h0M549.8 562.8h0M574.9 547.5h0M471.5 558.9h0M463.7 543.7h0M531.9 555.1h0M509.5 555.1h0M537.1 547.5h0M582.4 555.1h0M470.9 555.1h0M563.4 558.9h0M512.5 551.3h0M478.3 558.9h0M520.1 501.9h0M479.9 555.1h0M483.7 547.5h0M529.8 543.7h0M486.1 562.8h0M491.6 505.7h0M512.9 494.2h0M485.5 517.1h0M594.0 562.8h0M488.1 555.1h0M509.0 555.1h0M487.3 551.3h0M473.5 555.1h0M483.8 520.9h0M483.5 505.7h0M503.5 558.9h0M525.4 558.9h0M492.8 555.1h0M500.5 562.8h0M592.5 555.1h0M481.1 551.3h0M558.9 509.5h0M505.3 547.5h0M517.9 543.7h0M472.6 539.9h0M484.6 555.1h0M482.4 558.9h0M483.5 551.3h0M487.5 551.3h0M507.3 532.3h0M480.3 562.8h0M578.8 498.1h0M464.4 551.3h0M516.6 558.9h0M472.7 532.3h0M481.0 558.9h0M539.3 555.1h0M475.0 562.8h0M472.1 558.9h0M528.1 524.7h0M485.0 555.1h0M466.3 547.5h0M519.0 551.3h0M515.0 555.1h0M527.3 555.1h0M481.4 562.8h0M511.9 517.1h0M507.8 558.9h0M480.0 551.3h0M506.1 547.5h0M478.4 547.5h0M509.3 551.3h0M550.2 517.1h0M500.0 558.9h0M491.5 558.9h0M480.6 558.9h0M486.5 558.9h0M468.3 558.9h0M524.6 558.9h0M496.8 555.1h0M523.0 562.8h0M522.7 562.8h0M492.0 551.3h0M555.1 555.1h0M480.5 551.3h0M495.9 555.1h0M526.7 562.8h0M496.7 562.8h0M492.2 555.1h0M582.9 532.3h0M481.0 532.3h0M464.9 562.8h0M526.2 543.7h0M572.6 547.5h0M543.4 555.1h0M527.8 558.9h0M479.3 532.3h0M492.0 555.1h0M527.7 532.3h0M535.5 543.7h0M491.8 555.1h0M473.0 551.3h0M628.3 513.3h0M489.6 543.7h0M556.0 558.9h0M511.8 547.5h0M494.0 539.9h0M522.6 539.9h0M562.3 558.9h0M493.6 547.5h0M462.2 562.8h0M511.1 562.8h0M502.2 551.3h0M518.9 528.5h0M484.6 562.8h0M491.0 532.3h0M480.7 532.3h0M496.6 558.9h0M502.7 562.8h0M581.7 532.3h0M620.1 536.1h0M525.1 539.9h0M485.1 555.1h0M559.7 536.1h0M489.7 558.9h0M514.3 562.8h0M492.7 532.3h0M526.0 539.9h0M522.2 551.3h0M527.4 558.9h0M566.7 562.8h0M493.7 555.1h0M472.2 558.9h0M509.7 528.5h0M473.3 551.3h0M477.6 532.3h0M481.5 558.9h0M495.4 558.9h0M530.2 551.3h0M484.4 555.1h0M507.7 555.1h0M560.7 539.9h0M502.5 562.8h0M546.3 528.5h0M567.4 551.3h0M491.0 551.3h0M510.8 551.3h0M481.8 558.9h0M483.2 555.1h0M478.7 547.5h0M491.1 555.1h0M515.0 547.5h0M470.9 558.9h0M612.3 558.9h0M497.3 555.1h0M489.4 555.1h0M476.5 498.1h0M578.8 524.7h0M499.3 539.9h0M470.5 551.3h0M520.6 547.5h0M518.3 543.7h0M494.7 505.7h0M479.0 539.9h0M548.6 524.7h0M513.7 543.7h0M493.6 555.1h0M466.4 555.1h0M491.5 551.3h0M479.0 539.9h0M505.6 532.3h0M504.7 555.1h0M479.4 555.1h0M506.3 536.1h0M520.0 547.5h0M492.3 543.7h0M492.2 547.5h0M473.1 555.1h0M476.0 551.3h0M496.7 547.5h0M504.2 555.1h0M605.6 532.3h0M488.7 551.3h0M484.1 547.5h0M480.0 555.1h0M504.6 558.9h0M492.4 555.1h0M510.6 555.1h0M496.2 551.3h0M467.2 555.1h0M528.6 551.3h0M481.2 539.9h0M524.5 524.7h0M495.6 558.9h0M506.6 539.9h0M468.5 528.5h0M470.4 558.9h0M493.0 543.7h0M487.8 562.8h0M634.8 562.8h0M485.4 494.2h0M468.8 532.3h0M468.2 555.1h0M519.0 558.9h0M562.2 505.7h0M512.7 562.8h0M483.6 547.5h0M470.1 524.7h0M518.9 562.8h0M495.4 551.3h0M551.0 551.3h0M506.6 551.3h0M496.5 532.3h0M482.4 558.9h0M497.4 532.3h0M522.2 558.9h0M531.1 558.9h0M566.0 562.8h0M502.4 551.3h0M488.0 551.3h0M484.2 543.7h0M488.5 539.9h0M523.4 532.3h0M494.3 558.9h0M544.5 524.7h0M474.5 547.5h0M540.1 528.5h0M489.4 558.9h0M479.3 543.7h0M479.4 555.1h0M579.3 539.9h0M520.3 551.3h0M514.1 547.5h0M492.1 543.7h0M473.9 536.1h0M499.2 558.9h0M497.6 558.9h0M468.4 551.3h0M467.2 555.1h0M497.8 539.9h0M486.6 532.3h0M487.8 555.1h0M519.7 558.9h0M480.0 543.7h0M524.4 528.5h0M477.9 547.5h0M554.8 520.9h0M498.7 555.1h0M629.2 547.5h0M570.5 539.9h0M506.2 558.9h0M511.0 555.1h0M506.7 558.9h0M477.9 536.1h0M488.1 558.9h0M529.0 558.9h0M522.1 543.7h0M485.6 562.8h0M535.3 524.7h0M531.4 555.1h0M511.8 513.3h0M488.4 467.6h0M536.5 555.1h0M529.2 547.5h0M502.9 562.8h0M481.5 551.3h0M521.9 555.1h0M559.0 555.1h0M549.1 532.3h0M505.3 558.9h0M537.2 555.1h0M518.1 555.1h0M483.5 513.3h0M492.0 555.1h0M477.5 555.1h0M575.1 555.1h0M541.1 547.5h0M616.6 551.3h0M497.0 517.1h0M565.5 547.5h0M475.9 555.1h0M491.0 532.3h0M508.7 555.1h0M489.4 558.9h0M598.6 486.6h0M507.6 490.4h0M505.1 536.1h0M467.2 547.5h0M504.7 558.9h0M474.4 536.1h0M491.0 558.9h0M467.6 551.3h0M478.0 551.3h0M518.4 558.9h0M611.8 543.7h0M487.1 555.1h0M502.4 543.7h0M503.3 562.8h0M548.4 536.1h0M462.5 539.9h0M465.0 562.8h0M549.1 543.7h0M489.1 558.9h0M581.7 539.9h0M502.7 520.9h0M637.5 558.9h0M472.6 547.5h0M576.6 555.1h0M561.7 558.9h0M530.1 558.9h0M511.7 543.7h0M484.8 562.8h0M491.9 520.9h0M487.9 532.3h0M566.7 551.3h0M553.6 555.1h0M499.2 558.9h0M496.7 555.1h0M479.8 532.3h0M549.9 558.9h0M534.4 547.5h0M541.3 558.9h0M507.6 551.3h0M510.9 543.7h0M528.0 539.9h0M484.9 558.9h0M475.7 524.7h0M492.8 551.3h0M559.0 558.9h0M529.4 551.3h0M510.3 551.3h0M515.8 562.8h0M511.4 558.9h0M479.3 555.1h0M497.2 558.9h0M514.2 558.9h0M553.0 555.1h0M587.5 558.9h0M502.1 536.1h0M521.3 558.9h0M524.5 558.9h0M502.9 555.1h0M588.8 547.5h0M507.8 551.3h0M514.0 558.9h0M567.8 547.5h0M533.2 501.9h0M581.6 551.3h0M515.2 539.9h0M555.9 555.1h0M497.9 558.9h0M464.2 558.9h0M486.6 558.9h0M480.0 539.9h0M514.8 562.8h0M478.4 551.3h0M515.9 562.8h0M518.4 532.3h0M501.5 558.9h0M539.7 551.3h0M493.4 558.9h0M470.4 536.1h0M527.4 555.1h0M565.3 551.3h0M500.0 555.1h0M484.0 555.1h0M498.8 558.9h0M553.8 555.1h0M511.5 558.9h0M490.9 532.3h0M499.0 547.5h0M528.3 547.5h0M496.8 562.8h0M475.4 558.9h0M517.1 555.1h0M523.2 558.9h0M555.8 558.9h0M464.6 562.8h0M528.1 532.3h0M505.7 558.9h0M491.3 539.9h0M531.2 551.3h0M523.8 539.9h0M478.5 551.3h0M517.1 558.9h0M627.1 558.9h0M485.1 539.9h0M504.2 555.1h0M477.2 528.5h0M545.0 558.9h0M503.1 551.3h0M503.2 539.9h0M499.9 547.5h0M494.0 551.3h0M508.7 520.9h0M508.0 543.7h0M478.9 551.3h0M527.2 551.3h0M493.7 562.8h0M503.0 562.8h0M466.6 551.3h0M492.3 555.1h0M466.4 536.1h0M488.1 558.9h0M571.4 562.8h0M532.5 555.1h0M480.5 539.9h0M500.4 547.5h0M482.8 543.7h0M470.0 524.7h0M533.5 524.7h0M467.0 539.9h0M478.8 551.3h0M487.4 558.9h0M627.1 539.9h0M486.2 558.9h0M466.0 562.8h0M506.0 539.9h0M512.5 532.3h0M530.0 562.8h0M595.8 555.1h0M462.9 551.3h0M492.7 558.9h0M507.5 551.3h0M487.5 509.5h0M476.0 532.3h0M507.3 558.9h0M534.3 562.8h0M480.4 551.3h0M499.3 558.9h0M529.9 555.1h0M497.1 555.1h0M480.8 562.8h0M513.3 536.1h0M493.8 539.9h0M556.4 547.5h0M482.4 547.5h0M492.8 536.1h0M575.3 562.8h0M524.0 558.9h0M553.6 547.5h0M504.3 547.5h0M484.1 555.1h0M476.8 547.5h0M475.3 524.7h0M512.8 555.1h0M474.3 562.8h0M497.5 547.5h0M469.1 536.1h0M463.6 543.7h0M462.9 562.8h0M480.1 539.9h0M586.1 543.7h0M489.6 539.9h0M504.9 528.5h0M497.1 555.1h0M549.4 547.5h0M494.1 524.7h0M524.6 536.1h0M497.0 528.5h0M500.6 547.5h0M529.0 562.8h0M510.4 562.8h0M484.3 562.8h0M472.8 555.1h0M477.9 558.9h0M502.2 547.5h0M477.3 547.5h0M500.1 551.3h0M522.2 558.9h0M514.7 555.1h0M517.6 555.1h0M518.1 558.9h0M509.4 551.3h0M550.5 562.8h0M553.1 558.9h0M510.0 562.8h0M493.0 555.1h0M478.1 562.8h0M494.8 558.9h0M484.2 536.1h0M568.3 551.3h0M469.8 551.3h0M510.4 551.3h0M508.7 555.1h0M537.4 486.6h0M501.2 562.8h0M499.4 543.7h0M548.5 555.1h0M499.2 543.7h0M488.7 547.5h0M506.6 547.5h0M502.1 551.3h0M524.0 547.5h0M491.7 562.8h0M523.9 551.3h0M517.5 543.7h0M528.3 532.3h0M533.1 558.9h0M550.5 558.9h0M488.8 536.1h0M524.4 543.7h0M530.5 528.5h0M510.2 555.1h0M494.2 547.5h0M461.1 555.1h0M552.5 562.8h0M579.8 562.8h0M527.7 558.9h0M489.7 536.1h0M538.4 558.9h0M522.6 536.1h0M510.8 555.1h0M533.1 558.9h0M466.4 562.8h0M508.9 558.9h0M600.4 543.7h0M542.9 528.5h0M517.7 558.9h0M517.1 562.8h0M521.3 551.3h0M480.7 528.5h0M495.8 555.1h0M526.0 555.1h0M508.0 524.7h0M492.3 558.9h0M481.6 562.8h0M480.1 562.8h0M467.5 558.9h0M519.1 543.7h0M578.9 558.9h0M519.3 555.1h0M480.6 558.9h0M577.7 562.8h0M549.7 558.9h0M477.4 562.8h0M483.7 551.3h0M585.9 558.9h0M497.4 543.7h0M530.5 547.5h0M500.8 555.1h0M492.9 551.3h0M560.1 555.1h0M501.9 551.3h0M568.4 547.5h0M487.1 539.9h0M566.8 536.1h0M474.1 551.3h0M466.2 558.9h0M511.5 547.5h0M519.6 547.5h0M477.1 555.1h0M502.4 555.1h0M490.2 555.1h0M504.1 558.9h0M580.3 555.1h0M520.3 536.1h0M468.4 555.1h0M477.4 543.7h0M527.4 547.5h0M461.6 562.8h0M475.1 562.8h0M477.5 558.9h0M549.5 551.3h0M493.0 562.8h0M511.2 558.9h0M502.5 551.3h0M518.6 558.9h0M515.6 551.3h0M481.7 558.9h0M517.3 551.3h0M468.5 558.9h0M504.8 532.3h0M483.3 543.7h0M530.2 498.1h0M537.0 562.8h0M535.7 562.8h0M484.1 490.4h0M483.6 558.9h0M496.3 562.8h0M469.0 558.9h0M499.1 551.3h0M476.6 543.7h0M522.4 509.5h0M503.6 555.1h0M494.7 543.7h0M487.9 558.9h0M493.4 547.5h0M497.2 555.1h0M506.5 547.5h0M580.7 543.7h0M616.5 558.9h0M487.9 547.5h0M526.6 551.3h0M531.0 558.9h0M478.5 562.8h0M543.8 558.9h0M466.9 555.1h0M529.2 551.3h0M522.3 558.9h0M485.7 558.9h0M470.9 555.1h0M486.8 555.1h0M618.3 520.9h0M476.5 539.9h0M513.1 562.8h0M568.3 536.1h0M524.5 562.8h0M479.7 562.8h0M503.9 558.9h0M500.9 543.7h0M505.2 558.9h0M473.8 543.7h0M472.8 558.9h0M508.7 558.9h0M527.1 555.1h0M533.0 551.3h0M490.7 551.3h0M513.8 562.8h0"/>
<path stroke="#6a5acd" stroke-opacity="0.4" stroke-width="3.1" stroke-linecap="round" fill="none" d="M529.9 551.3h0M508.8 558.9h0M488.0 555.1h0M474.4 558.9h0M512.4 543.7h0M475.9 562.8h0M471.9 547.5h0M487.1 536.1h0M460.0 536.1h0M455.5 547.5h0M525.0 539.9h0M497.9 547.5h0M483.1 555.1h0M458.1 536.1h0M450.6 555.1h0M478.6 562.8h0M468.2 536.1h0M448.1 513.3h0M516.4 555.1h0M481.9 562.8h0M480.0 539.9h0M483.9 558.9h0M501.3 558.9h0M498.9 555.1h0M471.3 547.5h0M525.6 547.5h0M489.0 562.8h0M511.1 520.9h0M507.0 551.3h0M491.4 558.9h0M496.0 558.9h0M530.0 539.9h0M497.3 547.5h0M520.0 555.1h0M507.3 555.1h0M468.0 562.8h0M458.0 562.8h0M548.1 543.7h0M472.6 532.3h0M468.6 547.5h0M461.8 555.1h0M493.9 524.7h0M496.6 551.3h0M473.1 558.9h0M463.3 562.8h0M470.3 524.7h0M498.5 547.5h0M501.3 539.9h0M454.1 547.5h0M466.3 547.5h0M484.1 555.1h0M505.3 539.9h0M453.4 555.1h0M485.5 558.9h0M488.5 558.9h0M482.6 562.8h0M484.1 562.8h0M447.4 536.1h0M488.7 528.5h0M518.1 551.3h0M490.0 551.3h0M498.8 536.1h0M494.1 547.5h0M481.7 532.3h0M519.1 551.3h0M494.5 520.9h0M511.1 528.5h0M455.1 558.9h0M459.3 536.1h0M487.0 551.3h0M534.6 536.1h0M462.4 558.9h0M506.8 547.5h0M450.1 558.9h0M468.7 517.1h0M486.5 562.8h0M508.4 551.3h0M530.7 558.9h0M504.3 528.5h0M455.9 528.5h0M465.1 528.5h0M493.3 558.9h0M512.9 562.8h0M525.5 555.1h0M449.8 524.7h0M444.9 524.7h0M468.0 528.5h0M530.9 562.8h0M485.1 555.1h0M517.8 558.9h0M530.1 517.1h0M495.3 536.1h0M488.7 555.1h0M457.8 524.7h0M505.4 555.1h0M496.0 551.3h0M509.8 558.9h0M452.1 517.1h0M494.4 547.5h0M558.0 528.5h0M456.3 532.3h0M445.7 551.3h0M455.7 562.8h0M510.1 494.2h0M467.2 562.8h0M519.8 562.8h0M486.4 543.7h0M489.9 562.8h0"/>
<path stroke="#4682b4" stroke-opacity="0.35" stroke-width="3.1" stroke-linecap="round" fill="none" d="M516.9 547.5h0M499.2 555.1h0M554.7 558.9h0M539.6 547.5h0M543.1 558.9h0M493.9 513.3h0M516.3 463.8h0M529.5 528.5h0M542.4 517.1h0M507.1 558.9h0M529.9 528.5h0M500.6 539.9h0M543.6 555.1h0M498.2 494.2h0M545.7 547.5h0M571.8 520.9h0M497.5 528.5h0M534.9 532.3h0M534.0 539.9h0M498.2 547.5h0M545.9 547.5h0M521.9 555.1h0M531.9 551.3h0M535.6 558.9h0M520.8 520.9h0M530.3 558.9h0M529.3 543.7h0M537.7 547.5h0M532.5 551.3h0M521.5 547.5h0M502.7 509.5h0M526.0 532.3h0M533.8 555.1h0M520.5 539.9h0M560.2 551.3h0M553.0 536.1h0M517.8 547.5h0M555.3 558.9h0M496.2 555.1h0M546.8 479.0h0"/>
<circle cx="500.5" cy="403" r="1.55" fill="#ffa500" fill-opacity="0.55"/><circle cx="483.3" cy="422" r="1.55" fill="#ffa500" fill-opacity="0.55"/><circle cx="491.2" cy="418.2" r="1.55" fill="#ffa500" fill-opacity="0.55"/><circle cx="470.7" cy="448.6" r="1.55" fill="#6a5acd" fill-opacity="0.45"/><circle cx="474.5" cy="452.7" r="1.55" fill="#6a5acd" fill-opacity="0.45"/><circle cx="483.3" cy="448.6" r="1.55" fill="#ffa500" fill-opacity="0.55"/><circle cx="495.6" cy="448.6" r="1.55" fill="#ffa500" fill-opacity="0.55"/><circle cx="513.1" cy="444.8" r="1.55" fill="#ffa500" fill-opacity="0.55"/><circle cx="561.2" cy="471.3" r="1.55" fill="#4682b4" fill-opacity="0.45"/><circle cx="477.2" cy="467.5" r="1.55" fill="#ffa500" fill-opacity="0.55"/><circle cx="473.7" cy="479" r="1.55" fill="#ffa500" fill-opacity="0.55"/><circle cx="495.6" cy="471.3" r="1.55" fill="#ffa500" fill-opacity="0.55"/><circle cx="504.3" cy="471.3" r="1.55" fill="#ffa500" fill-opacity="0.55"/><circle cx="508.7" cy="475.4" r="1.55" fill="#ffa500" fill-opacity="0.55"/><circle cx="511" cy="471.3" r="1.55" fill="#ffa500" fill-opacity="0.55"/><circle cx="509.6" cy="479" r="1.55" fill="#ffa500" fill-opacity="0.55"/>
<g clip-path="url(#clipC320)">
<path d="M443.0 527.6C444.0 516.9 445.9 507.2 448.8 498.4C451.7 489.6 456.6 481.1 460.5 475.0C464.4 468.9 469.0 465.8 472.0 462.0C475.0 458.2 477.2 455.2 478.5 452.0C479.8 448.8 477.6 444.8 479.5 443.0C481.4 441.2 484.6 441.7 489.7 441.5C494.8 441.3 505.9 441.1 510.0 441.8C514.1 442.5 515.2 444.2 514.5 445.8C513.8 447.4 507.7 449.7 505.8 451.7C503.9 453.7 501.3 456.4 503.0 458.0C504.7 459.6 512.4 459.6 516.0 461.5C519.6 463.4 522.4 465.5 524.8 469.2C527.2 472.9 528.2 479.9 530.6 483.8C533.0 487.7 535.5 490.7 539.4 492.6C543.3 494.6 549.6 494.1 554.0 495.5C558.4 496.9 561.2 498.4 565.6 501.3C570.0 504.2 575.3 510.1 580.2 513.0C585.1 516.0 590.4 519.2 594.8 519.0C599.2 518.8 602.6 514.2 606.5 512.0C610.4 509.8 614.3 506.5 618.2 505.7C622.1 504.9 626.5 505.5 629.9 507.2C633.3 508.9 636.6 512.1 638.6 515.9C640.6 519.7 640.9 526.0 642.0 530.0C643.1 534.0 646.5 537.8 645.0 540.0C643.5 542.2 636.3 540.2 632.8 543.0C629.3 545.8 628.4 554.0 624.0 556.8C619.6 559.6 612.3 558.7 606.5 559.7C600.7 560.7 596.8 560.2 589.0 562.6C581.2 565.0 569.5 571.4 559.8 574.3C550.1 577.2 540.3 578.6 530.6 580.1C520.9 581.6 511.1 583.1 501.4 583.1C491.7 583.1 480.5 582.1 472.2 580.1C463.9 578.1 456.7 574.3 451.8 571.4C446.9 568.5 444.5 569.9 443.0 562.6C441.5 555.3 442.0 538.3 443.0 527.6Z" fill="none" stroke="#ffa500" stroke-width="1.3"/>
<path d="M454.0 545.0C453.9 537.2 455.5 522.7 457.6 513.0C459.7 503.3 463.0 493.5 466.4 486.7C469.8 479.9 473.6 475.0 478.0 472.1C482.4 469.2 488.7 468.2 492.6 469.2C496.5 470.2 499.0 474.1 501.4 478.0C503.8 481.9 504.3 488.7 507.2 492.6C510.1 496.5 515.0 497.9 518.9 501.3C522.8 504.7 527.2 509.1 530.6 513.0C534.0 516.9 536.5 521.3 539.4 524.7C542.3 528.1 544.7 531.0 548.1 533.4C551.5 535.8 556.9 536.9 559.8 539.3C562.7 541.7 565.6 545.1 565.6 548.0C565.6 550.9 565.6 553.9 559.8 556.8C554.0 559.7 540.3 563.1 530.6 565.5C520.9 567.9 511.1 570.9 501.4 571.4C491.7 571.9 479.4 570.4 472.2 568.5C465.0 566.6 461.0 563.9 458.0 560.0C455.0 556.1 454.1 552.8 454.0 545.0Z" fill="none" stroke="#ffa500" stroke-width="1.3"/>
<path d="M461.0 540.0C460.7 534.2 460.8 525.7 462.0 520.0C463.2 514.3 465.3 509.5 468.0 506.0C470.7 502.5 474.0 500.3 478.0 499.0C482.0 497.7 487.5 497.8 492.0 498.0C496.5 498.2 500.7 498.7 505.0 500.0C509.3 501.3 513.8 503.7 518.0 506.0C522.2 508.3 526.0 511.0 530.0 514.0C534.0 517.0 538.5 520.0 542.0 524.0C545.5 528.0 550.0 533.3 551.0 538.0C552.0 542.7 550.7 548.2 548.0 552.0C545.3 555.8 540.5 558.7 535.0 561.0C529.5 563.3 521.7 565.0 515.0 566.0C508.3 567.0 501.7 567.3 495.0 567.0C488.3 566.7 480.2 566.0 475.0 564.0C469.8 562.0 466.3 559.0 464.0 555.0C461.7 551.0 461.3 545.8 461.0 540.0Z" fill="none" stroke="#ffa500" stroke-width="1.3"/>
<path d="M465.6 541.0C465.5 535.9 465.9 528.5 467.1 523.6C468.2 518.7 470.1 514.5 472.5 511.5C474.8 508.5 477.7 506.6 481.2 505.5C484.7 504.3 489.5 504.4 493.4 504.6C497.3 504.7 501.0 505.2 504.7 506.3C508.5 507.4 512.4 509.5 516.1 511.5C519.7 513.5 523.1 515.8 526.6 518.4C530.2 521.0 534.1 523.5 537.3 527.0C540.4 530.5 544.5 535.2 545.5 539.3C546.5 543.4 545.4 548.3 543.1 551.7C540.8 555.1 536.4 557.6 531.5 559.7C526.6 561.8 519.6 563.3 513.7 564.2C507.8 565.0 501.8 565.3 495.9 565.0C489.9 564.7 482.7 564.1 478.1 562.3C473.5 560.6 470.2 557.9 468.2 554.4C466.1 550.8 465.8 546.1 465.6 541.0Z" fill="none" stroke="#ffa500" stroke-width="1.3"/>
<path d="M470.0 541.9C469.9 537.4 470.6 531.1 471.7 526.9C472.8 522.7 474.5 519.2 476.6 516.6C478.7 514.0 481.2 512.4 484.2 511.4C487.2 510.5 491.4 510.6 494.7 510.7C498.1 510.8 501.2 511.2 504.5 512.2C507.8 513.1 511.2 514.8 514.3 516.5C517.5 518.3 520.4 520.2 523.5 522.4C526.6 524.6 530.1 526.8 532.9 529.8C535.7 532.8 539.4 536.8 540.4 540.4C541.3 544.0 540.5 548.4 538.5 551.4C536.5 554.4 532.7 556.7 528.3 558.5C524.0 560.3 517.8 561.7 512.5 562.4C507.2 563.2 501.9 563.5 496.7 563.2C491.4 562.9 485.1 562.4 480.9 560.8C476.8 559.2 473.8 556.9 472.0 553.8C470.2 550.6 470.0 546.4 470.0 541.9Z" fill="none" stroke="#ffa500" stroke-width="1.3"/>
<path d="M473.9 542.8C474.0 538.9 475.0 533.5 476.1 530.0C477.2 526.4 478.6 523.5 480.4 521.3C482.3 519.1 484.4 517.8 487.0 517.0C489.6 516.1 493.1 516.2 496.0 516.3C498.8 516.4 501.5 516.7 504.3 517.6C507.1 518.4 510.0 519.8 512.7 521.2C515.4 522.7 517.9 524.3 520.6 526.2C523.3 528.0 526.3 529.9 528.9 532.4C531.4 535.0 534.8 538.4 535.7 541.5C536.6 544.6 536.0 548.4 534.3 551.1C532.6 553.7 529.2 555.8 525.4 557.4C521.5 559.0 516.0 560.2 511.4 560.9C506.7 561.6 502.1 561.8 497.4 561.5C492.8 561.3 487.2 560.8 483.6 559.4C479.9 558.0 477.2 556.0 475.6 553.2C474.0 550.4 473.9 546.7 473.9 542.8Z" fill="none" stroke="#ffa500" stroke-width="1.3"/>
<path d="M477.6 543.6C477.8 540.2 479.0 535.8 480.0 532.8C481.1 529.8 482.4 527.4 484.0 525.6C485.5 523.8 487.3 522.7 489.5 522.0C491.7 521.4 494.6 521.4 497.1 521.5C499.5 521.6 501.7 521.8 504.1 522.5C506.4 523.2 508.9 524.3 511.2 525.5C513.5 526.7 515.6 528.0 518.0 529.6C520.3 531.1 522.9 532.7 525.1 534.8C527.4 537.0 530.5 539.8 531.3 542.5C532.2 545.2 531.9 548.5 530.4 550.8C529.0 553.1 526.0 554.9 522.6 556.4C519.3 557.8 514.4 558.8 510.4 559.4C506.3 560.0 502.2 560.2 498.1 560.0C494.1 559.7 489.2 559.3 486.0 558.1C482.8 556.9 480.2 555.1 478.8 552.7C477.4 550.3 477.4 546.9 477.6 543.6Z" fill="none" stroke="#ffa500" stroke-width="1.3"/>
<path d="M480.9 544.3C481.2 541.4 482.6 537.8 483.6 535.3C484.7 532.9 485.8 531.0 487.1 529.5C488.5 528.1 490.0 527.2 491.8 526.6C493.6 526.1 496.1 526.1 498.1 526.2C500.1 526.3 501.9 526.5 503.9 527.0C505.9 527.5 507.9 528.5 509.8 529.4C511.8 530.4 513.6 531.4 515.6 532.7C517.6 534.0 519.8 535.2 521.8 537.0C523.7 538.7 526.5 541.1 527.4 543.4C528.3 545.7 528.1 548.6 526.9 550.6C525.7 552.6 523.1 554.2 520.2 555.4C517.3 556.7 513.0 557.6 509.4 558.1C505.9 558.6 502.3 558.8 498.7 558.6C495.2 558.4 491.0 558.0 488.2 556.9C485.4 555.9 483.0 554.4 481.8 552.3C480.6 550.2 480.6 547.1 480.9 544.3Z" fill="none" stroke="#ffa500" stroke-width="1.3"/>
<path d="M483.9 544.9C484.3 542.5 485.9 539.6 486.9 537.6C487.9 535.6 488.8 534.2 490.0 533.0C491.2 531.9 492.4 531.2 493.9 530.8C495.4 530.4 497.4 530.4 499.0 530.4C500.6 530.5 502.1 530.6 503.7 531.1C505.3 531.5 507.0 532.2 508.6 532.9C510.2 533.7 511.7 534.5 513.4 535.5C515.1 536.5 517.0 537.5 518.7 538.9C520.5 540.4 523.0 542.3 523.9 544.2C524.7 546.1 524.7 548.7 523.8 550.4C522.8 552.1 520.5 553.5 518.0 554.6C515.4 555.7 511.7 556.5 508.6 556.9C505.5 557.4 502.4 557.5 499.3 557.3C496.2 557.1 492.7 556.8 490.2 555.9C487.7 555.0 485.5 553.7 484.5 551.9C483.4 550.0 483.5 547.3 483.9 544.9Z" fill="none" stroke="#ffa500" stroke-width="1.3"/>
<path d="M486.6 545.5C487.0 543.5 488.8 541.2 489.8 539.6C490.8 538.1 491.6 537.0 492.6 536.2C493.6 535.3 494.5 534.8 495.7 534.5C496.9 534.1 498.5 534.2 499.8 534.2C501.1 534.2 502.3 534.3 503.6 534.7C504.9 535.0 506.2 535.5 507.5 536.1C508.8 536.6 510.1 537.2 511.5 538.0C512.9 538.8 514.5 539.5 516.0 540.6C517.6 541.8 519.9 543.3 520.7 544.9C521.5 546.5 521.7 548.7 520.9 550.2C520.2 551.7 518.2 552.9 516.0 553.9C513.8 554.8 510.5 555.5 507.9 555.9C505.2 556.3 502.5 556.3 499.8 556.2C497.2 556.0 494.1 555.7 492.0 554.9C489.8 554.1 487.7 553.1 486.8 551.5C485.9 549.9 486.1 547.4 486.6 545.5Z" fill="none" stroke="#ffa500" stroke-width="1.3"/>
<path d="M489.2 546.0C489.8 544.5 491.7 542.8 492.7 541.7C493.7 540.6 494.3 539.9 495.1 539.3C495.9 538.7 496.7 538.4 497.6 538.2C498.5 537.9 499.6 537.9 500.6 538.0C501.6 538.0 502.5 538.0 503.4 538.3C504.4 538.5 505.4 538.8 506.4 539.2C507.4 539.6 508.4 540.0 509.6 540.5C510.7 541.0 512.0 541.5 513.3 542.4C514.7 543.2 516.8 544.4 517.6 545.7C518.4 546.9 518.7 548.8 518.1 550.0C517.5 551.3 515.8 552.3 514.0 553.1C512.2 553.9 509.4 554.5 507.1 554.8C504.8 555.1 502.5 555.2 500.3 555.0C498.1 554.9 495.6 554.6 493.7 554.0C491.9 553.3 490.0 552.4 489.2 551.1C488.5 549.8 488.6 547.6 489.2 546.0Z" fill="none" stroke="#ffa500" stroke-width="1.3"/>
<path d="M491.5 546.5C492.2 545.3 494.2 544.2 495.2 543.5C496.2 542.7 496.7 542.4 497.4 542.1C498.0 541.7 498.5 541.5 499.2 541.4C499.9 541.3 500.6 541.3 501.3 541.3C502.0 541.3 502.6 541.3 503.3 541.4C504.0 541.5 504.7 541.7 505.5 541.9C506.2 542.1 507.0 542.4 507.9 542.7C508.8 543.0 509.8 543.3 511.0 543.9C512.1 544.5 514.0 545.3 514.8 546.3C515.6 547.3 516.1 548.8 515.7 549.8C515.2 550.9 513.8 551.8 512.3 552.5C510.7 553.2 508.4 553.6 506.5 553.9C504.5 554.2 502.6 554.2 500.7 554.1C498.9 553.9 496.8 553.7 495.3 553.1C493.7 552.6 491.9 551.9 491.3 550.8C490.7 549.7 490.9 547.8 491.5 546.5Z" fill="none" stroke="#ffa500" stroke-width="1.3"/>
<path d="M590.0 545.0C591.8 542.3 598.8 537.7 603.0 536.0C607.2 534.3 611.3 534.3 615.0 535.0C618.7 535.7 622.5 537.8 625.0 540.0C627.5 542.2 630.8 545.7 630.0 548.0C629.2 550.3 624.5 552.7 620.0 554.0C615.5 555.3 607.7 556.3 603.0 556.0C598.3 555.7 594.2 553.8 592.0 552.0C589.8 550.2 588.2 547.7 590.0 545.0Z" fill="none" stroke="#ffa500" stroke-width="1.3"/>
<path d="M498.5 419.3C498.5 420.0 498.4 420.7 498.1 421.4C497.9 422.0 497.5 422.7 497.0 423.3C496.5 423.9 495.9 424.5 495.2 425.0C494.5 425.4 493.7 425.9 492.9 426.2C492.1 426.6 491.1 426.8 490.2 427.0C489.3 427.2 488.3 427.3 487.3 427.3C486.3 427.3 485.3 427.2 484.4 427.0C483.5 426.8 482.5 426.6 481.7 426.2C480.9 425.9 480.1 425.4 479.4 425.0C478.7 424.5 478.1 423.9 477.6 423.3C477.1 422.7 476.7 422.0 476.5 421.4C476.2 420.7 476.1 420.0 476.1 419.3C476.1 418.6 476.2 417.9 476.5 417.2C476.7 416.6 477.1 415.9 477.6 415.3C478.1 414.7 478.7 414.1 479.4 413.6C480.1 413.2 480.9 412.7 481.7 412.4C482.5 412.0 483.5 411.8 484.4 411.6C485.3 411.4 486.3 411.3 487.3 411.3C488.3 411.3 489.3 411.4 490.2 411.6C491.1 411.8 492.1 412.0 492.9 412.4C493.7 412.7 494.5 413.2 495.2 413.6C495.9 414.1 496.5 414.7 497.0 415.3C497.5 415.9 497.9 416.6 498.1 417.2C498.4 417.9 498.5 418.6 498.5 419.3Z" fill="none" stroke="#ffa500" stroke-width="1.3"/>
<path d="M430.0 508.0C432.0 496.7 438.0 508.5 442.2 507.2C446.4 505.9 450.0 502.1 455.0 500.0C460.0 497.9 466.4 495.6 472.2 494.7C478.0 493.8 484.2 494.2 490.0 494.5C495.8 494.8 501.4 495.5 507.2 496.2C513.0 496.9 519.1 497.5 525.0 498.5C530.9 499.5 536.9 499.9 542.3 502.2C547.7 504.5 554.0 508.0 557.3 512.2C560.6 516.4 562.3 523.0 562.3 527.2C562.3 531.4 560.6 533.5 557.3 537.3C554.0 541.1 549.0 545.6 542.3 549.8C535.6 554.0 525.6 559.0 517.3 562.3C508.9 565.6 500.5 567.7 492.2 569.8C483.9 571.9 475.5 573.9 467.2 574.8C458.9 575.7 448.4 575.0 442.2 575.0C436.0 575.0 432.0 586.2 430.0 575.0C428.0 563.8 428.0 519.3 430.0 508.0Z" fill="none" stroke="#6a5acd" stroke-width="1.3"/>
<path d="M430.0 523.0C432.0 516.0 436.0 523.3 442.2 522.2C448.4 521.1 458.9 517.5 467.2 516.2C475.5 515.0 485.5 514.1 492.2 514.7C498.9 515.3 503.4 516.8 507.2 519.7C511.0 522.6 513.9 527.7 514.8 532.3C515.6 536.9 515.2 542.7 512.3 547.3C509.4 551.9 503.9 556.5 497.2 559.8C490.5 563.1 481.4 566.5 472.2 567.3C463.0 568.1 449.2 565.3 442.2 564.8C435.2 564.2 432.0 571.0 430.0 564.0C428.0 557.0 428.0 530.0 430.0 523.0Z" fill="none" stroke="#6a5acd" stroke-width="1.3"/>
<path d="M497.2 547.3C497.2 548.3 497.0 549.4 496.5 550.4C496.1 551.4 495.4 552.4 494.5 553.3C493.7 554.2 492.6 555.1 491.3 555.8C490.1 556.5 488.7 557.2 487.2 557.7C485.7 558.2 484.0 558.6 482.4 558.9C480.7 559.2 478.9 559.3 477.2 559.3C475.5 559.3 473.7 559.2 472.0 558.9C470.4 558.6 468.7 558.2 467.2 557.7C465.7 557.2 464.3 556.5 463.1 555.8C461.8 555.1 460.7 554.2 459.9 553.3C459.0 552.4 458.3 551.4 457.9 550.4C457.4 549.4 457.2 548.3 457.2 547.3C457.2 546.3 457.4 545.2 457.9 544.2C458.3 543.2 459.0 542.2 459.9 541.3C460.7 540.4 461.8 539.5 463.1 538.8C464.3 538.1 465.7 537.4 467.2 536.9C468.7 536.4 470.4 536.0 472.0 535.7C473.7 535.4 475.5 535.3 477.2 535.3C478.9 535.3 480.7 535.4 482.4 535.7C484.0 536.0 485.7 536.4 487.2 536.9C488.7 537.4 490.1 538.1 491.3 538.8C492.6 539.5 493.7 540.4 494.5 541.3C495.4 542.2 496.1 543.2 496.5 544.2C497.0 545.2 497.2 546.3 497.2 547.3Z" fill="none" stroke="#6a5acd" stroke-width="1.3"/>
<path d="M472.2 527.6C474.9 524.2 480.5 520.3 486.8 518.8C493.1 517.3 502.9 519.5 510.2 518.8C517.5 518.1 523.3 514.5 530.6 514.5C537.9 514.5 547.2 517.1 554.0 518.8C560.8 520.5 567.6 522.3 571.5 524.7C575.4 527.1 577.3 529.5 577.3 533.4C577.3 537.3 574.4 543.1 571.5 548.0C568.6 552.9 565.1 559.0 559.8 562.6C554.4 566.2 546.7 568.9 539.4 569.9C532.1 570.9 524.3 569.7 516.0 568.5C507.7 567.3 497.0 565.5 489.7 562.6C482.4 559.7 475.4 554.9 472.2 551.0C469.0 547.1 470.7 543.2 470.7 539.3C470.7 535.4 469.5 531.0 472.2 527.6Z" fill="none" stroke="#4682b4" stroke-width="1.3"/>
<path d="M510.2 520.3C513.1 522.2 511.2 528.8 513.1 533.4C515.0 538.0 521.3 544.1 521.8 548.0C522.3 551.9 519.4 554.8 516.0 556.8C512.6 558.8 506.8 560.2 501.4 559.7C496.0 559.2 488.3 556.8 483.9 553.9C479.5 551.0 475.6 546.6 475.1 542.2C474.6 537.8 477.6 531.0 481.0 527.6C484.4 524.2 490.7 523.0 495.6 521.8C500.5 520.6 507.3 518.4 510.2 520.3Z" fill="none" stroke="#4682b4" stroke-width="1.3"/>
<path d="M534.1 545.7C534.1 546.1 533.9 546.6 533.6 546.9C533.3 547.2 532.9 547.6 532.4 547.8C531.8 548.0 531.2 548.1 530.6 548.1C530.0 548.1 529.4 548.0 528.9 547.8C528.3 547.6 527.9 547.2 527.6 546.9C527.3 546.6 527.1 546.1 527.1 545.7C527.1 545.3 527.3 544.8 527.6 544.5C527.9 544.2 528.3 543.8 528.9 543.6C529.4 543.4 530.0 543.3 530.6 543.3C531.2 543.3 531.8 543.4 532.4 543.6C532.9 543.8 533.3 544.2 533.6 544.5C533.9 544.8 534.1 545.3 534.1 545.7Z" fill="none" stroke="#4682b4" stroke-width="1.3"/>
</g>
<line x1="443.6" y1="383.4" x2="443.6" y2="593.2" stroke="#333" stroke-width="0.9"/>
<line x1="443.6" y1="593.2" x2="643.7" y2="593.2" stroke="#333" stroke-width="0.9"/>
<line x1="443.6" y1="593.2" x2="443.6" y2="595.7" stroke="#333" stroke-width="0.7"/>
<text transform="translate(443.60,607.90)" x="-8.51" y="0" font-size="10.7" textLength="17.01" lengthAdjust="spacingAndGlyphs" fill="#000" >0.0</text>
<line x1="493.6" y1="593.2" x2="493.6" y2="595.7" stroke="#333" stroke-width="0.7"/>
<text transform="translate(493.60,607.90)" x="-8.51" y="0" font-size="10.7" textLength="17.01" lengthAdjust="spacingAndGlyphs" fill="#000" >0.5</text>
<line x1="543.6" y1="593.2" x2="543.6" y2="595.7" stroke="#333" stroke-width="0.7"/>
<text transform="translate(543.60,607.90)" x="-8.51" y="0" font-size="10.7" textLength="17.01" lengthAdjust="spacingAndGlyphs" fill="#000" >1.0</text>
<line x1="593.6" y1="593.2" x2="593.6" y2="595.7" stroke="#333" stroke-width="0.7"/>
<text transform="translate(593.60,607.90)" x="-8.51" y="0" font-size="10.7" textLength="17.01" lengthAdjust="spacingAndGlyphs" fill="#000" >1.5</text>
<line x1="643.6" y1="593.2" x2="643.6" y2="595.7" stroke="#333" stroke-width="0.7"/>
<text transform="translate(643.60,607.90)" x="-8.51" y="0" font-size="10.7" textLength="17.01" lengthAdjust="spacingAndGlyphs" fill="#000" >2.0</text>
<line x1="441.1" y1="593.2" x2="443.6" y2="593.2" stroke="#333" stroke-width="0.7"/>
<text transform="translate(440.00,597.80)" x="-6.81" y="0" font-size="10.7" textLength="6.81" lengthAdjust="spacingAndGlyphs" fill="#000" >4</text>
<line x1="441.1" y1="555.1" x2="443.6" y2="555.1" stroke="#333" stroke-width="0.7"/>
<text transform="translate(440.00,559.74)" x="-6.81" y="0" font-size="10.7" textLength="6.81" lengthAdjust="spacingAndGlyphs" fill="#000" >5</text>
<line x1="441.1" y1="517.1" x2="443.6" y2="517.1" stroke="#333" stroke-width="0.7"/>
<text transform="translate(440.00,521.68)" x="-6.81" y="0" font-size="10.7" textLength="6.81" lengthAdjust="spacingAndGlyphs" fill="#000" >6</text>
<line x1="441.1" y1="479.0" x2="443.6" y2="479.0" stroke="#333" stroke-width="0.7"/>
<text transform="translate(440.00,483.62)" x="-6.81" y="0" font-size="10.7" textLength="6.81" lengthAdjust="spacingAndGlyphs" fill="#000" >7</text>
<line x1="441.1" y1="441.0" x2="443.6" y2="441.0" stroke="#333" stroke-width="0.7"/>
<text transform="translate(440.00,445.56)" x="-6.81" y="0" font-size="10.7" textLength="6.81" lengthAdjust="spacingAndGlyphs" fill="#000" >8</text>
<line x1="441.1" y1="402.9" x2="443.6" y2="402.9" stroke="#333" stroke-width="0.7"/>
<text transform="translate(440.00,407.50)" x="-6.81" y="0" font-size="10.7" textLength="6.81" lengthAdjust="spacingAndGlyphs" fill="#000" >9</text>
<text transform="translate(543.05,620.90)" x="-47.30" y="0" font-size="10.6" textLength="94.60" lengthAdjust="spacingAndGlyphs" fill="#000" >Apparent friction</text>
<text transform="translate(428.6,497.79999999999995) rotate(-90)" font-size="10.8" font-style="italic">M<tspan font-size="7.6" dy="2.2">W</tspan></text>
<line x1="443.6" y1="376.79999999999995" x2="643.7" y2="376.79999999999995" stroke="#555" stroke-width="0.9"/>
<line x1="443.6" y1="376.79999999999995" x2="443.6" y2="378.79999999999995" stroke="#555" stroke-width="0.7"/>
<line x1="493.6" y1="376.79999999999995" x2="493.6" y2="378.79999999999995" stroke="#555" stroke-width="0.7"/>
<line x1="543.6" y1="376.79999999999995" x2="543.6" y2="378.79999999999995" stroke="#555" stroke-width="0.7"/>
<line x1="593.6" y1="376.79999999999995" x2="593.6" y2="378.79999999999995" stroke="#555" stroke-width="0.7"/>
<line x1="643.6" y1="376.79999999999995" x2="643.6" y2="378.79999999999995" stroke="#555" stroke-width="0.7"/>
<line x1="650.6" y1="384.5" x2="650.6" y2="593.2" stroke="#555" stroke-width="0.9"/>
<line x1="648.6" y1="593.2" x2="650.6" y2="593.2" stroke="#555" stroke-width="0.7"/>
<line x1="648.6" y1="555.1" x2="650.6" y2="555.1" stroke="#555" stroke-width="0.7"/>
<line x1="648.6" y1="517.1" x2="650.6" y2="517.1" stroke="#555" stroke-width="0.7"/>
<line x1="648.6" y1="479.0" x2="650.6" y2="479.0" stroke="#555" stroke-width="0.7"/>
<line x1="648.6" y1="441.0" x2="650.6" y2="441.0" stroke="#555" stroke-width="0.7"/>
<line x1="648.6" y1="402.9" x2="650.6" y2="402.9" stroke="#555" stroke-width="0.7"/>
<path d="M443.0 371.7C445.1 370.8 450.7 367.9 455.3 366.5C459.9 365.1 465.6 363.7 470.7 363.4C475.8 363.1 480.9 364.0 486.0 364.9C491.1 365.8 496.2 367.6 501.3 368.9C506.4 370.2 511.5 371.6 516.6 372.6C521.7 373.6 524.3 374.1 532.0 374.7C539.7 375.3 544.1 375.9 562.6 376.2C581.1 376.5 629.6 376.3 643.0 376.3" fill="none" stroke="#6a5acd" stroke-width="1.3"/>
<path d="M443.0 376.2C445.6 375.9 452.8 375.6 458.4 374.1C464.0 372.6 471.2 369.1 476.8 367.1C482.4 365.1 487.8 363.2 492.1 361.9C496.4 360.6 499.7 359.1 502.8 359.1C505.9 359.1 507.7 360.2 510.5 361.9C513.3 363.6 516.1 367.7 519.7 369.5C523.3 371.3 527.4 372.0 532.0 372.6C536.6 373.2 542.2 372.8 547.3 373.2C552.4 373.6 557.5 374.5 562.6 375.0C567.7 375.5 564.6 376.0 578.0 376.2C591.4 376.4 632.2 376.3 643.0 376.3" fill="none" stroke="#ffa500" stroke-width="1.3"/>
<path d="M443.0 376.2C446.6 375.9 457.3 375.1 464.5 374.1C471.7 373.1 478.9 371.2 486.0 370.1C493.1 369.0 500.8 368.1 507.4 367.4C514.0 366.7 521.2 366.2 525.8 365.8C530.4 365.4 531.4 364.7 535.0 364.9C538.6 365.1 542.7 366.1 547.3 367.1C551.9 368.1 557.5 369.9 562.6 371.1C567.7 372.3 571.9 373.3 578.0 374.1C584.1 374.9 591.7 375.4 599.4 375.7C607.1 376.0 616.7 376.1 624.0 376.2C631.3 376.3 639.8 376.3 643.0 376.3" fill="none" stroke="#4682b4" stroke-width="1.3"/>
<path d="M668.6 386.3C669.8 388.1 673.8 393.3 675.7 397.2C677.7 401.1 680.0 405.5 680.3 409.6C680.5 413.7 679.0 418.1 677.2 422.0C675.4 425.9 672.1 429.3 669.5 432.9C666.9 436.5 664.0 439.9 661.7 443.8C659.4 447.7 657.0 452.1 655.5 456.2C654.0 460.3 653.1 463.4 652.4 468.6C651.7 473.8 651.5 481.1 651.2 487.3C651.0 493.5 651.0 488.3 650.9 505.9C650.8 523.5 650.9 578.4 650.9 592.9" fill="none" stroke="#ffa500" stroke-width="1.3"/>
<path d="M663.3 425.1C665.1 426.9 671.0 431.9 674.1 436.0C677.2 440.1 681.1 445.6 681.9 450.0C682.7 454.4 680.6 458.8 678.8 462.4C677.0 466.0 673.9 468.6 671.0 471.7C668.1 474.8 664.3 477.5 661.7 481.1C659.1 484.7 657.0 488.9 655.5 493.5C654.0 498.1 653.1 502.8 652.4 509.0C651.7 515.2 651.5 516.8 651.2 530.8C651.0 544.8 651.0 582.5 650.9 592.9" fill="none" stroke="#6a5acd" stroke-width="1.3"/>
<path d="M662.3 444.4C663.0 446.4 665.2 450.6 666.4 456.2C667.6 461.8 669.2 471.7 669.5 477.9C669.8 484.1 668.9 487.8 667.9 493.5C666.9 499.2 664.8 505.4 663.3 512.1C661.8 518.8 660.1 526.1 658.6 533.9C657.1 541.7 655.1 551.5 654.0 558.7C652.9 566.0 652.3 571.7 651.8 577.4C651.3 583.1 651.0 590.3 650.9 592.9" fill="none" stroke="#4682b4" stroke-width="1.3"/>
<rect x="15.30" y="635.2" width="26.85" height="11.299999999999955" fill="#a9a9a9"/>
<rect x="41.85" y="635.2" width="26.85" height="11.299999999999955" fill="#fce9e3"/>
<rect x="68.40" y="635.2" width="26.85" height="11.299999999999955" fill="#e2c5aa"/>
<rect x="94.95" y="635.2" width="26.85" height="11.299999999999955" fill="#b0ab94"/>
<rect x="121.50" y="635.2" width="26.85" height="11.299999999999955" fill="#8c9f97"/>
<rect x="148.05" y="635.2" width="26.85" height="11.299999999999955" fill="#6494a8"/>
<rect x="174.60" y="635.2" width="26.85" height="11.299999999999955" fill="#4779a4"/>
<rect x="201.15" y="635.2" width="26.85" height="11.299999999999955" fill="#2f5c98"/>
<rect x="15.3" y="635.2" width="212.40" height="11.299999999999955" fill="none" stroke="#555" stroke-width="0.8"/>
<line x1="15.30" y1="646.5" x2="15.30" y2="649.0" stroke="#333" stroke-width="0.7"/>
<text transform="translate(15.30,657.90)" x="-10.76" y="0" font-size="10.2" textLength="21.52" lengthAdjust="spacingAndGlyphs" fill="#000" >−10</text>
<line x1="41.85" y1="646.5" x2="41.85" y2="649.0" stroke="#333" stroke-width="0.7"/>
<text transform="translate(41.85,657.90)" x="-3.24" y="0" font-size="10.2" textLength="6.49" lengthAdjust="spacingAndGlyphs" fill="#000" >0</text>
<line x1="68.40" y1="646.5" x2="68.40" y2="649.0" stroke="#333" stroke-width="0.7"/>
<text transform="translate(68.40,657.90)" x="-6.49" y="0" font-size="10.2" textLength="12.97" lengthAdjust="spacingAndGlyphs" fill="#000" >20</text>
<line x1="94.95" y1="646.5" x2="94.95" y2="649.0" stroke="#333" stroke-width="0.7"/>
<text transform="translate(94.95,657.90)" x="-6.49" y="0" font-size="10.2" textLength="12.97" lengthAdjust="spacingAndGlyphs" fill="#000" >40</text>
<line x1="121.50" y1="646.5" x2="121.50" y2="649.0" stroke="#333" stroke-width="0.7"/>
<text transform="translate(121.50,657.90)" x="-6.49" y="0" font-size="10.2" textLength="12.97" lengthAdjust="spacingAndGlyphs" fill="#000" >60</text>
<line x1="148.05" y1="646.5" x2="148.05" y2="649.0" stroke="#333" stroke-width="0.7"/>
<text transform="translate(148.05,657.90)" x="-6.49" y="0" font-size="10.2" textLength="12.97" lengthAdjust="spacingAndGlyphs" fill="#000" >90</text>
<line x1="174.60" y1="646.5" x2="174.60" y2="649.0" stroke="#333" stroke-width="0.7"/>
<text transform="translate(174.60,657.90)" x="-9.73" y="0" font-size="10.2" textLength="19.46" lengthAdjust="spacingAndGlyphs" fill="#000" >120</text>
<line x1="201.15" y1="646.5" x2="201.15" y2="649.0" stroke="#333" stroke-width="0.7"/>
<text transform="translate(201.15,657.90)" x="-9.73" y="0" font-size="10.2" textLength="19.46" lengthAdjust="spacingAndGlyphs" fill="#000" >150</text>
<line x1="227.70" y1="646.5" x2="227.70" y2="649.0" stroke="#333" stroke-width="0.7"/>
<text transform="translate(227.70,657.90)" x="-9.73" y="0" font-size="10.2" textLength="19.46" lengthAdjust="spacingAndGlyphs" fill="#000" >180</text>
<text transform="translate(121.50,671.30)" x="-54.80" y="0" font-size="10.4" textLength="109.60" lengthAdjust="spacingAndGlyphs" fill="#000" >Normal Stress (MPa)</text>
<rect x="12.60" y="684.4" width="27.33" height="10.600000000000023" fill="#dddddd"/>
<rect x="39.62" y="684.4" width="27.33" height="10.600000000000023" fill="#c6c1ae"/>
<rect x="66.65" y="684.4" width="27.33" height="10.600000000000023" fill="#b9ab85"/>
<rect x="93.67" y="684.4" width="27.33" height="10.600000000000023" fill="#ad8f69"/>
<rect x="120.70" y="684.4" width="27.33" height="10.600000000000023" fill="#a87a62"/>
<rect x="147.72" y="684.4" width="27.33" height="10.600000000000023" fill="#9e5b50"/>
<rect x="174.75" y="684.4" width="27.33" height="10.600000000000023" fill="#8a3f41"/>
<rect x="201.78" y="684.4" width="27.33" height="10.600000000000023" fill="#6d1e1f"/>
<rect x="12.6" y="684.4" width="216.20" height="10.60" fill="none" stroke="#555" stroke-width="0.8"/>
<line x1="12.60" y1="695.0" x2="12.60" y2="697.5" stroke="#333" stroke-width="0.7"/>
<text transform="translate(12.60,707.90)" x="-8.11" y="0" font-size="10.2" textLength="16.22" lengthAdjust="spacingAndGlyphs" fill="#000" >0.0</text>
<line x1="39.62" y1="695.0" x2="39.62" y2="697.5" stroke="#333" stroke-width="0.7"/>
<text transform="translate(39.62,707.90)" x="-8.11" y="0" font-size="10.2" textLength="16.22" lengthAdjust="spacingAndGlyphs" fill="#000" >0.1</text>
<line x1="66.65" y1="695.0" x2="66.65" y2="697.5" stroke="#333" stroke-width="0.7"/>
<text transform="translate(66.65,707.90)" x="-8.11" y="0" font-size="10.2" textLength="16.22" lengthAdjust="spacingAndGlyphs" fill="#000" >0.2</text>
<line x1="93.67" y1="695.0" x2="93.67" y2="697.5" stroke="#333" stroke-width="0.7"/>
<text transform="translate(93.67,707.90)" x="-8.11" y="0" font-size="10.2" textLength="16.22" lengthAdjust="spacingAndGlyphs" fill="#000" >0.3</text>
<line x1="120.70" y1="695.0" x2="120.70" y2="697.5" stroke="#333" stroke-width="0.7"/>
<text transform="translate(120.70,707.90)" x="-8.11" y="0" font-size="10.2" textLength="16.22" lengthAdjust="spacingAndGlyphs" fill="#000" >0.4</text>
<line x1="147.72" y1="695.0" x2="147.72" y2="697.5" stroke="#333" stroke-width="0.7"/>
<text transform="translate(147.72,707.90)" x="-8.11" y="0" font-size="10.2" textLength="16.22" lengthAdjust="spacingAndGlyphs" fill="#000" >0.5</text>
<line x1="174.75" y1="695.0" x2="174.75" y2="697.5" stroke="#333" stroke-width="0.7"/>
<text transform="translate(174.75,707.90)" x="-8.11" y="0" font-size="10.2" textLength="16.22" lengthAdjust="spacingAndGlyphs" fill="#000" >0.6</text>
<line x1="201.78" y1="695.0" x2="201.78" y2="697.5" stroke="#333" stroke-width="0.7"/>
<text transform="translate(201.78,707.90)" x="-8.11" y="0" font-size="10.2" textLength="16.22" lengthAdjust="spacingAndGlyphs" fill="#000" >0.7</text>
<line x1="228.80" y1="695.0" x2="228.80" y2="697.5" stroke="#333" stroke-width="0.7"/>
<text transform="translate(228.80,707.90)" x="-8.11" y="0" font-size="10.2" textLength="16.22" lengthAdjust="spacingAndGlyphs" fill="#000" >0.8</text>
<text transform="translate(120.70,721.10)" x="-46.25" y="0" font-size="10.4" textLength="92.50" lengthAdjust="spacingAndGlyphs" fill="#000" >Apparent friction</text>
<rect x="286.7" y="637.2" width="100.7" height="61.3" rx="2" fill="#fff" stroke="#d8d8d8" stroke-width="0.8"/>
<circle cx="300.1" cy="645.9" r="7.9" fill="#ffff00" stroke="#333" stroke-width="0.6"/>
<circle cx="300.1" cy="660.8" r="5.6" fill="#ffff00" stroke="#333" stroke-width="0.6"/>
<circle cx="300.1" cy="675.3" r="3.9" fill="#ffff00" stroke="#333" stroke-width="0.6"/>
<circle cx="300.1" cy="690.2" r="1.65" fill="#eee63c" stroke="#4a4a30" stroke-opacity="0.75" stroke-width="0.6"/>
<text x="311.5" y="648.0" font-size="9.6" textLength="45.5" lengthAdjust="spacingAndGlyphs"><tspan font-style="italic">M</tspan><tspan font-style="italic" font-size="7" dy="2">W</tspan><tspan dy="-2"> ≥ 9.0</tspan></text>
<text x="311.5" y="663.0" font-size="9.6" textLength="71.9" lengthAdjust="spacingAndGlyphs">8.0 ≤ <tspan font-style="italic">M</tspan><tspan font-style="italic" font-size="7" dy="2">W</tspan><tspan dy="-2"> &lt; 9.0</tspan></text>
<text x="311.5" y="677.5" font-size="9.6" textLength="71.9" lengthAdjust="spacingAndGlyphs">7.0 ≤ <tspan font-style="italic">M</tspan><tspan font-style="italic" font-size="7" dy="2">W</tspan><tspan dy="-2"> &lt; 8.0</tspan></text>
<text x="311.5" y="692.5" font-size="9.6" textLength="71.9" lengthAdjust="spacingAndGlyphs">6.0 ≤ <tspan font-style="italic">M</tspan><tspan font-style="italic" font-size="7" dy="2">W</tspan><tspan dy="-2"> &lt; 7.0</tspan></text>
<rect x="498" y="637.5" width="82.2" height="55.7" rx="2.5" fill="#fff" stroke="#cfcfcf" stroke-width="0.8"/>
<line x1="503.1" y1="646.4" x2="517.7" y2="646.4" stroke="#4682b4" stroke-width="1.9"/>
<text transform="translate(522.00,649.80)" x="0.00" y="0" font-size="11.2" textLength="52.60" lengthAdjust="spacingAndGlyphs" fill="#000" >Andaman</text>
<line x1="503.1" y1="664.8" x2="517.7" y2="664.8" stroke="#ffa500" stroke-width="1.9"/>
<text transform="translate(522.00,668.20)" x="0.00" y="0" font-size="11.2" textLength="47.50" lengthAdjust="spacingAndGlyphs" fill="#000" >Sumatra</text>
<line x1="503.1" y1="682.7" x2="517.7" y2="682.7" stroke="#6a5acd" stroke-width="1.9"/>
<text transform="translate(522.00,686.10)" x="0.00" y="0" font-size="11.2" textLength="24.00" lengthAdjust="spacingAndGlyphs" fill="#000" >Java</text>
<rect x="13.6" y="6.6" width="8.6" height="11.799999999999999" rx="1.5" fill="#fff" stroke="#e2e2e2" stroke-width="0.8"/><text transform="translate(17.90,15.20)" x="-3.22" y="0" font-size="10.5" textLength="6.44" lengthAdjust="spacingAndGlyphs" fill="#000" >a</text>
<rect x="13.6" y="326.0" width="8.9" height="12.100000000000023" rx="1.5" fill="#fff" stroke="#e2e2e2" stroke-width="0.8"/><text transform="translate(18.05,334.90)" x="-3.33" y="0" font-size="10.5" textLength="6.67" lengthAdjust="spacingAndGlyphs" fill="#000" >d</text>
<rect x="236.4" y="2.3" width="10.199999999999989" height="12.899999999999999" rx="1.5" fill="#fff" stroke="#e2e2e2" stroke-width="0.8"/><text transform="translate(241.50,12.00)" x="-3.33" y="0" font-size="10.5" textLength="6.67" lengthAdjust="spacingAndGlyphs" fill="#000" >b</text>
<rect x="236.4" y="322.2" width="10.199999999999989" height="13.800000000000011" rx="1.5" fill="#fff" stroke="#e2e2e2" stroke-width="0.8"/><text transform="translate(241.50,332.80)" x="-3.23" y="0" font-size="10.5" textLength="6.46" lengthAdjust="spacingAndGlyphs" fill="#000" >e</text>
<rect x="427.6" y="55.8" width="10.599999999999966" height="15.299999999999997" rx="1.5" fill="#fff" stroke="#e2e2e2" stroke-width="0.8"/><text transform="translate(432.90,67.90)" x="-2.89" y="0" font-size="10.5" textLength="5.78" lengthAdjust="spacingAndGlyphs" fill="#000" >c</text>
<rect x="425.5" y="376.2" width="8.800000000000011" height="15.300000000000011" rx="1.5" fill="#fff" stroke="#e2e2e2" stroke-width="0.8"/><text transform="translate(429.90,388.30)" x="-1.85" y="0" font-size="10.5" textLength="3.70" lengthAdjust="spacingAndGlyphs" fill="#000" >f</text>
</svg></body></html>
